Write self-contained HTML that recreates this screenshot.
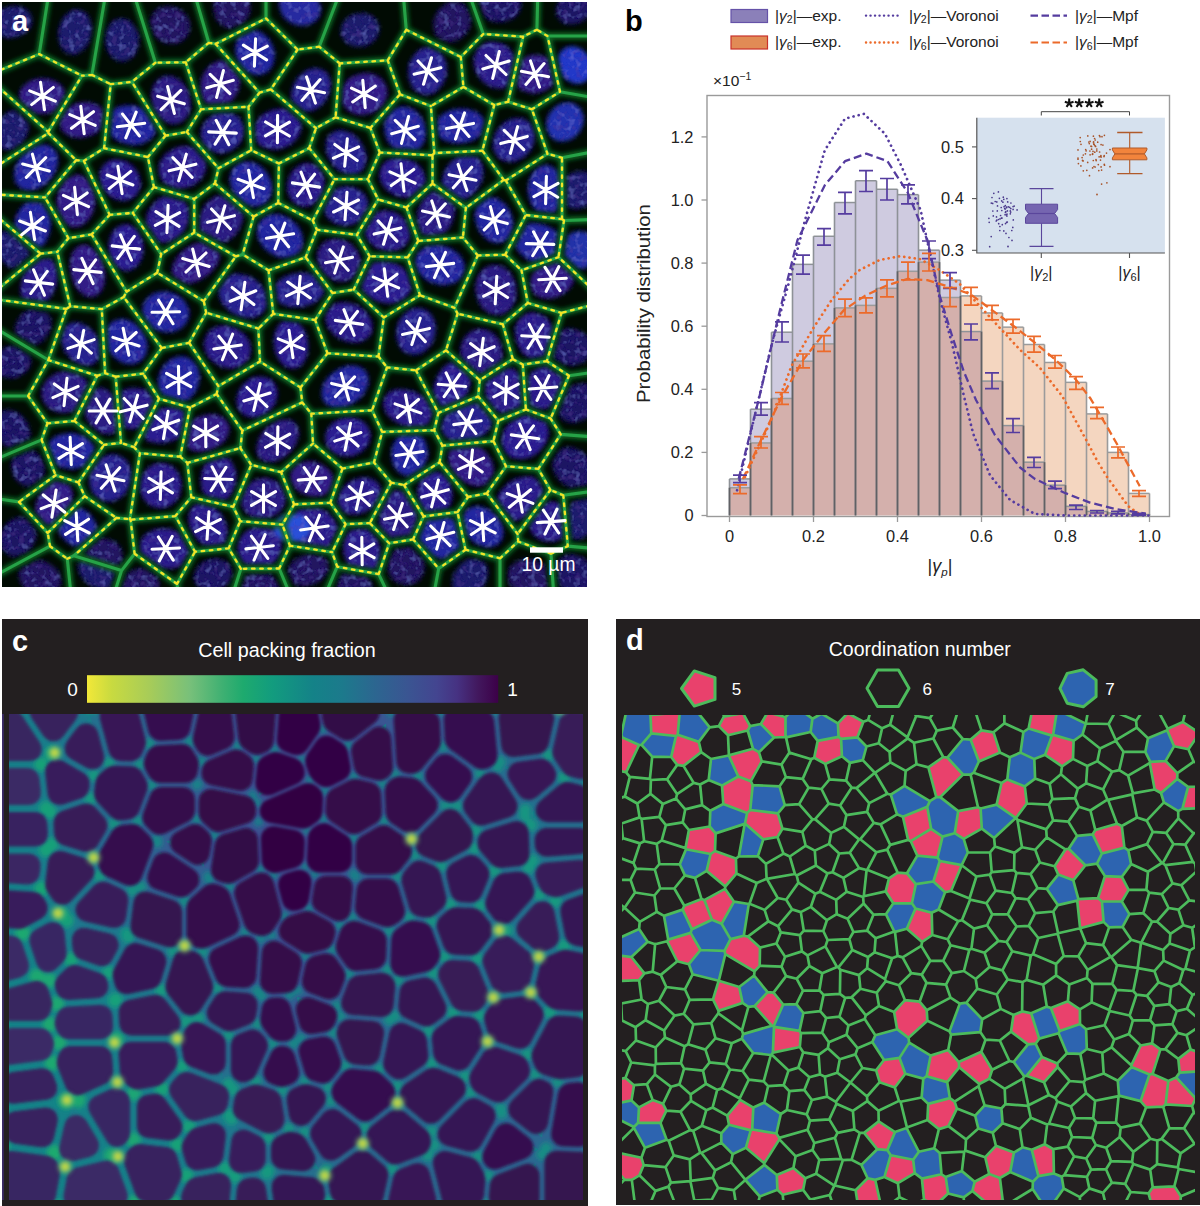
<!DOCTYPE html>
<html><head><meta charset="utf-8"><title>Figure</title>
<style>
html,body{margin:0;padding:0;background:#fff;}
body{width:1200px;height:1206px;position:relative;overflow:hidden;font-family:"Liberation Sans",sans-serif;}
svg{position:absolute;left:0;top:0;display:block;}
</style></head><body>
<svg width="1200" height="1206" viewBox="0 0 1200 1206">
<rect width="1200" height="1206" fill="#fff"/>
<clipPath id="clipA"><rect x="2" y="2" width="585" height="585"/></clipPath>
<filter id="blurN" x="0" y="0" width="100%" height="100%" filterUnits="userSpaceOnUse"><feGaussianBlur in="SourceGraphic" stdDeviation="2.2" result="b"/><feTurbulence type="fractalNoise" baseFrequency="0.16" numOctaves="2" seed="4" result="n"/><feColorMatrix in="n" type="matrix" values="0 0 0 0 0.17  0 0 0 0 0.2  0 0 0 0 0.72  1.2 0 0 0 -0.62" result="nc"/><feComposite in="nc" in2="b" operator="in" result="nb"/><feColorMatrix in="n" type="matrix" values="0 0 0 0 0.08  0 0 0 0 0.04  0 0 0 0 0.3  0 1.2 0 0 -0.6" result="nd"/><feComposite in="nd" in2="b" operator="in" result="ndb"/><feMerge><feMergeNode in="b"/><feMergeNode in="nb"/><feMergeNode in="ndb"/></feMerge></filter>
<filter id="blurG" x="-5%" y="-5%" width="110%" height="110%"><feGaussianBlur stdDeviation="2"/></filter>
<filter id="blurG2" x="-5%" y="-5%" width="110%" height="110%"><feGaussianBlur stdDeviation="0.7"/></filter>
<filter id="blurY" x="-5%" y="-5%" width="110%" height="110%"><feGaussianBlur stdDeviation="0.45"/></filter>
<g clip-path="url(#clipA)">
<rect x="2" y="2" width="585" height="585" fill="#010b03"/>
<g filter="url(#blurN)"><path d="M239.8,36.8 238.0,38.3 236.6,41.2 235.1,49.5 236.5,57.8 240.2,65.0 245.6,70.7 249.2,73.0 253.0,74.5 257.0,75.1 260.8,74.8 264.5,73.6 267.7,71.7 271.3,67.8 273.2,64.3 274.9,56.0 273.5,47.2 269.1,38.9 262.6,33.0 258.9,31.2 254.8,30.1 252.5,30.4Z" fill="#2426a0"/><path d="M205.9,103.1 209.1,104.5 228.8,103.3 230.7,102.1 233.8,98.7 237.5,92.3 239.8,83.6 239.4,77.0 226.1,61.8 224.2,60.5 222.3,60.1 218.6,60.7 212.4,63.5 206.2,69.3 202.5,75.7 200.5,82.5 200.4,91.2 202.4,98.0Z" fill="#301c86"/><path d="M19.6,99.5 21.2,102.1 32.9,112.3 40.3,113.9 47.1,113.6 53.4,111.8 56.4,110.0 65.0,95.8 65.5,93.0 64.0,89.0 61.8,85.9 55.3,81.0 46.9,78.4 37.9,78.4 29.6,81.1 23.3,86.0 21.1,89.1 19.7,92.5 19.2,96.0Z" fill="#301c86"/><path d="M157.4,114.8 160.3,118.2 165.2,121.8 169.5,123.6 174.8,124.2 178.5,123.5 182.5,121.6 186.4,117.9 188.6,114.3 190.0,110.2 190.8,105.4 190.4,98.7 189.3,94.1 187.3,89.3 183.6,83.8 180.0,80.4 176.4,78.0 170.5,76.0 167.2,75.8 163.5,76.5 157.9,79.6 153.4,85.7 151.5,92.4 151.6,101.3 153.7,108.5Z" fill="#2c1a82"/><path d="M60.3,119.6 59.6,122.4 60.6,127.3 63.1,131.4 65.9,133.9 69.4,135.9 73.7,137.3 79.7,137.9 84.5,137.5 93.0,134.8 96.8,132.5 101.0,128.7 102.0,126.2 103.3,111.3 102.6,109.5 100.6,107.3 95.2,104.0 87.5,102.1 80.5,102.5 74.0,104.3 67.5,108.0Z" fill="#301c86"/><path d="M110.1,132.2 110.5,134.6 111.5,136.2 118.0,141.0 126.9,144.2 134.7,144.9 141.8,143.9 149.4,140.2 154.1,135.3 156.1,129.7 155.3,127.3 143.7,109.0 137.2,106.3 127.3,105.1 118.4,106.7 114.4,108.6 113.0,110.0 112.2,112.2Z" fill="#2426a0"/><path d="M218.4,112.7 211.7,115.5 205.4,121.3 201.7,128.4 200.9,132.4 201.0,136.5 202.9,143.0 208.7,149.5 214.9,152.5 223.2,153.1 229.0,151.6 232.9,149.7 239.3,144.0 243.3,136.6 244.1,132.6 244.0,128.5 243.2,124.6 241.5,121.0 239.1,117.9 235.6,115.0 228.9,112.3Z" fill="#26208e"/><path d="M287.7,110.0 285.6,108.9 281.4,108.5 272.5,109.7 264.1,113.8 258.7,118.8 255.5,124.0 254.8,126.9 255.7,139.4 257.0,141.7 259.7,144.7 264.6,147.6 268.7,149.0 273.2,149.5 278.3,149.2 284.7,147.5 288.9,145.4 293.1,142.5 296.3,139.2 298.8,135.5 300.5,131.6 301.2,127.5 300.8,122.3 299.3,120.0Z" fill="#2a1e90"/><path d="M23.6,153.7 18.8,159.4 14.9,167.8 13.9,174.9 15.4,182.3 18.7,186.8 24.2,189.9 31.7,190.4 38.2,188.6 46.7,183.2 51.6,178.0 54.5,173.5 56.5,169.1 58.0,162.8 58.0,158.0 56.6,152.7 54.1,149.0 51.2,146.6 46.5,144.8 42.4,144.4 36.2,145.6Z" fill="#2426a0"/><path d="M175.7,188.4 183.6,188.5 192.5,185.7 199.7,180.4 202.5,176.9 204.6,173.1 206.2,166.9 205.7,161.4 195.2,149.0 193.2,147.6 188.7,146.5 184.2,146.3 179.5,146.8 174.6,148.3 166.7,153.3 163.5,156.6 160.4,161.9 159.0,166.6 158.8,170.8 159.4,174.8 161.0,178.6 163.4,181.9 166.6,184.7 170.1,186.7Z" fill="#2a1c8a"/><path d="M136.4,194.9 138.5,191.8 139.9,188.2 140.5,184.3 140.3,180.2 137.7,172.3 132.4,165.6 125.2,161.0 117.2,159.3 113.3,159.6 109.7,160.7 104.5,164.1 102.2,167.1 100.5,170.5 99.6,174.2 99.5,178.2 100.6,183.8 102.3,187.7 107.6,194.4 114.8,199.0 122.8,200.7 126.7,200.4 130.3,199.3 133.6,197.4Z" fill="#2a1e90"/><path d="M245.0,203.8 249.5,205.8 254.1,206.6 258.2,206.4 263.2,204.8 266.4,202.6 269.3,199.1 271.5,194.1 272.2,189.9 272.0,185.5 270.9,180.7 268.2,174.7 265.5,170.9 261.9,167.3 258.2,164.6 254.1,162.7 248.4,161.4 241.8,162.0 235.6,165.4 231.7,170.6 229.8,178.1 230.4,185.1 233.8,193.3 235.4,195.6Z" fill="#2426a0"/><path d="M64.8,222.7 67.4,225.1 71.6,226.7 76.7,226.9 80.6,225.9 84.2,223.8 87.9,220.6 91.6,215.2 93.5,210.6 95.2,202.9 94.9,194.2 88.0,179.8 85.8,177.7 82.2,175.8 79.1,175.0 75.3,175.1 69.1,177.3 66.4,179.3 61.4,185.3 58.5,191.4 56.6,201.3 57.2,209.1Z" fill="#301c86"/><path d="M157.1,240.3 159.0,242.0 162.0,242.7 166.3,242.6 170.5,241.6 178.6,237.1 184.7,230.3 188.6,221.6 189.4,213.1 187.7,206.1 184.4,201.3 167.8,196.2 165.5,196.1 160.7,198.0 156.8,200.6 150.3,207.7 146.9,214.6 145.7,222.9Z" fill="#2a1c8a"/><path d="M199.1,227.3 199.9,230.0 201.6,231.6 220.5,242.4 224.1,242.6 230.8,238.9 234.5,235.6 237.7,231.7 242.1,223.0 243.2,217.7 243.2,214.1 241.7,211.7 223.1,195.8 220.7,194.9 218.7,195.2 213.6,197.5 209.6,200.4 206.1,203.9 203.1,208.1 200.8,212.6 199.2,217.8Z" fill="#2c1a82"/><path d="M14.2,225.1 14.4,227.0 15.6,229.0 35.7,246.3 37.9,247.4 40.4,247.3 42.5,246.0 45.7,242.1 49.6,233.4 50.9,223.7 50.1,216.1 44.5,205.7 42.3,203.4 39.8,202.5 28.1,202.1 23.3,205.2 19.1,210.3 16.0,216.6Z" fill="#2426a0"/><path d="M293.7,255.9 297.0,253.9 300.5,249.9 302.2,246.3 303.0,242.3 302.9,238.0 301.9,233.7 300.1,229.5 297.2,225.3 290.1,218.8 285.9,216.5 279.6,214.6 274.7,214.1 270.4,214.6 266.4,216.0 263.0,218.1 260.2,221.0 258.3,224.4 257.2,228.2 256.9,231.8 258.2,238.7 262.8,246.7 269.6,252.9 278.2,256.9 282.6,257.8 287.0,257.8Z" fill="#2426a0"/><path d="M114.7,264.7 117.5,267.5 121.8,269.9 125.9,270.8 129.4,270.5 133.7,268.7 136.7,266.4 139.2,263.3 141.4,259.3 143.1,253.4 143.5,248.6 143.2,244.1 141.7,237.9 137.4,230.3 134.5,227.5 130.2,225.1 125.0,224.2 119.3,225.7 114.0,230.0 110.6,235.7 108.6,243.8 108.8,250.9 110.5,257.7Z" fill="#2a1e90"/><path d="M172.3,274.0 174.1,276.8 185.4,283.5 192.3,283.0 199.3,280.6 208.1,275.1 215.1,267.7 219.2,259.7 220.0,255.6 219.5,253.3 217.5,251.1 201.9,242.3 199.0,242.2 192.7,244.4 183.6,250.1 176.7,257.6 172.7,265.8 171.9,269.9Z" fill="#301c86"/><path d="M94.8,296.4 99.8,293.0 102.0,289.9 103.7,286.1 105.2,277.0 104.1,267.0 100.6,257.5 95.0,250.0 91.7,247.4 88.2,245.6 84.6,244.9 81.5,245.2 78.6,246.3 75.7,248.6 73.3,251.7 71.5,255.5 69.8,264.7 70.9,275.0 74.4,284.5 77.0,288.6 81.2,293.1 84.5,295.4 87.9,296.7 91.8,297.0Z" fill="#301c86"/><path d="M21.0,295.2 22.2,297.8 25.2,299.3 44.3,301.9 46.6,301.4 48.8,299.5 54.2,290.8 56.5,283.8 57.4,278.6 57.4,271.9 56.3,267.0 54.0,262.4 51.6,259.8 48.2,258.2 39.9,259.3 25.4,271.2 22.9,276.6 21.0,283.6 20.4,288.8Z" fill="#2a1c8a"/><path d="M431.0,47.8 427.8,47.3 423.9,48.0 420.2,49.6 416.8,52.1 411.4,59.0 409.6,63.2 408.4,68.1 408.4,77.3 411.4,85.6 413.8,89.0 416.8,91.7 420.3,93.6 424.0,94.6 427.8,94.7 431.6,93.8 435.3,92.1 438.6,89.6 443.8,82.6 446.6,73.9 446.6,64.7 443.6,56.4 440.8,52.7Z" fill="#26208e"/><path d="M505.4,87.4 507.7,85.9 508.7,83.8 514.7,58.0 514.3,54.7 508.5,47.7 504.7,44.9 500.5,43.0 492.3,41.5 488.1,42.1 484.2,43.5 478.9,47.7 476.4,51.1 474.8,55.0 473.9,59.3 473.9,63.9 474.8,68.4 476.4,72.9 481.5,80.4 485.0,83.5 489.0,86.0 493.2,87.6 497.5,88.4 501.8,88.3Z" fill="#2a1c8a"/><path d="M516.1,82.1 516.3,85.0 518.5,87.7 523.5,91.0 529.2,92.8 533.9,93.2 540.0,92.5 544.5,91.0 548.3,88.9 553.0,84.7 554.0,81.5 548.6,58.7 547.3,57.4 544.5,56.2 536.5,54.8 529.6,55.6 522.8,58.5 520.9,61.4Z" fill="#301c86"/><path d="M291.6,99.7 293.2,102.5 304.4,111.6 310.7,111.3 318.2,107.9 323.0,103.8 325.8,100.3 329.9,91.8 330.7,87.5 330.7,81.8 329.6,77.5 327.8,74.2 322.9,69.8 317.1,68.2 309.8,69.1 303.8,72.1 297.5,77.9 293.7,84.0 291.3,92.0Z" fill="#26208e"/><path d="M341.7,100.3 342.3,103.2 344.8,107.2 349.0,111.1 352.7,113.2 356.9,114.6 361.4,115.1 370.4,113.8 378.5,109.5 381.7,106.5 384.3,102.9 386.2,99.0 387.1,94.9 387.2,90.8 386.4,86.8 384.7,83.0 382.2,79.7 379.0,76.9 375.3,74.8 371.1,73.4 366.6,72.9 357.6,74.2 349.5,78.5 346.3,81.5 343.7,85.1 342.7,87.3Z" fill="#301c86"/><path d="M386.7,117.0 385.4,119.6 384.4,123.8 384.6,132.9 387.7,141.2 393.0,147.8 396.2,149.1 416.0,150.1 418.4,149.4 420.3,147.7 423.6,142.9 425.1,138.8 425.8,134.4 425.8,129.8 425.0,125.3 423.2,120.5 420.8,116.5 416.5,111.8 412.5,109.0 408.5,107.4 404.4,106.6 400.3,106.7 394.0,108.9Z" fill="#2426a0"/><path d="M438.4,117.8 437.1,121.0 438.0,134.0 438.7,136.2 441.3,138.7 445.1,140.8 454.3,143.3 461.3,143.4 466.5,142.6 472.9,140.4 477.2,138.0 481.3,134.2 484.5,121.8 484.2,119.8 482.9,117.5 478.7,113.3 472.9,110.4 465.7,108.7 458.4,108.7 451.2,110.1 444.7,112.8Z" fill="#2426a0"/><path d="M532.9,127.1 530.3,123.3 527.3,120.8 523.8,119.1 519.9,118.2 515.8,118.2 511.7,119.0 507.6,120.6 503.5,123.2 497.3,129.8 495.1,133.7 493.3,139.6 492.9,144.4 493.4,148.5 494.7,152.3 496.8,155.7 499.6,158.4 502.9,160.4 510.1,161.9 516.8,160.9 524.5,156.8 530.5,150.6 534.2,142.5 535.0,134.0Z" fill="#26208e"/><path d="M354.5,174.4 358.2,173.3 361.2,171.3 363.6,168.5 365.4,164.5 366.3,159.1 366.0,154.8 363.2,146.2 357.6,138.3 350.3,132.8 342.4,130.3 338.5,130.3 333.8,131.7 329.1,135.5 327.2,138.7 326.1,142.3 326.0,150.6 328.8,158.8 334.2,166.4 339.7,171.1 347.2,174.3Z" fill="#26208e"/><path d="M323.2,192.4 324.8,185.2 324.0,176.8 320.8,170.1 318.2,167.3 315.2,165.1 309.4,163.3 305.7,163.3 302.0,164.1 295.3,168.1 290.2,174.6 287.4,182.7 287.1,186.9 287.9,192.7 291.2,199.9 293.8,202.7 296.8,204.9 300.2,206.3 303.9,206.8 307.6,206.5 311.8,205.2 318.2,200.5Z" fill="#2a1c8a"/><path d="M409.4,197.4 412.2,196.2 425.2,183.7 425.7,181.3 425.4,177.4 422.5,170.1 419.8,166.6 416.2,163.2 410.5,159.9 406.2,158.3 395.2,157.6 391.0,158.7 387.3,160.4 382.5,164.7 379.6,171.2 379.6,177.6 382.5,184.9 387.1,190.3 394.5,195.1 401.4,197.3Z" fill="#2a1e90"/><path d="M441.7,182.5 442.1,184.9 443.3,186.5 460.6,199.0 463.3,199.7 466.6,198.6 472.0,195.0 475.7,191.3 478.5,187.4 481.6,181.2 482.9,176.3 483.3,171.7 483.0,167.4 481.2,162.1 478.6,158.4 474.9,156.0 459.2,156.5 457.0,157.1 451.2,161.6 446.5,167.6 443.3,174.1Z" fill="#26208e"/><path d="M535.5,210.1 538.0,211.4 552.5,212.9 555.6,211.5 559.2,207.1 559.4,174.2 558.5,172.2 555.7,169.1 550.3,165.8 547.3,165.1 543.7,165.1 537.9,167.3 532.6,172.7 529.5,179.0 527.9,188.0 528.4,195.6 531.2,204.1Z" fill="#2426a0"/><path d="M324.6,206.7 324.0,209.5 324.8,212.6 327.4,217.3 330.2,220.3 337.4,224.4 341.6,225.4 346.3,225.7 352.7,224.6 359.9,221.0 367.7,208.4 368.3,205.1 367.7,201.2 366.4,197.6 364.3,194.3 361.4,191.4 354.2,187.4 345.7,186.3 339.3,187.4 333.5,190.2Z" fill="#26208e"/><path d="M422.6,234.3 426.0,235.8 443.6,234.0 449.1,228.2 453.3,219.5 455.0,210.4 454.8,206.4 454.1,204.6 435.8,191.2 433.8,190.9 431.9,191.5 426.1,195.9 421.8,201.5 418.7,208.5 417.2,215.6 417.3,222.6 419.0,228.9Z" fill="#2c1a82"/><path d="M490.5,197.0 487.4,198.0 476.7,206.3 474.8,213.8 475.7,222.8 479.5,231.5 485.4,238.3 489.0,240.6 492.7,242.2 496.6,243.0 501.5,242.5 504.9,241.1 508.0,238.8 512.4,230.5 513.2,224.0 512.3,217.2 508.7,208.8 504.2,203.2 497.6,198.7Z" fill="#2426a0"/><path d="M365.5,229.0 364.7,231.5 365.5,235.1 367.2,239.0 370.0,242.9 377.0,248.3 385.6,251.2 394.5,251.0 398.6,249.7 402.4,247.8 407.7,242.4 409.5,238.8 410.4,234.9 410.2,232.1 405.3,219.5 398.4,213.9 393.8,211.9 389.4,210.8 382.7,210.7 375.8,212.7Z" fill="#2a1c8a"/><path d="M525.7,225.6 515.8,245.2 516.2,247.6 521.4,254.8 529.6,260.9 532.6,262.2 535.0,262.2 552.5,256.0 554.8,254.3 555.8,252.0 558.1,233.9 557.0,231.8 554.5,229.7 545.3,224.9 535.7,223.0 528.5,223.6Z" fill="#2426a0"/><path d="M354.7,276.5 360.8,262.9 360.3,258.3 357.0,250.2 351.2,243.9 343.4,239.6 339.2,238.6 335.0,238.4 328.4,239.9 322.3,244.1 319.9,247.2 318.2,250.9 317.3,254.9 317.3,259.1 318.1,263.4 319.9,267.9 325.4,274.9 329.0,277.7 334.6,280.4 339.2,281.4 343.5,281.5 347.6,280.8 352.6,278.5Z" fill="#2c1a82"/><path d="M461.2,278.1 464.7,270.6 464.8,266.5 464.0,262.5 461.3,257.3 458.4,253.8 450.6,248.2 440.9,245.2 431.3,245.2 426.9,246.4 423.0,248.4 419.7,250.9 416.6,255.3 415.4,259.0 415.1,263.0 417.8,271.4 423.3,277.8 429.4,281.8 438.7,284.8 446.3,285.1 454.6,282.9 458.3,280.8Z" fill="#2426a0"/><path d="M538.1,267.7 535.9,269.2 532.4,274.3 530.5,279.6 530.1,284.0 531.1,288.9 533.3,292.6 537.0,295.9 540.5,297.6 544.4,298.6 549.1,298.7 555.2,297.7 559.5,296.0 563.8,293.6 568.6,289.4 571.5,285.6 573.5,281.8 574.2,278.7 573.3,276.0 557.9,261.9 555.0,261.7Z" fill="#301c86"/><path d="M361.9,283.4 361.5,286.2 362.3,288.7 364.7,292.5 367.9,295.9 371.8,298.8 376.2,301.1 386.0,303.6 391.0,303.6 395.8,302.9 399.5,301.6 405.2,298.1 409.6,293.1 411.5,287.4 407.3,273.1 405.8,270.8 400.5,266.4 396.1,264.0 391.0,262.3 386.0,261.4 378.6,261.7 373.9,262.8 371.6,264.1Z" fill="#2a1e90"/><path d="M501.6,314.6 505.4,313.1 508.8,310.6 511.8,307.4 514.1,303.5 515.7,299.1 516.5,294.4 515.9,284.6 512.2,275.7 509.5,272.0 506.2,268.9 502.5,266.7 498.5,265.3 491.8,265.1 487.9,266.3 484.4,268.4 481.3,271.3 478.7,274.9 476.3,280.9 475.5,285.6 476.1,295.4 479.8,304.3 482.5,308.0 485.8,311.1 489.5,313.3 493.5,314.7 497.5,315.1Z" fill="#2c1a82"/><path d="M276.8,282.9 275.5,286.2 277.4,300.6 278.8,302.3 282.4,304.5 289.2,306.7 296.1,307.3 301.1,307.0 311.0,304.4 315.2,302.2 320.0,298.4 322.8,294.9 324.1,291.9 323.4,288.5 313.9,275.7 311.9,274.2 308.8,273.3 299.4,272.8 291.7,274.0 283.1,277.6Z" fill="#26208e"/><path d="M219.5,288.5 218.5,291.3 219.1,295.7 220.5,300.1 222.9,304.3 229.7,311.5 238.5,316.4 247.9,318.2 255.1,317.2 258.6,315.8 262.0,313.5 264.6,310.5 266.5,306.8 267.0,304.4 265.8,293.3 264.2,289.4 260.0,283.9 256.3,280.5 247.5,275.6 238.1,273.8 233.5,274.1 229.8,275.2 227.8,276.8Z" fill="#26208e"/><path d="M151.6,327.0 153.9,328.8 158.4,330.9 167.0,332.6 175.8,331.2 181.9,328.0 187.0,322.3 189.1,316.0 189.2,312.0 188.4,308.0 184.6,301.0 181.4,297.8 177.4,295.0 171.4,292.5 166.9,291.6 161.9,291.5 157.4,292.3 153.3,293.8 149.7,296.0 146.6,298.9 144.3,302.2 142.6,307.4 142.4,311.4 143.4,316.0Z" fill="#2426a0"/><path d="M61.3,337.2 61.5,342.7 64.7,351.0 70.0,358.0 75.6,362.3 82.9,365.2 89.2,365.4 94.2,363.6 98.7,359.1 100.2,355.3 99.3,341.2 97.3,337.0 93.6,331.7 86.4,325.7 82.5,323.8 77.1,322.5 72.8,322.6 69.3,323.6 65.1,326.8Z" fill="#26208e"/><path d="M107.7,326.2 106.8,329.3 107.8,348.7 109.3,351.9 113.6,357.0 121.1,362.2 125.3,363.7 129.4,364.3 133.5,364.1 137.3,363.0 142.6,359.4 144.9,356.3 146.5,352.7 147.3,348.6 147.4,344.3 146.0,338.1 144.1,333.9 138.4,326.4 134.5,323.2 130.5,321.0 126.3,319.6 122.1,319.1 118.0,319.4 114.2,320.6 110.9,322.7Z" fill="#2426a0"/><path d="M249.5,356.7 250.6,352.8 250.8,348.6 250.1,344.3 248.6,340.2 246.2,336.4 243.1,332.9 235.3,327.8 226.4,325.6 221.9,325.7 217.6,326.6 213.7,328.3 210.3,330.7 207.5,333.7 205.5,337.3 204.4,341.2 204.2,345.4 204.9,349.7 206.4,353.8 208.8,357.6 211.9,361.1 219.7,366.2 228.6,368.4 233.1,368.3 237.4,367.4 241.3,365.7 244.7,363.3 247.5,360.3Z" fill="#2a1c8a"/><path d="M158.2,387.5 162.0,394.3 164.0,395.8 183.3,401.3 186.7,400.7 190.9,397.5 194.0,394.0 196.5,390.0 198.4,385.2 199.4,380.6 199.5,374.1 198.5,369.3 196.7,365.3 191.6,359.5 185.7,356.7 181.7,356.2 178.1,356.4 171.6,358.8 164.9,364.2 160.8,370.4 158.1,379.0Z" fill="#2426a0"/><path d="M73.8,411.1 76.3,409.1 87.5,387.0 88.1,384.6 87.4,382.3 85.2,378.9 81.6,375.6 68.1,371.1 61.0,371.7 54.0,374.3 47.1,379.6 44.5,383.1 42.6,387.0 41.7,391.0 41.6,395.2 43.5,401.6 45.8,405.1 48.8,408.0 56.2,411.8 60.7,412.8 65.3,412.9Z" fill="#2c1a82"/><path d="M242.3,413.6 245.5,415.6 249.1,417.0 252.9,417.5 257.0,417.3 264.9,414.5 271.5,409.0 276.0,401.8 277.6,393.9 277.2,390.0 276.1,386.4 272.6,381.3 269.7,379.0 266.3,377.4 258.6,376.6 253.0,377.8 249.1,379.5 242.5,385.0 238.0,392.2 236.4,400.1 236.8,404.0 237.9,407.6 239.8,410.9Z" fill="#2a1e90"/><path d="M84.6,408.9 84.2,412.4 87.2,419.8 91.2,425.7 96.3,430.3 101.6,433.1 107.4,434.3 112.8,433.5 116.5,431.0 117.4,427.8 115.0,397.7 113.7,395.2 109.7,391.7 105.9,389.5 102.0,388.2 98.3,387.7 95.5,388.6 93.9,390.5Z" fill="#2c1a82"/><path d="M122.8,390.3 120.5,392.1 119.6,394.9 122.2,425.3 124.1,427.6 127.7,428.6 133.2,429.0 139.2,428.2 141.7,425.9 153.3,403.4 153.8,401.1 153.5,399.2 148.6,391.5 144.1,389.3 134.2,388.0 129.1,388.5Z" fill="#2a1c8a"/><path d="M144.7,433.2 144.2,436.6 145.7,439.2 149.8,441.4 154.4,442.7 161.0,443.1 166.2,442.6 171.1,441.3 177.7,438.6 179.8,437.1 181.0,435.1 185.0,415.2 184.5,411.9 181.9,409.6 172.2,406.9 165.4,407.4 157.7,409.7 155.6,411.8Z" fill="#2a1e90"/><path d="M186.4,443.5 186.7,446.3 188.1,448.3 191.9,450.3 196.0,451.4 205.0,451.5 214.4,448.6 222.2,443.5 227.5,436.7 229.5,429.8 229.2,426.3 228.0,422.9 225.9,419.9 223.0,417.5 219.5,415.7 215.4,414.6 206.4,414.5 197.0,417.4 192.5,420.0 190.8,422.2Z" fill="#301c86"/><path d="M261.3,459.4 264.4,461.2 268.0,462.0 271.9,462.1 276.0,461.2 284.2,457.3 291.3,450.9 296.4,443.1 298.7,434.9 298.7,431.0 297.9,427.5 294.7,422.6 291.8,420.7 288.5,419.6 280.8,419.8 275.0,421.8 271.0,424.1 263.9,430.5 258.8,438.3 256.5,446.5 256.5,450.4 257.3,453.9 258.9,457.0Z" fill="#2c1a82"/><path d="M49.2,441.8 48.3,444.1 48.4,446.1 55.7,464.1 58.5,466.2 65.1,468.3 74.5,468.9 79.1,468.1 83.5,466.6 85.0,465.2 94.7,450.2 94.7,448.3 93.5,445.2 88.9,439.5 83.3,435.9 76.3,433.7 69.3,433.0 60.5,434.4 54.1,437.3Z" fill="#2426a0"/><path d="M91.0,471.5 89.8,475.1 89.3,480.2 89.7,484.8 91.6,490.6 93.8,494.3 96.7,497.3 100.1,499.6 103.9,501.1 108.0,501.7 112.2,501.3 116.3,500.1 120.2,498.0 123.6,495.1 126.6,491.6 130.6,483.1 131.6,474.0 130.9,469.5 129.4,465.4 127.2,461.7 124.3,458.7 120.9,456.4 117.1,454.9 113.0,454.3 108.8,454.7 104.7,455.9 100.8,458.0 99.0,459.7Z" fill="#26208e"/><path d="M139.9,484.0 140.0,489.3 141.0,493.6 142.7,497.5 145.1,501.0 148.1,503.9 151.7,506.2 155.5,507.6 159.6,508.2 163.7,507.9 167.7,506.7 171.4,504.8 174.7,502.0 177.5,498.7 179.6,494.9 181.6,486.3 181.4,481.9 180.4,477.6 178.7,473.7 176.3,470.2 173.3,467.3 169.7,465.0 165.9,463.6 161.8,463.0 157.7,463.3 153.7,464.5 150.0,466.4 146.7,469.2 143.9,472.5 141.8,476.3Z" fill="#2a1c8a"/><path d="M204.0,494.0 206.8,496.4 223.8,500.2 227.0,499.1 231.7,493.8 235.4,485.3 236.3,478.8 236.2,473.9 235.3,469.5 233.0,464.0 230.7,460.7 227.6,457.9 224.0,457.1 208.6,461.4 206.9,462.3 205.3,464.2 202.2,470.5 200.7,479.2 201.2,486.3Z" fill="#2a1c8a"/><path d="M263.9,518.7 268.2,518.1 272.4,516.7 279.7,511.9 282.5,508.6 284.5,505.0 286.1,498.7 285.8,496.6 280.4,484.1 273.9,479.9 267.2,478.3 261.0,478.5 256.7,479.5 252.2,481.5 248.6,484.0 247.0,486.1 240.9,500.5 241.4,504.3 242.9,508.0 245.1,511.4 248.0,514.2 251.6,516.4 255.5,517.9Z" fill="#2c1a82"/><path d="M35.3,510.9 36.3,514.1 45.9,524.4 48.6,525.6 51.9,524.9 71.3,505.3 72.7,495.8 72.3,491.3 70.7,486.4 68.6,484.6 57.0,480.9 54.7,481.0 53.0,481.8 42.8,489.3 40.7,492.3 36.7,501.5Z" fill="#301c86"/><path d="M59.5,524.8 58.2,526.9 58.1,529.2 59.7,533.3 62.2,537.3 68.5,543.2 72.2,545.3 76.5,546.7 78.8,546.5 80.4,545.5 95.5,532.0 96.8,529.1 95.2,522.2 91.8,516.3 85.8,510.6 79.5,507.6 75.8,508.7Z" fill="#2426a0"/><path d="M199.6,503.5 196.7,503.8 193.4,505.9 190.5,509.5 189.0,513.6 188.5,519.2 189.1,524.0 191.1,530.2 193.3,534.4 199.2,541.7 205.5,545.9 221.2,544.7 223.4,543.9 225.0,542.2 226.5,539.2 227.5,531.8 226.4,524.8 222.7,516.6 218.4,510.9 213.8,507.0Z" fill="#2a1c8a"/><path d="M140.2,551.0 142.0,554.2 160.8,567.6 162.7,568.4 167.8,568.8 175.2,568.0 181.0,565.8 188.4,553.5 189.0,551.1 188.4,548.7 178.9,532.1 171.4,529.2 163.8,528.4 158.4,528.8 153.7,530.0 149.4,531.9 144.5,535.6 141.7,539.4 140.1,543.2 139.7,546.2Z" fill="#2a1c8a"/><path d="M241.6,560.3 244.8,563.8 247.8,565.0 269.5,564.9 272.2,564.0 277.3,559.0 279.5,555.3 281.0,551.4 281.6,547.2 281.4,543.1 280.4,539.1 278.5,535.4 274.4,530.8 269.1,527.9 255.1,526.9 248.3,529.7 244.8,532.4 241.9,535.6 239.7,539.3 237.9,544.8 237.5,549.0 238.1,553.0 239.0,555.9Z" fill="#2a1c8a"/><path d="M327.0,311.9 325.9,314.6 325.6,318.4 326.1,322.4 327.5,326.3 332.6,333.6 340.2,339.2 349.1,342.3 358.1,342.4 362.1,341.3 365.7,339.4 368.6,336.9 370.8,333.7 372.1,330.2 372.4,326.4 371.9,322.4 370.5,318.5 365.4,311.2 357.8,305.6 348.9,302.5 339.9,302.4 335.9,303.5 332.3,305.4 329.8,307.5Z" fill="#2a1c8a"/><path d="M411.2,354.6 415.1,354.8 419.1,354.1 422.9,352.5 426.4,350.1 432.1,343.2 435.4,334.6 435.7,325.5 433.1,317.4 430.8,314.0 427.9,311.2 422.1,308.5 418.2,307.9 414.3,308.3 410.5,309.6 406.9,311.7 402.5,315.9 399.9,319.6 396.6,328.2 396.3,337.3 398.9,345.4 401.2,348.8 404.1,351.6 407.5,353.5Z" fill="#26208e"/><path d="M477.2,372.7 479.4,373.9 482.3,373.6 499.5,362.9 501.4,360.5 502.4,356.1 501.9,347.1 500.4,342.8 497.2,337.4 494.2,334.2 490.7,331.6 486.8,329.9 482.8,328.9 476.1,329.3 472.2,330.7 468.7,333.0 465.7,335.9 463.3,339.5 461.6,343.5 460.6,347.9 460.6,354.2 461.9,358.9Z" fill="#2c1a82"/><path d="M542.0,357.1 544.5,355.9 545.9,354.0 553.1,330.3 553.1,327.4 549.0,320.8 545.7,317.6 542.0,315.0 534.5,312.5 530.5,312.4 526.7,313.4 521.2,316.8 518.6,319.9 516.6,323.7 515.4,327.9 514.9,332.4 516.3,341.7 520.6,350.3 523.6,353.9 528.6,357.8 531.5,358.6Z" fill="#2a1c8a"/><path d="M285.9,320.7 283.2,321.1 280.4,323.2 277.9,326.2 275.9,330.0 273.8,338.8 274.3,348.3 277.3,357.2 282.2,364.1 285.3,366.5 288.5,368.1 294.4,368.6 297.7,367.6 300.7,365.7 303.3,363.0 305.4,359.6 307.5,353.8 308.2,349.2 307.7,339.7 304.6,330.5 299.4,323.6 297.2,322.4Z" fill="#2a1e90"/><path d="M342.9,407.4 349.5,405.4 357.7,400.3 363.1,394.7 366.7,388.7 368.5,382.4 368.6,378.9 367.9,375.2 365.1,370.4 359.9,366.8 354.5,365.5 349.6,365.5 343.1,367.0 338.6,369.0 334.0,371.8 328.7,376.5 325.5,380.6 323.3,384.7 321.9,389.0 321.4,394.5 322.4,398.9 324.9,403.0 328.4,405.8 333.4,407.6Z" fill="#2426a0"/><path d="M454.9,363.4 452.7,362.3 450.3,362.3 444.3,366.6 438.3,374.3 434.5,383.3 433.4,388.6 433.3,393.4 439.0,404.5 441.7,406.5 445.1,406.4 464.0,398.5 466.7,394.6 469.5,387.5 470.8,379.8 470.1,377.1Z" fill="#2a1e90"/><path d="M488.0,379.7 486.1,381.8 485.1,386.5 485.8,395.6 487.8,400.8 495.7,410.1 500.0,412.5 504.3,413.3 519.2,407.3 521.1,405.9 522.3,402.3 520.5,376.4 519.8,374.1 517.6,371.8 512.0,368.5 509.1,367.7 507.1,367.8Z" fill="#2a1c8a"/><path d="M527.9,376.2 526.9,379.6 528.5,402.2 529.4,404.8 531.7,406.5 541.1,409.8 546.5,408.6 552.1,405.6 553.5,403.7 562.9,381.7 563.0,379.2 561.8,376.5 547.8,367.1 544.9,366.2 541.1,366.9 535.6,369.3 531.7,372.1Z" fill="#2a1c8a"/><path d="M422.2,426.6 425.8,425.3 429.8,422.0 432.4,413.1 431.9,410.1 426.8,400.5 425.3,398.7 419.7,394.5 415.3,392.2 410.2,390.4 403.4,389.2 398.3,389.2 394.0,390.1 390.2,391.7 386.3,394.8 383.7,399.5 383.3,405.7 386.1,412.8 390.7,418.3 398.5,423.8 405.8,426.6 408.2,427.1Z" fill="#2a1c8a"/><path d="M450.0,411.8 446.8,414.5 443.3,419.5 441.7,423.9 441.5,427.8 442.7,432.5 444.7,435.7 447.7,438.3 451.9,440.5 454.6,441.0 476.5,438.9 482.2,435.9 486.1,432.9 489.5,429.1 491.5,425.7 492.2,421.9 491.4,419.3 479.6,405.2 477.6,403.7 470.2,403.5Z" fill="#26208e"/><path d="M326.0,442.7 327.5,446.3 329.9,449.6 332.9,452.3 336.5,454.4 344.8,456.6 353.5,455.7 361.3,452.0 367.2,446.0 369.0,442.5 370.1,438.6 370.3,434.7 369.6,430.9 368.1,427.3 365.7,424.0 362.7,421.3 359.1,419.2 350.8,417.0 342.1,417.9 334.3,421.6 328.4,427.6 326.6,431.1 325.5,435.0 325.3,438.9Z" fill="#2a1e90"/><path d="M501.6,444.2 505.9,453.3 511.5,457.4 517.2,459.0 521.7,459.2 526.4,458.5 531.0,456.9 535.3,454.7 539.5,451.4 545.5,443.9 547.4,439.6 548.5,435.1 548.6,430.8 547.3,425.2 545.9,422.6 544.1,421.2 526.7,414.8 523.9,415.1 515.6,418.5 509.0,423.6 504.5,429.7 501.9,436.2Z" fill="#2a1e90"/><path d="M401.3,435.2 398.9,435.9 397.0,437.8 392.8,445.1 391.3,451.9 391.8,460.1 394.1,466.4 398.7,472.2 404.0,475.2 409.9,475.9 422.1,468.5 424.4,465.8 427.4,457.3 427.8,452.9 427.2,446.9 424.1,439.2 420.4,435.2 418.0,434.6Z" fill="#2426a0"/><path d="M453.5,448.2 450.7,449.3 449.3,451.3 448.3,455.6 448.4,459.7 451.0,468.2 456.6,476.1 464.0,482.0 472.7,485.5 477.1,486.0 481.2,485.7 487.0,483.2 493.1,474.7 493.8,470.0 492.9,464.1 491.2,459.7 485.4,451.5 480.3,447.1 477.9,446.1Z" fill="#301c86"/><path d="M333.2,481.0 333.5,478.6 332.4,475.1 327.9,468.8 321.1,464.0 313.0,461.4 305.0,461.4 297.7,463.9 292.5,468.8 290.4,474.2 290.4,478.8 291.4,482.4 295.7,488.9 302.5,493.8 311.0,496.6 319.4,496.5 323.3,495.5 327.8,493.0 329.6,491.0Z" fill="#301c86"/><path d="M338.4,505.0 342.4,510.7 345.4,512.7 348.9,514.0 357.0,514.4 365.7,511.9 371.1,508.7 374.5,505.8 380.5,494.8 381.1,490.3 379.7,485.4 376.0,480.9 369.4,477.9 361.4,477.6 353.1,480.1 345.9,484.6 340.5,491.0 337.9,498.1 337.7,501.7Z" fill="#2a1c8a"/><path d="M423.9,509.7 425.6,511.3 428.3,512.0 445.5,509.8 448.1,508.4 450.3,504.6 452.0,499.0 452.5,494.7 451.3,485.9 447.6,478.5 443.9,474.7 440.3,472.5 435.8,471.4 432.6,471.9 422.1,478.6 419.7,482.2 417.7,489.9 417.8,496.7 419.1,501.9Z" fill="#2a1e90"/><path d="M497.4,496.7 497.1,499.2 497.8,501.1 511.1,518.6 513.4,520.3 515.8,520.5 522.2,519.0 526.4,516.7 543.0,494.6 543.9,490.9 536.8,478.7 531.2,476.6 524.5,476.5 515.4,479.0 508.4,483.0 501.4,489.9Z" fill="#2a1c8a"/><path d="M379.4,513.1 378.7,519.8 379.8,526.7 388.9,536.6 391.4,538.0 409.7,535.0 411.6,532.9 416.8,521.2 417.3,515.5 416.8,512.6 404.2,492.5 401.2,490.7 396.0,490.0 390.5,492.5Z" fill="#2c1a82"/><path d="M530.0,522.9 529.1,526.6 532.1,533.2 536.4,537.5 542.0,540.4 548.3,541.6 554.9,541.2 561.5,538.9 564.1,536.2 564.5,533.8 562.0,506.2 560.9,504.0 558.9,502.5 551.5,501.5 546.9,502.1 545.2,502.9Z" fill="#2a1c8a"/><path d="M301.6,508.5 299.4,509.1 296.6,511.1 291.2,520.7 290.8,524.8 291.4,529.0 292.8,533.2 295.0,537.2 299.4,542.2 302.1,543.9 325.6,547.5 328.8,546.5 330.4,544.6 337.6,529.2 336.8,524.9 333.8,518.8 327.5,512.2 319.4,507.8Z" fill="#2a1c8a"/><path d="M463.0,516.1 462.8,518.8 466.1,534.0 470.1,539.2 475.4,543.4 483.2,546.8 489.6,547.4 496.1,545.5 499.0,543.4 501.2,540.7 502.7,537.3 503.4,533.6 503.3,529.6 502.2,525.2 499.6,519.7 497.0,516.1 490.2,510.2 482.0,506.7 478.0,506.2 474.1,506.5 470.5,507.6 467.5,509.4 465.0,512.0Z" fill="#2426a0"/><path d="M419.3,535.9 418.9,538.2 419.8,540.9 432.3,555.2 435.5,557.1 440.0,558.5 442.8,558.9 445.1,558.3 458.8,548.7 460.3,546.2 460.4,543.8 455.9,522.8 453.6,519.7 449.9,517.2 447.8,517.0 427.5,520.0 425.5,522.3Z" fill="#2426a0"/><path d="M347.4,563.3 350.3,565.6 371.4,569.4 374.4,569.0 376.6,567.0 380.7,555.4 380.3,548.4 379.1,543.9 376.3,538.0 373.3,534.2 368.9,530.3 364.8,528.5 353.7,528.9 350.7,530.4 346.8,534.6 343.8,541.9 343.2,548.6 344.3,555.9Z" fill="#2a1c8a"/><path d="M-7.6,27.7 -6.2,30.6 -4.1,33.2 1.9,36.8 9.4,38.2 17.2,37.1 24.3,33.8 29.5,28.7 32.1,22.6 31.9,17.2 28.9,11.6 23.3,7.7 18.4,6.2 14.6,5.8 6.8,6.9 -0.3,10.2 -5.5,15.3 -8.1,21.4 -8.3,24.6Z" fill="#1c1a6c"/><path d="M71.4,54.5 74.8,54.4 78.2,53.4 84.4,49.0 89.1,42.0 91.6,33.5 91.7,24.9 89.3,17.3 84.7,11.9 79.5,9.6 76.2,9.4 72.9,10.1 66.6,14.0 63.0,18.3 60.9,22.0 58.4,30.5 58.3,39.1 60.7,46.7 65.3,52.1 68.2,53.7Z" fill="#1c1a6c"/><path d="M124.5,61.5 127.8,60.6 130.9,58.8 135.8,53.2 138.6,45.6 138.9,37.2 136.6,29.3 132.2,23.0 126.2,19.1 120.6,18.4 117.2,19.0 114.1,20.5 109.0,25.6 106.5,30.5 105.4,34.4 105.1,42.8 107.4,50.7 111.8,57.0 117.8,60.9 121.1,61.6Z" fill="#1c1a6c"/><path d="M150.0,21.7 150.1,23.8 154.0,35.2 159.4,40.2 166.7,43.4 174.6,43.9 181.8,41.4 186.8,36.8 188.7,33.7 189.8,30.2 189.7,22.7 186.6,15.6 181.0,10.0 173.3,6.6 165.4,6.1 161.7,7.0 157.1,9.3 152.2,14.7Z" fill="#201660"/><path d="M228.4,28.6 231.3,28.4 245.9,21.0 248.7,16.5 250.4,10.3 250.1,1.4 247.1,-6.3 241.7,-12.0 238.3,-13.8 234.7,-14.8 231.1,-14.9 227.4,-14.2 221.2,-10.7 216.2,-4.4 213.6,3.7 213.8,12.2 216.7,19.9 221.9,25.7Z" fill="#201660"/><path d="M320.0,14.4 320.8,10.8 320.7,7.1 318.3,-0.2 313.1,-6.4 305.9,-10.5 297.9,-12.0 290.1,-10.6 283.9,-6.6 281.6,-3.7 280.0,-0.4 279.2,3.2 279.3,6.9 281.7,14.2 286.9,20.4 294.1,24.5 302.1,26.0 309.9,24.6 316.1,20.6 318.4,17.7Z" fill="#262aa0"/><path d="M341.2,35.3 344.6,41.2 350.4,45.4 357.6,47.1 365.1,46.3 371.9,43.0 376.8,37.8 379.3,31.4 378.8,24.7 375.4,18.8 369.6,14.6 362.4,12.9 354.9,13.7 348.1,17.0 343.2,22.2 340.7,28.6Z" fill="#1c1a6c"/><path d="M436.9,36.4 438.3,37.7 446.6,41.8 449.6,42.4 457.0,40.8 463.9,36.0 468.6,29.3 470.1,25.5 470.9,20.3 467.0,8.1 465.5,5.8 462.6,3.7 459.3,2.3 452.6,1.7 446.6,3.4 440.1,8.0 435.6,14.3 433.2,22.1 433.7,29.8Z" fill="#201660"/><path d="M479.6,0.2 479.4,3.2 484.5,16.9 488.8,19.9 494.9,21.9 503.1,22.1 507.2,21.2 512.3,19.0 515.8,16.4 518.3,13.6 520.1,10.4 521.1,7.1 521.3,3.6 520.7,0.2 517.4,-5.4 512.6,-9.2 505.1,-11.9 497.2,-12.1 489.4,-9.9 483.2,-5.4Z" fill="#1e1464"/><path d="M559.3,19.7 564.7,23.4 571.6,24.6 579.0,23.0 585.7,19.0 590.8,13.3 593.6,6.7 593.6,-0.0 591.3,-4.9 586.4,-9.0 579.8,-10.6 574.7,-10.1 571.0,-9.0 564.3,-5.0 559.2,0.7 556.4,7.3 556.4,14.0Z" fill="#1e1464"/><path d="M558.2,57.3 558.1,59.8 561.4,74.1 564.5,78.0 567.8,80.6 573.9,83.4 580.6,83.6 585.7,81.5 589.9,77.3 592.2,70.8 591.8,63.1 590.0,58.1 588.0,54.9 582.2,49.4 575.6,46.5 572.2,46.2 567.8,46.8 564.3,48.5 561.8,50.6 559.8,53.2Z" fill="#2238c8"/><path d="M554.0,139.5 557.2,140.9 560.8,141.6 568.2,140.8 575.0,137.0 580.3,131.0 583.4,123.7 583.6,116.1 581.0,109.4 577.0,105.2 570.5,102.5 563.2,102.9 558.3,104.8 555.0,107.0 549.7,113.0 546.6,120.3 546.4,127.9 549.0,134.6 551.2,137.3Z" fill="#2232b0"/><path d="M568.0,174.7 566.4,176.5 565.8,178.8 565.8,203.3 566.6,206.0 569.3,208.0 576.1,209.1 582.0,208.1 587.9,205.4 593.9,200.0 597.4,193.0 598.0,185.5 597.1,181.9 595.5,178.7 593.2,175.9 590.3,173.6 583.3,171.1 575.5,171.5Z" fill="#1c1a6c"/><path d="M564.3,252.8 564.5,255.2 565.4,256.8 577.1,267.9 579.8,268.9 583.4,268.7 590.3,266.0 595.7,260.8 598.7,254.1 598.8,246.7 596.0,239.8 590.9,234.4 584.0,231.5 576.6,231.3 571.3,233.1 567.2,236.2Z" fill="#2230a8"/><path d="M553.7,353.7 553.6,356.2 554.6,358.4 563.2,364.3 569.7,365.6 577.7,364.7 585.0,361.3 589.3,356.8 591.8,350.5 591.6,344.4 589.8,339.6 587.5,336.4 581.0,331.4 572.5,328.6 563.9,328.9 561.8,330.0 560.4,331.9Z" fill="#1e1464"/><path d="M559.0,410.9 558.7,413.9 559.9,416.4 563.1,419.7 566.8,421.7 571.7,422.8 575.7,422.6 584.1,420.0 591.1,414.9 593.9,411.6 596.9,406.4 598.2,402.1 598.6,398.3 598.2,394.5 597.0,391.2 595.0,388.2 592.4,385.9 586.2,383.5 579.9,383.4 571.9,386.0 568.5,388.8Z" fill="#1e1464"/><path d="M553.0,460.2 552.2,462.4 552.4,466.7 555.1,474.5 560.5,481.5 567.4,486.2 571.3,487.4 587.0,485.2 589.3,484.0 591.9,480.5 593.5,475.8 593.8,471.8 592.0,463.8 587.1,456.1 583.9,453.1 578.6,449.8 574.2,448.1 570.2,447.4 566.1,447.5 562.4,448.4 559.4,450.3Z" fill="#1e1464"/><path d="M568.9,507.0 568.0,510.4 570.5,536.2 571.6,537.8 573.7,539.1 579.3,539.7 581.1,539.3 587.7,535.0 591.4,530.6 593.6,526.6 595.7,520.9 596.5,516.5 596.4,510.9 595.5,506.8 594.0,503.6 591.9,500.9 589.9,499.4 587.4,498.8 575.4,500.7 572.3,503.0Z" fill="#1c1a6c"/><path d="M558.7,559.6 557.4,562.8 558.7,583.0 559.4,585.3 561.8,588.1 568.8,593.2 576.7,595.6 580.7,595.6 584.5,594.8 587.9,593.2 590.8,590.9 593.1,588.0 594.6,584.6 595.5,576.9 593.2,569.0 588.2,561.9 581.2,556.8 573.3,554.4 567.7,554.7 560.7,557.9Z" fill="#1e1464"/><path d="M14.7,331.1 15.4,333.5 17.1,335.3 32.3,344.4 34.1,344.8 36.4,344.5 41.0,342.0 44.1,339.6 49.0,333.0 51.2,325.7 51.3,322.1 50.3,317.5 48.0,313.6 45.7,311.9 30.7,309.8 28.2,310.1 23.1,313.4 18.2,319.0 15.6,324.6Z" fill="#1e1464"/><path d="M15.7,346.4 13.8,345.7 11.2,345.8 4.0,347.9 -1.8,351.8 -5.8,357.4 -7.2,362.7 -6.3,368.4 -3.4,373.0 1.6,376.6 9.1,378.3 14.3,377.9 17.9,377.0 24.7,373.1 27.3,370.5 29.8,366.6 31.2,360.2 30.1,355.5Z" fill="#1e1464"/><path d="M26.3,519.2 24.3,517.8 20.7,517.4 17.1,517.8 13.1,519.1 6.8,523.4 2.2,529.8 -0.1,537.4 0.4,544.9 3.3,550.7 8.6,555.1 13.6,556.5 18.8,556.1 29.2,550.5 33.8,544.2 36.0,537.1 35.8,530.2 34.7,528.2Z" fill="#1e1464"/><path d="M15.1,456.7 12.8,458.6 11.8,461.2 11.3,465.2 11.7,470.3 14.6,477.5 16.8,480.5 20.5,483.8 25.6,486.2 29.9,486.5 43.2,477.0 44.2,474.8 44.7,470.8 43.7,463.5 40.6,457.3 35.5,452.2 32.3,450.6 30.0,450.5Z" fill="#1e1464"/><path d="M87.3,550.3 85.9,552.3 85.6,554.7 86.5,556.9 87.8,558.2 113.5,566.4 115.5,566.4 117.7,565.4 121.7,560.3 122.4,558.6 122.6,552.9 120.0,546.6 114.9,541.7 108.4,539.1 102.7,538.6 99.8,539.3Z" fill="#201660"/><path d="M231.6,576.9 232.1,573.1 231.8,569.8 230.7,566.8 228.5,563.7 225.0,560.8 221.9,559.4 214.7,558.3 207.0,559.9 200.5,563.7 195.9,569.3 194.6,572.5 193.9,576.9 194.9,582.3 198.7,587.5 204.6,590.8 211.3,591.7 217.2,590.7 224.0,587.4 228.9,582.6Z" fill="#1e1464"/><path d="M288.0,568.5 287.9,571.7 293.3,583.6 297.8,585.7 305.1,586.3 313.5,584.4 317.3,582.7 322.1,579.4 326.9,573.7 328.5,570.1 329.0,566.8 326.5,559.4 323.5,556.7 308.1,554.1 300.9,556.2 295.5,559.3 290.9,563.6Z" fill="#201660"/><path d="M398.3,548.5 394.0,550.8 392.0,553.5 387.4,567.3 388.8,573.4 393.0,579.7 399.2,583.8 406.5,585.3 413.7,583.8 419.3,579.9 422.9,575.0 424.8,567.8 424.0,561.0 412.4,548.0 407.8,547.0Z" fill="#201660"/><path d="M471.9,558.4 469.4,558.4 466.7,559.5 460.3,564.4 455.3,571.2 452.8,577.4 452.1,584.9 453.4,590.7 456.9,595.6 461.7,598.1 466.2,598.5 469.7,597.9 477.0,594.1 481.2,590.1 483.7,586.6 487.2,578.6 487.9,574.6 487.7,569.3 485.3,562.9 483.0,561.2Z" fill="#1c1a6c"/><path d="M508.0,578.0 509.7,583.4 513.3,588.4 518.2,592.5 524.2,595.3 530.6,596.7 538.6,596.2 544.6,593.8 547.3,590.7 545.9,567.5 544.8,565.8 542.1,563.8 535.8,560.7 529.8,559.3 525.1,559.3 519.4,560.4 515.4,562.2 511.4,565.5 509.1,569.1 508.0,572.5Z" fill="#201660"/><path d="M21.9,568.1 19.9,570.1 18.9,573.5 18.9,577.0 19.9,581.0 22.4,585.5 25.1,588.5 31.9,593.2 40.3,595.6 48.4,595.2 55.2,592.1 57.9,589.7 59.8,586.8 60.9,583.6 61.2,580.2 59.6,573.8 54.9,567.5 48.1,562.8 42.1,560.8 36.7,560.4Z" fill="#201660"/><path d="M9.6,232.1 7.5,231.0 4.8,231.0 1.7,231.8 -1.6,234.0 -3.5,236.4 -4.9,239.4 -5.4,246.4 -3.4,253.8 1.0,260.6 7.3,266.0 11.2,268.0 13.5,268.2 16.1,267.1 28.0,257.2 29.2,255.2 29.4,253.4 28.5,249.2 27.3,247.3Z" fill="#1c1a6c"/><path d="M16.7,111.4 14.6,110.2 12.2,110.2 5.5,113.6 0.1,119.4 -3.7,127.0 -5.0,134.5 -3.8,141.6 -0.3,147.1 4.4,149.8 7.5,150.3 11.6,149.8 21.4,143.7 25.0,138.9 27.7,133.0 28.9,127.1 28.5,122.5Z" fill="#1c1a6c"/><path d="M121.7,588.7 121.6,591.3 122.9,594.1 125.1,596.7 128.2,599.1 132.7,600.9 136.4,601.6 143.9,601.0 150.8,598.0 156.1,593.1 159.0,586.9 159.0,580.4 157.1,576.8 145.8,568.9 141.3,568.3 136.1,569.0 130.8,571.0 126.6,574.1Z" fill="#201660"/><path d="M250.6,574.1 247.9,574.9 245.0,577.7 241.0,589.5 241.2,594.0 243.7,599.6 247.0,603.6 250.1,605.9 257.2,608.6 264.7,608.4 271.5,605.5 276.6,600.2 278.9,594.7 279.1,587.3 276.3,580.4 272.6,576.1 269.1,574.1Z" fill="#201660"/><path d="M345.9,573.3 343.5,573.4 341.4,574.7 337.8,582.2 337.3,590.4 339.4,598.5 343.6,605.0 349.7,609.6 356.6,611.3 362.3,610.2 366.3,607.8 368.8,605.1 372.1,598.1 372.8,590.0 370.6,581.5 368.9,578.5 367.0,577.1Z" fill="#201660"/><path d="M5.9,447.1 7.6,447.7 10.0,447.6 27.3,440.3 29.5,438.5 30.4,436.2 29.4,428.0 27.2,422.6 24.6,418.8 21.8,415.8 17.3,412.4 13.3,410.7 9.7,409.9 4.4,410.2 -1.1,412.9 -4.6,417.3 -6.4,423.8 -5.9,430.1 -3.2,437.4 0.7,442.8Z" fill="#1e1464"/><path d="M84.4,560.6 82.0,560.4 79.8,561.4 78.4,563.3 77.8,565.9 79.1,572.8 83.5,579.7 89.8,585.1 97.1,588.4 104.7,589.5 107.5,589.2 109.6,588.0 110.9,585.9 114.3,574.6 114.2,572.2 113.0,570.1 110.9,568.8Z" fill="#1c1a6c"/><ellipse cx="292" cy="528" rx="18" ry="14" fill="#2a50d8"/></g>
<path filter="url(#blurG)" d="M630.0 218.3L564.0 220.5M605.4 301.6L558.5 257.1M630.0 304.2L605.4 301.6M564.0 220.5L558.5 257.1M-40.0 396.0L28.1 396.0M-40.0 307.0L48.3 360.0M28.1 396.0L48.3 360.0M500.0 630.0L500.0 558.3M500.0 558.3L465.5 549.7M427.1 630.0L438.7 568.5M465.5 549.7L438.7 568.5M413.1 539.4L438.7 568.5M465.5 549.7L457.5 512.1M413.1 539.4L423.6 516.4M457.5 512.1L423.6 516.4M563.3 495.3L550.4 490.0M563.3 495.3L567.8 546.1M550.4 490.0L517.6 534.0M551.0 553.7L518.2 541.5M551.0 553.7L567.8 546.1M518.2 541.5L517.6 534.0M630.0 551.7L567.8 546.1M630.0 486.2L563.3 495.3M556.1 630.0L551.0 553.7M500.0 558.3L518.2 541.5M221.3 630.0L240.9 568.8M304.8 630.0L279.2 568.5M279.2 568.5L240.9 568.8M605.4 301.6L561.5 312.9M558.5 257.1L521.5 270.3M521.5 270.3L527.8 303.0M527.8 303.0L561.5 312.9M630.0 367.0L569.0 375.7M561.5 312.9L546.8 361.1M569.0 375.7L546.8 361.1M505.8 180.5L547.5 153.8M505.8 180.5L525.8 215.1M562.0 219.1L525.8 215.1M562.0 219.1L562.0 157.8M562.0 157.8L547.5 153.8M564.0 220.5L562.0 219.1M505.2 254.7L521.5 270.3M505.2 254.7L525.8 215.1M630.0 144.8L562.0 157.8M-40.0 76.0L-14.0 76.0M-14.0 76.0L48.2 131.8M48.2 131.8L48.4 133.1M-40.0 189.7L48.4 133.1M54.1 -40.0L39.2 54.1M111.4 -40.0L91.9 74.9M39.2 54.1L81.9 75.7M91.9 74.9L81.9 75.7M-14.0 76.0L39.2 54.1M48.2 131.8L81.9 75.7M300.5 387.5L260.0 361.5M300.5 387.5L302.2 402.4M260.0 361.5L218.4 386.1M216.6 394.0L218.4 386.1M216.6 394.0L242.3 430.6M302.2 402.4L242.3 430.6M378.7 574.1L389.2 543.3M378.7 574.1L337.2 566.7M389.2 543.3L369.8 523.1M369.8 523.1L345.6 524.2M345.6 524.2L332.1 552.2M337.2 566.7L332.1 552.2M405.0 630.0L378.7 574.1M413.1 539.4L389.2 543.3M310.2 630.0L337.2 566.7M391.2 482.7L369.8 523.1M391.2 482.7L404.1 485.1M404.1 485.1L423.6 516.4M279.2 568.5L289.9 545.7M289.9 545.7L332.1 552.2M330.3 502.7L345.6 524.2M330.3 502.7L342.5 468.6M391.2 482.7L374.0 462.4M342.5 468.6L374.0 462.4M457.5 512.1L468.1 497.0M517.6 534.0L486.8 493.4M486.8 493.4L468.1 497.0M404.1 485.1L439.6 462.3M468.1 497.0L439.6 462.3M41.6 439.9L55.6 475.2M41.6 439.9L-40.0 474.3M55.6 475.2L18.9 501.9M-40.0 493.4L18.9 501.9M28.1 396.0L47.5 423.3M47.5 423.3L41.6 439.9M84.7 496.2L47.7 532.9M84.7 496.2L116.4 517.9M116.4 517.9L73.9 555.7M50.0 546.2L47.7 532.9M50.0 546.2L67.3 558.8M67.3 558.8L73.9 555.7M18.9 501.9L47.7 532.9M78.4 482.4L55.6 475.2M78.4 482.4L84.7 496.2M-40.0 594.5L50.0 546.2M74.7 630.0L67.3 558.8M103.1 630.0L121.5 570.6M121.5 570.6L73.9 555.7M121.5 570.6L134.6 553.8M183.3 630.0L177.0 583.9M134.6 553.8L177.0 583.9M240.9 568.8L228.7 548.4M228.7 548.4L195.0 551.8M177.0 583.9L195.0 551.8M342.5 468.6L313.0 443.5M313.0 443.5L281.1 472.2M330.3 502.7L294.1 504.4M294.1 504.4L281.1 472.2M289.9 545.7L282.4 524.6M294.1 504.4L282.4 524.6M228.7 548.4L240.2 521.2M282.4 524.6L240.2 521.2M546.8 361.1L522.8 364.6M522.8 364.6L512.8 359.1M527.8 303.0L502.8 324.3M502.8 324.3L512.8 359.1M569.0 375.7L550.6 418.5M522.8 364.6L525.9 409.4M525.9 409.4L550.6 418.5M550.4 490.0L538.3 468.9M486.8 493.4L506.0 466.3M538.3 468.9L506.0 466.3M630.0 439.7L560.7 434.4M538.3 468.9L560.7 434.4M560.7 434.4L550.6 418.5M159.0 398.7L134.1 447.2M134.1 447.2L139.9 453.3M190.0 407.6L180.2 456.7M190.0 407.6L159.0 398.7M180.2 456.7L139.9 453.3M195.0 551.8L175.4 516.1M134.6 553.8L130.6 519.7M175.4 516.1L130.6 519.7M116.4 517.9L129.9 519.2M129.9 519.2L130.6 519.7M78.4 482.4L104.0 444.8M47.5 423.3L74.4 420.9M74.4 420.9L104.0 444.8M48.3 360.0L48.3 360.0M48.3 360.0L97.3 375.8M74.4 420.9L97.3 375.8M134.1 447.2L121.0 442.9M139.9 453.3L129.9 519.2M104.0 444.8L121.0 442.9M315.1 320.0L273.2 313.8M315.1 320.0L327.5 353.3M327.5 353.3L300.5 387.5M260.0 361.5L258.4 328.6M273.2 313.8L258.4 328.6M258.4 328.6L206.2 312.7M218.4 386.1L189.1 342.8M189.1 342.8L206.2 312.7M502.8 324.3L457.6 313.7M512.8 359.1L479.7 380.2M457.6 313.7L446.0 350.4M446.0 350.4L479.7 380.2M630.0 104.0L560.0 91.7M547.5 153.8L531.9 109.3M531.9 109.3L560.0 91.7M630.0 36.0L547.5 36.0M560.0 91.7L547.5 36.0M191.3 497.3L187.4 462.9M191.3 497.3L233.2 506.8M187.4 462.9L240.4 448.1M233.2 506.8L251.3 464.9M240.4 448.1L251.3 464.9M180.2 456.7L187.4 462.9M175.4 516.1L191.3 497.3M240.2 521.2L233.2 506.8M216.6 394.0L190.0 407.6M242.3 430.6L240.4 448.1M281.1 472.2L251.3 464.9M302.2 402.4L311.3 413.7M311.3 413.7L313.0 443.5M91.9 74.9L110.7 84.2M48.4 133.1L76.1 160.2M76.1 160.2L83.9 160.9M83.9 160.9L104.1 148.2M104.1 148.2L110.7 84.2M159.0 398.7L143.1 373.6M189.1 342.8L161.7 348.0M161.7 348.0L143.1 373.6M121.0 442.9L115.7 376.7M143.1 373.6L115.7 376.7M97.3 375.8L105.1 373.2M105.1 373.2L115.7 376.7M327.5 353.3L378.5 356.5M378.5 356.5L387.0 367.4M311.3 413.7L372.1 410.3M387.0 367.4L372.1 410.3M374.0 462.4L382.2 431.9M382.2 431.9L372.1 410.3M531.9 109.3L508.1 101.8M508.1 101.8L523.1 36.7M547.5 36.0L536.9 29.7M536.9 29.7L523.1 36.7M536.9 29.7L538.7 -40.0M457.6 313.7L454.5 307.8M505.2 254.7L477.8 255.5M477.8 255.5L454.5 307.8M161.7 348.0L123.7 297.1M105.1 373.2L101.8 309.1M123.7 297.1L101.8 309.1M438.4 412.9L434.2 430.2M438.4 412.9L478.2 396.4M478.2 396.4L498.4 420.7M442.4 445.6L493.4 441.1M442.4 445.6L434.2 430.2M498.4 420.7L493.4 441.1M387.0 367.4L416.0 370.4M416.0 370.4L438.4 412.9M382.2 431.9L434.2 430.2M446.0 350.4L416.0 370.4M479.7 380.2L478.2 396.4M525.9 409.4L498.4 420.7M439.6 462.3L442.4 445.6M506.0 466.3L493.4 441.1M523.1 36.7L483.3 34.0M483.3 34.0L457.1 -40.0M215.6 43.9L266.0 18.4M208.8 42.8L215.6 43.9M184.7 -40.0L208.8 42.8M266.0 18.4L266.0 -40.0M508.1 101.8L494.2 105.1M505.8 180.5L503.7 179.9M503.7 179.9L482.4 150.7M494.2 105.1L482.4 150.7M503.7 179.9L465.9 207.9M477.8 255.5L462.9 237.5M465.9 207.9L462.9 237.5M378.5 356.5L383.8 317.5M454.5 307.8L420.0 295.3M383.8 317.5L420.0 295.3M235.8 256.4L194.2 232.6M235.8 256.4L242.7 254.4M194.2 198.9L214.9 183.4M214.9 183.4L253.6 216.6M194.2 232.6L194.2 198.9M253.6 216.6L242.7 254.4M203.8 301.2L235.8 256.4M206.2 312.7L203.8 301.2M273.2 313.8L268.6 270.4M268.6 270.4L242.7 254.4M339.7 63.4L335.6 117.3M339.7 63.4L319.2 46.7M319.2 46.7L297.5 49.6M297.5 49.6L270.8 89.4M270.8 89.4L316.0 128.2M335.6 117.3L316.0 128.2M352.4 -40.0L319.2 46.7M266.0 18.4L297.5 49.6M215.6 43.9L259.5 92.7M259.5 92.7L270.8 89.4M109.7 214.9L91.6 234.4M109.7 214.9L132.8 212.9M91.6 234.4L126.6 291.7M132.8 212.9L161.2 254.2M126.6 291.7L157.2 272.8M161.2 254.2L157.2 272.8M153.9 187.1L147.9 157.0M104.1 148.2L147.9 157.0M83.9 160.9L109.7 214.9M153.9 187.1L132.8 212.9M153.9 187.1L194.2 198.9M194.2 232.6L161.2 254.2M203.8 301.2L157.2 272.8M123.7 297.1L126.6 291.7M76.1 160.2L45.0 197.4M91.6 234.4L68.4 238.2M68.4 238.2L45.0 197.4M-40.0 190.1L-30.6 192.9M-30.6 192.9L45.0 197.4M66.4 308.9L-12.9 298.2M66.4 308.9L70.2 306.3M70.2 306.3L57.3 251.8M-12.9 298.2L40.6 253.7M40.6 253.7L57.3 251.8M-40.0 305.5L-12.9 298.2M48.3 360.0L66.4 308.9M101.8 309.1L70.2 306.3M68.4 238.2L57.3 251.8M-30.6 192.9L40.6 253.7M110.7 84.2L131.9 81.9M147.9 157.0L165.5 135.7M165.5 135.7L131.9 81.9M123.3 -40.0L155.4 62.7M208.8 42.8L185.8 62.3M185.8 62.3L155.4 62.7M155.4 62.7L131.9 81.9M400.3 -40.0L406.3 29.8M339.7 63.4L387.7 60.4M406.3 29.8L387.7 60.4M483.3 34.0L460.8 57.0M406.3 29.8L460.8 57.0M494.2 105.1L463.4 86.9M460.8 57.0L463.4 86.9M379.8 152.5L432.5 155.3M379.8 152.5L370.4 128.0M370.4 128.0L400.0 94.3M432.5 155.3L434.3 153.1M434.3 153.1L430.9 106.1M400.0 94.3L430.9 106.1M387.7 60.4L400.0 94.3M335.6 117.3L370.4 128.0M432.5 183.6L465.9 207.9M482.4 150.7L434.3 153.1M432.5 183.6L432.5 155.3M463.4 86.9L430.9 106.1M268.6 270.4L305.7 257.3M315.1 320.0L332.5 293.0M332.5 293.0L305.7 257.3M383.8 317.5L353.7 289.6M332.5 293.0L353.7 289.6M432.5 183.6L406.5 207.5M462.9 237.5L418.3 241.0M418.3 241.0L406.5 207.5M420.0 295.3L407.7 257.4M418.3 241.0L407.7 257.4M353.7 289.6L369.7 256.3M407.7 257.4L369.7 256.3M201.1 109.3L186.8 132.0M201.1 109.3L248.5 106.8M186.8 132.0L218.5 168.3M248.5 106.8L251.2 150.2M218.5 168.3L251.2 150.2M165.5 135.7L186.8 132.0M185.8 62.3L201.1 109.3M259.5 92.7L248.5 106.8M214.9 183.4L218.5 168.3M278.9 163.5L309.2 148.1M278.9 163.5L251.2 150.2M309.2 148.1L316.0 128.2M278.2 202.9L253.6 216.6M278.2 202.9L278.9 163.5M312.8 220.6L316.9 229.7M312.8 220.6L334.5 179.2M316.9 229.7L356.9 234.9M356.9 234.9L378.2 199.5M334.5 179.2L367.9 179.2M367.9 179.2L378.2 199.5M278.2 202.9L312.8 220.6M305.7 257.3L316.9 229.7M309.2 148.1L334.5 179.2M369.7 256.3L356.9 234.9M406.5 207.5L378.2 199.5M379.8 152.5L367.9 179.2" stroke="#0e6420" stroke-width="7.5" fill="none" stroke-linecap="round"/>
<path filter="url(#blurG2)" d="M630.0 218.3L564.0 220.5M605.4 301.6L558.5 257.1M630.0 304.2L605.4 301.6M564.0 220.5L558.5 257.1M-40.0 396.0L28.1 396.0M-40.0 307.0L48.3 360.0M28.1 396.0L48.3 360.0M500.0 630.0L500.0 558.3M500.0 558.3L465.5 549.7M427.1 630.0L438.7 568.5M465.5 549.7L438.7 568.5M413.1 539.4L438.7 568.5M465.5 549.7L457.5 512.1M413.1 539.4L423.6 516.4M457.5 512.1L423.6 516.4M563.3 495.3L550.4 490.0M563.3 495.3L567.8 546.1M550.4 490.0L517.6 534.0M551.0 553.7L518.2 541.5M551.0 553.7L567.8 546.1M518.2 541.5L517.6 534.0M630.0 551.7L567.8 546.1M630.0 486.2L563.3 495.3M556.1 630.0L551.0 553.7M500.0 558.3L518.2 541.5M221.3 630.0L240.9 568.8M304.8 630.0L279.2 568.5M279.2 568.5L240.9 568.8M605.4 301.6L561.5 312.9M558.5 257.1L521.5 270.3M521.5 270.3L527.8 303.0M527.8 303.0L561.5 312.9M630.0 367.0L569.0 375.7M561.5 312.9L546.8 361.1M569.0 375.7L546.8 361.1M505.8 180.5L547.5 153.8M505.8 180.5L525.8 215.1M562.0 219.1L525.8 215.1M562.0 219.1L562.0 157.8M562.0 157.8L547.5 153.8M564.0 220.5L562.0 219.1M505.2 254.7L521.5 270.3M505.2 254.7L525.8 215.1M630.0 144.8L562.0 157.8M-40.0 76.0L-14.0 76.0M-14.0 76.0L48.2 131.8M48.2 131.8L48.4 133.1M-40.0 189.7L48.4 133.1M54.1 -40.0L39.2 54.1M111.4 -40.0L91.9 74.9M39.2 54.1L81.9 75.7M91.9 74.9L81.9 75.7M-14.0 76.0L39.2 54.1M48.2 131.8L81.9 75.7M300.5 387.5L260.0 361.5M300.5 387.5L302.2 402.4M260.0 361.5L218.4 386.1M216.6 394.0L218.4 386.1M216.6 394.0L242.3 430.6M302.2 402.4L242.3 430.6M378.7 574.1L389.2 543.3M378.7 574.1L337.2 566.7M389.2 543.3L369.8 523.1M369.8 523.1L345.6 524.2M345.6 524.2L332.1 552.2M337.2 566.7L332.1 552.2M405.0 630.0L378.7 574.1M413.1 539.4L389.2 543.3M310.2 630.0L337.2 566.7M391.2 482.7L369.8 523.1M391.2 482.7L404.1 485.1M404.1 485.1L423.6 516.4M279.2 568.5L289.9 545.7M289.9 545.7L332.1 552.2M330.3 502.7L345.6 524.2M330.3 502.7L342.5 468.6M391.2 482.7L374.0 462.4M342.5 468.6L374.0 462.4M457.5 512.1L468.1 497.0M517.6 534.0L486.8 493.4M486.8 493.4L468.1 497.0M404.1 485.1L439.6 462.3M468.1 497.0L439.6 462.3M41.6 439.9L55.6 475.2M41.6 439.9L-40.0 474.3M55.6 475.2L18.9 501.9M-40.0 493.4L18.9 501.9M28.1 396.0L47.5 423.3M47.5 423.3L41.6 439.9M84.7 496.2L47.7 532.9M84.7 496.2L116.4 517.9M116.4 517.9L73.9 555.7M50.0 546.2L47.7 532.9M50.0 546.2L67.3 558.8M67.3 558.8L73.9 555.7M18.9 501.9L47.7 532.9M78.4 482.4L55.6 475.2M78.4 482.4L84.7 496.2M-40.0 594.5L50.0 546.2M74.7 630.0L67.3 558.8M103.1 630.0L121.5 570.6M121.5 570.6L73.9 555.7M121.5 570.6L134.6 553.8M183.3 630.0L177.0 583.9M134.6 553.8L177.0 583.9M240.9 568.8L228.7 548.4M228.7 548.4L195.0 551.8M177.0 583.9L195.0 551.8M342.5 468.6L313.0 443.5M313.0 443.5L281.1 472.2M330.3 502.7L294.1 504.4M294.1 504.4L281.1 472.2M289.9 545.7L282.4 524.6M294.1 504.4L282.4 524.6M228.7 548.4L240.2 521.2M282.4 524.6L240.2 521.2M546.8 361.1L522.8 364.6M522.8 364.6L512.8 359.1M527.8 303.0L502.8 324.3M502.8 324.3L512.8 359.1M569.0 375.7L550.6 418.5M522.8 364.6L525.9 409.4M525.9 409.4L550.6 418.5M550.4 490.0L538.3 468.9M486.8 493.4L506.0 466.3M538.3 468.9L506.0 466.3M630.0 439.7L560.7 434.4M538.3 468.9L560.7 434.4M560.7 434.4L550.6 418.5M159.0 398.7L134.1 447.2M134.1 447.2L139.9 453.3M190.0 407.6L180.2 456.7M190.0 407.6L159.0 398.7M180.2 456.7L139.9 453.3M195.0 551.8L175.4 516.1M134.6 553.8L130.6 519.7M175.4 516.1L130.6 519.7M116.4 517.9L129.9 519.2M129.9 519.2L130.6 519.7M78.4 482.4L104.0 444.8M47.5 423.3L74.4 420.9M74.4 420.9L104.0 444.8M48.3 360.0L48.3 360.0M48.3 360.0L97.3 375.8M74.4 420.9L97.3 375.8M134.1 447.2L121.0 442.9M139.9 453.3L129.9 519.2M104.0 444.8L121.0 442.9M315.1 320.0L273.2 313.8M315.1 320.0L327.5 353.3M327.5 353.3L300.5 387.5M260.0 361.5L258.4 328.6M273.2 313.8L258.4 328.6M258.4 328.6L206.2 312.7M218.4 386.1L189.1 342.8M189.1 342.8L206.2 312.7M502.8 324.3L457.6 313.7M512.8 359.1L479.7 380.2M457.6 313.7L446.0 350.4M446.0 350.4L479.7 380.2M630.0 104.0L560.0 91.7M547.5 153.8L531.9 109.3M531.9 109.3L560.0 91.7M630.0 36.0L547.5 36.0M560.0 91.7L547.5 36.0M191.3 497.3L187.4 462.9M191.3 497.3L233.2 506.8M187.4 462.9L240.4 448.1M233.2 506.8L251.3 464.9M240.4 448.1L251.3 464.9M180.2 456.7L187.4 462.9M175.4 516.1L191.3 497.3M240.2 521.2L233.2 506.8M216.6 394.0L190.0 407.6M242.3 430.6L240.4 448.1M281.1 472.2L251.3 464.9M302.2 402.4L311.3 413.7M311.3 413.7L313.0 443.5M91.9 74.9L110.7 84.2M48.4 133.1L76.1 160.2M76.1 160.2L83.9 160.9M83.9 160.9L104.1 148.2M104.1 148.2L110.7 84.2M159.0 398.7L143.1 373.6M189.1 342.8L161.7 348.0M161.7 348.0L143.1 373.6M121.0 442.9L115.7 376.7M143.1 373.6L115.7 376.7M97.3 375.8L105.1 373.2M105.1 373.2L115.7 376.7M327.5 353.3L378.5 356.5M378.5 356.5L387.0 367.4M311.3 413.7L372.1 410.3M387.0 367.4L372.1 410.3M374.0 462.4L382.2 431.9M382.2 431.9L372.1 410.3M531.9 109.3L508.1 101.8M508.1 101.8L523.1 36.7M547.5 36.0L536.9 29.7M536.9 29.7L523.1 36.7M536.9 29.7L538.7 -40.0M457.6 313.7L454.5 307.8M505.2 254.7L477.8 255.5M477.8 255.5L454.5 307.8M161.7 348.0L123.7 297.1M105.1 373.2L101.8 309.1M123.7 297.1L101.8 309.1M438.4 412.9L434.2 430.2M438.4 412.9L478.2 396.4M478.2 396.4L498.4 420.7M442.4 445.6L493.4 441.1M442.4 445.6L434.2 430.2M498.4 420.7L493.4 441.1M387.0 367.4L416.0 370.4M416.0 370.4L438.4 412.9M382.2 431.9L434.2 430.2M446.0 350.4L416.0 370.4M479.7 380.2L478.2 396.4M525.9 409.4L498.4 420.7M439.6 462.3L442.4 445.6M506.0 466.3L493.4 441.1M523.1 36.7L483.3 34.0M483.3 34.0L457.1 -40.0M215.6 43.9L266.0 18.4M208.8 42.8L215.6 43.9M184.7 -40.0L208.8 42.8M266.0 18.4L266.0 -40.0M508.1 101.8L494.2 105.1M505.8 180.5L503.7 179.9M503.7 179.9L482.4 150.7M494.2 105.1L482.4 150.7M503.7 179.9L465.9 207.9M477.8 255.5L462.9 237.5M465.9 207.9L462.9 237.5M378.5 356.5L383.8 317.5M454.5 307.8L420.0 295.3M383.8 317.5L420.0 295.3M235.8 256.4L194.2 232.6M235.8 256.4L242.7 254.4M194.2 198.9L214.9 183.4M214.9 183.4L253.6 216.6M194.2 232.6L194.2 198.9M253.6 216.6L242.7 254.4M203.8 301.2L235.8 256.4M206.2 312.7L203.8 301.2M273.2 313.8L268.6 270.4M268.6 270.4L242.7 254.4M339.7 63.4L335.6 117.3M339.7 63.4L319.2 46.7M319.2 46.7L297.5 49.6M297.5 49.6L270.8 89.4M270.8 89.4L316.0 128.2M335.6 117.3L316.0 128.2M352.4 -40.0L319.2 46.7M266.0 18.4L297.5 49.6M215.6 43.9L259.5 92.7M259.5 92.7L270.8 89.4M109.7 214.9L91.6 234.4M109.7 214.9L132.8 212.9M91.6 234.4L126.6 291.7M132.8 212.9L161.2 254.2M126.6 291.7L157.2 272.8M161.2 254.2L157.2 272.8M153.9 187.1L147.9 157.0M104.1 148.2L147.9 157.0M83.9 160.9L109.7 214.9M153.9 187.1L132.8 212.9M153.9 187.1L194.2 198.9M194.2 232.6L161.2 254.2M203.8 301.2L157.2 272.8M123.7 297.1L126.6 291.7M76.1 160.2L45.0 197.4M91.6 234.4L68.4 238.2M68.4 238.2L45.0 197.4M-40.0 190.1L-30.6 192.9M-30.6 192.9L45.0 197.4M66.4 308.9L-12.9 298.2M66.4 308.9L70.2 306.3M70.2 306.3L57.3 251.8M-12.9 298.2L40.6 253.7M40.6 253.7L57.3 251.8M-40.0 305.5L-12.9 298.2M48.3 360.0L66.4 308.9M101.8 309.1L70.2 306.3M68.4 238.2L57.3 251.8M-30.6 192.9L40.6 253.7M110.7 84.2L131.9 81.9M147.9 157.0L165.5 135.7M165.5 135.7L131.9 81.9M123.3 -40.0L155.4 62.7M208.8 42.8L185.8 62.3M185.8 62.3L155.4 62.7M155.4 62.7L131.9 81.9M400.3 -40.0L406.3 29.8M339.7 63.4L387.7 60.4M406.3 29.8L387.7 60.4M483.3 34.0L460.8 57.0M406.3 29.8L460.8 57.0M494.2 105.1L463.4 86.9M460.8 57.0L463.4 86.9M379.8 152.5L432.5 155.3M379.8 152.5L370.4 128.0M370.4 128.0L400.0 94.3M432.5 155.3L434.3 153.1M434.3 153.1L430.9 106.1M400.0 94.3L430.9 106.1M387.7 60.4L400.0 94.3M335.6 117.3L370.4 128.0M432.5 183.6L465.9 207.9M482.4 150.7L434.3 153.1M432.5 183.6L432.5 155.3M463.4 86.9L430.9 106.1M268.6 270.4L305.7 257.3M315.1 320.0L332.5 293.0M332.5 293.0L305.7 257.3M383.8 317.5L353.7 289.6M332.5 293.0L353.7 289.6M432.5 183.6L406.5 207.5M462.9 237.5L418.3 241.0M418.3 241.0L406.5 207.5M420.0 295.3L407.7 257.4M418.3 241.0L407.7 257.4M353.7 289.6L369.7 256.3M407.7 257.4L369.7 256.3M201.1 109.3L186.8 132.0M201.1 109.3L248.5 106.8M186.8 132.0L218.5 168.3M248.5 106.8L251.2 150.2M218.5 168.3L251.2 150.2M165.5 135.7L186.8 132.0M185.8 62.3L201.1 109.3M259.5 92.7L248.5 106.8M214.9 183.4L218.5 168.3M278.9 163.5L309.2 148.1M278.9 163.5L251.2 150.2M309.2 148.1L316.0 128.2M278.2 202.9L253.6 216.6M278.2 202.9L278.9 163.5M312.8 220.6L316.9 229.7M312.8 220.6L334.5 179.2M316.9 229.7L356.9 234.9M356.9 234.9L378.2 199.5M334.5 179.2L367.9 179.2M367.9 179.2L378.2 199.5M278.2 202.9L312.8 220.6M305.7 257.3L316.9 229.7M309.2 148.1L334.5 179.2M369.7 256.3L356.9 234.9M406.5 207.5L378.2 199.5M379.8 152.5L367.9 179.2" stroke="#25a246" stroke-width="3.1" fill="none" stroke-linecap="round"/>
<path filter="url(#blurY)" d="M605.4 301.6L558.5 257.1M564.0 220.5L558.5 257.1M28.1 396.0L48.3 360.0M500.0 558.3L465.5 549.7M465.5 549.7L438.7 568.5M413.1 539.4L438.7 568.5M465.5 549.7L457.5 512.1M413.1 539.4L423.6 516.4M457.5 512.1L423.6 516.4M563.3 495.3L550.4 490.0M563.3 495.3L567.8 546.1M550.4 490.0L517.6 534.0M551.0 553.7L518.2 541.5M551.0 553.7L567.8 546.1M518.2 541.5L517.6 534.0M500.0 558.3L518.2 541.5M279.2 568.5L240.9 568.8M605.4 301.6L561.5 312.9M558.5 257.1L521.5 270.3M521.5 270.3L527.8 303.0M527.8 303.0L561.5 312.9M561.5 312.9L546.8 361.1M569.0 375.7L546.8 361.1M505.8 180.5L547.5 153.8M505.8 180.5L525.8 215.1M562.0 219.1L525.8 215.1M562.0 219.1L562.0 157.8M562.0 157.8L547.5 153.8M564.0 220.5L562.0 219.1M505.2 254.7L521.5 270.3M505.2 254.7L525.8 215.1M-14.0 76.0L48.2 131.8M48.2 131.8L48.4 133.1M-40.0 189.7L48.4 133.1M39.2 54.1L81.9 75.7M91.9 74.9L81.9 75.7M-14.0 76.0L39.2 54.1M48.2 131.8L81.9 75.7M300.5 387.5L260.0 361.5M300.5 387.5L302.2 402.4M260.0 361.5L218.4 386.1M216.6 394.0L218.4 386.1M216.6 394.0L242.3 430.6M302.2 402.4L242.3 430.6M378.7 574.1L389.2 543.3M378.7 574.1L337.2 566.7M389.2 543.3L369.8 523.1M369.8 523.1L345.6 524.2M345.6 524.2L332.1 552.2M337.2 566.7L332.1 552.2M413.1 539.4L389.2 543.3M391.2 482.7L369.8 523.1M391.2 482.7L404.1 485.1M404.1 485.1L423.6 516.4M279.2 568.5L289.9 545.7M289.9 545.7L332.1 552.2M330.3 502.7L345.6 524.2M330.3 502.7L342.5 468.6M391.2 482.7L374.0 462.4M342.5 468.6L374.0 462.4M457.5 512.1L468.1 497.0M517.6 534.0L486.8 493.4M486.8 493.4L468.1 497.0M404.1 485.1L439.6 462.3M468.1 497.0L439.6 462.3M41.6 439.9L55.6 475.2M55.6 475.2L18.9 501.9M28.1 396.0L47.5 423.3M47.5 423.3L41.6 439.9M84.7 496.2L47.7 532.9M84.7 496.2L116.4 517.9M116.4 517.9L73.9 555.7M50.0 546.2L47.7 532.9M50.0 546.2L67.3 558.8M67.3 558.8L73.9 555.7M18.9 501.9L47.7 532.9M78.4 482.4L55.6 475.2M78.4 482.4L84.7 496.2M134.6 553.8L177.0 583.9M240.9 568.8L228.7 548.4M228.7 548.4L195.0 551.8M177.0 583.9L195.0 551.8M342.5 468.6L313.0 443.5M313.0 443.5L281.1 472.2M330.3 502.7L294.1 504.4M294.1 504.4L281.1 472.2M289.9 545.7L282.4 524.6M294.1 504.4L282.4 524.6M228.7 548.4L240.2 521.2M282.4 524.6L240.2 521.2M546.8 361.1L522.8 364.6M522.8 364.6L512.8 359.1M527.8 303.0L502.8 324.3M502.8 324.3L512.8 359.1M569.0 375.7L550.6 418.5M522.8 364.6L525.9 409.4M525.9 409.4L550.6 418.5M550.4 490.0L538.3 468.9M486.8 493.4L506.0 466.3M538.3 468.9L506.0 466.3M538.3 468.9L560.7 434.4M560.7 434.4L550.6 418.5M159.0 398.7L134.1 447.2M134.1 447.2L139.9 453.3M190.0 407.6L180.2 456.7M190.0 407.6L159.0 398.7M180.2 456.7L139.9 453.3M195.0 551.8L175.4 516.1M134.6 553.8L130.6 519.7M175.4 516.1L130.6 519.7M116.4 517.9L129.9 519.2M129.9 519.2L130.6 519.7M78.4 482.4L104.0 444.8M47.5 423.3L74.4 420.9M74.4 420.9L104.0 444.8M48.3 360.0L48.3 360.0M48.3 360.0L97.3 375.8M74.4 420.9L97.3 375.8M134.1 447.2L121.0 442.9M139.9 453.3L129.9 519.2M104.0 444.8L121.0 442.9M315.1 320.0L273.2 313.8M315.1 320.0L327.5 353.3M327.5 353.3L300.5 387.5M260.0 361.5L258.4 328.6M273.2 313.8L258.4 328.6M258.4 328.6L206.2 312.7M218.4 386.1L189.1 342.8M189.1 342.8L206.2 312.7M502.8 324.3L457.6 313.7M512.8 359.1L479.7 380.2M457.6 313.7L446.0 350.4M446.0 350.4L479.7 380.2M547.5 153.8L531.9 109.3M531.9 109.3L560.0 91.7M560.0 91.7L547.5 36.0M191.3 497.3L187.4 462.9M191.3 497.3L233.2 506.8M187.4 462.9L240.4 448.1M233.2 506.8L251.3 464.9M240.4 448.1L251.3 464.9M180.2 456.7L187.4 462.9M175.4 516.1L191.3 497.3M240.2 521.2L233.2 506.8M216.6 394.0L190.0 407.6M242.3 430.6L240.4 448.1M281.1 472.2L251.3 464.9M302.2 402.4L311.3 413.7M311.3 413.7L313.0 443.5M91.9 74.9L110.7 84.2M48.4 133.1L76.1 160.2M76.1 160.2L83.9 160.9M83.9 160.9L104.1 148.2M104.1 148.2L110.7 84.2M159.0 398.7L143.1 373.6M189.1 342.8L161.7 348.0M161.7 348.0L143.1 373.6M121.0 442.9L115.7 376.7M143.1 373.6L115.7 376.7M97.3 375.8L105.1 373.2M105.1 373.2L115.7 376.7M327.5 353.3L378.5 356.5M378.5 356.5L387.0 367.4M311.3 413.7L372.1 410.3M387.0 367.4L372.1 410.3M374.0 462.4L382.2 431.9M382.2 431.9L372.1 410.3M531.9 109.3L508.1 101.8M508.1 101.8L523.1 36.7M547.5 36.0L536.9 29.7M536.9 29.7L523.1 36.7M457.6 313.7L454.5 307.8M505.2 254.7L477.8 255.5M477.8 255.5L454.5 307.8M161.7 348.0L123.7 297.1M105.1 373.2L101.8 309.1M123.7 297.1L101.8 309.1M438.4 412.9L434.2 430.2M438.4 412.9L478.2 396.4M478.2 396.4L498.4 420.7M442.4 445.6L493.4 441.1M442.4 445.6L434.2 430.2M498.4 420.7L493.4 441.1M387.0 367.4L416.0 370.4M416.0 370.4L438.4 412.9M382.2 431.9L434.2 430.2M446.0 350.4L416.0 370.4M479.7 380.2L478.2 396.4M525.9 409.4L498.4 420.7M439.6 462.3L442.4 445.6M506.0 466.3L493.4 441.1M523.1 36.7L483.3 34.0M215.6 43.9L266.0 18.4M208.8 42.8L215.6 43.9M508.1 101.8L494.2 105.1M505.8 180.5L503.7 179.9M503.7 179.9L482.4 150.7M494.2 105.1L482.4 150.7M503.7 179.9L465.9 207.9M477.8 255.5L462.9 237.5M465.9 207.9L462.9 237.5M378.5 356.5L383.8 317.5M454.5 307.8L420.0 295.3M383.8 317.5L420.0 295.3M235.8 256.4L194.2 232.6M235.8 256.4L242.7 254.4M194.2 198.9L214.9 183.4M214.9 183.4L253.6 216.6M194.2 232.6L194.2 198.9M253.6 216.6L242.7 254.4M203.8 301.2L235.8 256.4M206.2 312.7L203.8 301.2M273.2 313.8L268.6 270.4M268.6 270.4L242.7 254.4M339.7 63.4L335.6 117.3M339.7 63.4L319.2 46.7M319.2 46.7L297.5 49.6M297.5 49.6L270.8 89.4M270.8 89.4L316.0 128.2M335.6 117.3L316.0 128.2M266.0 18.4L297.5 49.6M215.6 43.9L259.5 92.7M259.5 92.7L270.8 89.4M109.7 214.9L91.6 234.4M109.7 214.9L132.8 212.9M91.6 234.4L126.6 291.7M132.8 212.9L161.2 254.2M126.6 291.7L157.2 272.8M161.2 254.2L157.2 272.8M153.9 187.1L147.9 157.0M104.1 148.2L147.9 157.0M83.9 160.9L109.7 214.9M153.9 187.1L132.8 212.9M153.9 187.1L194.2 198.9M194.2 232.6L161.2 254.2M203.8 301.2L157.2 272.8M123.7 297.1L126.6 291.7M76.1 160.2L45.0 197.4M91.6 234.4L68.4 238.2M68.4 238.2L45.0 197.4M-40.0 190.1L-30.6 192.9M-30.6 192.9L45.0 197.4M66.4 308.9L-12.9 298.2M66.4 308.9L70.2 306.3M70.2 306.3L57.3 251.8M-12.9 298.2L40.6 253.7M40.6 253.7L57.3 251.8M48.3 360.0L66.4 308.9M101.8 309.1L70.2 306.3M68.4 238.2L57.3 251.8M-30.6 192.9L40.6 253.7M110.7 84.2L131.9 81.9M147.9 157.0L165.5 135.7M165.5 135.7L131.9 81.9M208.8 42.8L185.8 62.3M185.8 62.3L155.4 62.7M155.4 62.7L131.9 81.9M339.7 63.4L387.7 60.4M406.3 29.8L387.7 60.4M483.3 34.0L460.8 57.0M406.3 29.8L460.8 57.0M494.2 105.1L463.4 86.9M460.8 57.0L463.4 86.9M379.8 152.5L432.5 155.3M379.8 152.5L370.4 128.0M370.4 128.0L400.0 94.3M432.5 155.3L434.3 153.1M434.3 153.1L430.9 106.1M400.0 94.3L430.9 106.1M387.7 60.4L400.0 94.3M335.6 117.3L370.4 128.0M432.5 183.6L465.9 207.9M482.4 150.7L434.3 153.1M432.5 183.6L432.5 155.3M463.4 86.9L430.9 106.1M268.6 270.4L305.7 257.3M315.1 320.0L332.5 293.0M332.5 293.0L305.7 257.3M383.8 317.5L353.7 289.6M332.5 293.0L353.7 289.6M432.5 183.6L406.5 207.5M462.9 237.5L418.3 241.0M418.3 241.0L406.5 207.5M420.0 295.3L407.7 257.4M418.3 241.0L407.7 257.4M353.7 289.6L369.7 256.3M407.7 257.4L369.7 256.3M201.1 109.3L186.8 132.0M201.1 109.3L248.5 106.8M186.8 132.0L218.5 168.3M248.5 106.8L251.2 150.2M218.5 168.3L251.2 150.2M165.5 135.7L186.8 132.0M185.8 62.3L201.1 109.3M259.5 92.7L248.5 106.8M214.9 183.4L218.5 168.3M278.9 163.5L309.2 148.1M278.9 163.5L251.2 150.2M309.2 148.1L316.0 128.2M278.2 202.9L253.6 216.6M278.2 202.9L278.9 163.5M312.8 220.6L316.9 229.7M312.8 220.6L334.5 179.2M316.9 229.7L356.9 234.9M356.9 234.9L378.2 199.5M334.5 179.2L367.9 179.2M367.9 179.2L378.2 199.5M278.2 202.9L312.8 220.6M305.7 257.3L316.9 229.7M309.2 148.1L334.5 179.2M369.7 256.3L356.9 234.9M406.5 207.5L378.2 199.5M379.8 152.5L367.9 179.2" stroke="#f4e428" stroke-width="2.3" fill="none" stroke-dasharray="2.6 5.6" stroke-linecap="round"/>
<path d="M243.4 45.1L266.6 59.9M255.6 38.7L254.4 66.3M267.3 46.1L242.7 58.9M210.1 74.3L229.9 93.7M223.4 70.6L216.6 97.4M233.3 80.3L206.7 87.7M29.7 90.9L55.3 101.1M40.5 82.3L44.5 109.7M53.3 87.4L31.7 104.6M157.7 96.2L184.3 103.8M167.6 86.6L174.4 113.4M180.9 90.4L161.1 109.6M69.8 114.6L95.2 125.4M80.8 106.3L84.2 133.7M93.5 111.7L71.5 128.3M122.6 114.1L139.4 135.9M136.2 112.2L125.8 137.8M144.7 123.2L117.3 126.8M208.7 131.9L236.3 133.1M216.1 120.3L228.9 144.7M229.9 120.9L215.1 144.1M265.6 122.0L289.4 136.0M277.6 115.2L277.4 142.8M289.5 122.2L265.5 135.8M22.7 164.0L49.3 171.0M32.4 154.2L39.6 180.8M45.7 157.7L26.3 177.3M172.9 157.6L192.1 177.4M186.3 154.2L178.7 180.8M195.9 164.2L169.1 170.8M107.1 175.0L132.9 185.0M117.9 166.4L122.1 193.6M130.8 171.4L109.2 188.6M238.0 179.3L264.0 188.7M248.6 170.4L253.4 197.6M261.6 175.1L240.4 192.9M63.4 195.3L88.6 206.7M74.6 187.3L77.4 214.7M87.2 192.9L64.8 209.1M155.9 211.6L179.1 226.4M168.1 205.2L166.9 232.8M179.7 212.6L155.3 225.4M211.5 209.0L230.5 229.0M224.9 205.8L217.1 232.2M234.4 215.7L207.6 222.3M19.6 221.0L45.4 231.0M30.4 212.4L34.6 239.6M43.3 217.3L21.7 234.7M271.3 225.3L288.7 246.7M284.9 223.1L275.1 248.9M293.6 233.8L266.4 238.2M112.3 245.9L139.7 249.1M120.5 234.8L131.5 260.2M134.3 236.4L117.7 258.6M182.7 258.6L209.3 266.4M192.7 249.1L199.3 275.9M206.0 253.0L186.0 272.0M73.8 269.6L101.2 272.4M81.9 258.4L93.1 283.6M95.6 259.8L79.4 282.2M25.3 280.9L52.7 284.1M33.6 269.8L44.4 295.2M47.3 271.4L30.7 293.6M418.0 61.0L437.0 81.0M431.5 57.8L423.5 84.2M440.9 67.8L414.1 74.2M486.0 55.5L506.0 74.5M499.3 51.6L492.7 78.4M509.2 61.1L482.8 68.9M521.5 71.3L548.5 76.7M530.5 60.9L539.5 87.1M544.1 63.6L525.9 84.4M297.5 87.3L324.5 92.7M306.6 76.9L315.4 103.1M320.1 79.6L301.9 100.4M351.5 88.2L376.5 99.8M362.8 80.3L365.2 107.7M375.3 86.1L352.7 101.9M395.2 120.3L414.8 139.7M408.5 116.6L401.5 143.4M418.3 126.3L391.7 133.7M450.9 115.6L469.1 136.4M464.5 112.9L455.5 139.1M473.5 123.4L446.5 128.6M504.2 130.3L523.8 149.7M517.6 126.7L510.4 153.3M527.3 136.4L500.7 143.6M334.8 144.5L357.2 160.5M347.3 138.8L344.7 166.2M358.6 146.8L333.4 158.2M292.4 182.9L319.6 187.1M301.0 172.1L311.0 197.9M314.6 174.2L297.4 195.8M389.9 171.9L415.1 183.1M401.0 163.8L404.0 191.2M413.7 169.4L391.3 185.6M449.0 174.7L476.0 180.3M458.1 164.4L466.9 190.6M471.7 167.2L453.3 187.8M534.3 182.8L557.7 197.2M546.4 176.2L545.6 203.8M558.1 183.4L533.9 196.6M334.6 198.3L357.4 213.7M347.0 192.2L345.0 219.8M358.4 200.0L333.6 212.0M422.5 211.1L449.5 216.9M431.8 200.9L440.2 227.1M445.3 203.8L426.7 224.2M480.7 216.4L507.3 223.6M490.4 206.7L497.6 233.3M503.8 210.2L484.2 229.8M378.1 220.9L396.9 241.1M391.5 217.8L383.5 244.2M400.9 227.9L374.1 234.1M526.2 243.6L553.8 244.4M533.5 231.8L546.5 256.2M547.3 232.3L532.7 255.7M329.8 249.7L348.2 270.3M343.3 246.9L334.7 273.1M352.5 257.2L325.5 262.8M431.8 253.9L448.2 276.1M445.5 252.3L434.5 277.7M453.7 263.4L426.3 266.6M545.0 267.4L560.0 290.6M558.8 266.7L546.2 291.3M566.3 278.3L538.7 279.7M373.3 277.1L398.7 287.9M384.3 268.8L387.7 296.2M397.0 274.2L375.0 290.8M484.4 282.5L507.6 297.5M496.8 276.2L495.2 303.8M508.3 283.8L483.7 296.2M287.7 282.1L310.3 297.9M300.2 276.3L297.8 303.7M311.5 284.2L286.5 295.8M232.1 287.5L253.9 304.5M244.9 282.3L241.1 309.7M255.8 290.8L230.2 301.2M158.6 300.2L173.0 323.8M172.4 299.9L159.2 324.1M179.6 311.7L152.0 312.3M70.6 334.9L91.4 353.1M83.7 330.5L78.3 357.5M94.1 339.6L67.9 348.4M112.9 337.4L139.1 346.0M123.1 328.2L128.9 355.2M136.2 332.5L115.8 350.9M218.9 336.2L236.1 357.8M232.6 334.2L222.4 359.8M241.2 345.0L213.8 349.0M166.6 373.3L190.8 386.7M178.5 366.2L178.9 393.8M190.5 372.9L166.9 387.1M54.3 383.9L76.7 400.1M67.0 378.3L64.0 405.7M78.1 386.4L52.9 397.6M247.0 387.5L267.0 406.5M260.2 383.6L253.8 410.4M270.2 393.1L243.8 400.9M89.2 411.0L116.8 411.0M96.1 399.0L109.9 423.0M109.9 399.1L96.1 422.9M124.2 398.5L143.2 418.5M137.6 395.2L129.8 421.8M147.1 405.2L120.3 411.8M155.2 416.2L176.4 433.8M168.1 411.4L163.5 438.6M178.7 420.2L152.9 429.8M193.7 426.2L217.7 439.8M205.6 419.2L205.8 446.8M217.6 426.0L193.8 440.0M265.8 433.5L289.4 447.9M277.9 426.9L277.3 454.5M289.7 434.1L265.5 447.3M58.5 444.6L82.9 457.4M70.1 437.2L71.3 464.8M82.4 443.6L59.0 458.4M97.0 475.2L124.0 480.8M106.1 464.9L114.9 491.1M119.7 467.7L101.3 488.3M149.0 478.3L172.4 492.9M161.1 471.8L160.3 499.4M172.9 479.1L148.5 492.1M204.7 478.5L232.3 479.5M212.1 466.8L224.9 491.2M225.9 467.3L211.1 490.7M251.6 491.6L275.4 505.4M263.5 484.7L263.5 512.3M275.5 491.6L251.5 505.4M43.2 495.0L64.8 512.2M56.1 490.0L51.9 517.2M66.9 498.6L41.1 508.6M64.7 520.6L89.3 533.0M76.2 513.0L77.8 540.6M88.5 519.2L65.5 534.4M196.6 517.8L219.4 533.2M209.0 511.7L207.0 539.3M220.4 519.4L195.6 531.6M158.4 537.0L173.2 560.2M172.2 536.4L159.4 560.8M179.6 548.0L152.0 549.2M251.4 536.2L267.8 558.4M265.1 534.6L254.1 560.0M273.3 545.7L245.9 548.9M335.3 320.4L362.7 324.4M343.9 309.6L354.1 335.2M357.5 311.5L340.5 333.3M406.7 321.2L425.3 341.6M420.2 318.2L411.8 344.6M429.5 328.4L402.5 334.4M470.5 343.6L492.5 360.4M483.3 338.3L479.7 365.7M494.2 346.7L468.8 357.3M521.7 335.8L549.3 337.2M529.2 324.2L541.8 348.8M543.0 324.9L528.0 348.1M278.2 338.9L303.8 349.1M289.0 330.3L293.0 357.7M301.8 335.4L280.2 352.6M331.6 383.4L358.4 390.0M341.2 373.4L348.8 400.0M354.6 376.8L335.4 396.6M438.2 384.3L465.8 386.5M446.1 372.9L457.9 397.9M459.9 374.1L444.1 396.7M494.3 383.1L517.7 397.9M506.6 376.7L505.4 404.3M518.2 384.1L493.8 396.9M535.2 376.6L550.8 399.4M549.0 375.6L537.0 400.4M556.8 387.0L529.2 389.0M395.0 403.9L421.0 413.1M405.5 394.9L410.5 422.1M418.5 399.5L397.5 417.5M458.9 411.8L475.9 433.6M472.6 409.9L462.2 435.5M481.1 420.8L453.7 424.6M337.5 427.6L358.1 446.0M350.6 423.3L345.0 450.3M360.9 432.5L334.7 441.1M511.3 434.9L538.7 438.7M519.8 424.0L530.2 449.6M533.5 425.9L516.5 447.7M400.9 442.7L418.1 464.3M414.6 440.7L404.4 466.3M423.1 451.5L395.9 455.5M459.8 455.7L482.2 471.9M472.5 450.1L469.5 477.5M483.6 458.2L458.4 469.4M304.2 467.6L319.8 490.4M318.0 466.6L306.0 491.4M325.8 477.9L298.2 480.1M349.3 486.6L369.5 505.4M362.5 482.6L356.3 509.4M372.6 492.0L346.2 500.0M425.1 483.7L444.9 503.1M438.4 480.0L431.6 506.8M448.3 489.7L421.7 497.1M507.1 493.6L532.9 503.4M517.7 484.9L522.3 512.1M530.7 489.7L509.3 507.3M388.8 506.2L407.2 526.8M402.4 503.4L393.6 529.6M411.5 513.7L384.5 519.3M543.3 510.2L558.7 533.0M557.0 509.2L545.0 534.0M564.8 520.6L537.2 522.6M305.8 517.2L323.0 538.8M319.5 515.2L309.3 540.8M328.1 526.0L300.7 530.0M470.4 520.7L495.2 532.9M481.9 513.0L483.7 540.6M494.3 519.1L471.3 534.5M430.7 526.0L450.1 545.6M444.1 522.5L436.7 549.1M453.8 532.3L427.0 539.3M349.9 544.3L374.1 557.7M361.8 537.2L362.2 564.8M373.8 543.9L350.2 558.1" stroke="#fff" stroke-width="3.1" stroke-linecap="round" fill="none"/>
<rect x="530" y="547.3" width="33" height="5.4" fill="#fff"/>
<text x="548.5" y="571" font-size="19.3" text-anchor="middle" font-family="Liberation Sans, sans-serif" fill="#fff">10 &#181;m</text>
<text x="12" y="30.5" font-size="29" font-weight="bold" font-family="Liberation Sans, sans-serif" fill="#fff">a</text>
</g>
<text x="625" y="31" font-size="29" font-weight="bold" font-family="Liberation Sans, sans-serif" fill="#000">b</text>
<rect x="731" y="9.5" width="36.5" height="13" fill="#8b80b9" stroke="#6552a8" stroke-width="1.2"/>
<rect x="731" y="36" width="36.5" height="13" fill="#e18b55" stroke="#c8322c" stroke-width="1.2"/>
<text x="775" y="20.8" font-size="15.5" font-family="Liberation Sans, sans-serif" fill="#222">|<tspan font-style="italic">&#947;</tspan><tspan font-size="10.5" dy="2.5">2</tspan><tspan dy="-2.5">|&#8212;exp.</tspan></text>
<text x="775" y="47.3" font-size="15.5" font-family="Liberation Sans, sans-serif" fill="#222">|<tspan font-style="italic">&#947;</tspan><tspan font-size="10.5" dy="2.5">6</tspan><tspan dy="-2.5">|&#8212;exp.</tspan></text>
<text x="909" y="20.8" font-size="15.5" font-family="Liberation Sans, sans-serif" fill="#222">|<tspan font-style="italic">&#947;</tspan><tspan font-size="10.5" dy="2.5">2</tspan><tspan dy="-2.5">|&#8212;Voronoi</tspan></text>
<text x="909" y="47.3" font-size="15.5" font-family="Liberation Sans, sans-serif" fill="#222">|<tspan font-style="italic">&#947;</tspan><tspan font-size="10.5" dy="2.5">6</tspan><tspan dy="-2.5">|&#8212;Voronoi</tspan></text>
<text x="1075" y="20.8" font-size="15.5" font-family="Liberation Sans, sans-serif" fill="#222">|<tspan font-style="italic">&#947;</tspan><tspan font-size="10.5" dy="2.5">2</tspan><tspan dy="-2.5">|&#8212;Mpf</tspan></text>
<text x="1075" y="47.3" font-size="15.5" font-family="Liberation Sans, sans-serif" fill="#222">|<tspan font-style="italic">&#947;</tspan><tspan font-size="10.5" dy="2.5">6</tspan><tspan dy="-2.5">|&#8212;Mpf</tspan></text>
<line x1="866" y1="15.6" x2="901" y2="15.6" stroke="#553c9f" stroke-width="2.4" stroke-dasharray="0.1 4.4" stroke-linecap="round"/>
<line x1="866" y1="42.5" x2="901" y2="42.5" stroke="#ec6a2a" stroke-width="2.4" stroke-dasharray="0.1 4.4" stroke-linecap="round"/>
<line x1="1030.5" y1="15.6" x2="1067" y2="15.6" stroke="#553c9f" stroke-width="2.2" stroke-dasharray="7.5 3.5"/>
<line x1="1030.5" y1="42.5" x2="1067" y2="42.5" stroke="#ec6a2a" stroke-width="2.2" stroke-dasharray="7.5 3.5"/>
<text x="713" y="86" font-size="15.5" font-family="Liberation Sans, sans-serif" fill="#222">&#215;10<tspan font-size="10.5" dy="-6">&#8722;1</tspan></text>
<rect x="729.50" y="487.74" width="21.00" height="27.76" fill="#d4b0ac"/>
<rect x="729.50" y="478.90" width="21.00" height="8.83" fill="#cfcbe0"/>
<rect x="750.50" y="442.94" width="21.00" height="72.56" fill="#d4b0ac"/>
<rect x="750.50" y="409.18" width="21.00" height="33.76" fill="#cfcbe0"/>
<rect x="771.50" y="398.45" width="21.00" height="117.05" fill="#d4b0ac"/>
<rect x="771.50" y="332.19" width="21.00" height="66.25" fill="#cfcbe0"/>
<rect x="792.50" y="361.22" width="21.00" height="154.28" fill="#d4b0ac"/>
<rect x="792.50" y="264.36" width="21.00" height="96.86" fill="#cfcbe0"/>
<rect x="813.50" y="343.87" width="21.00" height="171.63" fill="#d4b0ac"/>
<rect x="813.50" y="236.28" width="21.00" height="107.59" fill="#cfcbe0"/>
<rect x="834.50" y="307.90" width="21.00" height="207.60" fill="#d4b0ac"/>
<rect x="834.50" y="202.52" width="21.00" height="105.38" fill="#cfcbe0"/>
<rect x="855.50" y="305.38" width="21.00" height="210.12" fill="#d4b0ac"/>
<rect x="855.50" y="180.75" width="21.00" height="124.62" fill="#cfcbe0"/>
<rect x="876.50" y="288.34" width="21.00" height="227.16" fill="#d4b0ac"/>
<rect x="876.50" y="189.27" width="21.00" height="99.07" fill="#cfcbe0"/>
<rect x="897.50" y="271.30" width="21.00" height="244.20" fill="#d4b0ac"/>
<rect x="897.50" y="194.64" width="21.00" height="76.67" fill="#cfcbe0"/>
<rect x="918.50" y="262.15" width="21.00" height="253.35" fill="#d4b0ac"/>
<rect x="918.50" y="250.16" width="21.00" height="11.99" fill="#cfcbe0"/>
<rect x="939.50" y="297.49" width="21.00" height="218.01" fill="#d4b0ac"/>
<rect x="939.50" y="280.14" width="21.00" height="17.35" fill="#cfcbe0"/>
<rect x="960.50" y="331.56" width="21.00" height="183.94" fill="#d4b0ac"/>
<rect x="960.50" y="295.91" width="21.00" height="35.65" fill="#f4d6c0"/>
<rect x="981.50" y="381.10" width="21.00" height="134.40" fill="#d4b0ac"/>
<rect x="981.50" y="312.95" width="21.00" height="68.15" fill="#f4d6c0"/>
<rect x="1002.50" y="425.58" width="21.00" height="89.92" fill="#d4b0ac"/>
<rect x="1002.50" y="327.15" width="21.00" height="98.44" fill="#f4d6c0"/>
<rect x="1023.50" y="462.18" width="21.00" height="53.32" fill="#d4b0ac"/>
<rect x="1023.50" y="344.50" width="21.00" height="117.68" fill="#f4d6c0"/>
<rect x="1044.50" y="485.21" width="21.00" height="30.29" fill="#d4b0ac"/>
<rect x="1044.50" y="362.48" width="21.00" height="122.73" fill="#f4d6c0"/>
<rect x="1065.50" y="506.35" width="21.00" height="9.15" fill="#d4b0ac"/>
<rect x="1065.50" y="382.36" width="21.00" height="123.99" fill="#f4d6c0"/>
<rect x="1086.50" y="511.40" width="21.00" height="4.10" fill="#d4b0ac"/>
<rect x="1086.50" y="413.91" width="21.00" height="97.49" fill="#f4d6c0"/>
<rect x="1107.50" y="512.98" width="21.00" height="2.52" fill="#d4b0ac"/>
<rect x="1107.50" y="452.40" width="21.00" height="60.58" fill="#f4d6c0"/>
<rect x="1128.50" y="514.55" width="21.00" height="0.95" fill="#d4b0ac"/>
<rect x="1128.50" y="493.42" width="21.00" height="21.14" fill="#f4d6c0"/>
<path d="M729.50 478.90H750.50" stroke="#8e9297" stroke-width="1.5" fill="none"/>
<path d="M729.50 487.74H750.50" stroke="#9b9b9b" stroke-width="1.5" fill="none"/>
<path d="M750.50 409.18H771.50" stroke="#8e9297" stroke-width="1.5" fill="none"/>
<path d="M750.50 442.94H771.50" stroke="#9b9b9b" stroke-width="1.5" fill="none"/>
<path d="M771.50 332.19H792.50" stroke="#8e9297" stroke-width="1.5" fill="none"/>
<path d="M771.50 398.45H792.50" stroke="#9b9b9b" stroke-width="1.5" fill="none"/>
<path d="M792.50 264.36H813.50" stroke="#8e9297" stroke-width="1.5" fill="none"/>
<path d="M792.50 361.22H813.50" stroke="#9b9b9b" stroke-width="1.5" fill="none"/>
<path d="M813.50 236.28H834.50" stroke="#8e9297" stroke-width="1.5" fill="none"/>
<path d="M813.50 343.87H834.50" stroke="#9b9b9b" stroke-width="1.5" fill="none"/>
<path d="M834.50 202.52H855.50" stroke="#8e9297" stroke-width="1.5" fill="none"/>
<path d="M834.50 307.90H855.50" stroke="#9b9b9b" stroke-width="1.5" fill="none"/>
<path d="M855.50 180.75H876.50" stroke="#8e9297" stroke-width="1.5" fill="none"/>
<path d="M855.50 305.38H876.50" stroke="#9b9b9b" stroke-width="1.5" fill="none"/>
<path d="M876.50 189.27H897.50" stroke="#8e9297" stroke-width="1.5" fill="none"/>
<path d="M876.50 288.34H897.50" stroke="#9b9b9b" stroke-width="1.5" fill="none"/>
<path d="M897.50 194.64H918.50" stroke="#8e9297" stroke-width="1.5" fill="none"/>
<path d="M897.50 271.30H918.50" stroke="#9b9b9b" stroke-width="1.5" fill="none"/>
<path d="M918.50 250.16H939.50" stroke="#8e9297" stroke-width="1.5" fill="none"/>
<path d="M918.50 262.15H939.50" stroke="#9b9b9b" stroke-width="1.5" fill="none"/>
<path d="M939.50 280.14H960.50" stroke="#8e9297" stroke-width="1.5" fill="none"/>
<path d="M939.50 297.49H960.50" stroke="#9b9b9b" stroke-width="1.5" fill="none"/>
<path d="M960.50 331.56H981.50" stroke="#8e9297" stroke-width="1.5" fill="none"/>
<path d="M960.50 295.91H981.50" stroke="#9b9b9b" stroke-width="1.5" fill="none"/>
<path d="M981.50 381.10H1002.50" stroke="#8e9297" stroke-width="1.5" fill="none"/>
<path d="M981.50 312.95H1002.50" stroke="#9b9b9b" stroke-width="1.5" fill="none"/>
<path d="M1002.50 425.58H1023.50" stroke="#8e9297" stroke-width="1.5" fill="none"/>
<path d="M1002.50 327.15H1023.50" stroke="#9b9b9b" stroke-width="1.5" fill="none"/>
<path d="M1023.50 462.18H1044.50" stroke="#8e9297" stroke-width="1.5" fill="none"/>
<path d="M1023.50 344.50H1044.50" stroke="#9b9b9b" stroke-width="1.5" fill="none"/>
<path d="M1044.50 485.21H1065.50" stroke="#8e9297" stroke-width="1.5" fill="none"/>
<path d="M1044.50 362.48H1065.50" stroke="#9b9b9b" stroke-width="1.5" fill="none"/>
<path d="M1065.50 506.35H1086.50" stroke="#8e9297" stroke-width="1.5" fill="none"/>
<path d="M1065.50 382.36H1086.50" stroke="#9b9b9b" stroke-width="1.5" fill="none"/>
<path d="M1086.50 511.40H1107.50" stroke="#8e9297" stroke-width="1.5" fill="none"/>
<path d="M1086.50 413.91H1107.50" stroke="#9b9b9b" stroke-width="1.5" fill="none"/>
<path d="M1107.50 512.98H1128.50" stroke="#8e9297" stroke-width="1.5" fill="none"/>
<path d="M1107.50 452.40H1128.50" stroke="#9b9b9b" stroke-width="1.5" fill="none"/>
<path d="M1128.50 514.55H1149.50" stroke="#8e9297" stroke-width="1.5" fill="none"/>
<path d="M1128.50 493.42H1149.50" stroke="#9b9b9b" stroke-width="1.5" fill="none"/>
<path d="M729.50 515.50V478.90" stroke="#8e9297" stroke-width="1.6" fill="none"/>
<path d="M729.50 515.50V487.74" stroke="#606165" stroke-width="1.7" fill="none"/>
<path d="M750.50 515.50V409.18" stroke="#8e9297" stroke-width="1.6" fill="none"/>
<path d="M750.50 515.50V442.94" stroke="#606165" stroke-width="1.7" fill="none"/>
<path d="M771.50 515.50V332.19" stroke="#8e9297" stroke-width="1.6" fill="none"/>
<path d="M771.50 515.50V398.45" stroke="#606165" stroke-width="1.7" fill="none"/>
<path d="M792.50 515.50V264.36" stroke="#8e9297" stroke-width="1.6" fill="none"/>
<path d="M792.50 515.50V361.22" stroke="#606165" stroke-width="1.7" fill="none"/>
<path d="M813.50 515.50V236.28" stroke="#8e9297" stroke-width="1.6" fill="none"/>
<path d="M813.50 515.50V343.87" stroke="#606165" stroke-width="1.7" fill="none"/>
<path d="M834.50 515.50V202.52" stroke="#8e9297" stroke-width="1.6" fill="none"/>
<path d="M834.50 515.50V307.90" stroke="#606165" stroke-width="1.7" fill="none"/>
<path d="M855.50 515.50V180.75" stroke="#8e9297" stroke-width="1.6" fill="none"/>
<path d="M855.50 515.50V305.38" stroke="#606165" stroke-width="1.7" fill="none"/>
<path d="M876.50 515.50V180.75" stroke="#8e9297" stroke-width="1.6" fill="none"/>
<path d="M876.50 515.50V288.34" stroke="#606165" stroke-width="1.7" fill="none"/>
<path d="M897.50 515.50V189.27" stroke="#8e9297" stroke-width="1.6" fill="none"/>
<path d="M897.50 515.50V271.30" stroke="#606165" stroke-width="1.7" fill="none"/>
<path d="M918.50 515.50V194.64" stroke="#8e9297" stroke-width="1.6" fill="none"/>
<path d="M918.50 515.50V262.15" stroke="#606165" stroke-width="1.7" fill="none"/>
<path d="M939.50 515.50V250.16" stroke="#8e9297" stroke-width="1.6" fill="none"/>
<path d="M939.50 515.50V262.15" stroke="#606165" stroke-width="1.7" fill="none"/>
<path d="M960.50 515.50V280.14" stroke="#8e9297" stroke-width="1.6" fill="none"/>
<path d="M960.50 515.50V295.91" stroke="#606165" stroke-width="1.7" fill="none"/>
<path d="M981.50 515.50V295.91" stroke="#9b9b9b" stroke-width="1.6" fill="none"/>
<path d="M981.50 515.50V331.56" stroke="#606165" stroke-width="1.7" fill="none"/>
<path d="M1002.50 515.50V312.95" stroke="#9b9b9b" stroke-width="1.6" fill="none"/>
<path d="M1002.50 515.50V381.10" stroke="#606165" stroke-width="1.7" fill="none"/>
<path d="M1023.50 515.50V327.15" stroke="#9b9b9b" stroke-width="1.6" fill="none"/>
<path d="M1023.50 515.50V425.58" stroke="#606165" stroke-width="1.7" fill="none"/>
<path d="M1044.50 515.50V344.50" stroke="#9b9b9b" stroke-width="1.6" fill="none"/>
<path d="M1044.50 515.50V462.18" stroke="#606165" stroke-width="1.7" fill="none"/>
<path d="M1065.50 515.50V362.48" stroke="#9b9b9b" stroke-width="1.6" fill="none"/>
<path d="M1065.50 515.50V485.21" stroke="#606165" stroke-width="1.7" fill="none"/>
<path d="M1086.50 515.50V382.36" stroke="#9b9b9b" stroke-width="1.6" fill="none"/>
<path d="M1086.50 515.50V506.35" stroke="#606165" stroke-width="1.7" fill="none"/>
<path d="M1107.50 515.50V413.91" stroke="#9b9b9b" stroke-width="1.6" fill="none"/>
<path d="M1107.50 515.50V511.40" stroke="#606165" stroke-width="1.7" fill="none"/>
<path d="M1128.50 515.50V452.40" stroke="#9b9b9b" stroke-width="1.6" fill="none"/>
<path d="M1128.50 515.50V512.98" stroke="#606165" stroke-width="1.7" fill="none"/>
<path d="M1149.50 515.50V493.42" stroke="#9b9b9b" stroke-width="1.6" fill="none"/>
<path d="M1149.50 515.50V514.55" stroke="#606165" stroke-width="1.7" fill="none"/>
<rect x="707" y="95.5" width="462.5" height="421" fill="none" stroke="#9a9a9a" stroke-width="1.4"/>
<line x1="701.5" y1="515.5" x2="707" y2="515.5" stroke="#9a9a9a" stroke-width="1.3"/>
<text x="693.5" y="521.3" font-size="16.4" text-anchor="end" font-family="Liberation Sans, sans-serif" fill="#222">0</text>
<line x1="701.5" y1="452.4" x2="707" y2="452.4" stroke="#9a9a9a" stroke-width="1.3"/>
<text x="693.5" y="458.2" font-size="16.4" text-anchor="end" font-family="Liberation Sans, sans-serif" fill="#222">0.2</text>
<line x1="701.5" y1="389.3" x2="707" y2="389.3" stroke="#9a9a9a" stroke-width="1.3"/>
<text x="693.5" y="395.1" font-size="16.4" text-anchor="end" font-family="Liberation Sans, sans-serif" fill="#222">0.4</text>
<line x1="701.5" y1="326.2" x2="707" y2="326.2" stroke="#9a9a9a" stroke-width="1.3"/>
<text x="693.5" y="332.0" font-size="16.4" text-anchor="end" font-family="Liberation Sans, sans-serif" fill="#222">0.6</text>
<line x1="701.5" y1="263.1" x2="707" y2="263.1" stroke="#9a9a9a" stroke-width="1.3"/>
<text x="693.5" y="268.9" font-size="16.4" text-anchor="end" font-family="Liberation Sans, sans-serif" fill="#222">0.8</text>
<line x1="701.5" y1="200.0" x2="707" y2="200.0" stroke="#9a9a9a" stroke-width="1.3"/>
<text x="693.5" y="205.8" font-size="16.4" text-anchor="end" font-family="Liberation Sans, sans-serif" fill="#222">1.0</text>
<line x1="701.5" y1="136.9" x2="707" y2="136.9" stroke="#9a9a9a" stroke-width="1.3"/>
<text x="693.5" y="142.7" font-size="16.4" text-anchor="end" font-family="Liberation Sans, sans-serif" fill="#222">1.2</text>
<line x1="729.5" y1="516.5" x2="729.5" y2="522" stroke="#9a9a9a" stroke-width="1.3"/>
<text x="729.5" y="542" font-size="16.4" text-anchor="middle" font-family="Liberation Sans, sans-serif" fill="#222">0</text>
<line x1="813.5" y1="516.5" x2="813.5" y2="522" stroke="#9a9a9a" stroke-width="1.3"/>
<text x="813.5" y="542" font-size="16.4" text-anchor="middle" font-family="Liberation Sans, sans-serif" fill="#222">0.2</text>
<line x1="897.5" y1="516.5" x2="897.5" y2="522" stroke="#9a9a9a" stroke-width="1.3"/>
<text x="897.5" y="542" font-size="16.4" text-anchor="middle" font-family="Liberation Sans, sans-serif" fill="#222">0.4</text>
<line x1="981.5" y1="516.5" x2="981.5" y2="522" stroke="#9a9a9a" stroke-width="1.3"/>
<text x="981.5" y="542" font-size="16.4" text-anchor="middle" font-family="Liberation Sans, sans-serif" fill="#222">0.6</text>
<line x1="1065.5" y1="516.5" x2="1065.5" y2="522" stroke="#9a9a9a" stroke-width="1.3"/>
<text x="1065.5" y="542" font-size="16.4" text-anchor="middle" font-family="Liberation Sans, sans-serif" fill="#222">0.8</text>
<line x1="1149.5" y1="516.5" x2="1149.5" y2="522" stroke="#9a9a9a" stroke-width="1.3"/>
<text x="1149.5" y="542" font-size="16.4" text-anchor="middle" font-family="Liberation Sans, sans-serif" fill="#222">1.0</text>
<text transform="translate(649.8,303.6) rotate(-90)" font-size="18.6" text-anchor="middle" textLength="199" lengthAdjust="spacingAndGlyphs" font-family="Liberation Sans, sans-serif" fill="#222">Probability distribution</text>
<text x="940" y="571.5" font-size="18" text-anchor="middle" font-family="Liberation Sans, sans-serif" fill="#222">|<tspan font-style="italic">&#947;</tspan><tspan font-size="11.5" font-style="italic" dy="4">p</tspan><tspan dy="-4">|</tspan></text>
<polyline points="737.1,490.3 750.5,433.5 771.5,345.1 789.6,280.1 805.1,219.9 824.8,150.2 845.0,118.6 863.9,113.9 884.9,133.7 900.9,165.0 920.6,210.1 939.5,297.8 952.1,343.9 963.9,395.9 973.1,433.5 989.9,475.1 1010.1,500.0 1034.8,513.9 1065.5,515.5 1149.5,515.5" fill="none" stroke="#553c9f" stroke-width="2.7" stroke-dasharray="0.1 5.2" stroke-linecap="round" stroke-linejoin="round"/>
<polyline points="745.0,477.0 771.5,419.3 791.7,365.6 813.5,327.8 831.6,300.0 849.2,278.9 859.7,270.0 879.9,259.9 900.0,256.2 919.8,259.0 939.5,270.0 959.7,283.9 979.8,306.0 1000.0,328.1 1020.1,349.9 1039.9,367.8 1062.1,395.9 1075.2,419.9 1087.3,442.0 1097.4,461.2 1107.5,477.6 1120.1,495.0 1128.5,506.4 1138.6,513.6" fill="none" stroke="#ec6a2a" stroke-width="2.7" stroke-dasharray="0.1 5.2" stroke-linecap="round" stroke-linejoin="round"/>
<polyline points="738.7,478.9 758.9,398.8 779.9,310.4 797.5,240.1 824.8,185.2 845.0,161.2 866.4,153.6 887.4,161.2 907.6,192.4 927.3,240.1 939.5,295.0 952.1,336.0 963.9,371.9 976.0,400.0 994.9,435.0 1020.1,467.5 1034.8,478.9 1063.8,492.5 1089.9,502.6 1115.1,508.9 1145.3,513.6" fill="none" stroke="#553c9f" stroke-width="2.3" stroke-dasharray="8 4" stroke-linejoin="round"/>
<polyline points="742.9,478.9 759.7,442.9 781.6,397.2 803.4,359.6 823.6,333.8 844.2,309.8 865.2,295.6 887.4,285.2 907.6,278.9 927.3,280.1 950.0,287.1 970.2,294.0 992.0,310.1 1013.8,326.2 1034.0,342.0 1055.8,360.0 1076.0,379.8 1090.7,398.8 1107.5,427.5 1117.6,445.1 1126.0,460.9 1139.8,486.2" fill="none" stroke="#ec6a2a" stroke-width="2.3" stroke-dasharray="8 4" stroke-linejoin="round"/>
<path d="M733.0 475.1H747.0M733.0 482.7H747.0M740.0 475.1V482.7" stroke="#553c9f" stroke-width="1.7" fill="none"/>
<path d="M733.0 484.9H747.0M733.0 493.7H747.0M740.0 484.9V493.7" stroke="#ec6a2a" stroke-width="1.7" fill="none"/>
<path d="M754.0 402.6H768.0M754.0 415.2H768.0M761.0 402.6V415.2" stroke="#553c9f" stroke-width="1.7" fill="none"/>
<path d="M754.0 436.6H768.0M754.0 448.0H768.0M761.0 436.6V448.0" stroke="#ec6a2a" stroke-width="1.7" fill="none"/>
<path d="M775.0 321.8H789.0M775.0 342.0H789.0M782.0 321.8V342.0" stroke="#553c9f" stroke-width="1.7" fill="none"/>
<path d="M775.0 392.5H789.0M775.0 404.4H789.0M782.0 392.5V404.4" stroke="#ec6a2a" stroke-width="1.7" fill="none"/>
<path d="M796.0 255.2H810.0M796.0 274.1H810.0M803.0 255.2V274.1" stroke="#553c9f" stroke-width="1.7" fill="none"/>
<path d="M796.0 354.0H810.0M796.0 367.8H810.0M803.0 354.0V367.8" stroke="#ec6a2a" stroke-width="1.7" fill="none"/>
<path d="M817.0 228.7H831.0M817.0 245.1H831.0M824.0 228.7V245.1" stroke="#553c9f" stroke-width="1.7" fill="none"/>
<path d="M817.0 335.7H831.0M817.0 351.4H831.0M824.0 335.7V351.4" stroke="#ec6a2a" stroke-width="1.7" fill="none"/>
<path d="M838.0 192.4H852.0M838.0 213.9H852.0M845.0 192.4V213.9" stroke="#553c9f" stroke-width="1.7" fill="none"/>
<path d="M838.0 299.1H852.0M838.0 316.7H852.0M845.0 299.1V316.7" stroke="#ec6a2a" stroke-width="1.7" fill="none"/>
<path d="M859.0 170.7H873.0M859.0 191.5H873.0M866.0 170.7V191.5" stroke="#553c9f" stroke-width="1.7" fill="none"/>
<path d="M859.0 297.8H873.0M859.0 312.9H873.0M866.0 297.8V312.9" stroke="#ec6a2a" stroke-width="1.7" fill="none"/>
<path d="M880.0 178.5H894.0M880.0 200.0H894.0M887.0 178.5V200.0" stroke="#553c9f" stroke-width="1.7" fill="none"/>
<path d="M880.0 279.8H894.0M880.0 296.9H894.0M887.0 279.8V296.9" stroke="#ec6a2a" stroke-width="1.7" fill="none"/>
<path d="M901.0 184.9H915.0M901.0 203.8H915.0M908.0 184.9V203.8" stroke="#553c9f" stroke-width="1.7" fill="none"/>
<path d="M901.0 262.2H915.0M901.0 279.8H915.0M908.0 262.2V279.8" stroke="#ec6a2a" stroke-width="1.7" fill="none"/>
<path d="M922.0 241.0H936.0M922.0 258.7H936.0M929.0 241.0V258.7" stroke="#553c9f" stroke-width="1.7" fill="none"/>
<path d="M922.0 253.3H936.0M922.0 271.0H936.0M929.0 253.3V271.0" stroke="#ec6a2a" stroke-width="1.7" fill="none"/>
<path d="M943.0 272.6H957.0M943.0 288.3H957.0M950.0 272.6V288.3" stroke="#553c9f" stroke-width="1.7" fill="none"/>
<path d="M943.0 287.7H957.0M943.0 306.6H957.0M950.0 287.7V306.6" stroke="#ec6a2a" stroke-width="1.7" fill="none"/>
<path d="M964.0 324.0H978.0M964.0 339.8H978.0M971.0 324.0V339.8" stroke="#553c9f" stroke-width="1.7" fill="none"/>
<path d="M964.0 287.4H978.0M964.0 305.1H978.0M971.0 287.4V305.1" stroke="#ec6a2a" stroke-width="1.7" fill="none"/>
<path d="M985.0 372.9H999.0M985.0 388.7H999.0M992.0 372.9V388.7" stroke="#553c9f" stroke-width="1.7" fill="none"/>
<path d="M985.0 305.4H999.0M985.0 319.9H999.0M992.0 305.4V319.9" stroke="#ec6a2a" stroke-width="1.7" fill="none"/>
<path d="M1006.0 418.6H1020.0M1006.0 432.5H1020.0M1013.0 418.6V432.5" stroke="#553c9f" stroke-width="1.7" fill="none"/>
<path d="M1006.0 319.3H1020.0M1006.0 333.1H1020.0M1013.0 319.3V333.1" stroke="#ec6a2a" stroke-width="1.7" fill="none"/>
<path d="M1027.0 457.4H1041.0M1027.0 467.5H1041.0M1034.0 457.4V467.5" stroke="#553c9f" stroke-width="1.7" fill="none"/>
<path d="M1027.0 336.3H1041.0M1027.0 352.1H1041.0M1034.0 336.3V352.1" stroke="#ec6a2a" stroke-width="1.7" fill="none"/>
<path d="M1048.0 481.1H1062.0M1048.0 488.7H1062.0M1055.0 481.1V488.7" stroke="#553c9f" stroke-width="1.7" fill="none"/>
<path d="M1048.0 355.5H1062.0M1048.0 368.2H1062.0M1055.0 355.5V368.2" stroke="#ec6a2a" stroke-width="1.7" fill="none"/>
<path d="M1069.0 505.1H1083.0M1069.0 509.5H1083.0M1076.0 505.1V509.5" stroke="#553c9f" stroke-width="1.7" fill="none"/>
<path d="M1069.0 376.7H1083.0M1069.0 389.3H1083.0M1076.0 376.7V389.3" stroke="#ec6a2a" stroke-width="1.7" fill="none"/>
<path d="M1090.0 510.5H1104.0M1090.0 513.0H1104.0M1097.0 510.5V513.0" stroke="#553c9f" stroke-width="1.7" fill="none"/>
<path d="M1090.0 407.3H1104.0M1090.0 418.6H1104.0M1097.0 407.3V418.6" stroke="#ec6a2a" stroke-width="1.7" fill="none"/>
<path d="M1111.0 511.4H1125.0M1111.0 513.9H1125.0M1118.0 511.4V513.9" stroke="#553c9f" stroke-width="1.7" fill="none"/>
<path d="M1111.0 447.0H1125.0M1111.0 457.8H1125.0M1118.0 447.0V457.8" stroke="#ec6a2a" stroke-width="1.7" fill="none"/>
<path d="M1132.0 513.3H1146.0M1132.0 515.2H1146.0M1139.0 513.3V515.2" stroke="#553c9f" stroke-width="1.7" fill="none"/>
<path d="M1132.0 490.6H1146.0M1132.0 496.3H1146.0M1139.0 490.6V496.3" stroke="#ec6a2a" stroke-width="1.7" fill="none"/>
<rect x="976.8" y="117.7" width="188.1" height="135.3" fill="#d6e1ee"/>
<path d="M976.8 117.7V253.0H1164.9" fill="none" stroke="#555" stroke-width="1.2"/>
<line x1="972" y1="250.3" x2="976.8" y2="250.3" stroke="#555" stroke-width="1.1"/>
<text x="963.8" y="256.1" font-size="16.4" text-anchor="end" font-family="Liberation Sans, sans-serif" fill="#222">0.3</text>
<line x1="972" y1="198.6" x2="976.8" y2="198.6" stroke="#555" stroke-width="1.1"/>
<text x="963.8" y="204.4" font-size="16.4" text-anchor="end" font-family="Liberation Sans, sans-serif" fill="#222">0.4</text>
<line x1="972" y1="146.9" x2="976.8" y2="146.9" stroke="#555" stroke-width="1.1"/>
<text x="963.8" y="152.7" font-size="16.4" text-anchor="end" font-family="Liberation Sans, sans-serif" fill="#222">0.5</text>
<line x1="1041.3" y1="253.0" x2="1041.3" y2="258.0" stroke="#555" stroke-width="1.1"/>
<text x="1041.3" y="278" font-size="16" text-anchor="middle" font-family="Liberation Sans, sans-serif" fill="#222">|<tspan font-style="italic">&#947;</tspan><tspan font-size="11" dy="2.5">2</tspan><tspan dy="-2.5">|</tspan></text>
<line x1="1129.5" y1="253.0" x2="1129.5" y2="258.0" stroke="#555" stroke-width="1.1"/>
<text x="1129.5" y="278" font-size="16" text-anchor="middle" font-family="Liberation Sans, sans-serif" fill="#222">|<tspan font-style="italic">&#947;</tspan><tspan font-size="11" dy="2.5">6</tspan><tspan dy="-2.5">|</tspan></text>
<path d="M1041.3 115.5V111.7H1129.5V115.5" fill="none" stroke="#444" stroke-width="1"/>
<path d="M1069.20 103.20L1069.20 98.60M1069.20 103.20L1073.57 101.78M1069.20 103.20L1071.90 106.92M1069.20 103.20L1066.50 106.92M1069.20 103.20L1064.83 101.78M1079.20 103.20L1079.20 98.60M1079.20 103.20L1083.57 101.78M1079.20 103.20L1081.90 106.92M1079.20 103.20L1076.50 106.92M1079.20 103.20L1074.83 101.78M1089.20 103.20L1089.20 98.60M1089.20 103.20L1093.57 101.78M1089.20 103.20L1091.90 106.92M1089.20 103.20L1086.50 106.92M1089.20 103.20L1084.83 101.78M1099.20 103.20L1099.20 98.60M1099.20 103.20L1103.57 101.78M1099.20 103.20L1101.90 106.92M1099.20 103.20L1096.50 106.92M1099.20 103.20L1094.83 101.78" stroke="#111" stroke-width="2.1" stroke-linecap="butt" fill="none"/>
<path d="M1041.5 188.6V204.2" stroke="#5a469c" stroke-width="1.1"/><path d="M1041.5 223.3V246.4" stroke="#5a469c" stroke-width="1.1"/><path d="M1029.5 188.6H1053.5M1029.5 246.4H1053.5" stroke="#5a469c" stroke-width="1.3"/><path d="M1025.5 204.2H1057.6V209.5L1054.6 213.5L1057.6 217.5V223.3H1025.5V217.5L1028.5 213.5L1025.5 209.5Z" fill="#7565b0" stroke="#5a469c" stroke-width="1"/><path d="M1028.5 213.5H1054.6" stroke="#5a469c" stroke-width="1.2"/>
<path d="M1129.7 132.5V148.0" stroke="#b05a2a" stroke-width="1.1"/><path d="M1129.7 159.8V173.6" stroke="#b05a2a" stroke-width="1.1"/><path d="M1117.2 132.5H1142.5M1117.2 173.6H1142.5" stroke="#b05a2a" stroke-width="1.3"/><path d="M1112.4 148.0H1146.9V149.9L1144.4 153.9L1146.9 157.9V159.8H1112.4V157.9L1114.9 153.9L1112.4 149.9Z" fill="#f2843c" stroke="#b05a2a" stroke-width="1"/><path d="M1114.9 153.9H1144.4" stroke="#b05a2a" stroke-width="1.2"/>
<circle cx="1001.2" cy="207.5" r="0.85" fill="#4b3a8c"/>
<circle cx="1001.4" cy="218.2" r="0.85" fill="#4b3a8c"/>
<circle cx="996.5" cy="216.9" r="0.85" fill="#4b3a8c"/>
<circle cx="1010.8" cy="208.6" r="0.85" fill="#4b3a8c"/>
<circle cx="1010.3" cy="210.9" r="0.85" fill="#4b3a8c"/>
<circle cx="1005.8" cy="211.7" r="0.85" fill="#4b3a8c"/>
<circle cx="991.3" cy="203.1" r="0.85" fill="#4b3a8c"/>
<circle cx="1006.5" cy="207.7" r="0.85" fill="#4b3a8c"/>
<circle cx="991.2" cy="236.6" r="0.85" fill="#4b3a8c"/>
<circle cx="996.8" cy="220.2" r="0.85" fill="#4b3a8c"/>
<circle cx="1005.1" cy="214.7" r="0.85" fill="#4b3a8c"/>
<circle cx="1006.6" cy="222.4" r="0.85" fill="#4b3a8c"/>
<circle cx="1005.2" cy="209.0" r="0.85" fill="#4b3a8c"/>
<circle cx="998.4" cy="191.9" r="0.85" fill="#4b3a8c"/>
<circle cx="1006.9" cy="198.6" r="0.85" fill="#4b3a8c"/>
<circle cx="998.7" cy="223.7" r="0.85" fill="#4b3a8c"/>
<circle cx="1000.6" cy="215.5" r="0.85" fill="#4b3a8c"/>
<circle cx="1007.4" cy="210.9" r="0.85" fill="#4b3a8c"/>
<circle cx="999.9" cy="226.5" r="0.85" fill="#4b3a8c"/>
<circle cx="999.4" cy="198.3" r="0.85" fill="#4b3a8c"/>
<circle cx="997.3" cy="210.9" r="0.85" fill="#4b3a8c"/>
<circle cx="1006.0" cy="233.4" r="0.85" fill="#4b3a8c"/>
<circle cx="1003.3" cy="197.2" r="0.85" fill="#4b3a8c"/>
<circle cx="988.9" cy="218.3" r="0.85" fill="#4b3a8c"/>
<circle cx="1002.3" cy="224.7" r="0.85" fill="#4b3a8c"/>
<circle cx="1006.5" cy="214.9" r="0.85" fill="#4b3a8c"/>
<circle cx="992.7" cy="203.4" r="0.85" fill="#4b3a8c"/>
<circle cx="1007.7" cy="201.9" r="0.85" fill="#4b3a8c"/>
<circle cx="1013.1" cy="209.4" r="0.85" fill="#4b3a8c"/>
<circle cx="1003.8" cy="230.9" r="0.85" fill="#4b3a8c"/>
<circle cx="1007.3" cy="222.0" r="0.85" fill="#4b3a8c"/>
<circle cx="999.8" cy="230.5" r="0.85" fill="#4b3a8c"/>
<circle cx="996.2" cy="221.0" r="0.85" fill="#4b3a8c"/>
<circle cx="1012.0" cy="240.4" r="0.85" fill="#4b3a8c"/>
<circle cx="992.8" cy="211.0" r="0.85" fill="#4b3a8c"/>
<circle cx="1013.1" cy="206.6" r="0.85" fill="#4b3a8c"/>
<circle cx="989.7" cy="246.7" r="0.85" fill="#4b3a8c"/>
<circle cx="1005.5" cy="223.6" r="0.85" fill="#4b3a8c"/>
<circle cx="995.2" cy="201.5" r="0.85" fill="#4b3a8c"/>
<circle cx="1010.7" cy="212.1" r="0.85" fill="#4b3a8c"/>
<circle cx="1004.7" cy="208.5" r="0.85" fill="#4b3a8c"/>
<circle cx="1014.2" cy="206.1" r="0.85" fill="#4b3a8c"/>
<circle cx="1006.6" cy="207.0" r="0.85" fill="#4b3a8c"/>
<circle cx="992.0" cy="197.5" r="0.85" fill="#4b3a8c"/>
<circle cx="1009.7" cy="207.3" r="0.85" fill="#4b3a8c"/>
<circle cx="989.2" cy="222.3" r="0.85" fill="#4b3a8c"/>
<circle cx="1008.9" cy="237.5" r="0.85" fill="#4b3a8c"/>
<circle cx="1001.7" cy="200.9" r="0.85" fill="#4b3a8c"/>
<circle cx="993.8" cy="193.3" r="0.85" fill="#4b3a8c"/>
<circle cx="1006.9" cy="216.1" r="0.85" fill="#4b3a8c"/>
<circle cx="1005.3" cy="205.7" r="0.85" fill="#4b3a8c"/>
<circle cx="1003.8" cy="199.3" r="0.85" fill="#4b3a8c"/>
<circle cx="998.4" cy="219.5" r="0.85" fill="#4b3a8c"/>
<circle cx="1010.3" cy="213.8" r="0.85" fill="#4b3a8c"/>
<circle cx="996.8" cy="201.9" r="0.85" fill="#4b3a8c"/>
<circle cx="1013.3" cy="219.9" r="0.85" fill="#4b3a8c"/>
<circle cx="993.3" cy="215.9" r="0.85" fill="#4b3a8c"/>
<circle cx="1002.0" cy="218.0" r="0.85" fill="#4b3a8c"/>
<circle cx="1012.8" cy="227.4" r="0.85" fill="#4b3a8c"/>
<circle cx="1011.8" cy="230.5" r="0.85" fill="#4b3a8c"/>
<circle cx="997.5" cy="205.9" r="0.85" fill="#4b3a8c"/>
<circle cx="1010.9" cy="203.0" r="0.85" fill="#4b3a8c"/>
<circle cx="1005.4" cy="212.3" r="0.85" fill="#4b3a8c"/>
<circle cx="1004.1" cy="206.7" r="0.85" fill="#4b3a8c"/>
<circle cx="1001.8" cy="210.5" r="0.85" fill="#4b3a8c"/>
<circle cx="1007.0" cy="214.1" r="0.85" fill="#4b3a8c"/>
<circle cx="1008.3" cy="206.8" r="0.85" fill="#4b3a8c"/>
<circle cx="1017.1" cy="209.9" r="0.85" fill="#4b3a8c"/>
<circle cx="1000.0" cy="218.9" r="0.85" fill="#4b3a8c"/>
<circle cx="1002.9" cy="202.2" r="0.85" fill="#4b3a8c"/>
<circle cx="1091.6" cy="149.2" r="0.85" fill="#a8542a"/>
<circle cx="1106.9" cy="182.8" r="0.85" fill="#a8542a"/>
<circle cx="1086.1" cy="150.8" r="0.85" fill="#a8542a"/>
<circle cx="1096.8" cy="150.9" r="0.85" fill="#a8542a"/>
<circle cx="1091.0" cy="146.2" r="0.85" fill="#a8542a"/>
<circle cx="1096.0" cy="159.6" r="0.85" fill="#a8542a"/>
<circle cx="1110.0" cy="149.6" r="0.85" fill="#a8542a"/>
<circle cx="1090.1" cy="154.8" r="0.85" fill="#a8542a"/>
<circle cx="1092.4" cy="154.3" r="0.85" fill="#a8542a"/>
<circle cx="1078.0" cy="159.2" r="0.85" fill="#a8542a"/>
<circle cx="1101.1" cy="166.9" r="0.85" fill="#a8542a"/>
<circle cx="1093.5" cy="142.8" r="0.85" fill="#a8542a"/>
<circle cx="1100.0" cy="136.7" r="0.85" fill="#a8542a"/>
<circle cx="1082.1" cy="157.6" r="0.85" fill="#a8542a"/>
<circle cx="1091.6" cy="146.5" r="0.85" fill="#a8542a"/>
<circle cx="1101.6" cy="184.1" r="0.85" fill="#a8542a"/>
<circle cx="1101.6" cy="170.1" r="0.85" fill="#a8542a"/>
<circle cx="1098.8" cy="170.6" r="0.85" fill="#a8542a"/>
<circle cx="1095.2" cy="140.0" r="0.85" fill="#a8542a"/>
<circle cx="1093.0" cy="151.4" r="0.85" fill="#a8542a"/>
<circle cx="1099.6" cy="152.0" r="0.85" fill="#a8542a"/>
<circle cx="1093.4" cy="136.2" r="0.85" fill="#a8542a"/>
<circle cx="1101.3" cy="157.0" r="0.85" fill="#a8542a"/>
<circle cx="1110.0" cy="166.7" r="0.85" fill="#a8542a"/>
<circle cx="1100.4" cy="156.6" r="0.85" fill="#a8542a"/>
<circle cx="1094.9" cy="145.6" r="0.85" fill="#a8542a"/>
<circle cx="1095.6" cy="146.4" r="0.85" fill="#a8542a"/>
<circle cx="1083.3" cy="170.8" r="0.85" fill="#a8542a"/>
<circle cx="1098.3" cy="164.6" r="0.85" fill="#a8542a"/>
<circle cx="1086.8" cy="170.3" r="0.85" fill="#a8542a"/>
<circle cx="1102.9" cy="145.1" r="0.85" fill="#a8542a"/>
<circle cx="1104.3" cy="164.3" r="0.85" fill="#a8542a"/>
<circle cx="1094.0" cy="166.6" r="0.85" fill="#a8542a"/>
<circle cx="1099.4" cy="135.5" r="0.85" fill="#a8542a"/>
<circle cx="1087.8" cy="135.9" r="0.85" fill="#a8542a"/>
<circle cx="1100.9" cy="155.6" r="0.85" fill="#a8542a"/>
<circle cx="1080.2" cy="137.6" r="0.85" fill="#a8542a"/>
<circle cx="1093.3" cy="160.5" r="0.85" fill="#a8542a"/>
<circle cx="1096.8" cy="149.0" r="0.85" fill="#a8542a"/>
<circle cx="1104.5" cy="165.2" r="0.85" fill="#a8542a"/>
<circle cx="1102.0" cy="136.7" r="0.85" fill="#a8542a"/>
<circle cx="1104.2" cy="155.7" r="0.85" fill="#a8542a"/>
<circle cx="1088.8" cy="142.0" r="0.85" fill="#a8542a"/>
<circle cx="1094.8" cy="152.2" r="0.85" fill="#a8542a"/>
<circle cx="1104.0" cy="156.6" r="0.85" fill="#a8542a"/>
<circle cx="1078.0" cy="158.0" r="0.85" fill="#a8542a"/>
<circle cx="1081.0" cy="144.3" r="0.85" fill="#a8542a"/>
<circle cx="1096.2" cy="160.6" r="0.85" fill="#a8542a"/>
<circle cx="1093.9" cy="144.2" r="0.85" fill="#a8542a"/>
<circle cx="1094.6" cy="138.5" r="0.85" fill="#a8542a"/>
<circle cx="1093.6" cy="141.8" r="0.85" fill="#a8542a"/>
<circle cx="1104.4" cy="135.3" r="0.85" fill="#a8542a"/>
<circle cx="1089.3" cy="143.6" r="0.85" fill="#a8542a"/>
<circle cx="1080.9" cy="165.9" r="0.85" fill="#a8542a"/>
<circle cx="1080.3" cy="141.5" r="0.85" fill="#a8542a"/>
<circle cx="1085.4" cy="153.8" r="0.85" fill="#a8542a"/>
<circle cx="1092.7" cy="153.9" r="0.85" fill="#a8542a"/>
<circle cx="1089.9" cy="151.0" r="0.85" fill="#a8542a"/>
<circle cx="1106.5" cy="153.1" r="0.85" fill="#a8542a"/>
<circle cx="1097.7" cy="142.2" r="0.85" fill="#a8542a"/>
<circle cx="1092.6" cy="167.9" r="0.85" fill="#a8542a"/>
<circle cx="1090.1" cy="141.4" r="0.85" fill="#a8542a"/>
<circle cx="1082.5" cy="160.4" r="0.85" fill="#a8542a"/>
<circle cx="1101.1" cy="144.6" r="0.85" fill="#a8542a"/>
<circle cx="1094.1" cy="144.5" r="0.85" fill="#a8542a"/>
<circle cx="1095.2" cy="167.0" r="0.85" fill="#a8542a"/>
<circle cx="1083.1" cy="160.9" r="0.85" fill="#a8542a"/>
<circle cx="1100.5" cy="160.1" r="0.85" fill="#a8542a"/>
<circle cx="1087.7" cy="162.4" r="0.85" fill="#a8542a"/>
<circle cx="1083.3" cy="155.0" r="0.85" fill="#a8542a"/>
<circle cx="1085.7" cy="149.5" r="0.85" fill="#a8542a"/>
<circle cx="1078.0" cy="149.9" r="0.85" fill="#a8542a"/>
<circle cx="1089.5" cy="175.7" r="0.85" fill="#a8542a"/>
<circle cx="1099.1" cy="156.8" r="0.85" fill="#a8542a"/>
<circle cx="1078.4" cy="163.6" r="0.85" fill="#a8542a"/>
<circle cx="1008" cy="246.5" r="0.9" fill="#4b3a8c"/><circle cx="1097" cy="194.5" r="0.9" fill="#a8542a"/>
<rect x="2" y="619" width="586" height="587" fill="#231f20"/>
<rect x="2" y="714" width="1.8" height="486" fill="#3a2a66"/>
<text x="12" y="650.5" font-size="29" font-weight="bold" font-family="Liberation Sans, sans-serif" fill="#fff">c</text>
<text x="198.3" y="656.7" font-size="19.3" textLength="177.5" lengthAdjust="spacingAndGlyphs" font-family="Liberation Sans, sans-serif" fill="#fff">Cell packing fraction</text>
<linearGradient id="vir" x1="0" x2="1" y1="0" y2="0"><stop offset="0.000" stop-color="#f2e838"/><stop offset="0.060" stop-color="#c8da40"/><stop offset="0.150" stop-color="#a8cc58"/><stop offset="0.250" stop-color="#78c07a"/><stop offset="0.330" stop-color="#3eb072"/><stop offset="0.380" stop-color="#1eaa6e"/><stop offset="0.450" stop-color="#129c7e"/><stop offset="0.550" stop-color="#148288"/><stop offset="0.620" stop-color="#1c7a8c"/><stop offset="0.700" stop-color="#2c6690"/><stop offset="0.780" stop-color="#3a5592"/><stop offset="0.850" stop-color="#434590"/><stop offset="0.900" stop-color="#463282"/><stop offset="0.950" stop-color="#42185e"/><stop offset="1.000" stop-color="#3c0048"/></linearGradient>
<rect x="87" y="675.2" width="411.2" height="27.6" fill="url(#vir)"/>
<text x="72.5" y="696" font-size="19" text-anchor="middle" font-family="Liberation Sans, sans-serif" fill="#fff">0</text>
<text x="512.5" y="696" font-size="19" text-anchor="middle" font-family="Liberation Sans, sans-serif" fill="#fff">1</text>
<clipPath id="clipC"><rect x="9" y="714" width="574" height="486"/></clipPath>
<filter id="blurC" x="-5%" y="-5%" width="110%" height="110%"><feGaussianBlur stdDeviation="1.8"/></filter>
<filter id="blurJ" x="-5%" y="-5%" width="110%" height="110%"><feGaussianBlur stdDeviation="2.5"/></filter>
<g clip-path="url(#clipC)">
<rect x="9" y="714" width="574" height="486" fill="#1a7c8b"/>
<g><path d="M-51.0 705.0L-7.0 705.0" stroke="#168089" stroke-width="12"/><path d="M-42.1 654.0L-7.0 705.0" stroke="#168089" stroke-width="12"/><path d="M643.0 705.0L597.0 705.0" stroke="#24708e" stroke-width="12"/><path d="M643.0 677.0L605.0 670.1" stroke="#24708e" stroke-width="12"/><path d="M605.0 670.1L597.0 705.0" stroke="#24708e" stroke-width="12"/><path d="M605.0 654.0L605.0 670.1" stroke="#24708e" stroke-width="12"/><path d="M643.0 755.0L606.8 755.0" stroke="#23718e" stroke-width="12"/><path d="M597.0 705.0L590.7 709.9" stroke="#24708e" stroke-width="12"/><path d="M590.7 709.9L606.8 755.0" stroke="#24718e" stroke-width="12"/><path d="M405.0 704.4L441.2 710.5" stroke="#375992" stroke-width="12"/><path d="M405.0 704.4L405.0 654.0" stroke="#385892" stroke-width="12"/><path d="M455.0 654.0L455.0 703.4" stroke="#345c91" stroke-width="12"/><path d="M441.2 710.5L455.0 703.4" stroke="#355b91" stroke-width="12"/><path d="M643.0 805.0L598.0 805.0" stroke="#22738d" stroke-width="12"/><path d="M643.0 855.0L596.8 855.0" stroke="#21748d" stroke-width="12"/><path d="M596.8 855.0L591.6 825.0" stroke="#21738d" stroke-width="12"/><path d="M598.0 805.0L591.6 825.0" stroke="#22738d" stroke-width="12"/><path d="M606.8 755.0L589.7 784.5" stroke="#23728e" stroke-width="12"/><path d="M598.0 805.0L589.7 784.5" stroke="#22728e" stroke-width="12"/><path d="M485.7 1204.6L455.0 1215.6" stroke="#2a6890" stroke-width="12"/><path d="M505.0 1217.0L485.7 1204.6" stroke="#2b6790" stroke-width="12"/><path d="M505.0 1260.0L505.0 1217.0" stroke="#2b6790" stroke-width="12"/><path d="M455.0 1260.0L455.0 1215.6" stroke="#2a6890" stroke-width="12"/><path d="M305.0 1260.0L305.0 1220.2" stroke="#24708e" stroke-width="12"/><path d="M355.0 1260.0L355.0 1214.9" stroke="#266d8f" stroke-width="12"/><path d="M355.0 1214.9L329.0 1201.5" stroke="#266e8e" stroke-width="12"/><path d="M305.0 1220.2L329.0 1201.5" stroke="#256f8e" stroke-width="12"/><path d="M55.0 1260.0L55.0 1210.0" stroke="#148288" stroke-width="12"/><path d="M5.0 1260.0L5.0 1210.0" stroke="#148587" stroke-width="12"/><path d="M5.0 1210.0L55.0 1210.0" stroke="#148387" stroke-width="12"/><path d="M-49.1 1260.0L0.7 1206.9" stroke="#148587" stroke-width="12"/><path d="M5.0 1210.0L0.7 1206.9" stroke="#148587" stroke-width="12"/><path d="M505.0 654.0L505.0 702.8" stroke="#2e6390" stroke-width="12"/><path d="M455.0 703.4L495.4 709.5" stroke="#325f91" stroke-width="12"/><path d="M505.0 702.8L495.4 709.5" stroke="#2f6390" stroke-width="12"/><path d="M555.0 654.0L555.0 704.3" stroke="#286b8f" stroke-width="12"/><path d="M505.0 702.8L555.0 704.3" stroke="#2b6790" stroke-width="12"/><path d="M590.7 709.9L559.7 707.8" stroke="#256f8e" stroke-width="12"/><path d="M555.0 704.3L559.7 707.8" stroke="#276c8f" stroke-width="12"/><path d="M442.1 1210.7L405.0 1221.1" stroke="#296a8f" stroke-width="12"/><path d="M442.1 1210.7L428.0 1155.5" stroke="#296a8f" stroke-width="12"/><path d="M428.0 1155.5L392.4 1169.2" stroke="#286a8f" stroke-width="12"/><path d="M392.4 1169.2L383.8 1208.5" stroke="#286b8f" stroke-width="12"/><path d="M405.0 1221.1L383.8 1208.5" stroke="#286b8f" stroke-width="12"/><path d="M405.0 1260.0L405.0 1221.1" stroke="#286b8f" stroke-width="12"/><path d="M455.0 1215.6L442.1 1210.7" stroke="#2a698f" stroke-width="12"/><path d="M485.7 1204.6L488.2 1175.6" stroke="#2b6890" stroke-width="12"/><path d="M488.2 1175.6L477.9 1156.6" stroke="#2a6890" stroke-width="12"/><path d="M434.2 1145.1L477.9 1156.6" stroke="#296a8f" stroke-width="12"/><path d="M434.2 1145.1L428.0 1155.5" stroke="#296a8f" stroke-width="12"/><path d="M355.0 1214.9L383.8 1208.5" stroke="#276d8f" stroke-width="12"/><path d="M-0.9 1205.0L-4.7 1155.0" stroke="#148587" stroke-width="12"/><path d="M-0.9 1205.0L-51.0 1205.0" stroke="#148587" stroke-width="12"/><path d="M-4.7 1155.0L-51.0 1155.0" stroke="#148587" stroke-width="12"/><path d="M0.7 1206.9L-0.9 1205.0" stroke="#148587" stroke-width="12"/><path d="M54.4 1152.9L1.7 1145.6" stroke="#148388" stroke-width="12"/><path d="M54.4 1152.9L65.9 1101.1" stroke="#158188" stroke-width="12"/><path d="M1.7 1145.6L-0.7 1109.4" stroke="#148587" stroke-width="12"/><path d="M65.9 1101.1L-0.7 1109.4" stroke="#148388" stroke-width="12"/><path d="M1.7 1145.6L-4.7 1155.0" stroke="#148587" stroke-width="12"/><path d="M-51.0 1105.0L-3.7 1105.0" stroke="#148587" stroke-width="12"/><path d="M-3.7 1105.0L-0.7 1109.4" stroke="#148587" stroke-width="12"/><path d="M-51.0 855.0L-10.4 855.0" stroke="#158188" stroke-width="12"/><path d="M-51.0 905.0L-13.6 905.0" stroke="#148288" stroke-width="12"/><path d="M-10.4 855.0L-5.1 886.0" stroke="#148288" stroke-width="12"/><path d="M-13.6 905.0L-5.1 886.0" stroke="#148288" stroke-width="12"/><path d="M-51.0 805.0L-9.6 805.0" stroke="#158189" stroke-width="12"/><path d="M-10.4 855.0L-7.0 850.0" stroke="#158188" stroke-width="12"/><path d="M-9.6 805.0L-7.0 808.5" stroke="#158189" stroke-width="12"/><path d="M-7.0 850.0L-7.0 808.5" stroke="#158188" stroke-width="12"/><path d="M-51.0 755.0L-10.9 755.0" stroke="#168089" stroke-width="12"/><path d="M-9.6 805.0L-4.7 764.5" stroke="#158189" stroke-width="12"/><path d="M-10.9 755.0L-4.7 764.5" stroke="#168089" stroke-width="12"/><path d="M-7.0 705.0L-0.9 706.6" stroke="#168089" stroke-width="12"/><path d="M-10.9 755.0L-0.9 706.6" stroke="#168089" stroke-width="12"/><path d="M5.0 654.0L5.0 703.2" stroke="#168089" stroke-width="12"/><path d="M-0.9 706.6L5.0 703.2" stroke="#168089" stroke-width="12"/><path d="M-7.0 808.5L46.3 808.5" stroke="#177f89" stroke-width="12"/><path d="M-4.7 764.5L41.2 764.5" stroke="#177f89" stroke-width="12"/><path d="M46.3 808.5L41.2 764.5" stroke="#1a7c8b" stroke-width="12"/><path d="M643.0 1055.0L597.7 1055.0" stroke="#286b8f" stroke-width="12"/><path d="M643.0 1105.0L601.6 1105.0" stroke="#2f6290" stroke-width="12"/><path d="M601.6 1105.0L586.7 1078.8" stroke="#2e6390" stroke-width="12"/><path d="M597.7 1055.0L586.7 1078.8" stroke="#2a6890" stroke-width="12"/><path d="M605.0 1260.0L605.0 1240.7" stroke="#2d6590" stroke-width="12"/><path d="M605.0 1240.7L643.0 1235.6" stroke="#2d6590" stroke-width="12"/><path d="M643.0 1155.0L595.0 1155.0" stroke="#2e6490" stroke-width="12"/><path d="M643.0 1205.0L596.9 1205.0" stroke="#2d6590" stroke-width="12"/><path d="M595.0 1155.0L596.9 1205.0" stroke="#2d6490" stroke-width="12"/><path d="M601.6 1105.0L590.7 1149.8" stroke="#2f6390" stroke-width="12"/><path d="M595.0 1155.0L590.7 1149.8" stroke="#2e6390" stroke-width="12"/><path d="M505.0 1217.0L542.0 1211.0" stroke="#2c6690" stroke-width="12"/><path d="M488.2 1175.6L542.0 1154.7" stroke="#2b6790" stroke-width="12"/><path d="M542.0 1154.7L542.0 1211.0" stroke="#2c6690" stroke-width="12"/><path d="M555.0 1260.0L555.0 1218.1" stroke="#2c6690" stroke-width="12"/><path d="M605.0 1240.7L594.8 1207.9" stroke="#2d6590" stroke-width="12"/><path d="M555.0 1218.1L594.8 1207.9" stroke="#2d6590" stroke-width="12"/><path d="M555.0 1218.1L542.0 1211.0" stroke="#2c6690" stroke-width="12"/><path d="M594.8 1207.9L596.9 1205.0" stroke="#2d6590" stroke-width="12"/><path d="M501.7 1113.0L500.6 1108.5" stroke="#2b6890" stroke-width="12"/><path d="M501.7 1113.0L545.9 1148.1" stroke="#2c6690" stroke-width="12"/><path d="M500.6 1108.5L535.1 1074.5" stroke="#2b6890" stroke-width="12"/><path d="M545.9 1148.1L546.2 1148.0" stroke="#2d6590" stroke-width="12"/><path d="M546.2 1148.0L557.6 1082.1" stroke="#2d6490" stroke-width="12"/><path d="M535.1 1074.5L557.6 1082.1" stroke="#2b6890" stroke-width="12"/><path d="M542.0 1154.7L545.9 1148.1" stroke="#2d6590" stroke-width="12"/><path d="M477.9 1156.6L501.7 1113.0" stroke="#2a6890" stroke-width="12"/><path d="M590.7 1149.8L546.2 1148.0" stroke="#2e6490" stroke-width="12"/><path d="M586.7 1078.8L557.6 1082.1" stroke="#2c6690" stroke-width="12"/><path d="M353.8 776.3L324.8 791.0" stroke="#3b5392" stroke-width="12"/><path d="M353.8 776.3L348.1 745.1" stroke="#3b5492" stroke-width="12"/><path d="M302.0 759.2L322.7 729.2" stroke="#3d4f91" stroke-width="12"/><path d="M348.1 745.1L322.7 729.2" stroke="#3c5292" stroke-width="12"/><path d="M302.0 759.2L309.8 779.9" stroke="#3e4e91" stroke-width="12"/><path d="M309.8 779.9L324.8 791.0" stroke="#3d4f91" stroke-width="12"/><path d="M395.2 774.1L382.4 783.6" stroke="#365a91" stroke-width="12"/><path d="M395.2 774.1L418.1 776.1" stroke="#345c91" stroke-width="12"/><path d="M382.4 783.6L383.9 820.6" stroke="#355a91" stroke-width="12"/><path d="M418.1 776.1L445.3 805.4" stroke="#306191" stroke-width="12"/><path d="M445.3 805.4L411.5 839.1" stroke="#2e6490" stroke-width="12"/><path d="M411.5 839.1L383.9 820.6" stroke="#325f91" stroke-width="12"/><path d="M391.2 712.0L348.1 745.1" stroke="#3a5592" stroke-width="12"/><path d="M391.2 712.0L395.2 774.1" stroke="#375892" stroke-width="12"/><path d="M353.8 776.3L382.4 783.6" stroke="#385792" stroke-width="12"/><path d="M441.2 710.5L442.9 746.6" stroke="#345c91" stroke-width="12"/><path d="M391.6 710.8L391.2 712.0" stroke="#395692" stroke-width="12"/><path d="M405.0 704.4L391.6 710.8" stroke="#385792" stroke-width="12"/><path d="M442.9 746.6L418.1 776.1" stroke="#325e91" stroke-width="12"/><path d="M323.4 818.8L324.8 791.0" stroke="#3d5091" stroke-width="12"/><path d="M353.6 838.3L383.9 820.6" stroke="#375992" stroke-width="12"/><path d="M323.4 818.8L353.6 838.3" stroke="#3b5392" stroke-width="12"/><path d="M457.0 806.0L445.3 805.4" stroke="#2c6690" stroke-width="12"/><path d="M457.0 806.0L479.9 773.5" stroke="#2c6690" stroke-width="12"/><path d="M442.9 746.6L479.9 773.5" stroke="#2f6290" stroke-width="12"/><path d="M441.3 866.2L474.3 848.4" stroke="#276d8f" stroke-width="12"/><path d="M441.3 866.2L414.8 855.2" stroke="#2b6790" stroke-width="12"/><path d="M414.8 855.2L411.5 839.1" stroke="#2e6390" stroke-width="12"/><path d="M457.0 806.0L475.8 830.5" stroke="#29698f" stroke-width="12"/><path d="M475.8 830.5L474.3 848.4" stroke="#276c8f" stroke-width="12"/><path d="M497.6 766.5L500.2 761.4" stroke="#2b6790" stroke-width="12"/><path d="M497.6 766.5L525.2 810.0" stroke="#296a8f" stroke-width="12"/><path d="M500.2 761.4L548.5 755.2" stroke="#29698f" stroke-width="12"/><path d="M525.2 810.0L563.7 777.7" stroke="#256e8e" stroke-width="12"/><path d="M563.7 777.7L548.5 755.2" stroke="#266e8e" stroke-width="12"/><path d="M479.9 773.5L497.6 766.5" stroke="#2c6690" stroke-width="12"/><path d="M495.4 709.5L500.2 761.4" stroke="#2e6490" stroke-width="12"/><path d="M524.8 815.3L475.8 830.5" stroke="#276c8f" stroke-width="12"/><path d="M524.8 815.3L525.2 810.0" stroke="#266e8e" stroke-width="12"/><path d="M559.7 707.8L548.5 755.2" stroke="#276c8f" stroke-width="12"/><path d="M591.6 825.0L531.2 825.0" stroke="#23718e" stroke-width="12"/><path d="M589.7 784.5L563.7 777.7" stroke="#23718e" stroke-width="12"/><path d="M524.8 815.3L531.2 825.0" stroke="#256e8e" stroke-width="12"/><path d="M428.5 1031.2L394.8 1016.1" stroke="#296a8f" stroke-width="12"/><path d="M428.5 1031.2L452.9 1012.8" stroke="#266e8e" stroke-width="12"/><path d="M452.9 1012.8L433.1 973.0" stroke="#256f8e" stroke-width="12"/><path d="M394.8 1016.1L398.1 980.3" stroke="#2c6790" stroke-width="12"/><path d="M398.1 980.3L433.1 973.0" stroke="#2a698f" stroke-width="12"/><path d="M444.5 957.0L477.6 958.5" stroke="#24708e" stroke-width="12"/><path d="M444.5 957.0L431.4 921.1" stroke="#276c8f" stroke-width="12"/><path d="M431.4 921.1L450.5 904.3" stroke="#276c8f" stroke-width="12"/><path d="M450.5 904.3L480.3 905.8" stroke="#256e8e" stroke-width="12"/><path d="M477.6 958.5L499.1 930.1" stroke="#23718e" stroke-width="12"/><path d="M499.1 930.1L480.3 905.8" stroke="#24708e" stroke-width="12"/><path d="M387.7 970.0L389.2 931.0" stroke="#2e6390" stroke-width="12"/><path d="M409.4 917.3L389.2 931.0" stroke="#2e6490" stroke-width="12"/><path d="M409.4 917.3L431.4 921.1" stroke="#2b6890" stroke-width="12"/><path d="M433.1 973.0L444.5 957.0" stroke="#266d8f" stroke-width="12"/><path d="M387.7 970.0L398.1 980.3" stroke="#2d6590" stroke-width="12"/><path d="M409.4 917.3L397.4 876.5" stroke="#2e6390" stroke-width="12"/><path d="M414.8 855.2L397.4 876.5" stroke="#2f6390" stroke-width="12"/><path d="M441.3 866.2L450.5 904.3" stroke="#276c8f" stroke-width="12"/><path d="M494.4 871.3L480.3 905.8" stroke="#256f8e" stroke-width="12"/><path d="M474.3 848.4L494.4 871.3" stroke="#256e8e" stroke-width="12"/><path d="M362.7 1143.6L392.4 1169.2" stroke="#286b8f" stroke-width="12"/><path d="M362.7 1143.6L326.3 1169.9" stroke="#286b8f" stroke-width="12"/><path d="M329.0 1201.5L324.7 1175.6" stroke="#266e8e" stroke-width="12"/><path d="M326.3 1169.9L324.7 1175.6" stroke="#276c8f" stroke-width="12"/><path d="M326.3 1169.9L304.5 1132.0" stroke="#286a8f" stroke-width="12"/><path d="M362.7 1143.6L365.1 1127.9" stroke="#296a8f" stroke-width="12"/><path d="M365.1 1127.9L330.5 1100.9" stroke="#2a6890" stroke-width="12"/><path d="M330.5 1100.9L304.5 1132.0" stroke="#2b6790" stroke-width="12"/><path d="M268.5 1170.8L324.7 1175.6" stroke="#266e8e" stroke-width="12"/><path d="M268.5 1170.8L268.5 1137.6" stroke="#24708e" stroke-width="12"/><path d="M268.5 1137.6L288.8 1128.6" stroke="#276c8f" stroke-width="12"/><path d="M304.5 1132.0L288.8 1128.6" stroke="#2a698f" stroke-width="12"/><path d="M387.7 970.0L349.1 973.9" stroke="#306191" stroke-width="12"/><path d="M337.0 1005.5L349.1 973.9" stroke="#335e91" stroke-width="12"/><path d="M394.8 1016.1L389.5 1019.8" stroke="#2c6690" stroke-width="12"/><path d="M337.0 1005.5L340.2 1016.4" stroke="#325f91" stroke-width="12"/><path d="M389.5 1019.8L340.2 1016.4" stroke="#2f6390" stroke-width="12"/><path d="M431.8 1131.6L470.7 1092.2" stroke="#276c8f" stroke-width="12"/><path d="M431.8 1131.6L397.5 1102.7" stroke="#286a8f" stroke-width="12"/><path d="M397.5 1102.7L397.5 1086.0" stroke="#29698f" stroke-width="12"/><path d="M397.5 1086.0L431.6 1063.3" stroke="#296a8f" stroke-width="12"/><path d="M431.6 1063.3L465.1 1076.7" stroke="#266d8f" stroke-width="12"/><path d="M465.1 1076.7L470.7 1092.2" stroke="#276c8f" stroke-width="12"/><path d="M434.2 1145.1L431.8 1131.6" stroke="#286b8f" stroke-width="12"/><path d="M500.6 1108.5L470.7 1092.2" stroke="#29698f" stroke-width="12"/><path d="M365.1 1127.9L397.5 1102.7" stroke="#29698f" stroke-width="12"/><path d="M389.5 1019.8L379.4 1068.9" stroke="#2c6690" stroke-width="12"/><path d="M379.4 1068.9L397.5 1086.0" stroke="#2a6890" stroke-width="12"/><path d="M428.5 1031.2L431.6 1063.3" stroke="#276c8f" stroke-width="12"/><path d="M161.9 1088.9L181.9 1066.2" stroke="#1b7b8c" stroke-width="12"/><path d="M228.5 1084.0L181.9 1066.2" stroke="#20758d" stroke-width="12"/><path d="M161.9 1088.9L188.9 1126.5" stroke="#1a7c8b" stroke-width="12"/><path d="M233.3 1089.7L229.1 1115.1" stroke="#22738d" stroke-width="12"/><path d="M228.5 1084.0L233.3 1089.7" stroke="#23718e" stroke-width="12"/><path d="M188.9 1126.5L229.1 1115.1" stroke="#1d788c" stroke-width="12"/><path d="M255.9 1081.0L282.5 1090.3" stroke="#2a698f" stroke-width="12"/><path d="M255.9 1081.0L233.3 1089.7" stroke="#266e8e" stroke-width="12"/><path d="M282.5 1090.3L288.8 1128.6" stroke="#2a698f" stroke-width="12"/><path d="M268.5 1137.6L231.2 1118.6" stroke="#23718e" stroke-width="12"/><path d="M229.1 1115.1L231.2 1118.6" stroke="#21748d" stroke-width="12"/><path d="M231.7 1215.9L234.9 1176.8" stroke="#1c7a8c" stroke-width="12"/><path d="M231.7 1215.9L255.0 1226.2" stroke="#1d788c" stroke-width="12"/><path d="M255.0 1226.2L272.9 1216.1" stroke="#20758d" stroke-width="12"/><path d="M272.9 1216.1L266.7 1172.9" stroke="#21748d" stroke-width="12"/><path d="M266.7 1172.9L234.9 1176.8" stroke="#20758d" stroke-width="12"/><path d="M255.0 1260.0L255.0 1226.2" stroke="#1f778d" stroke-width="12"/><path d="M205.0 1260.0L205.0 1223.5" stroke="#1a7c8b" stroke-width="12"/><path d="M205.0 1223.5L231.7 1215.9" stroke="#1b7b8b" stroke-width="12"/><path d="M305.0 1220.2L272.9 1216.1" stroke="#23728e" stroke-width="12"/><path d="M268.5 1170.8L266.7 1172.9" stroke="#22728e" stroke-width="12"/><path d="M225.0 1168.3L231.2 1118.6" stroke="#1f768d" stroke-width="12"/><path d="M225.0 1168.3L234.9 1176.8" stroke="#1d788c" stroke-width="12"/><path d="M155.0 1260.0L155.0 1208.9" stroke="#177f89" stroke-width="12"/><path d="M205.0 1223.5L174.0 1203.0" stroke="#197d8a" stroke-width="12"/><path d="M155.0 1208.9L174.0 1203.0" stroke="#177f8a" stroke-width="12"/><path d="M225.0 1168.3L186.3 1175.7" stroke="#1b7b8b" stroke-width="12"/><path d="M174.0 1203.0L186.3 1175.7" stroke="#197d8a" stroke-width="12"/><path d="M188.9 1126.5L177.3 1144.7" stroke="#1a7c8b" stroke-width="12"/><path d="M177.3 1144.7L186.3 1175.7" stroke="#197d8b" stroke-width="12"/><path d="M65.9 1101.1L67.0 1100.0" stroke="#158188" stroke-width="12"/><path d="M67.0 1100.0L52.2 1063.0" stroke="#158189" stroke-width="12"/><path d="M-3.7 1105.0L-1.1 1070.0" stroke="#148587" stroke-width="12"/><path d="M52.2 1063.0L-1.1 1070.0" stroke="#148388" stroke-width="12"/><path d="M-51.0 1055.0L-9.0 1055.0" stroke="#148587" stroke-width="12"/><path d="M-1.1 1070.0L-9.0 1055.0" stroke="#148587" stroke-width="12"/><path d="M50.1 812.0L46.3 808.5" stroke="#1a7c8b" stroke-width="12"/><path d="M-7.0 850.0L46.1 850.0" stroke="#168089" stroke-width="12"/><path d="M50.1 812.0L51.8 844.5" stroke="#1b7b8b" stroke-width="12"/><path d="M51.8 844.5L46.1 850.0" stroke="#1a7c8b" stroke-width="12"/><path d="M90.7 798.4L50.1 812.0" stroke="#1e778d" stroke-width="12"/><path d="M90.7 798.4L113.9 823.5" stroke="#266e8e" stroke-width="12"/><path d="M113.9 823.5L93.6 857.6" stroke="#276c8f" stroke-width="12"/><path d="M51.8 844.5L93.6 857.6" stroke="#1f768d" stroke-width="12"/><path d="M-5.1 886.0L41.6 888.7" stroke="#158189" stroke-width="12"/><path d="M46.1 850.0L41.6 888.7" stroke="#197d8b" stroke-width="12"/><path d="M228.5 1035.3L257.3 1024.0" stroke="#2c6790" stroke-width="12"/><path d="M228.5 1084.0L228.5 1035.3" stroke="#266e8e" stroke-width="12"/><path d="M255.9 1081.0L272.7 1043.5" stroke="#2c6790" stroke-width="12"/><path d="M257.3 1024.0L272.7 1043.5" stroke="#2f6390" stroke-width="12"/><path d="M391.6 710.8L355.0 690.4" stroke="#3a5592" stroke-width="12"/><path d="M322.7 729.2L318.2 704.1" stroke="#3d5091" stroke-width="12"/><path d="M355.0 690.4L318.2 704.1" stroke="#3c5192" stroke-width="12"/><path d="M355.0 690.4L355.0 654.0" stroke="#3b5392" stroke-width="12"/><path d="M535.1 1074.5L527.5 1054.7" stroke="#286b8f" stroke-width="12"/><path d="M465.1 1076.7L487.6 1041.4" stroke="#266d8f" stroke-width="12"/><path d="M527.5 1054.7L487.6 1041.4" stroke="#266e8e" stroke-width="12"/><path d="M452.9 1012.8L479.6 1015.2" stroke="#24708e" stroke-width="12"/><path d="M487.6 1041.4L479.6 1015.2" stroke="#246f8e" stroke-width="12"/><path d="M477.6 958.5L493.3 997.4" stroke="#23718e" stroke-width="12"/><path d="M479.6 1015.2L493.3 997.4" stroke="#23718e" stroke-width="12"/><path d="M493.3 997.4L530.7 992.4" stroke="#21738d" stroke-width="12"/><path d="M527.5 1054.7L549.7 1012.2" stroke="#24708e" stroke-width="12"/><path d="M530.7 992.4L549.7 1012.2" stroke="#20758d" stroke-width="12"/><path d="M597.7 1055.0L587.2 1014.8" stroke="#24708e" stroke-width="12"/><path d="M549.7 1012.2L587.2 1014.8" stroke="#21748d" stroke-width="12"/><path d="M643.0 1005.0L595.2 1005.0" stroke="#1f768d" stroke-width="12"/><path d="M595.2 1005.0L587.2 1014.8" stroke="#20758d" stroke-width="12"/><path d="M643.0 955.0L596.8 955.0" stroke="#1f768d" stroke-width="12"/><path d="M595.2 1005.0L596.8 955.0" stroke="#1e778d" stroke-width="12"/><path d="M643.0 905.0L607.2 905.0" stroke="#20758d" stroke-width="12"/><path d="M607.2 905.0L595.0 952.7" stroke="#1f768d" stroke-width="12"/><path d="M596.8 955.0L595.0 952.7" stroke="#1f768d" stroke-width="12"/><path d="M530.7 992.4L538.8 956.8" stroke="#21748d" stroke-width="12"/><path d="M499.1 930.1L507.0 930.4" stroke="#23718e" stroke-width="12"/><path d="M507.0 930.4L538.8 956.8" stroke="#22738d" stroke-width="12"/><path d="M595.0 952.7L564.0 946.1" stroke="#1f768d" stroke-width="12"/><path d="M538.8 956.8L564.0 946.1" stroke="#20758d" stroke-width="12"/><path d="M349.1 973.9L332.1 949.5" stroke="#355c91" stroke-width="12"/><path d="M337.0 1005.5L297.9 990.5" stroke="#355b91" stroke-width="12"/><path d="M297.9 990.5L305.4 956.2" stroke="#395692" stroke-width="12"/><path d="M332.1 949.5L305.4 956.2" stroke="#385792" stroke-width="12"/><path d="M297.9 990.5L289.7 994.8" stroke="#375992" stroke-width="12"/><path d="M289.7 994.8L261.5 995.9" stroke="#345c91" stroke-width="12"/><path d="M257.6 991.1L261.5 995.9" stroke="#325f91" stroke-width="12"/><path d="M257.6 991.1L260.9 938.5" stroke="#345c91" stroke-width="12"/><path d="M260.9 938.5L271.8 935.2" stroke="#375892" stroke-width="12"/><path d="M305.4 956.2L271.8 935.2" stroke="#3a5592" stroke-width="12"/><path d="M304.7 1081.1L328.2 1087.6" stroke="#2e6490" stroke-width="12"/><path d="M304.7 1081.1L293.6 1043.5" stroke="#316091" stroke-width="12"/><path d="M328.2 1087.6L345.2 1065.8" stroke="#2d6490" stroke-width="12"/><path d="M345.2 1065.8L333.3 1032.5" stroke="#2f6290" stroke-width="12"/><path d="M333.3 1032.5L300.8 1038.1" stroke="#325f91" stroke-width="12"/><path d="M293.6 1043.5L300.8 1038.1" stroke="#335e91" stroke-width="12"/><path d="M330.5 1100.9L328.2 1087.6" stroke="#2c6690" stroke-width="12"/><path d="M282.5 1090.3L304.7 1081.1" stroke="#2d6490" stroke-width="12"/><path d="M272.7 1043.5L293.6 1043.5" stroke="#306191" stroke-width="12"/><path d="M379.4 1068.9L345.2 1065.8" stroke="#2c6690" stroke-width="12"/><path d="M340.2 1016.4L333.3 1032.5" stroke="#316091" stroke-width="12"/><path d="M289.7 994.8L300.8 1038.1" stroke="#355b91" stroke-width="12"/><path d="M257.3 1024.0L261.5 995.9" stroke="#306191" stroke-width="12"/><path d="M54.4 1152.9L65.1 1166.8" stroke="#148288" stroke-width="12"/><path d="M55.0 1210.0L57.5 1208.2" stroke="#148288" stroke-width="12"/><path d="M57.5 1208.2L65.1 1166.8" stroke="#148288" stroke-width="12"/><path d="M105.0 1260.0L105.0 1220.5" stroke="#158189" stroke-width="12"/><path d="M57.5 1208.2L105.0 1220.5" stroke="#158188" stroke-width="12"/><path d="M155.0 1208.9L134.7 1202.6" stroke="#168089" stroke-width="12"/><path d="M105.0 1220.5L134.7 1202.6" stroke="#168089" stroke-width="12"/><path d="M133.5 1093.6L117.4 1082.1" stroke="#187e8a" stroke-width="12"/><path d="M133.5 1093.6L133.5 1139.8" stroke="#177f8a" stroke-width="12"/><path d="M117.4 1082.1L78.0 1100.0" stroke="#168089" stroke-width="12"/><path d="M78.0 1100.0L111.2 1155.3" stroke="#168089" stroke-width="12"/><path d="M133.5 1139.8L117.9 1156.5" stroke="#168089" stroke-width="12"/><path d="M111.2 1155.3L117.9 1156.5" stroke="#168089" stroke-width="12"/><path d="M116.9 1038.5L114.5 1042.5" stroke="#197d8b" stroke-width="12"/><path d="M116.9 1038.5L177.2 1038.5" stroke="#1b7b8b" stroke-width="12"/><path d="M161.9 1088.9L133.5 1093.6" stroke="#187e8a" stroke-width="12"/><path d="M181.9 1066.2L177.2 1038.5" stroke="#1e778d" stroke-width="12"/><path d="M114.5 1042.5L117.4 1082.1" stroke="#187e8a" stroke-width="12"/><path d="M177.3 1144.7L133.5 1139.8" stroke="#187e8a" stroke-width="12"/><path d="M114.5 1042.5L58.9 1042.5" stroke="#177f8a" stroke-width="12"/><path d="M67.0 1100.0L78.0 1100.0" stroke="#158189" stroke-width="12"/><path d="M58.9 1042.5L52.2 1063.0" stroke="#158189" stroke-width="12"/><path d="M65.1 1166.8L111.2 1155.3" stroke="#158189" stroke-width="12"/><path d="M134.7 1202.6L117.9 1156.5" stroke="#168089" stroke-width="12"/><path d="M-2.1 930.7L-16.4 955.0" stroke="#148388" stroke-width="12"/><path d="M-13.6 905.0L-2.1 930.7" stroke="#148288" stroke-width="12"/><path d="M-16.4 955.0L-51.0 955.0" stroke="#148387" stroke-width="12"/><path d="M41.6 888.7L58.0 913.3" stroke="#197d8a" stroke-width="12"/><path d="M-2.1 930.7L22.7 933.0" stroke="#148388" stroke-width="12"/><path d="M22.7 933.0L58.0 913.3" stroke="#177f8a" stroke-width="12"/><path d="M93.6 857.6L99.4 875.7" stroke="#24708e" stroke-width="12"/><path d="M99.4 875.7L62.7 914.5" stroke="#1e788c" stroke-width="12"/><path d="M62.7 914.5L58.0 913.3" stroke="#1a7c8b" stroke-width="12"/><path d="M58.9 1042.5L50.1 1024.5" stroke="#168089" stroke-width="12"/><path d="M-9.0 1055.0L-0.7 1024.5" stroke="#148587" stroke-width="12"/><path d="M50.1 1024.5L-0.7 1024.5" stroke="#148288" stroke-width="12"/><path d="M22.7 933.0L37.1 976.4" stroke="#158189" stroke-width="12"/><path d="M-16.4 955.0L-3.4 988.0" stroke="#148487" stroke-width="12"/><path d="M37.1 976.4L-3.4 988.0" stroke="#148388" stroke-width="12"/><path d="M-51.0 1005.0L-9.4 1005.0" stroke="#148587" stroke-width="12"/><path d="M-0.7 1024.5L-9.4 1005.0" stroke="#148587" stroke-width="12"/><path d="M-9.4 1005.0L-3.4 988.0" stroke="#148587" stroke-width="12"/><path d="M90.7 798.4L94.0 775.4" stroke="#23718e" stroke-width="12"/><path d="M41.2 764.5L51.4 753.5" stroke="#1a7c8b" stroke-width="12"/><path d="M94.0 775.4L54.6 752.8" stroke="#1f768d" stroke-width="12"/><path d="M51.4 753.5L54.6 752.8" stroke="#1b7b8c" stroke-width="12"/><path d="M5.0 703.2L18.8 704.7" stroke="#177f89" stroke-width="12"/><path d="M51.4 753.5L18.8 704.7" stroke="#197d8b" stroke-width="12"/><path d="M155.0 693.4L139.4 704.6" stroke="#2c6690" stroke-width="12"/><path d="M155.0 693.4L198.9 701.3" stroke="#306191" stroke-width="12"/><path d="M190.0 741.4L198.9 701.3" stroke="#335e91" stroke-width="12"/><path d="M190.0 741.4L149.2 743.7" stroke="#306191" stroke-width="12"/><path d="M139.4 704.6L149.2 743.7" stroke="#2c6690" stroke-width="12"/><path d="M151.8 785.0L137.9 820.9" stroke="#2f6290" stroke-width="12"/><path d="M151.8 785.0L139.8 764.2" stroke="#2e6390" stroke-width="12"/><path d="M113.9 823.5L137.9 820.9" stroke="#2c6690" stroke-width="12"/><path d="M94.0 775.4L109.2 763.1" stroke="#256f8e" stroke-width="12"/><path d="M139.8 764.2L109.2 763.1" stroke="#2a698f" stroke-width="12"/><path d="M260.9 938.5L245.0 932.1" stroke="#365a91" stroke-width="12"/><path d="M245.0 932.1L202.7 951.6" stroke="#316091" stroke-width="12"/><path d="M257.6 991.1L217.5 988.4" stroke="#2e6390" stroke-width="12"/><path d="M202.7 951.6L217.5 988.4" stroke="#2c6690" stroke-width="12"/><path d="M228.5 1035.3L198.5 1018.0" stroke="#276d8f" stroke-width="12"/><path d="M217.5 988.4L198.5 1018.0" stroke="#286b8f" stroke-width="12"/><path d="M177.2 1038.5L186.5 1021.6" stroke="#21748d" stroke-width="12"/><path d="M186.5 1021.6L198.5 1018.0" stroke="#24708e" stroke-width="12"/><path d="M202.7 951.6L184.5 945.7" stroke="#2c6690" stroke-width="12"/><path d="M161.2 990.0L172.9 951.3" stroke="#256f8e" stroke-width="12"/><path d="M161.2 990.0L186.5 1021.6" stroke="#22738d" stroke-width="12"/><path d="M172.9 951.3L184.5 945.7" stroke="#2a698f" stroke-width="12"/><path d="M318.2 704.1L305.0 696.9" stroke="#3d4f91" stroke-width="12"/><path d="M305.0 696.9L305.0 654.0" stroke="#3e4f91" stroke-width="12"/><path d="M151.8 785.0L197.0 785.0" stroke="#325e91" stroke-width="12"/><path d="M156.9 839.9L137.9 820.9" stroke="#316091" stroke-width="12"/><path d="M156.9 839.9L197.0 819.3" stroke="#345c91" stroke-width="12"/><path d="M197.0 819.3L197.0 785.0" stroke="#365a91" stroke-width="12"/><path d="M539.5 894.5L555.2 901.2" stroke="#22738d" stroke-width="12"/><path d="M539.5 894.5L528.6 867.8" stroke="#23728e" stroke-width="12"/><path d="M532.5 860.7L528.6 867.8" stroke="#23718e" stroke-width="12"/><path d="M532.5 860.7L596.4 855.7" stroke="#22738d" stroke-width="12"/><path d="M555.2 901.2L594.1 886.9" stroke="#20748d" stroke-width="12"/><path d="M596.4 855.7L594.1 886.9" stroke="#21748d" stroke-width="12"/><path d="M507.0 930.4L539.5 894.5" stroke="#22728e" stroke-width="12"/><path d="M564.0 946.1L555.2 901.2" stroke="#21748d" stroke-width="12"/><path d="M494.4 871.3L528.6 867.8" stroke="#24708e" stroke-width="12"/><path d="M531.2 825.0L532.5 860.7" stroke="#24708e" stroke-width="12"/><path d="M596.8 855.0L596.4 855.7" stroke="#21748d" stroke-width="12"/><path d="M607.2 905.0L594.1 886.9" stroke="#20758d" stroke-width="12"/><path d="M351.9 917.0L340.0 925.4" stroke="#365a91" stroke-width="12"/><path d="M351.9 917.0L355.6 876.5" stroke="#365a91" stroke-width="12"/><path d="M340.0 925.4L308.8 908.4" stroke="#395692" stroke-width="12"/><path d="M308.8 908.4L314.4 874.0" stroke="#3c5191" stroke-width="12"/><path d="M314.4 874.0L353.6 874.0" stroke="#3a5492" stroke-width="12"/><path d="M353.6 874.0L355.6 876.5" stroke="#375992" stroke-width="12"/><path d="M389.2 931.0L351.9 917.0" stroke="#325f91" stroke-width="12"/><path d="M332.1 949.5L340.0 925.4" stroke="#375992" stroke-width="12"/><path d="M397.4 876.5L355.6 876.5" stroke="#335d91" stroke-width="12"/><path d="M271.8 935.2L284.4 915.9" stroke="#3a5592" stroke-width="12"/><path d="M284.4 915.9L308.8 908.4" stroke="#3c5191" stroke-width="12"/><path d="M273.6 875.0L305.0 866.6" stroke="#3e4e91" stroke-width="12"/><path d="M273.6 875.0L284.4 915.9" stroke="#3c5292" stroke-width="12"/><path d="M305.0 866.6L314.4 874.0" stroke="#3e4f91" stroke-width="12"/><path d="M306.7 830.7L305.0 866.6" stroke="#3f4c91" stroke-width="12"/><path d="M323.4 818.8L306.7 830.7" stroke="#3e4e91" stroke-width="12"/><path d="M353.6 838.3L353.6 874.0" stroke="#385792" stroke-width="12"/><path d="M132.4 890.6L126.9 934.1" stroke="#266d8f" stroke-width="12"/><path d="M99.4 875.7L132.4 890.6" stroke="#276d8f" stroke-width="12"/><path d="M62.7 914.5L66.7 920.4" stroke="#1a7c8b" stroke-width="12"/><path d="M66.7 920.4L126.9 934.1" stroke="#1e778d" stroke-width="12"/><path d="M302.0 759.2L274.6 749.4" stroke="#3d4f91" stroke-width="12"/><path d="M305.0 696.9L278.2 703.2" stroke="#3d4f91" stroke-width="12"/><path d="M274.6 749.4L278.2 703.2" stroke="#3c5292" stroke-width="12"/><path d="M55.0 689.7L88.9 707.6" stroke="#1e778d" stroke-width="12"/><path d="M55.0 689.7L55.0 654.0" stroke="#1b7b8c" stroke-width="12"/><path d="M105.0 654.0L105.0 700.5" stroke="#24708e" stroke-width="12"/><path d="M105.0 700.5L94.1 707.3" stroke="#23718e" stroke-width="12"/><path d="M88.9 707.6L94.1 707.3" stroke="#22738d" stroke-width="12"/><path d="M54.6 752.8L88.9 707.6" stroke="#1e778d" stroke-width="12"/><path d="M18.8 704.7L55.0 689.7" stroke="#197d8b" stroke-width="12"/><path d="M139.4 704.6L105.0 700.5" stroke="#286b8f" stroke-width="12"/><path d="M155.0 654.0L155.0 693.4" stroke="#2d6490" stroke-width="12"/><path d="M109.2 763.1L94.1 707.3" stroke="#24708e" stroke-width="12"/><path d="M149.2 743.7L139.8 764.2" stroke="#2d6490" stroke-width="12"/><path d="M156.9 839.9L157.3 842.7" stroke="#335e91" stroke-width="12"/><path d="M132.4 890.6L140.8 886.6" stroke="#2b6890" stroke-width="12"/><path d="M157.3 842.7L140.8 886.6" stroke="#306191" stroke-width="12"/><path d="M126.9 934.1L128.2 937.0" stroke="#23718e" stroke-width="12"/><path d="M172.9 951.3L128.2 937.0" stroke="#266e8e" stroke-width="12"/><path d="M184.5 945.7L184.5 901.2" stroke="#2e6490" stroke-width="12"/><path d="M140.8 886.6L184.5 901.2" stroke="#2e6390" stroke-width="12"/><path d="M258.8 822.1L260.7 869.1" stroke="#3d5091" stroke-width="12"/><path d="M258.8 822.1L258.5 821.7" stroke="#3c5192" stroke-width="12"/><path d="M258.5 821.7L214.6 835.3" stroke="#3a5492" stroke-width="12"/><path d="M214.6 835.3L208.1 876.6" stroke="#385792" stroke-width="12"/><path d="M260.7 869.1L229.6 886.6" stroke="#3a5592" stroke-width="12"/><path d="M229.6 886.6L209.0 879.4" stroke="#365a91" stroke-width="12"/><path d="M208.1 876.6L209.0 879.4" stroke="#355b91" stroke-width="12"/><path d="M306.7 830.7L258.8 822.1" stroke="#3e4e91" stroke-width="12"/><path d="M273.6 875.0L260.7 869.1" stroke="#3c5292" stroke-width="12"/><path d="M309.8 779.9L257.2 802.7" stroke="#3e4f91" stroke-width="12"/><path d="M257.2 802.7L258.5 821.7" stroke="#3c5292" stroke-width="12"/><path d="M197.0 819.3L214.6 835.3" stroke="#375892" stroke-width="12"/><path d="M157.3 842.7L208.1 876.6" stroke="#345c91" stroke-width="12"/><path d="M245.0 932.1L229.6 886.6" stroke="#365a91" stroke-width="12"/><path d="M184.5 901.2L209.0 879.4" stroke="#335e91" stroke-width="12"/><path d="M70.7 959.3L108.8 972.6" stroke="#1a7c8b" stroke-width="12"/><path d="M70.7 959.3L49.4 980.6" stroke="#187e8a" stroke-width="12"/><path d="M56.8 1003.9L49.4 980.6" stroke="#168089" stroke-width="12"/><path d="M56.8 1003.9L115.2 1000.5" stroke="#187e8a" stroke-width="12"/><path d="M108.8 972.6L115.6 999.8" stroke="#1b7b8c" stroke-width="12"/><path d="M115.2 1000.5L115.6 999.8" stroke="#1b7b8b" stroke-width="12"/><path d="M66.7 920.4L70.7 959.3" stroke="#1a7c8b" stroke-width="12"/><path d="M128.2 937.0L108.8 972.6" stroke="#1f768d" stroke-width="12"/><path d="M37.1 976.4L49.4 980.6" stroke="#168089" stroke-width="12"/><path d="M50.1 1024.5L56.8 1003.9" stroke="#168089" stroke-width="12"/><path d="M116.9 1038.5L115.2 1000.5" stroke="#1a7c8b" stroke-width="12"/><path d="M161.2 990.0L115.6 999.8" stroke="#1d798c" stroke-width="12"/><path d="M256.4 758.7L237.6 746.0" stroke="#3a5592" stroke-width="12"/><path d="M256.4 758.7L252.7 795.3" stroke="#3b5392" stroke-width="12"/><path d="M237.6 746.0L201.6 761.5" stroke="#375992" stroke-width="12"/><path d="M252.7 795.3L197.7 784.3" stroke="#385792" stroke-width="12"/><path d="M201.6 761.5L197.7 784.3" stroke="#355b91" stroke-width="12"/><path d="M274.6 749.4L256.4 758.7" stroke="#3b5292" stroke-width="12"/><path d="M257.2 802.7L252.7 795.3" stroke="#3b5392" stroke-width="12"/><path d="M197.0 785.0L197.7 784.3" stroke="#355b91" stroke-width="12"/><path d="M190.0 741.4L201.6 761.5" stroke="#345d91" stroke-width="12"/><path d="M232.6 704.3L255.0 694.4" stroke="#385792" stroke-width="12"/><path d="M232.6 704.3L205.0 698.0" stroke="#355b91" stroke-width="12"/><path d="M255.0 694.4L255.0 654.0" stroke="#3a5592" stroke-width="12"/><path d="M205.0 698.0L205.0 654.0" stroke="#345d91" stroke-width="12"/><path d="M237.6 746.0L232.6 704.3" stroke="#385892" stroke-width="12"/><path d="M278.2 703.2L255.0 694.4" stroke="#3b5392" stroke-width="12"/><path d="M198.9 701.3L205.0 698.0" stroke="#335d91" stroke-width="12"/></g>
<g filter="url(#blurJ)"><circle cx="405.0" cy="704.4" r="5.0" fill="#158189"/><circle cx="391.6" cy="710.8" r="4.9" fill="#168089"/><circle cx="391.2" cy="712.0" r="4.9" fill="#168089"/><circle cx="590.7" cy="709.9" r="6.4" fill="#129780"/><circle cx="441.2" cy="710.5" r="5.2" fill="#148388"/><circle cx="591.6" cy="825.0" r="6.6" fill="#12997f"/><circle cx="589.7" cy="784.5" r="6.5" fill="#12987f"/><circle cx="485.7" cy="1204.6" r="5.9" fill="#138f83"/><circle cx="488.2" cy="1175.6" r="6.0" fill="#139083"/><circle cx="329.0" cy="1201.5" r="6.3" fill="#129680"/><circle cx="0.7" cy="1206.9" r="8.0" fill="#24ab6f"/><circle cx="54.4" cy="1152.9" r="7.8" fill="#1eaa6e"/><circle cx="1.7" cy="1145.6" r="8.0" fill="#24ab6f"/><circle cx="228.5" cy="1084.0" r="6.5" fill="#129880"/><circle cx="151.8" cy="785.0" r="5.6" fill="#138985"/><circle cx="457.0" cy="806.0" r="5.9" fill="#138f83"/><circle cx="442.9" cy="746.6" r="5.4" fill="#148686"/><circle cx="479.9" cy="773.5" r="5.8" fill="#138e84"/><circle cx="441.3" cy="866.2" r="6.1" fill="#139282"/><circle cx="495.4" cy="709.5" r="5.6" fill="#138a85"/><circle cx="555.0" cy="704.3" r="6.1" fill="#139382"/><circle cx="409.4" cy="917.3" r="5.8" fill="#138d84"/><circle cx="255.9" cy="1081.0" r="6.1" fill="#139282"/><circle cx="233.3" cy="1089.7" r="6.4" fill="#129780"/><circle cx="337.0" cy="1005.5" r="5.4" fill="#148686"/><circle cx="297.9" cy="990.5" r="5.0" fill="#158189"/><circle cx="365.1" cy="1127.9" r="6.0" fill="#139182"/><circle cx="434.2" cy="1145.1" r="6.1" fill="#139282"/><circle cx="477.9" cy="1156.6" r="6.0" fill="#139082"/><circle cx="428.0" cy="1155.5" r="6.1" fill="#139282"/><circle cx="392.4" cy="1169.2" r="6.1" fill="#139282"/><circle cx="383.8" cy="1208.5" r="6.2" fill="#139381"/><circle cx="-0.9" cy="1205.0" r="8.0" fill="#24ab6f"/><circle cx="65.9" cy="1101.1" r="7.8" fill="#1da96f"/><circle cx="-0.7" cy="1109.4" r="8.0" fill="#24ab6f"/><circle cx="116.9" cy="1038.5" r="7.3" fill="#18a376"/><circle cx="161.9" cy="1088.9" r="7.2" fill="#17a277"/><circle cx="181.9" cy="1066.2" r="6.8" fill="#139e7c"/><circle cx="-0.9" cy="706.6" r="7.6" fill="#1ba771"/><circle cx="90.7" cy="798.4" r="6.5" fill="#129880"/><circle cx="50.1" cy="812.0" r="7.1" fill="#16a179"/><circle cx="46.3" cy="808.5" r="7.2" fill="#17a178"/><circle cx="41.2" cy="764.5" r="7.2" fill="#17a277"/><circle cx="228.5" cy="1035.3" r="6.1" fill="#139282"/><circle cx="257.6" cy="991.1" r="5.5" fill="#148786"/><circle cx="260.9" cy="938.5" r="5.1" fill="#148288"/><circle cx="586.7" cy="1078.8" r="5.9" fill="#138e83"/><circle cx="590.7" cy="1149.8" r="5.7" fill="#138b84"/><circle cx="542.0" cy="1154.7" r="5.8" fill="#138d84"/><circle cx="501.7" cy="1113.0" r="6.0" fill="#139083"/><circle cx="500.6" cy="1108.5" r="6.0" fill="#139083"/><circle cx="545.9" cy="1148.1" r="5.8" fill="#138d84"/><circle cx="546.2" cy="1148.0" r="5.8" fill="#138d84"/><circle cx="535.1" cy="1074.5" r="6.0" fill="#139182"/><circle cx="557.6" cy="1082.1" r="5.9" fill="#138f83"/><circle cx="353.8" cy="776.3" r="4.8" fill="#168089"/><circle cx="302.0" cy="759.2" r="4.3" fill="#1a7c8b"/><circle cx="348.1" cy="745.1" r="4.7" fill="#177f8a"/><circle cx="322.7" cy="729.2" r="4.5" fill="#187e8a"/><circle cx="323.4" cy="818.8" r="4.5" fill="#187e8a"/><circle cx="309.8" cy="779.9" r="4.4" fill="#197d8b"/><circle cx="324.8" cy="791.0" r="4.5" fill="#187e8a"/><circle cx="414.8" cy="855.2" r="5.7" fill="#138c84"/><circle cx="397.4" cy="876.5" r="5.6" fill="#138985"/><circle cx="353.6" cy="838.3" r="4.9" fill="#168089"/><circle cx="395.2" cy="774.1" r="5.2" fill="#148388"/><circle cx="382.4" cy="783.6" r="5.1" fill="#148288"/><circle cx="418.1" cy="776.1" r="5.4" fill="#148686"/><circle cx="445.3" cy="805.4" r="5.8" fill="#138d84"/><circle cx="383.9" cy="820.6" r="5.2" fill="#148487"/><circle cx="524.8" cy="815.3" r="6.3" fill="#139581"/><circle cx="531.2" cy="825.0" r="6.4" fill="#129680"/><circle cx="475.8" cy="830.5" r="6.2" fill="#139382"/><circle cx="474.3" cy="848.4" r="6.3" fill="#139581"/><circle cx="494.4" cy="871.3" r="6.4" fill="#129680"/><circle cx="497.6" cy="766.5" r="5.9" fill="#138f83"/><circle cx="500.2" cy="761.4" r="5.9" fill="#138f83"/><circle cx="525.2" cy="810.0" r="6.3" fill="#139581"/><circle cx="563.7" cy="777.7" r="6.4" fill="#129680"/><circle cx="548.5" cy="755.2" r="6.2" fill="#139481"/><circle cx="387.7" cy="970.0" r="5.7" fill="#138c84"/><circle cx="389.2" cy="931.0" r="5.6" fill="#138a85"/><circle cx="349.1" cy="973.9" r="5.4" fill="#148687"/><circle cx="428.5" cy="1031.2" r="6.2" fill="#139381"/><circle cx="452.9" cy="1012.8" r="6.4" fill="#129680"/><circle cx="394.8" cy="1016.1" r="5.9" fill="#138f83"/><circle cx="398.1" cy="980.3" r="5.9" fill="#138e83"/><circle cx="433.1" cy="973.0" r="6.2" fill="#139381"/><circle cx="444.5" cy="957.0" r="6.3" fill="#139581"/><circle cx="431.4" cy="921.1" r="6.1" fill="#139282"/><circle cx="450.5" cy="904.3" r="6.3" fill="#139581"/><circle cx="477.6" cy="958.5" r="6.4" fill="#129780"/><circle cx="480.3" cy="905.8" r="6.4" fill="#129680"/><circle cx="268.5" cy="1170.8" r="6.5" fill="#12987f"/><circle cx="268.5" cy="1137.6" r="6.3" fill="#129680"/><circle cx="326.3" cy="1169.9" r="6.2" fill="#139381"/><circle cx="330.5" cy="1100.9" r="5.9" fill="#138e83"/><circle cx="282.5" cy="1090.3" r="5.9" fill="#138f83"/><circle cx="304.5" cy="1132.0" r="6.0" fill="#139083"/><circle cx="288.8" cy="1128.6" r="6.1" fill="#139282"/><circle cx="389.5" cy="1019.8" r="5.9" fill="#138e83"/><circle cx="379.4" cy="1068.9" r="5.9" fill="#138f83"/><circle cx="340.2" cy="1016.4" r="5.5" fill="#148886"/><circle cx="431.8" cy="1131.6" r="6.1" fill="#139282"/><circle cx="397.5" cy="1086.0" r="6.0" fill="#139182"/><circle cx="431.6" cy="1063.3" r="6.2" fill="#139381"/><circle cx="465.1" cy="1076.7" r="6.2" fill="#139481"/><circle cx="470.7" cy="1092.2" r="6.1" fill="#139282"/><circle cx="225.0" cy="1168.3" r="6.9" fill="#149e7c"/><circle cx="188.9" cy="1126.5" r="7.1" fill="#16a079"/><circle cx="229.1" cy="1115.1" r="6.6" fill="#129a7f"/><circle cx="231.2" cy="1118.6" r="6.6" fill="#129a7f"/><circle cx="266.7" cy="1172.9" r="6.5" fill="#12997f"/><circle cx="234.9" cy="1176.8" r="6.8" fill="#139d7d"/><circle cx="155.0" cy="1208.9" r="7.6" fill="#1ba672"/><circle cx="174.0" cy="1203.0" r="7.4" fill="#19a574"/><circle cx="177.3" cy="1144.7" r="7.2" fill="#17a277"/><circle cx="186.3" cy="1175.7" r="7.2" fill="#18a277"/><circle cx="58.9" cy="1042.5" r="7.7" fill="#1ca870"/><circle cx="52.2" cy="1063.0" r="7.7" fill="#1da96f"/><circle cx="156.9" cy="839.9" r="5.4" fill="#148686"/><circle cx="113.9" cy="823.5" r="6.1" fill="#139182"/><circle cx="137.9" cy="820.9" r="5.7" fill="#138b85"/><circle cx="51.8" cy="844.5" r="7.1" fill="#16a079"/><circle cx="46.1" cy="850.0" r="7.2" fill="#17a278"/><circle cx="99.4" cy="875.7" r="6.4" fill="#129780"/><circle cx="41.6" cy="888.7" r="7.4" fill="#19a475"/><circle cx="94.0" cy="775.4" r="6.4" fill="#129780"/><circle cx="257.3" cy="1024.0" r="5.7" fill="#138b84"/><circle cx="272.7" cy="1043.5" r="5.7" fill="#138b85"/><circle cx="289.7" cy="994.8" r="5.1" fill="#148288"/><circle cx="261.5" cy="995.9" r="5.4" fill="#148786"/><circle cx="245.0" cy="932.1" r="5.2" fill="#148388"/><circle cx="318.2" cy="704.1" r="4.5" fill="#187e8a"/><circle cx="527.5" cy="1054.7" r="6.2" fill="#139481"/><circle cx="479.6" cy="1015.2" r="6.4" fill="#129780"/><circle cx="549.7" cy="1012.2" r="6.6" fill="#129a7f"/><circle cx="587.2" cy="1014.8" r="6.6" fill="#129a7f"/><circle cx="306.7" cy="830.7" r="4.3" fill="#1a7c8b"/><circle cx="507.0" cy="930.4" r="6.5" fill="#129880"/><circle cx="564.0" cy="946.1" r="6.7" fill="#129b7e"/><circle cx="332.1" cy="949.5" r="5.1" fill="#148288"/><circle cx="305.4" cy="956.2" r="4.8" fill="#168089"/><circle cx="271.8" cy="935.2" r="4.9" fill="#158189"/><circle cx="304.7" cy="1081.1" r="5.7" fill="#138b85"/><circle cx="328.2" cy="1087.6" r="5.8" fill="#138d84"/><circle cx="345.2" cy="1065.8" r="5.8" fill="#138c84"/><circle cx="333.3" cy="1032.5" r="5.5" fill="#148886"/><circle cx="293.6" cy="1043.5" r="5.4" fill="#148786"/><circle cx="300.8" cy="1038.1" r="5.3" fill="#148587"/><circle cx="57.5" cy="1208.2" r="7.9" fill="#1faa6e"/><circle cx="134.7" cy="1202.6" r="7.6" fill="#1ca871"/><circle cx="133.5" cy="1093.6" r="7.4" fill="#1aa574"/><circle cx="78.0" cy="1100.0" r="7.7" fill="#1da870"/><circle cx="133.5" cy="1139.8" r="7.5" fill="#1ba672"/><circle cx="111.2" cy="1155.3" r="7.6" fill="#1ca871"/><circle cx="22.7" cy="933.0" r="7.7" fill="#1da96f"/><circle cx="62.7" cy="914.5" r="7.2" fill="#17a278"/><circle cx="50.1" cy="1024.5" r="7.7" fill="#1ca870"/><circle cx="37.1" cy="976.4" r="7.7" fill="#1ca870"/><circle cx="-0.7" cy="1024.5" r="8.0" fill="#24ab6f"/><circle cx="190.0" cy="741.4" r="5.4" fill="#148687"/><circle cx="51.4" cy="753.5" r="7.1" fill="#16a079"/><circle cx="18.8" cy="704.7" r="7.5" fill="#1aa573"/><circle cx="139.4" cy="704.6" r="5.9" fill="#138f83"/><circle cx="149.2" cy="743.7" r="5.7" fill="#138c84"/><circle cx="139.8" cy="764.2" r="5.8" fill="#138d84"/><circle cx="109.2" cy="763.1" r="6.2" fill="#139481"/><circle cx="202.7" cy="951.6" r="5.8" fill="#138d84"/><circle cx="161.2" cy="990.0" r="6.6" fill="#129a7f"/><circle cx="217.5" cy="988.4" r="5.9" fill="#138f83"/><circle cx="186.5" cy="1021.6" r="6.5" fill="#12987f"/><circle cx="198.5" cy="1018.0" r="6.3" fill="#129680"/><circle cx="132.4" cy="890.6" r="6.0" fill="#139182"/><circle cx="172.9" cy="951.3" r="6.1" fill="#139282"/><circle cx="257.2" cy="802.7" r="4.6" fill="#177f8a"/><circle cx="197.0" cy="819.3" r="5.1" fill="#148288"/><circle cx="197.0" cy="785.0" r="5.2" fill="#148388"/><circle cx="539.5" cy="894.5" r="6.5" fill="#12997f"/><circle cx="532.5" cy="860.7" r="6.5" fill="#129880"/><circle cx="528.6" cy="867.8" r="6.5" fill="#129880"/><circle cx="555.2" cy="901.2" r="6.6" fill="#129a7f"/><circle cx="273.6" cy="875.0" r="4.6" fill="#187e8a"/><circle cx="284.4" cy="915.9" r="4.7" fill="#177f89"/><circle cx="305.0" cy="866.6" r="4.4" fill="#197d8b"/><circle cx="351.9" cy="917.0" r="5.2" fill="#148388"/><circle cx="340.0" cy="925.4" r="5.1" fill="#148288"/><circle cx="308.8" cy="908.4" r="4.6" fill="#187e8a"/><circle cx="314.4" cy="874.0" r="4.5" fill="#187e8a"/><circle cx="353.6" cy="874.0" r="5.0" fill="#158188"/><circle cx="355.6" cy="876.5" r="5.0" fill="#158188"/><circle cx="66.7" cy="920.4" r="7.1" fill="#17a178"/><circle cx="126.9" cy="934.1" r="6.5" fill="#129880"/><circle cx="128.2" cy="937.0" r="6.5" fill="#129880"/><circle cx="274.6" cy="749.4" r="4.6" fill="#187e8a"/><circle cx="88.9" cy="707.6" r="6.6" fill="#129a7f"/><circle cx="94.1" cy="707.3" r="6.5" fill="#12997f"/><circle cx="157.3" cy="842.7" r="5.4" fill="#148686"/><circle cx="140.8" cy="886.6" r="5.9" fill="#138e83"/><circle cx="184.5" cy="901.2" r="5.6" fill="#138985"/><circle cx="258.8" cy="822.1" r="4.6" fill="#187e8a"/><circle cx="258.5" cy="821.7" r="4.6" fill="#187e8a"/><circle cx="214.6" cy="835.3" r="4.9" fill="#158189"/><circle cx="260.7" cy="869.1" r="4.6" fill="#177f8a"/><circle cx="229.6" cy="886.6" r="5.0" fill="#158188"/><circle cx="208.1" cy="876.6" r="5.1" fill="#148288"/><circle cx="209.0" cy="879.4" r="5.2" fill="#148388"/><circle cx="70.7" cy="959.3" r="7.3" fill="#18a376"/><circle cx="56.8" cy="1003.9" r="7.6" fill="#1ba771"/><circle cx="49.4" cy="980.6" r="7.6" fill="#1ba772"/><circle cx="108.8" cy="972.6" r="7.0" fill="#159f7b"/><circle cx="115.2" cy="1000.5" r="7.1" fill="#16a179"/><circle cx="115.6" cy="999.8" r="7.1" fill="#16a179"/><circle cx="256.4" cy="758.7" r="4.7" fill="#177f89"/><circle cx="237.6" cy="746.0" r="4.9" fill="#158189"/><circle cx="252.7" cy="795.3" r="4.7" fill="#177f8a"/><circle cx="201.6" cy="761.5" r="5.2" fill="#148387"/><circle cx="197.7" cy="784.3" r="5.2" fill="#148388"/><circle cx="232.6" cy="704.3" r="5.0" fill="#158188"/></g>
<g filter="url(#blurC)"><path d="M-5.7,746.7 -5.9,750.9 -4.5,754.9 -1.8,758.2 1.8,760.4 6.0,761.1 29.9,761.1 34.9,760.0 39.0,756.9 41.4,752.4 41.7,747.2 39.9,742.4 21.7,715.1 18.4,711.8 14.0,710.0 9.4,710.0 5.1,711.7 1.7,715.0 -0.1,719.3Z" fill="#392561"/><path d="M43.4,736.1 46.6,739.3 50.8,741.2 55.3,741.3 59.6,739.7 63.0,736.7 75.7,719.9 77.9,715.2 77.9,710.0 75.7,705.4 71.8,702.0 59.8,695.7 54.8,694.3 49.6,695.2 36.9,700.5 32.6,703.5 30.0,708.1 29.6,713.4 31.5,718.3Z" fill="#38215d"/><path d="M98.0,732.2 96.0,728.2 92.8,725.2 88.7,723.6 84.3,723.6 80.1,725.1 76.8,728.1 67.0,741.1 64.9,745.7 64.8,750.8 66.8,755.4 70.6,758.8 86.4,767.8 90.8,769.3 95.5,769.0 99.7,766.9 102.7,763.3 104.2,758.9 103.9,754.2Z" fill="#371c5a"/><path d="M112.8,703.9 108.2,704.3 104.0,706.4 101.0,709.9 99.5,714.3 99.8,719.0 108.8,752.1 111.1,756.6 115.0,759.7 119.9,761.0 130.2,761.4 134.8,760.6 138.8,758.2 141.6,754.4 144.8,747.3 145.9,743.4 145.6,739.4 139.4,714.9 137.3,710.5 133.7,707.4 129.2,705.9Z" fill="#371856"/><path d="M179.2,739.9 184.1,738.5 188.0,735.2 190.2,730.5 193.6,715.2 193.7,710.4 191.9,705.9 188.4,702.6 184.0,700.8 160.5,696.6 155.7,696.7 151.4,698.6 148.5,700.7 145.2,704.2 143.6,708.7 143.8,713.4 148.4,731.9 150.1,735.6 153.0,738.6 156.7,740.5 160.8,740.9Z" fill="#351150"/><path d="M213.0,701.8 208.3,701.6 204.0,703.3 200.6,706.6 198.7,710.9 193.0,736.5 192.8,741.0 194.3,745.2 197.1,749.9 199.9,753.2 203.7,755.3 207.9,755.9 212.2,754.9 227.3,748.4 231.5,745.4 234.0,741.0 234.5,735.9 232.0,714.2 230.4,709.6 227.1,706.0 222.7,704.0Z" fill="#350d4c"/><path d="M242.5,701.7 238.4,704.7 235.9,709.1 235.4,714.1 238.5,739.6 240.1,744.5 243.7,748.2 250.6,752.9 254.5,754.6 258.7,754.8 262.8,753.6 267.1,751.4 270.3,749.0 272.6,745.6 273.6,741.7 275.8,713.2 275.1,708.2 272.4,703.9 268.1,701.1 259.6,697.9 255.1,697.1 250.6,698.1Z" fill="#330746"/><path d="M276.8,739.3 277.5,744.4 280.3,748.8 284.7,751.5 292.8,754.5 298.0,755.1 302.9,753.5 306.7,750.0 318.5,733.0 320.3,728.7 320.4,724.0 318.0,710.6 315.9,705.7 311.9,702.2 308.8,700.5 304.7,699.2 300.3,699.4 288.1,702.3 283.5,704.4 280.3,708.2 278.8,713.0Z" fill="#330444"/><path d="M-4.5,791.6 -4.1,796.7 -1.6,801.0 2.5,804.0 7.4,805.1 29.0,805.1 33.9,804.0 37.9,801.1 40.4,796.7 40.9,791.7 39.4,778.5 38.1,774.4 35.4,771.0 31.7,768.7 27.4,767.9 9.0,767.9 4.7,768.7 1.0,770.9 -1.7,774.3 -3.0,778.5Z" fill="#3a2965"/><path d="M63.0,761.1 58.9,759.6 54.5,759.8 50.4,761.5 47.3,764.5 45.4,768.5 45.1,772.9 47.6,794.4 48.9,798.5 51.4,801.9 55.0,804.1 59.2,805.0 63.4,804.4 81.0,798.5 84.8,796.4 87.7,793.0 89.1,788.9 89.6,785.0 89.4,780.3 87.3,776.0 83.7,772.9Z" fill="#381e5b"/><path d="M99.9,773.7 97.1,777.1 95.6,781.3 94.1,792.0 94.5,797.3 97.1,801.9 110.8,816.6 115.4,819.7 120.8,820.4 128.9,819.5 133.1,818.2 136.6,815.6 138.9,811.9 147.1,790.6 147.8,785.3 146.2,780.2 141.7,772.3 139.1,769.2 135.7,767.1 131.7,766.3 114.5,765.7 110.3,766.3 106.5,768.3Z" fill="#361754"/><path d="M185.7,783.0 189.8,782.2 193.4,780.1 196.1,776.9 197.5,773.0 198.7,766.1 198.7,762.0 197.3,758.1 192.5,749.9 189.7,746.6 185.8,744.5 181.5,744.0 157.7,745.3 153.5,746.3 150.0,748.7 147.5,752.3 144.7,758.5 143.6,764.0 145.2,769.5 149.5,776.9 152.2,780.1 155.8,782.2 159.9,783.0Z" fill="#340d4c"/><path d="M238.2,790.7 243.2,790.7 247.7,788.6 251.0,784.9 252.5,780.1 253.9,766.7 253.5,762.4 251.7,758.5 248.6,755.5 242.9,751.6 239.2,750.0 235.3,749.6 231.4,750.5 209.1,760.1 205.8,762.2 203.3,765.3 202.0,769.1 201.6,771.5 201.7,776.1 203.5,780.3 206.8,783.5 211.1,785.3Z" fill="#340948"/><path d="M255.4,782.5 256.0,787.4 258.5,791.7 262.5,794.6 267.3,795.6 272.2,794.7 297.5,783.7 301.3,781.1 303.8,777.3 304.7,772.9 304.0,768.4 302.9,765.5 300.1,761.2 295.7,758.4 279.6,752.7 274.8,752.0 270.1,753.3 263.6,756.6 260.4,759.0 258.1,762.3 257.1,766.1Z" fill="#330544"/><path d="M47.3,823.3 46.2,818.9 43.6,815.2 39.8,812.8 35.3,811.9 8.4,811.9 3.8,812.8 -0.1,815.4 -2.7,819.3 -3.6,823.9 -3.6,834.6 -2.7,839.2 -0.1,843.1 3.8,845.7 8.4,846.6 35.9,846.6 40.6,845.6 44.6,842.8 47.1,838.7 47.9,834.0Z" fill="#392461"/><path d="M105.8,831.6 107.5,826.8 106.9,821.7 104.3,817.3 95.1,807.3 91.4,804.6 87.0,803.5 82.5,804.1 61.7,811.0 57.3,813.7 54.4,818.0 53.5,823.0 54.1,834.1 55.3,838.8 58.3,842.6 62.5,844.9 83.3,851.4 88.6,851.9 93.5,850.0 97.2,846.1Z" fill="#371b58"/><path d="M125.3,884.9 130.1,886.0 134.8,885.1 138.9,882.3 141.5,878.2 152.6,848.8 153.4,844.3 152.4,839.9 149.8,836.1 141.2,827.4 136.7,824.6 131.4,824.0 121.3,825.1 116.1,826.9 112.2,830.8 98.9,853.2 97.3,858.0 97.8,863.0 99.7,868.9 102.1,873.2 106.1,876.2Z" fill="#35104e"/><path d="M161.4,787.0 156.7,787.9 152.7,790.6 150.2,794.7 143.1,813.2 142.3,817.7 143.2,822.2 145.8,826.0 151.1,831.3 155.3,834.0 160.2,834.8 165.1,833.5 188.5,821.4 192.0,818.7 194.2,815.0 195.0,810.7 195.0,799.0 194.1,794.4 191.5,790.5 187.6,787.9 183.0,787.0Z" fill="#340c4b"/><path d="M213.0,789.1 208.8,789.0 204.8,790.4 201.6,793.1 199.4,796.7 198.7,800.9 198.7,813.2 199.7,818.1 202.6,822.1 209.9,828.8 213.4,831.0 217.4,831.9 221.5,831.4 247.6,823.3 252.2,820.7 255.3,816.3 256.1,811.0 255.8,806.7 254.3,801.7 250.9,797.8 246.1,795.7Z" fill="#340847"/><path d="M266.9,799.9 263.3,802.3 260.8,805.9 259.7,810.1 260.2,814.4 262.2,818.3 265.5,821.2 269.6,822.7 301.5,828.4 306.2,828.3 310.5,826.3 317.4,821.5 321.0,817.4 322.4,812.3 323.1,798.0 322.0,792.3 318.3,787.8 315.2,785.5 311.5,783.6 307.4,783.2 303.3,784.1Z" fill="#330443"/><path d="M7.1,853.5 2.0,854.6 -2.1,857.8 -4.5,862.4 -4.7,867.5 -3.8,873.3 -1.7,878.2 2.3,881.8 7.4,883.2 27.2,884.4 31.7,883.8 35.6,881.6 38.5,878.1 39.8,873.8 40.6,866.9 40.2,861.9 37.7,857.5 33.6,854.5 28.7,853.5Z" fill="#3a2864"/><path d="M63.3,851.3 58.1,850.9 53.2,852.7 49.5,856.4 47.8,861.4 45.2,883.6 45.5,887.7 47.2,891.6 52.5,899.6 55.5,902.6 59.3,904.5 63.6,904.8 67.7,903.7 71.2,901.1 91.1,880.0 93.5,876.5 94.4,872.3 93.1,865.9 90.2,861.1 85.3,858.2Z" fill="#371a58"/><path d="M195.5,888.7 198.2,885.2 199.4,881.1 199.1,876.7 197.3,872.8 194.2,869.7 170.9,854.2 167.0,852.5 162.7,852.3 158.6,853.6 155.2,856.3 153.0,860.0 147.8,873.7 147.1,878.4 148.2,883.0 151.1,886.9 155.3,889.3 177.4,896.7 181.6,897.3 185.7,896.4 189.2,894.3Z" fill="#35104e"/><path d="M176.5,831.9 172.6,835.0 170.4,839.4 170.1,844.3 171.8,849.0 175.3,852.5 191.2,863.1 195.6,864.9 200.4,864.8 204.7,862.9 208.0,859.4 209.7,855.0 211.6,842.4 211.6,838.4 210.3,834.7 207.9,831.7 202.9,827.1 198.7,824.6 193.9,824.0 189.3,825.3Z" fill="#340a49"/><path d="M211.1,868.0 211.1,872.2 212.6,876.0 215.3,879.2 218.9,881.2 224.3,883.1 229.3,883.7 234.2,882.2 252.7,871.8 256.1,869.0 258.2,865.2 258.8,860.9 257.9,839.3 257.0,835.1 254.5,831.4 251.0,828.9 246.7,827.8 242.4,828.4 223.1,834.3 219.2,836.4 216.3,839.8 214.8,843.9Z" fill="#330847"/><path d="M269.8,871.8 273.8,872.9 277.9,872.5 295.3,867.8 299.7,865.6 302.9,861.7 304.1,856.8 304.8,842.3 304.3,838.0 302.2,834.2 299.0,831.4 295.0,829.9 274.9,826.3 270.7,826.4 266.7,827.9 263.5,830.7 261.4,834.4 260.8,838.6 261.7,860.9 262.7,865.2 265.1,868.8Z" fill="#330343"/><path d="M43.0,897.1 39.0,893.3 33.7,891.8 5.4,890.1 0.6,890.8 -3.5,893.3 -6.2,897.2 -7.5,900.1 -8.6,905.0 -7.5,909.9 -2.6,921.0 -0.2,924.5 3.2,926.9 7.3,928.0 18.2,929.0 21.8,928.8 25.1,927.6 41.6,918.4 45.3,915.2 47.4,910.7 47.6,905.8 45.8,901.3Z" fill="#381f5c"/><path d="M78.7,901.7 76.0,905.9 75.4,910.9 76.9,915.7 80.2,919.5 84.7,921.6 111.6,927.8 116.6,927.8 121.1,925.9 124.5,922.3 126.2,917.6 128.3,901.1 127.8,896.1 125.4,891.7 121.3,888.7 107.9,882.5 103.1,881.5 98.3,882.4 94.2,885.2Z" fill="#371d5a"/><path d="M130.5,924.9 130.6,929.0 132.2,932.9 135.0,935.9 138.7,937.8 166.4,946.8 170.9,947.3 175.2,946.2 178.9,943.5 181.3,939.7 182.1,935.3 182.1,911.5 181.1,906.7 178.2,902.7 173.9,900.2 149.1,891.9 143.9,891.4 138.9,893.1 135.2,896.8 133.4,901.8Z" fill="#351250"/><path d="M190.6,898.5 187.6,902.6 186.5,907.5 186.5,935.5 187.6,940.3 190.5,944.4 194.8,946.9 198.1,947.9 202.5,948.5 206.8,947.4 232.7,935.5 236.3,933.0 238.7,929.4 239.7,925.1 239.0,920.8 229.8,893.7 227.0,889.2 222.5,886.3 216.1,884.0 212.0,883.4 207.8,884.2 204.2,886.4Z" fill="#340d4c"/><path d="M244.6,925.6 247.2,930.0 251.5,932.9 257.1,935.1 261.0,936.0 265.0,935.5 270.3,933.2 273.2,930.1 279.7,920.1 281.5,915.4 281.2,910.5 273.6,881.7 271.2,877.0 266.4,873.6 260.9,872.5 255.5,874.0 240.3,882.5 237.1,885.2 235.0,888.7 234.2,892.8 234.8,896.9Z" fill="#340a49"/><path d="M323.2,723.1 325.0,727.7 328.6,731.1 340.9,738.8 345.5,740.5 350.3,740.3 354.6,738.2 375.0,722.5 378.1,718.9 379.6,714.5 379.3,709.8 377.1,705.6 373.5,702.5 359.7,694.8 354.8,693.3 349.7,694.0 329.3,701.6 325.7,703.7 323.1,706.9 321.7,710.8 321.7,715.0Z" fill="#330847"/><path d="M344.2,779.5 348.1,776.3 350.4,771.7 350.6,766.6 347.7,751.2 345.9,746.7 342.3,743.2 332.9,737.3 328.6,735.7 324.1,735.7 319.9,737.5 316.6,740.7 307.2,754.2 305.2,759.6 305.9,765.3 309.8,775.7 313.9,781.1 319.0,784.8 322.9,786.8 327.3,787.1 331.5,785.9Z" fill="#330545"/><path d="M386.6,778.3 390.9,774.3 392.6,770.7 393.0,766.7 391.2,737.7 390.1,733.6 387.7,730.0 384.2,727.6 380.0,726.5 375.7,727.0 371.9,729.0 355.8,741.4 352.8,744.6 351.3,748.7 351.3,753.1 353.9,767.3 355.5,771.6 358.6,774.9 362.7,776.8 376.5,780.3 381.8,780.5Z" fill="#340a49"/><path d="M400.4,708.6 396.6,711.5 394.2,715.5 393.6,720.2 396.3,762.1 397.3,766.2 399.7,769.7 403.1,772.2 407.2,773.3 411.1,773.7 416.7,772.8 421.4,769.4 438.0,749.6 440.2,745.7 440.8,741.3 439.9,721.7 438.4,716.5 434.9,712.5 429.9,710.4 409.0,706.9 405.4,706.9Z" fill="#340c4a"/><path d="M494.3,720.7 492.7,715.7 489.1,711.8 484.2,709.9 459.2,706.1 455.5,706.1 451.9,707.3 446.6,711.0 444.4,714.9 443.7,719.4 444.7,739.7 446.1,744.9 449.6,748.9 474.9,767.2 478.4,769.0 482.4,769.5 486.3,768.7 490.0,767.2 494.2,764.4 496.9,760.0 497.5,754.9Z" fill="#35104f"/><path d="M510.9,705.3 505.9,706.3 501.8,709.1 499.2,713.5 498.6,718.5 501.2,746.4 502.6,750.9 505.7,754.6 509.9,756.8 514.7,757.1 538.3,754.1 542.9,752.6 546.4,749.3 548.5,745.0 554.1,721.0 554.4,716.8 553.1,712.7 550.5,709.4 547.0,707.1 542.8,706.3Z" fill="#351250"/><path d="M562.8,771.6 565.8,774.7 569.7,776.5 579.5,779.1 584.7,779.3 589.5,777.3 593.0,773.5 601.1,759.5 602.6,754.6 602.0,749.5 591.5,719.9 589.1,715.9 585.4,713.1 581.0,711.9 571.9,711.3 567.7,711.8 564.0,713.6 561.1,716.7 559.4,720.5 552.6,749.6 552.4,754.5 554.3,759.0Z" fill="#371b59"/><path d="M441.8,798.5 445.2,801.1 449.3,802.3 453.5,802.0 457.4,800.3 460.4,797.3 470.1,783.6 471.9,779.4 472.1,774.8 470.5,770.4 467.3,767.0 452.3,756.1 448.3,754.2 443.8,753.9 439.5,755.3 436.1,758.1 427.8,768.0 425.7,771.7 425.0,776.0 425.9,780.2 428.2,783.8Z" fill="#351150"/><path d="M517.7,761.7 513.2,763.2 509.6,766.4 507.6,770.7 507.4,775.5 509.1,780.0 518.4,794.6 522.0,798.2 526.7,800.1 531.8,799.8 536.3,797.4 552.0,784.2 554.8,780.8 556.2,776.6 556.0,772.3 554.3,768.3 551.4,764.0 548.3,760.9 544.3,759.1 539.9,758.8Z" fill="#371956"/><path d="M381.1,793.8 379.9,788.9 376.7,784.9 372.1,782.6 358.4,779.2 354.1,778.9 350.0,780.1 332.6,788.8 329.2,791.4 327.0,794.9 326.0,799.0 325.4,811.0 326.0,815.1 327.9,818.8 330.9,821.6 347.4,832.4 351.5,834.0 355.9,834.1 360.0,832.7 376.0,823.3 379.3,820.5 381.3,816.7 381.9,812.5Z" fill="#340a49"/><path d="M403.1,831.0 408.2,832.9 413.6,832.4 418.3,829.5 434.3,813.6 436.8,809.8 437.8,805.3 437.0,800.8 434.6,796.9 420.3,781.5 416.8,778.9 412.6,777.7 400.3,776.6 396.0,777.0 392.1,778.9 389.6,780.8 385.9,785.2 384.7,790.9 385.7,813.4 387.2,818.8 391.0,822.9Z" fill="#350d4c"/><path d="M501.9,777.9 499.1,774.8 495.5,772.9 491.4,772.3 484.8,774.1 479.4,778.4 465.1,798.7 463.1,803.3 463.2,808.4 465.4,812.9 471.6,821.0 475.2,824.2 479.8,825.7 484.7,825.2 509.2,817.6 513.1,815.6 516.0,812.3 517.5,808.2 517.4,803.8 515.8,799.7Z" fill="#361452"/><path d="M539.9,801.1 536.9,804.9 535.6,809.6 536.3,814.4 538.9,818.5 542.9,821.3 547.6,822.3 580.9,822.3 585.8,821.3 589.8,818.3 592.3,814.0 593.8,809.2 594.3,805.1 593.5,801.1 589.9,792.3 586.7,787.8 581.9,785.2 570.3,782.2 564.7,782.1 559.6,784.6Z" fill="#361654"/><path d="M459.7,813.6 455.9,810.3 451.0,808.9 446.0,809.6 441.8,812.4 418.8,835.3 416.5,838.5 415.3,842.2 415.5,846.2 418.2,852.4 422.8,855.9 435.9,861.3 441.1,862.2 446.2,860.8 466.2,850.0 469.4,847.5 471.5,844.2 472.5,840.4 472.9,835.8 472.4,831.5 470.5,827.5Z" fill="#351250"/><path d="M528.8,832.6 527.9,828.4 525.5,824.7 521.9,822.2 517.6,821.1 513.3,821.6 486.0,830.1 481.8,832.3 478.9,836.0 477.6,840.5 478.0,847.2 480.3,851.3 491.4,863.9 496.0,867.2 501.6,867.9 518.8,866.2 523.2,864.9 526.7,862.1 528.9,858.3 529.6,853.8Z" fill="#361452"/><path d="M580.6,854.2 585.3,852.8 589.1,849.6 591.3,845.1 591.4,840.1 589.6,833.8 586.9,830.6 583.3,828.5 579.2,827.7 546.5,827.7 541.8,828.7 537.8,831.4 535.3,835.5 534.5,840.2 534.7,845.2 535.8,849.9 538.7,853.8 542.8,856.2 547.6,856.8Z" fill="#361855"/><path d="M352.1,845.7 351.5,841.7 349.6,838.3 346.6,835.6 330.3,825.0 325.9,823.3 321.1,823.4 316.8,825.3 312.9,828.1 309.4,832.1 307.9,837.3 306.8,859.7 307.9,865.3 311.4,869.7 315.2,871.9 319.1,872.5 340.1,872.5 344.7,871.6 348.6,869.0 351.2,865.1 352.1,860.5Z" fill="#330645"/><path d="M355.5,862.6 356.5,867.1 359.1,871.0 363.0,873.6 367.5,874.6 390.8,874.6 395.9,873.4 400.1,870.2 409.1,859.1 411.5,854.4 411.6,849.1 410.8,845.1 409.0,840.8 405.7,837.5 390.1,827.1 386.0,825.3 381.6,825.2 377.4,826.7 361.5,836.0 358.3,838.6 356.3,842.2 355.5,846.3Z" fill="#340b4a"/><path d="M440.7,873.8 438.2,868.8 433.6,865.5 423.8,861.5 418.8,860.5 413.9,861.8 409.9,864.9 404.0,872.1 401.5,877.3 401.8,883.1 409.2,908.1 411.2,912.0 414.5,914.9 418.6,916.5 425.1,917.6 430.4,917.3 435.0,914.8 442.4,908.3 445.1,904.9 446.4,900.8 446.2,896.4Z" fill="#361452"/><path d="M488.6,878.7 489.5,874.4 488.8,870.0 486.5,866.2 480.0,858.8 475.7,855.7 470.4,854.8 465.3,856.2 452.4,863.1 448.5,866.5 446.3,871.3 446.4,876.5 450.5,893.1 452.7,897.7 456.6,900.9 461.5,902.3 470.2,902.7 475.0,901.9 479.1,899.3 481.8,895.2Z" fill="#361654"/><path d="M494.3,919.5 498.3,922.8 503.3,924.1 508.5,923.2 512.7,920.2 531.3,899.6 533.6,895.8 534.4,891.4 533.5,887.0 530.3,879.0 527.4,874.8 523.0,872.2 517.9,871.6 503.5,873.1 499.3,874.3 495.9,876.9 493.6,880.5 486.0,898.9 485.1,903.0 485.7,907.1 487.6,910.8Z" fill="#361755"/><path d="M546.3,862.4 541.9,863.6 538.4,866.3 536.0,870.1 535.2,874.5 536.1,878.9 539.7,887.8 542.3,891.7 546.2,894.3 551.0,896.3 555.3,897.3 559.7,896.6 584.2,887.6 588.1,885.2 590.8,881.6 592.0,877.2 592.4,872.6 591.7,867.6 588.9,863.2 584.6,860.5 579.5,859.8Z" fill="#371c5a"/><path d="M333.2,919.8 337.7,921.2 342.4,920.7 346.5,918.5 349.5,914.9 350.8,910.3 352.8,888.8 352.3,883.8 349.8,879.6 345.7,876.7 340.9,875.7 326.0,875.7 321.9,876.4 318.3,878.5 315.6,881.7 314.2,885.7 312.0,899.1 312.2,904.0 314.4,908.4 318.1,911.6Z" fill="#340848"/><path d="M354.9,906.5 355.5,911.7 358.3,916.0 362.6,918.9 383.1,926.6 388.8,927.3 394.1,925.3 399.8,921.4 403.3,917.8 405.0,913.0 404.6,908.0 398.4,887.1 396.0,882.7 391.9,879.6 386.9,878.5 368.4,878.5 364.1,879.3 360.3,881.7 357.7,885.2 356.5,889.4Z" fill="#350d4c"/><path d="M311.4,883.9 311.2,879.1 309.2,874.8 305.7,871.6 301.2,870.1 296.5,870.3 286.8,872.9 282.7,875.0 279.6,878.5 278.1,882.9 278.4,887.6 282.2,902.1 284.3,906.4 288.0,909.5 292.5,910.9 297.3,910.5 300.5,909.5 304.4,907.5 307.3,904.1 308.8,900.0Z" fill="#330544"/><path d="M554.3,910.9 552.7,906.8 549.7,903.6 545.7,901.6 541.4,901.2 537.1,902.5 533.6,905.1 519.4,920.9 517.0,925.0 516.4,929.8 517.7,934.4 520.7,938.1 533.7,948.9 537.5,951.1 541.8,951.7 546.0,950.7 551.9,948.2 556.3,945.1 558.8,940.3 559.0,934.9Z" fill="#371b59"/><path d="M568.1,899.5 564.5,901.6 561.8,904.8 560.4,908.8 560.4,913.0 564.9,935.9 566.7,940.2 569.9,943.5 574.2,945.4 581.7,947.0 586.2,947.1 590.5,945.4 593.9,942.3 595.8,938.2 602.7,911.0 602.9,905.8 600.8,901.0 598.4,897.7 594.5,894.3 589.6,892.8 584.5,893.4Z" fill="#361755"/><path d="M289.6,916.0 285.9,917.9 283.0,920.9 280.7,924.5 278.9,928.9 279.0,933.6 280.9,937.9 284.4,941.2 301.3,951.8 305.8,953.5 310.6,953.2 324.4,949.8 328.1,948.2 331.0,945.4 332.9,941.9 335.0,935.6 335.5,931.5 334.7,927.4 332.5,923.9 329.3,921.3 313.1,912.5 308.5,911.1 303.8,911.6Z" fill="#340847"/><path d="M456.3,907.2 451.8,907.9 447.8,910.2 440.7,916.5 437.8,920.3 436.6,924.9 437.3,929.6 443.7,946.9 446.1,950.9 449.8,953.7 454.4,954.8 470.0,955.5 475.7,954.4 480.2,950.8 490.3,937.4 492.4,932.7 492.4,927.5 490.2,922.8 482.4,912.7 478.4,909.4 473.5,908.1Z" fill="#361452"/><path d="M20.4,977.4 24.7,975.1 27.7,971.4 29.1,966.8 28.5,962.0 22.4,943.8 20.2,939.8 16.5,937.0 12.1,935.7 7.5,935.3 3.0,935.7 -1.0,937.8 -4.0,941.1 -9.4,950.3 -11.0,955.4 -10.2,960.8 -5.2,973.4 -2.9,977.1 0.6,979.8 4.9,981.0 9.2,980.6Z" fill="#3a2a66"/><path d="M36.6,964.1 39.0,968.3 42.9,971.2 47.6,972.3 52.4,971.5 56.4,968.8 63.2,962.1 66.0,957.6 66.6,952.4 64.6,932.6 63.2,928.1 60.2,924.5 56.0,922.3 51.3,921.9 46.8,923.4 35.4,929.7 32.2,932.3 30.1,935.9 29.3,939.9 29.9,944.0Z" fill="#392663"/><path d="M152.1,989.1 156.0,987.5 159.1,984.6 161.1,980.8 166.0,964.4 166.4,959.8 165.1,955.4 162.2,951.8 158.2,949.5 139.0,943.4 134.9,942.8 130.8,943.7 127.3,945.9 124.8,949.1 114.0,968.9 112.6,973.1 112.9,977.5 114.8,985.2 116.8,989.4 120.1,992.5 124.4,994.1 129.0,994.0Z" fill="#361654"/><path d="M117.3,950.6 118.7,946.4 118.4,942.0 116.6,938.0 113.5,934.9 109.4,933.2 86.5,927.9 81.9,927.8 77.7,929.3 74.3,932.3 72.2,936.4 71.8,940.9 72.7,949.5 74.0,953.8 76.8,957.4 80.7,959.6 97.7,965.6 101.9,966.2 106.0,965.4 109.6,963.3 112.2,960.0Z" fill="#38205d"/><path d="M40.6,981.4 37.0,980.8 33.4,981.2 5.3,989.2 0.4,992.0 -2.7,996.8 -3.9,1000.4 -4.6,1004.8 -3.6,1009.2 -1.5,1013.8 1.1,1017.5 4.9,1020.0 9.4,1020.9 38.8,1020.9 43.6,1019.9 47.7,1016.9 50.2,1012.6 51.8,1007.6 52.4,1003.9 51.8,1000.2 48.3,989.2 45.5,984.4Z" fill="#392561"/><path d="M108.1,983.4 106.1,977.8 103.4,974.9 100.0,973.0 78.7,965.5 74.3,964.9 69.9,965.8 66.2,968.4 58.2,976.3 55.8,979.9 54.7,984.2 55.3,988.5 56.3,991.7 59.0,996.2 63.3,999.1 68.4,1000.0 97.2,998.3 102.2,996.9 106.2,993.5 108.3,988.7Z" fill="#38225e"/><path d="M179.7,950.8 175.8,953.8 173.4,958.1 165.8,983.5 165.6,989.2 168.0,994.4 181.2,1010.9 184.6,1013.9 188.9,1015.3 193.4,1015.1 197.5,1013.2 200.6,1009.9 211.3,993.4 213.2,988.0 212.4,982.4 202.9,958.8 200.0,954.5 195.5,951.9 189.3,949.9 184.8,949.3Z" fill="#361251"/><path d="M243.6,988.1 248.3,987.5 252.3,985.1 255.2,981.4 256.4,976.9 258.2,948.5 257.4,943.6 254.8,939.4 250.7,936.6 245.1,935.4 240.4,936.5 215.8,947.9 212.1,950.5 209.6,954.3 208.8,958.8 209.6,963.2 216.1,979.4 218.5,983.2 222.1,985.8 226.5,986.9Z" fill="#340d4c"/><path d="M260.0,980.9 260.7,985.9 263.4,990.1 267.6,992.8 272.5,993.7 286.3,993.1 291.4,991.8 295.4,988.4 297.6,983.7 301.6,965.3 301.6,960.4 299.7,955.9 296.2,952.5 280.2,942.5 275.5,940.8 270.6,941.1 266.2,943.4 263.1,947.2 261.8,952.0Z" fill="#340a49"/><path d="M67.5,1006.6 62.9,1007.8 59.1,1010.7 56.7,1014.9 55.2,1019.6 54.6,1024.2 55.8,1028.6 57.7,1032.5 60.3,1036.0 64.1,1038.4 68.5,1039.2 101.0,1039.2 105.8,1038.2 109.7,1035.5 112.3,1031.4 113.0,1026.6 112.6,1016.2 111.4,1011.6 108.6,1007.8 104.6,1005.4 99.9,1004.8Z" fill="#392763"/><path d="M128.2,1000.1 124.3,1001.7 121.2,1004.5 119.3,1008.2 118.7,1012.4 119.2,1024.0 120.3,1028.5 122.9,1032.2 126.8,1034.6 131.2,1035.5 168.4,1035.5 172.6,1034.7 176.2,1032.6 178.9,1029.3 180.5,1024.5 180.1,1019.9 177.9,1015.7 164.7,999.1 161.3,996.3 157.2,994.8 152.8,994.9Z" fill="#371a58"/><path d="M223.7,1029.9 228.8,1031.4 234.1,1030.6 248.8,1024.8 252.3,1022.7 254.9,1019.4 256.2,1015.5 257.6,1006.5 257.3,1001.5 255.1,997.2 251.3,994.0 246.5,992.7 225.7,991.3 221.5,991.8 217.7,993.7 214.9,996.8 208.6,1006.6 206.8,1011.1 207.0,1015.9 209.0,1020.3 212.6,1023.5Z" fill="#361452"/><path d="M290.6,1006.2 288.1,1001.5 283.8,998.2 278.5,997.2 273.2,997.4 269.2,998.3 265.7,1000.5 263.1,1003.7 261.8,1007.6 260.2,1018.3 260.5,1023.1 262.6,1027.5 270.1,1036.9 274.3,1040.3 279.5,1041.5 284.2,1041.5 288.4,1040.7 292.2,1038.4 294.8,1035.0 296.1,1030.8 295.8,1026.5Z" fill="#35104e"/><path d="M-3.8,1050.0 -4.1,1054.6 -2.6,1059.1 0.4,1062.6 4.6,1064.7 9.3,1065.0 42.0,1060.7 46.2,1059.3 49.7,1056.4 51.8,1052.5 53.5,1047.4 54.1,1042.8 52.9,1038.4 51.1,1034.8 48.5,1031.3 44.7,1029.0 40.3,1028.1 11.3,1028.1 6.2,1029.3 2.1,1032.4 -0.3,1037.0Z" fill="#3a2a66"/><path d="M65.9,1088.0 68.5,1092.0 72.5,1094.6 77.3,1095.5 82.0,1094.4 106.2,1083.4 110.1,1080.6 112.6,1076.4 113.2,1071.6 112.2,1057.0 111.0,1052.7 108.4,1049.1 104.6,1046.8 100.2,1045.9 70.1,1045.9 65.2,1047.0 61.2,1049.9 58.7,1054.2 57.2,1058.8 56.6,1062.9 57.5,1066.9Z" fill="#38225f"/><path d="M130.6,1041.7 125.8,1042.7 121.8,1045.5 119.2,1049.7 118.6,1054.6 120.1,1074.8 121.6,1079.7 125.1,1083.6 130.2,1087.3 134.5,1089.3 139.2,1089.4 156.0,1086.6 159.9,1085.3 163.1,1082.7 174.7,1069.5 177.2,1064.8 177.5,1059.6 176.2,1051.7 174.8,1047.8 172.1,1044.5 168.5,1042.4 164.4,1041.7Z" fill="#381e5c"/><path d="M193.0,1022.5 189.0,1024.7 186.0,1028.2 182.1,1035.3 180.8,1039.1 180.8,1043.1 183.2,1057.4 184.5,1061.3 187.1,1064.5 190.7,1066.7 209.5,1073.9 214.0,1074.6 218.6,1073.7 222.4,1071.0 224.9,1067.2 225.8,1062.6 225.8,1043.8 225.1,1039.7 223.0,1036.1 219.8,1033.4 202.7,1023.5 198.0,1022.0Z" fill="#371957"/><path d="M230.9,1070.5 231.8,1075.1 234.4,1078.9 238.2,1081.5 242.7,1082.5 247.2,1081.7 249.5,1080.8 253.5,1078.4 256.2,1074.5 266.9,1050.5 268.0,1046.3 267.4,1042.0 265.4,1038.1 262.0,1033.9 258.1,1030.7 253.2,1029.3 248.2,1030.2 238.5,1034.0 234.5,1036.6 231.9,1040.5 230.9,1045.2Z" fill="#361654"/><path d="M1.0,1091.0 1.5,1095.2 3.3,1099.0 6.4,1101.9 10.3,1103.6 14.5,1103.8 46.8,1099.8 51.0,1098.5 54.4,1095.8 56.6,1092.0 57.3,1087.7 56.5,1083.4 53.3,1075.6 50.4,1071.3 45.9,1068.7 40.6,1068.2 12.0,1072.0 6.9,1073.9 3.2,1077.8 1.6,1083.0Z" fill="#38225f"/><path d="M106.7,1141.1 109.6,1144.4 113.5,1146.4 117.9,1146.9 122.1,1145.7 125.7,1143.1 129.2,1138.1 130.1,1133.7 130.1,1101.5 128.7,1096.0 125.1,1091.8 118.9,1088.3 114.8,1087.8 110.7,1088.9 95.2,1096.0 91.1,1099.0 88.7,1103.3 88.2,1108.3 89.8,1113.1Z" fill="#392763"/><path d="M86.4,1120.8 83.2,1117.3 78.9,1115.3 74.2,1115.1 69.7,1116.8 66.3,1120.1 64.4,1124.4 59.4,1146.6 59.4,1151.8 61.6,1156.5 65.2,1159.7 69.5,1161.2 74.1,1161.0 90.0,1157.0 94.0,1155.1 97.1,1151.9 98.8,1147.8 98.9,1143.3 97.4,1139.2Z" fill="#3a2965"/><path d="M229.0,1097.7 228.6,1092.2 225.9,1087.5 221.4,1084.5 190.5,1072.6 185.7,1071.9 181.1,1073.0 177.2,1075.9 172.0,1081.9 169.4,1086.6 169.2,1091.9 171.2,1096.8 185.2,1116.2 188.8,1119.5 193.4,1121.1 198.2,1120.8 219.1,1114.9 223.2,1112.9 226.1,1109.5 227.7,1105.3Z" fill="#38205d"/><path d="M168.2,1140.4 172.6,1140.1 176.6,1138.1 180.6,1133.5 182.3,1129.0 182.2,1124.3 180.2,1120.0 164.8,1098.5 161.6,1095.4 157.5,1093.7 153.0,1093.7 146.8,1094.7 142.9,1096.1 139.6,1098.8 137.5,1102.4 136.8,1106.5 136.8,1126.2 137.6,1130.4 139.8,1134.2 143.3,1136.8 147.5,1138.1Z" fill="#371d5a"/><path d="M233.0,1107.2 233.2,1112.2 235.5,1116.7 239.4,1119.8 263.5,1132.2 268.6,1133.5 273.8,1132.4 277.5,1130.8 281.7,1127.7 284.1,1123.1 284.4,1117.9 281.4,1099.2 280.0,1095.2 277.2,1091.9 273.5,1089.8 260.1,1085.2 256.0,1084.5 251.9,1085.3 242.0,1089.1 238.5,1091.2 235.9,1094.4 234.5,1098.3Z" fill="#371a57"/><path d="M4.5,1132.6 6.1,1137.8 9.8,1141.8 14.8,1143.7 40.6,1147.3 45.0,1147.1 49.1,1145.3 52.2,1142.1 54.0,1138.0 57.6,1121.9 57.7,1117.4 56.1,1113.1 53.0,1109.7 48.9,1107.7 44.4,1107.4 14.4,1111.2 10.1,1112.6 6.6,1115.5 4.4,1119.4 3.9,1123.9Z" fill="#38225f"/><path d="M135.3,1194.3 138.3,1198.8 143.0,1201.6 151.4,1204.2 155.0,1204.8 158.6,1204.2 166.4,1201.8 170.8,1199.3 173.7,1195.3 180.8,1179.5 181.9,1175.4 181.4,1171.2 176.9,1155.5 174.8,1151.4 171.2,1148.3 166.7,1146.9 140.8,1144.0 135.3,1144.7 130.7,1147.8 126.8,1151.9 124.4,1155.6 123.6,1159.9 124.3,1164.3Z" fill="#38215e"/><path d="M213.7,1167.4 218.3,1165.5 221.7,1161.8 223.4,1157.1 225.9,1136.5 225.6,1131.8 223.5,1127.6 219.9,1124.5 215.5,1123.1 210.8,1123.5 195.3,1127.8 191.4,1129.8 188.4,1132.9 183.5,1140.6 181.8,1145.3 182.1,1150.4 185.4,1161.7 187.3,1165.7 190.6,1168.6 194.7,1170.2 199.1,1170.2Z" fill="#381f5c"/><path d="M228.9,1159.7 229.2,1164.0 230.9,1168.0 234.0,1171.1 238.0,1172.8 242.3,1173.1 255.2,1171.5 259.3,1170.2 262.7,1167.5 264.9,1163.8 265.7,1159.6 265.7,1146.7 264.9,1142.4 262.6,1138.6 259.2,1136.0 248.8,1130.7 244.4,1129.4 239.8,1129.9 235.8,1132.0 232.8,1135.5 231.4,1139.9Z" fill="#381d5b"/><path d="M2.0,1195.2 3.2,1199.6 5.8,1203.1 9.6,1205.5 14.0,1206.3 44.1,1206.3 48.2,1205.6 51.8,1203.6 54.5,1200.4 55.9,1196.5 60.2,1173.0 60.1,1168.1 58.0,1163.5 55.4,1160.2 51.9,1157.2 47.6,1155.7 13.3,1150.9 9.0,1151.0 5.1,1152.7 2.0,1155.6 0.1,1159.4 -0.4,1163.7Z" fill="#392562"/><path d="M118.4,1168.2 116.2,1164.5 112.7,1161.8 108.6,1160.4 104.2,1160.7 75.7,1167.8 71.5,1169.8 68.4,1173.1 66.8,1177.3 63.6,1194.6 63.6,1199.1 65.3,1203.3 68.3,1206.5 72.4,1208.4 99.6,1215.5 104.3,1215.7 108.8,1214.1 122.0,1206.2 125.1,1203.5 127.1,1199.9 127.8,1195.8 127.0,1191.8Z" fill="#3a2a66"/><path d="M182.1,1192.5 181.1,1196.6 181.5,1200.8 183.4,1204.6 186.5,1207.5 200.9,1217.0 205.7,1218.9 210.8,1218.6 220.7,1215.8 225.0,1213.5 228.1,1209.8 229.4,1205.2 231.0,1185.8 230.5,1181.5 228.5,1177.6 225.3,1174.6 221.2,1173.1 216.8,1173.1 194.6,1177.3 189.4,1179.7 185.9,1184.2Z" fill="#38205d"/><path d="M235.4,1205.6 236.1,1210.4 238.6,1214.7 242.6,1217.5 249.4,1220.5 254.8,1221.5 260.1,1220.0 262.5,1218.6 266.2,1215.5 268.3,1211.2 268.6,1206.4 265.9,1187.8 264.4,1183.4 261.3,1179.9 257.1,1177.9 252.5,1177.6 247.2,1178.2 242.2,1180.1 238.4,1184.0 236.8,1189.1Z" fill="#371a58"/><path d="M284.5,1174.8 280.2,1175.2 276.4,1177.1 273.4,1180.2 271.8,1184.2 271.6,1188.5 273.9,1204.7 275.7,1209.6 279.4,1213.2 284.3,1214.9 299.3,1216.8 304.0,1216.5 308.2,1214.4 320.5,1204.7 323.3,1201.6 324.9,1197.6 324.9,1193.3 323.9,1187.3 322.0,1182.4 318.1,1178.9 313.1,1177.3Z" fill="#361654"/><path d="M302.2,979.3 302.1,983.6 303.4,987.6 306.0,990.9 309.7,993.1 324.8,998.8 329.4,999.6 333.9,998.6 337.7,995.9 340.2,992.0 344.8,980.1 345.5,974.4 343.4,969.0 336.0,958.3 332.6,955.0 328.1,953.4 323.3,953.6 314.1,955.8 310.1,957.7 307.0,960.9 305.3,964.9Z" fill="#340a49"/><path d="M336.1,943.5 335.7,949.0 337.7,954.1 346.1,966.0 349.1,969.0 352.9,970.8 357.1,971.1 375.4,969.2 379.5,968.0 382.9,965.5 385.2,961.9 386.2,957.8 386.8,941.0 386.0,936.2 383.2,932.0 379.0,929.3 358.1,921.5 352.4,920.8 347.0,922.9 342.2,927.0 340.4,930.4Z" fill="#340c4b"/><path d="M414.7,920.6 410.2,920.7 406.0,922.5 396.5,928.9 392.8,933.0 391.3,938.4 390.3,963.7 391.1,968.6 394.3,973.2 397.5,975.4 401.2,976.5 405.1,976.4 427.1,971.8 431.2,970.1 434.4,967.1 438.2,961.8 440.3,956.4 439.7,950.7 432.1,929.7 430.0,926.1 426.8,923.4 422.8,922.0Z" fill="#351150"/><path d="M478.7,968.2 476.2,964.4 472.5,961.8 468.1,960.8 452.4,960.0 448.4,960.5 444.9,962.2 440.4,967.4 438.5,971.3 438.2,975.6 439.4,979.7 451.6,1004.3 454.0,1007.6 457.4,1009.8 461.3,1010.9 471.8,1011.8 475.8,1011.5 479.5,1009.9 482.4,1007.2 486.1,1002.4 488.0,998.7 488.6,994.6 487.7,990.6Z" fill="#371a57"/><path d="M512.1,938.2 507.9,936.0 503.1,935.5 498.5,937.0 494.9,940.2 484.9,953.5 483.0,957.2 482.4,961.2 483.3,965.2 491.6,985.7 494.6,990.0 499.1,992.7 504.3,993.1 520.2,991.0 524.8,989.4 528.3,986.2 530.3,981.8 534.2,965.0 534.3,960.7 532.9,956.5 530.1,953.1Z" fill="#381d5a"/><path d="M547.0,956.5 542.5,959.8 540.0,964.9 535.3,985.2 535.1,989.1 536.1,992.9 538.4,996.2 547.8,1006.0 551.4,1008.6 555.6,1009.7 579.6,1011.4 584.4,1010.8 588.5,1008.4 591.4,1004.5 592.5,999.8 593.6,965.4 593.0,961.3 591.0,957.7 587.9,954.9 584.1,953.3 568.0,949.9 564.3,949.7 560.8,950.6Z" fill="#371856"/><path d="M312.1,998.0 307.8,997.2 303.5,998.0 299.8,1000.2 297.1,1003.7 295.8,1007.8 296.1,1012.2 299.5,1025.2 301.4,1029.2 304.6,1032.3 308.7,1034.0 313.2,1034.0 325.5,1031.9 329.3,1030.6 332.4,1028.1 334.5,1024.8 336.3,1020.6 337.3,1015.9 336.3,1011.2 333.6,1007.3 329.6,1004.7Z" fill="#340b4a"/><path d="M341.9,998.8 341.1,1003.2 341.9,1007.6 344.3,1011.3 347.9,1014.0 352.2,1015.1 380.8,1017.1 385.3,1016.5 389.4,1014.2 392.2,1010.6 393.5,1006.2 395.3,986.7 394.6,981.5 390.9,976.2 386.5,973.4 381.2,972.8 358.0,975.2 353.8,976.4 350.3,979.1 348.0,982.8Z" fill="#361351"/><path d="M409.1,980.5 404.5,982.6 401.1,986.3 399.6,991.2 398.2,1006.0 398.8,1010.9 401.3,1015.2 405.3,1018.1 421.7,1025.4 425.8,1026.4 430.0,1026.0 433.8,1024.0 441.8,1018.1 444.6,1015.0 446.2,1011.2 446.5,1007.1 445.3,1003.1 435.8,984.1 432.5,980.1 427.8,977.8 422.6,977.7Z" fill="#361653"/><path d="M534.0,999.6 529.3,996.6 523.7,996.0 499.7,999.2 495.3,1000.7 491.8,1003.8 486.4,1010.9 484.1,1016.0 484.4,1021.6 488.0,1033.4 490.8,1038.2 495.6,1041.3 516.4,1048.2 520.6,1048.8 524.7,1048.0 528.3,1045.7 530.9,1042.4 542.4,1020.3 543.8,1015.5 543.1,1010.6 540.5,1006.4Z" fill="#371855"/><path d="M559.1,1015.4 554.5,1015.9 550.4,1018.2 547.6,1021.8 532.8,1050.1 531.4,1055.0 532.2,1060.0 535.0,1067.2 537.9,1071.5 542.4,1074.2 555.4,1078.6 560.6,1079.2 578.3,1077.2 582.2,1076.0 585.5,1073.6 587.8,1070.3 593.2,1058.7 594.2,1054.7 593.9,1050.6 587.4,1025.6 585.2,1021.2 581.4,1018.0 576.6,1016.6Z" fill="#361452"/><path d="M344.3,1056.5 346.6,1060.4 350.1,1063.1 354.5,1064.4 366.9,1065.5 371.3,1065.1 375.2,1063.2 378.1,1060.0 379.8,1056.0 384.0,1035.3 384.0,1030.2 381.8,1025.6 378.0,1022.3 373.1,1020.9 350.1,1019.3 345.2,1020.0 341.0,1022.6 338.2,1026.6 336.6,1032.6 337.3,1037.0Z" fill="#351250"/><path d="M406.0,1023.8 401.9,1022.8 397.6,1023.2 393.8,1025.2 391.0,1028.4 389.4,1032.3 383.4,1061.5 383.2,1065.6 384.5,1069.4 386.9,1072.6 390.8,1076.3 395.4,1079.0 400.7,1079.5 405.7,1077.6 423.0,1066.1 426.1,1063.1 428.0,1059.2 428.3,1055.0 426.9,1039.7 425.7,1035.7 423.3,1032.3 419.8,1029.9Z" fill="#361654"/><path d="M458.3,1015.9 453.9,1016.3 450.0,1018.3 436.6,1028.3 433.8,1031.3 432.1,1035.0 431.8,1039.1 433.3,1054.2 434.5,1058.4 437.1,1061.9 440.8,1064.2 454.8,1069.8 458.8,1070.7 462.9,1070.1 466.6,1068.2 469.4,1065.1 481.8,1045.7 483.6,1040.8 483.2,1035.7 480.0,1025.4 477.8,1021.2 474.1,1018.3 469.6,1016.9Z" fill="#361755"/><path d="M308.4,1038.9 303.8,1040.8 300.3,1044.4 298.6,1049.2 299.0,1054.2 304.6,1073.0 306.3,1076.6 309.2,1079.4 312.9,1081.1 319.7,1083.0 324.4,1083.4 328.8,1081.9 332.4,1078.8 338.8,1070.6 340.7,1067.1 341.3,1063.1 340.6,1059.2 335.3,1044.4 333.2,1040.7 330.0,1038.1 326.1,1036.6 321.9,1036.6Z" fill="#350f4e"/><path d="M281.9,1045.7 277.4,1046.6 273.6,1049.1 271.0,1052.8 264.3,1067.7 263.3,1072.6 264.2,1077.4 267.1,1081.4 271.3,1084.0 278.2,1086.4 282.5,1087.0 286.7,1086.1 292.0,1083.9 295.7,1081.5 298.3,1078.0 299.4,1073.8 298.9,1069.4 294.5,1054.3 292.0,1049.9 287.9,1046.8Z" fill="#350f4e"/><path d="M471.0,1072.0 469.2,1077.2 469.9,1082.6 471.2,1086.3 473.4,1090.0 476.7,1092.7 492.3,1101.1 497.2,1102.6 502.2,1101.9 506.5,1099.2 526.6,1079.4 529.2,1075.5 530.1,1071.0 529.3,1066.5 527.6,1062.0 524.7,1057.6 520.2,1054.9 497.5,1047.3 492.3,1046.8 487.3,1048.6 483.6,1052.3Z" fill="#371856"/><path d="M334.0,1084.0 331.8,1088.5 331.6,1093.5 333.4,1099.2 336.4,1102.5 357.7,1119.1 362.5,1121.4 367.7,1121.4 372.5,1119.1 390.5,1105.1 393.9,1100.9 395.1,1095.7 395.1,1092.2 394.2,1087.4 391.4,1083.4 381.4,1074.0 378.1,1071.8 374.2,1070.8 352.8,1068.8 348.9,1069.1 345.2,1070.7 342.3,1073.4Z" fill="#35114f"/><path d="M464.9,1083.7 462.3,1079.4 458.1,1076.7 437.7,1068.5 432.0,1067.7 426.6,1069.6 405.4,1083.7 402.5,1086.4 400.6,1089.9 400.0,1093.7 400.0,1095.9 401.1,1101.0 404.3,1105.1 423.2,1121.0 427.0,1123.2 431.4,1123.8 435.8,1122.8 439.4,1120.3 462.5,1097.0 465.0,1093.3 465.9,1088.9Z" fill="#361553"/><path d="M511.6,1100.8 508.9,1105.0 508.1,1109.9 509.4,1114.8 512.6,1118.7 528.7,1131.5 533.1,1133.7 538.0,1134.0 542.7,1132.2 546.2,1128.8 548.0,1124.2 553.3,1093.8 553.3,1089.5 551.8,1085.6 549.0,1082.4 542.7,1079.4 538.3,1078.8 534.1,1079.8 530.4,1082.3Z" fill="#361452"/><path d="M551.1,1132.4 551.3,1137.5 553.6,1142.0 557.5,1145.2 562.4,1146.4 579.2,1147.1 584.5,1146.1 588.9,1142.8 591.3,1138.0 598.2,1110.0 598.4,1105.5 596.9,1101.2 589.4,1088.0 586.4,1084.5 582.2,1082.4 577.6,1082.0 568.4,1083.1 563.6,1084.7 559.9,1088.2 558.0,1092.9Z" fill="#350f4d"/><path d="M289.0,1115.9 290.6,1120.2 293.6,1123.6 297.7,1125.6 302.2,1125.9 306.6,1124.6 310.1,1121.7 323.1,1106.2 325.4,1102.0 325.9,1097.3 324.5,1092.7 321.4,1089.1 317.1,1086.9 308.9,1084.6 304.9,1084.2 301.1,1085.1 293.9,1088.1 289.5,1091.1 287.0,1095.8 286.6,1101.1Z" fill="#361452"/><path d="M320.5,1154.8 323.8,1158.6 328.3,1160.6 333.3,1160.6 337.9,1158.6 356.4,1145.2 359.6,1141.7 361.2,1137.3 361.3,1131.6 359.8,1127.7 356.9,1124.6 340.0,1111.4 335.9,1109.3 331.4,1108.9 327.0,1110.2 323.4,1113.1 312.8,1125.8 310.5,1130.1 310.1,1134.9 311.6,1139.5Z" fill="#361755"/><path d="M371.2,1126.3 368.2,1129.7 366.7,1133.9 366.4,1140.1 367.8,1143.9 370.4,1147.0 387.4,1161.7 391.1,1163.9 395.3,1164.6 399.6,1163.8 422.5,1155.0 425.8,1153.0 428.4,1150.0 430.8,1144.5 430.8,1140.2 430.3,1137.1 428.9,1133.2 426.2,1130.1 404.9,1112.1 400.1,1109.6 394.7,1109.5 389.8,1111.8Z" fill="#361654"/><path d="M441.0,1125.8 438.3,1130.0 437.5,1134.9 438.8,1139.7 442.0,1143.6 446.4,1145.8 467.6,1151.4 472.8,1151.6 477.7,1149.5 481.2,1145.5 494.3,1121.5 495.7,1117.1 495.3,1112.4 493.1,1108.2 489.5,1105.2 479.1,1099.6 474.2,1098.1 469.1,1098.9 464.8,1101.7Z" fill="#361755"/><path d="M513.6,1125.4 509.0,1123.2 503.8,1123.1 499.0,1125.2 495.6,1129.1 483.7,1150.9 482.4,1154.7 482.4,1158.6 483.7,1162.4 486.9,1166.7 490.6,1168.9 494.9,1169.6 499.1,1168.8 526.0,1158.4 530.2,1155.6 532.9,1151.4 533.7,1146.5 532.3,1141.6 529.1,1137.8Z" fill="#35114f"/><path d="M278.1,1136.1 274.4,1138.7 271.9,1142.5 271.0,1147.0 271.0,1157.5 271.8,1161.8 274.2,1165.6 277.7,1168.2 282.0,1169.4 302.4,1171.2 306.7,1170.7 310.6,1168.8 313.5,1165.7 315.2,1161.6 315.3,1157.3 313.8,1153.2 305.5,1138.8 302.2,1135.1 297.6,1133.1 292.9,1132.0 289.1,1131.8 285.5,1132.8Z" fill="#361553"/><path d="M332.8,1168.4 329.8,1171.6 328.1,1175.7 328.0,1180.1 330.3,1193.9 332.4,1199.0 336.6,1202.6 351.5,1210.2 355.4,1211.4 359.6,1211.3 374.2,1208.0 378.3,1206.3 381.5,1203.1 383.3,1198.9 388.1,1177.1 388.2,1172.9 386.9,1168.8 384.2,1165.5 369.7,1153.0 365.0,1150.6 359.7,1150.3 354.8,1152.4Z" fill="#361352"/><path d="M447.8,1151.2 442.8,1151.0 438.2,1152.7 434.7,1156.2 432.9,1160.8 433.1,1165.8 442.6,1202.9 445.3,1207.9 450.0,1211.1 455.0,1212.2 459.2,1211.5 476.2,1205.5 480.1,1203.1 482.9,1199.5 484.1,1195.2 485.4,1179.7 484.0,1172.9 478.7,1163.2 475.6,1159.6 471.3,1157.4Z" fill="#361654"/><path d="M539.7,1175.6 538.8,1171.1 536.2,1167.2 532.4,1164.6 527.9,1163.6 523.3,1164.4 497.4,1174.5 493.6,1176.8 491.0,1180.4 489.8,1184.7 488.8,1196.2 489.2,1200.5 491.1,1204.4 494.3,1207.3 501.7,1212.0 505.7,1213.7 510.0,1213.8 529.6,1210.7 533.5,1209.3 536.8,1206.6 538.9,1203.0 539.7,1198.8Z" fill="#351250"/><path d="M556.7,1150.7 552.0,1151.4 548.0,1154.0 545.2,1158.0 544.3,1162.7 544.3,1202.6 545.0,1206.8 547.2,1210.4 551.2,1213.4 555.4,1214.8 559.9,1214.5 585.3,1208.0 590.1,1205.5 593.3,1201.2 594.3,1195.9 593.0,1163.2 592.0,1158.8 589.5,1155.2 585.9,1152.7 581.5,1151.7Z" fill="#351250"/><path d="M400.9,1215.8 405.5,1217.4 410.3,1217.1 427.8,1212.2 432.0,1210.1 435.0,1206.6 436.5,1202.2 436.2,1197.6 429.6,1171.9 427.4,1167.4 423.5,1164.2 418.6,1162.9 413.7,1163.6 400.5,1168.7 397.1,1170.7 394.6,1173.7 393.1,1177.4 388.4,1198.8 388.4,1203.8 390.4,1208.4 394.0,1211.7Z" fill="#371856"/><path d="M1.6,669.4 0.6,664.8 -2.0,661.0 -5.8,658.4 -10.4,657.4 -17.0,658.2 -20.7,660.5 -23.4,663.9 -24.7,668.0 -24.4,672.3 -22.6,676.2 -20.3,679.6 -16.7,683.0 -11.9,684.7 -6.9,684.2 -2.5,681.8 0.5,677.7 1.6,672.8Z" fill="#3a2864"/><path d="M-21.6,1236.1 -24.1,1240.0 -24.9,1244.6 -23.9,1249.1 -21.2,1252.9 -17.4,1255.4 -10.7,1256.3 -6.1,1255.4 -2.2,1252.8 0.4,1248.9 1.3,1244.3 1.3,1242.0 0.4,1237.4 -2.3,1233.4 -6.3,1230.8 -11.0,1230.0 -15.6,1231.0 -19.5,1233.8Z" fill="#3a2a66"/><path d="M8.3,687.6 9.2,692.2 11.8,696.0 15.7,698.6 20.3,699.6 24.9,698.6 44.3,690.6 48.2,688.0 50.8,684.1 51.7,679.5 51.7,669.3 50.8,664.7 48.2,660.8 44.3,658.2 39.7,657.3 20.3,657.3 15.7,658.2 11.8,660.8 9.2,664.7 8.3,669.3Z" fill="#38215e"/><path d="M51.3,1225.7 50.4,1221.1 47.8,1217.2 43.9,1214.6 39.3,1213.7 20.7,1213.7 16.1,1214.6 12.2,1217.2 9.6,1221.1 8.7,1225.7 8.7,1244.3 9.6,1248.9 12.2,1252.8 16.1,1255.4 20.7,1256.3 39.3,1256.3 43.9,1255.4 47.8,1252.8 50.4,1248.9 51.3,1244.3Z" fill="#392763"/><path d="M84.6,702.1 89.3,703.4 94.1,702.8 98.3,700.3 101.2,696.3 102.2,691.5 102.2,668.8 101.2,664.2 98.6,660.4 94.8,657.8 90.2,656.8 69.8,656.8 65.2,657.8 61.4,660.4 58.8,664.2 57.8,668.8 57.8,680.7 58.6,685.0 60.8,688.7 64.2,691.4Z" fill="#371d5a"/><path d="M73.6,1216.1 69.2,1215.8 65.1,1217.0 61.6,1219.7 59.4,1223.4 58.6,1227.7 58.6,1244.4 59.5,1249.0 62.1,1252.9 66.0,1255.5 70.6,1256.4 89.4,1256.4 94.0,1255.5 97.9,1252.9 100.5,1249.0 101.4,1244.4 101.4,1232.6 100.3,1227.5 97.1,1223.3 92.4,1221.0Z" fill="#392662"/><path d="M134.1,701.5 138.5,701.2 142.5,699.3 147.5,695.8 151.2,691.5 152.6,686.0 152.6,668.4 151.6,663.8 149.0,660.0 145.2,657.4 140.6,656.4 119.4,656.4 114.8,657.4 111.0,660.0 108.4,663.8 107.4,668.4 107.4,687.7 108.2,692.0 110.5,695.7 113.9,698.3 118.0,699.6Z" fill="#361351"/><path d="M151.5,1220.3 150.5,1215.4 147.5,1211.3 143.1,1208.8 140.4,1208.0 135.3,1207.5 130.6,1209.2 114.3,1219.0 111.2,1221.7 109.2,1225.2 108.5,1229.3 108.5,1244.5 109.4,1249.1 112.0,1253.0 115.9,1255.6 120.5,1256.5 139.5,1256.5 144.1,1255.6 148.0,1253.0 150.6,1249.1 151.5,1244.5Z" fill="#392360"/><path d="M157.1,681.6 157.8,685.7 159.9,689.3 163.1,692.0 167.0,693.5 188.8,697.3 194.0,697.1 198.6,694.7 201.8,690.6 202.9,685.5 202.9,668.1 202.0,663.5 199.4,659.6 195.5,657.0 190.9,656.1 169.1,656.1 164.5,657.0 160.6,659.6 158.0,663.5 157.1,668.1Z" fill="#350d4c"/><path d="M201.7,1231.7 201.1,1227.8 199.2,1224.3 196.3,1221.7 178.2,1209.7 173.3,1207.9 166.7,1208.7 162.3,1211.2 159.3,1215.2 158.3,1220.1 158.3,1244.7 159.2,1249.3 161.8,1253.2 165.7,1255.8 170.3,1256.7 189.7,1256.7 194.3,1255.8 198.2,1253.2 200.8,1249.3 201.7,1244.7Z" fill="#38205d"/><path d="M206.8,687.0 208.0,692.2 211.3,696.4 216.1,698.7 228.6,701.6 232.4,701.8 236.1,700.8 246.1,696.4 249.8,693.8 252.3,689.9 253.2,685.4 253.2,667.8 252.3,663.2 249.7,659.3 245.8,656.7 241.2,655.8 218.8,655.8 214.2,656.7 210.3,659.3 207.7,663.2 206.8,667.8Z" fill="#340c4b"/><path d="M252.0,1236.0 251.1,1231.5 248.6,1227.6 244.8,1225.0 235.4,1220.8 231.4,1219.9 227.3,1220.3 216.8,1223.3 212.2,1225.7 209.1,1229.8 208.0,1234.8 208.0,1245.0 208.9,1249.6 211.5,1253.5 215.4,1256.1 220.0,1257.0 240.0,1257.0 244.6,1256.1 248.5,1253.5 251.1,1249.6 252.0,1245.0Z" fill="#38225f"/><path d="M256.5,685.1 257.4,689.8 260.2,693.8 264.2,696.3 274.9,700.3 278.4,701.1 281.9,700.8 294.3,697.9 299.0,695.6 302.3,691.4 303.5,686.2 303.5,667.5 302.6,662.9 300.0,659.0 296.1,656.4 291.5,655.5 268.5,655.5 263.9,656.4 260.0,659.0 257.4,662.9 256.5,667.5Z" fill="#330645"/><path d="M302.2,1233.2 301.5,1229.0 299.2,1225.3 295.9,1222.6 291.8,1221.3 277.4,1219.5 273.6,1219.6 270.0,1220.9 263.9,1224.3 260.6,1227.0 258.5,1230.7 257.8,1234.8 257.8,1245.2 258.7,1249.8 261.3,1253.7 265.2,1256.3 269.8,1257.2 290.2,1257.2 294.8,1256.3 298.7,1253.7 301.3,1249.8 302.2,1245.2Z" fill="#371a57"/><path d="M306.5,688.9 307.2,693.1 309.4,696.8 313.5,699.9 318.4,701.3 323.4,700.6 345.7,692.3 349.8,689.8 352.6,685.8 353.5,681.1 353.5,667.5 352.6,662.9 350.0,659.0 346.1,656.4 341.5,655.5 318.5,655.5 313.9,656.4 310.0,659.0 307.4,662.9 306.5,667.5Z" fill="#330545"/><path d="M352.4,1223.8 351.6,1219.5 349.3,1215.8 345.9,1213.1 336.1,1208.1 331.8,1206.8 327.3,1207.2 323.2,1209.3 312.2,1217.9 308.8,1222.1 307.6,1227.4 307.6,1245.4 308.5,1250.0 311.1,1253.9 315.0,1256.5 319.6,1257.4 340.4,1257.4 345.0,1256.5 348.9,1253.9 351.5,1250.0 352.4,1245.4Z" fill="#361452"/><path d="M356.6,682.4 357.4,686.6 359.5,690.2 362.8,692.9 385.5,705.5 390.3,707.0 395.2,706.4 399.4,703.9 402.3,699.9 403.4,695.0 403.4,667.6 402.4,663.1 399.8,659.2 395.9,656.6 391.4,655.6 368.6,655.6 364.1,656.6 360.2,659.2 357.6,663.1 356.6,667.6Z" fill="#330847"/><path d="M366.9,1214.8 362.1,1217.1 358.7,1221.3 357.5,1226.5 357.5,1245.5 358.4,1250.1 361.0,1254.0 364.9,1256.6 369.5,1257.5 390.5,1257.5 395.1,1256.6 399.0,1254.0 401.6,1250.1 402.5,1245.5 402.5,1229.4 401.8,1225.3 399.7,1221.7 396.6,1219.0 387.4,1213.6 383.2,1212.1 378.7,1212.2Z" fill="#371856"/><path d="M453.2,667.8 452.3,663.2 449.7,659.3 445.8,656.7 441.2,655.8 418.8,655.8 414.2,656.7 410.3,659.3 407.7,663.2 406.8,667.8 406.8,692.7 407.5,696.8 409.6,700.4 412.9,703.1 416.8,704.5 437.0,707.9 440.8,708.0 446.7,705.6 450.1,702.9 452.4,699.2 453.2,694.9Z" fill="#340c4b"/><path d="M407.4,1245.6 408.3,1250.2 410.9,1254.1 414.8,1256.7 419.4,1257.6 440.6,1257.6 445.2,1256.7 449.1,1254.1 451.7,1250.2 452.6,1245.6 452.6,1226.2 451.8,1221.8 449.5,1218.1 445.9,1215.4 441.7,1214.2 437.3,1214.6 416.2,1220.5 411.7,1222.9 408.5,1227.0 407.4,1232.1Z" fill="#361452"/><path d="M457.1,691.3 457.8,695.4 460.0,699.1 463.2,701.8 467.2,703.1 489.1,706.5 494.2,706.2 498.8,703.7 501.8,699.6 502.9,694.6 502.9,668.1 502.0,663.5 499.4,659.6 495.5,657.0 490.9,656.1 469.1,656.1 464.5,657.0 460.6,659.6 458.0,663.5 457.1,668.1Z" fill="#35104e"/><path d="M502.6,1224.8 502.0,1220.9 500.1,1217.4 497.1,1214.7 490.4,1210.4 485.3,1208.6 479.9,1209.2 465.3,1214.4 461.2,1217.0 458.4,1220.9 457.4,1225.7 457.4,1245.6 458.3,1250.2 460.9,1254.1 464.8,1256.7 469.4,1257.6 490.6,1257.6 495.2,1256.7 499.1,1254.1 501.7,1250.2 502.6,1245.6Z" fill="#361553"/><path d="M552.7,668.3 551.7,663.8 549.1,659.9 545.2,657.3 540.7,656.3 519.3,656.3 514.8,657.3 510.9,659.9 508.3,663.8 507.3,668.3 507.3,688.9 508.2,693.4 510.7,697.2 514.5,699.8 519.0,700.9 540.3,701.5 545.0,700.7 549.0,698.1 551.7,694.2 552.7,689.5Z" fill="#361452"/><path d="M517.4,1217.3 513.4,1218.7 510.2,1221.4 508.1,1225.0 507.3,1229.2 507.3,1245.7 508.2,1250.3 510.8,1254.2 514.7,1256.8 519.3,1257.7 540.7,1257.7 545.3,1256.8 549.2,1254.2 551.8,1250.3 552.7,1245.7 552.7,1226.6 551.9,1222.4 549.7,1218.7 546.4,1216.1 541.5,1214.1 537.5,1214.1Z" fill="#361452"/><path d="M557.6,693.8 558.5,698.2 560.9,702.0 564.5,704.6 568.8,705.8 583.5,706.8 587.7,706.3 591.5,704.5 594.4,701.4 596.0,697.5 602.0,671.3 602.2,667.0 600.9,663.0 598.2,659.6 594.5,657.4 590.3,656.6 569.6,656.6 565.0,657.5 561.1,660.1 558.5,664.0 557.6,668.6Z" fill="#371957"/><path d="M602.7,1245.7 602.2,1239.3 596.6,1221.5 594.5,1217.5 591.0,1214.6 586.7,1213.2 582.2,1213.5 566.3,1217.6 561.6,1219.9 558.4,1224.1 557.3,1229.2 557.3,1245.7 558.2,1250.3 560.8,1254.2 564.7,1256.8 569.3,1257.7 590.7,1257.7 595.3,1256.8 599.2,1254.2 601.8,1250.3Z" fill="#351150"/><path d="M607.7,663.7 608.8,666.9 611.8,668.7 634.4,672.8 636.6,672.7 638.5,671.7 639.9,670.0 640.3,667.9 640.0,659.7 638.9,658.1 637.3,657.0 635.3,656.7 612.7,656.7 610.7,657.0 609.1,658.1 608.0,659.7Z" fill="#371957"/><path d="M614.2,1241.8 611.5,1242.6 609.3,1244.4 607.8,1246.9 607.3,1249.7 607.9,1252.8 609.6,1255.4 612.2,1257.1 615.3,1257.7 632.7,1257.7 635.8,1257.1 638.4,1255.4 640.1,1252.8 640.7,1247.4 640.0,1244.1 638.0,1241.3 635.0,1239.7 631.7,1239.4Z" fill="#35114f"/><path d="M-33.0,673.3 -35.4,671.0 -38.6,669.9 -41.9,670.2 -44.9,671.9 -46.9,674.6 -47.6,677.9 -47.6,693.6 -47.0,696.6 -45.2,699.2 -42.6,701.0 -39.6,701.6 -28.8,701.6 -25.9,701.0 -23.5,699.6 -21.7,697.3 -20.8,694.5 -21.0,691.7 -22.2,689.0Z" fill="#392460"/><path d="M628.3,702.3 632.9,701.4 636.8,698.8 639.4,694.9 640.3,689.3 639.6,685.2 637.6,681.6 634.4,678.9 630.5,677.5 618.3,675.3 613.8,675.3 609.6,677.0 606.3,680.2 604.5,684.4 603.7,687.7 603.5,691.9 604.8,696.0 607.5,699.4 611.2,701.6 615.4,702.3Z" fill="#371a58"/><path d="M-7.8,722.9 -7.7,718.6 -9.1,714.6 -11.7,711.4 -15.4,709.2 -19.6,708.5 -35.5,708.5 -40.1,709.4 -44.0,712.0 -46.6,715.9 -47.5,720.5 -47.5,739.5 -46.6,744.1 -44.0,748.0 -40.1,750.6 -35.5,751.5 -23.5,751.5 -18.2,750.3 -14.0,746.9 -11.8,742.0Z" fill="#392663"/><path d="M609.8,707.7 605.3,708.5 601.5,711.0 598.8,714.7 597.8,719.2 598.5,723.7 605.8,744.3 608.3,748.5 612.3,751.3 617.1,752.3 628.3,752.3 632.9,751.4 636.8,748.8 639.4,744.9 640.3,740.3 640.3,719.7 639.4,715.1 636.8,711.2 632.9,708.6 628.3,707.7Z" fill="#361754"/><path d="M-23.3,801.5 -19.1,800.7 -15.4,798.5 -12.7,795.1 -11.4,790.9 -9.1,771.9 -9.6,766.9 -12.1,762.5 -16.1,759.6 -21.0,758.5 -35.5,758.5 -40.1,759.4 -44.0,762.0 -46.6,765.9 -47.5,770.5 -47.5,789.5 -46.6,794.1 -44.0,798.0 -40.1,800.6 -35.5,801.5Z" fill="#3a2a66"/><path d="M615.2,757.7 611.1,758.4 607.5,760.5 604.9,763.7 595.6,779.6 594.0,784.8 594.9,790.2 596.8,794.8 599.4,798.7 603.3,801.4 607.9,802.3 628.3,802.3 632.9,801.4 636.8,798.8 639.4,794.9 640.3,790.3 640.3,769.7 639.4,765.1 636.8,761.2 632.9,758.6 628.3,757.7Z" fill="#371a58"/><path d="M-10.6,820.6 -11.5,816.0 -14.1,812.1 -18.0,809.5 -22.6,808.6 -35.4,808.6 -40.0,809.5 -43.9,812.1 -46.5,816.0 -47.4,820.6 -47.4,839.4 -46.5,844.0 -43.9,847.9 -40.0,850.5 -35.4,851.4 -22.6,851.4 -18.0,850.5 -14.1,847.9 -11.5,844.0 -10.6,839.4Z" fill="#392763"/><path d="M597.4,842.3 598.8,846.2 601.5,849.4 605.1,851.5 609.2,852.2 628.2,852.2 632.8,851.3 636.7,848.7 639.3,844.8 640.2,840.2 640.2,819.8 639.3,815.2 636.7,811.3 632.8,808.7 628.2,807.8 608.8,807.8 603.9,808.8 599.8,811.8 597.3,816.1 595.3,822.4 594.9,828.1Z" fill="#361654"/><path d="M-11.8,868.6 -13.2,864.6 -15.9,861.4 -19.5,859.3 -23.6,858.6 -35.4,858.6 -40.0,859.5 -43.9,862.1 -46.5,866.0 -47.4,870.6 -47.4,889.4 -46.5,894.0 -43.9,897.9 -40.0,900.5 -35.4,901.4 -23.7,901.4 -19.2,900.5 -15.4,898.0 -12.7,894.3 -10.3,888.9 -9.4,885.5 -9.5,881.9Z" fill="#392763"/><path d="M610.2,857.8 605.9,858.6 602.1,861.0 599.4,864.6 598.3,868.9 597.3,881.7 597.7,885.9 599.6,889.7 605.1,897.2 609.3,900.9 614.8,902.2 628.2,902.2 632.8,901.3 636.7,898.7 639.3,894.8 640.2,890.2 640.2,869.8 639.3,865.2 636.7,861.3 632.8,858.7 628.2,857.8Z" fill="#371856"/><path d="M-25.3,951.4 -21.3,950.6 -17.7,948.6 -15.0,945.4 -9.3,935.8 -7.7,930.4 -8.7,924.8 -12.8,915.7 -15.4,912.0 -19.2,909.5 -23.7,908.6 -35.4,908.6 -40.0,909.6 -43.8,912.2 -46.4,916.0 -47.4,920.6 -47.4,939.4 -46.4,944.0 -43.8,947.8 -40.0,950.4 -35.4,951.4Z" fill="#3a2965"/><path d="M602.0,937.2 601.7,941.5 602.9,945.7 605.6,949.1 609.3,951.4 613.6,952.1 628.1,952.1 632.7,951.2 636.6,948.6 639.2,944.7 640.1,940.1 640.1,919.9 639.2,915.3 636.6,911.4 632.7,908.8 628.1,907.9 618.8,907.9 613.6,909.0 609.5,912.2 607.1,916.9Z" fill="#371b58"/><path d="M-15.9,966.3 -18.5,962.3 -22.4,959.6 -27.1,958.7 -35.3,958.7 -39.9,959.6 -43.8,962.2 -46.4,966.1 -47.3,970.7 -47.3,989.3 -46.4,993.9 -43.8,997.8 -39.9,1000.4 -35.3,1001.3 -20.5,1001.3 -15.7,1000.3 -11.7,997.5 -9.2,993.3 -8.2,988.1 -9.0,983.9Z" fill="#3a2a66"/><path d="M611.2,957.9 606.7,958.8 602.8,961.3 600.2,965.1 599.2,969.5 598.6,989.7 599.4,994.4 601.9,998.4 605.9,1001.1 610.6,1002.1 628.1,1002.1 632.7,1001.2 636.6,998.6 639.2,994.7 640.1,990.1 640.1,969.9 639.2,965.3 636.6,961.4 632.7,958.8 628.1,957.9Z" fill="#381d5a"/><path d="M-35.3,1008.7 -39.9,1009.6 -43.8,1012.2 -46.4,1016.1 -47.3,1020.7 -47.3,1039.3 -46.4,1043.9 -43.8,1047.8 -39.9,1050.4 -35.3,1051.3 -21.0,1051.3 -15.9,1050.2 -11.8,1047.0 -9.4,1042.4 -5.7,1028.9 -5.4,1024.9 -6.4,1020.9 -8.6,1015.8 -11.3,1012.1 -15.1,1009.6 -19.6,1008.7Z" fill="#3a2a66"/><path d="M603.6,1007.7 599.4,1008.5 595.6,1010.8 593.0,1014.2 591.7,1018.4 592.0,1022.7 597.4,1043.3 599.8,1048.0 603.9,1051.2 609.0,1052.3 628.3,1052.3 632.9,1051.4 636.8,1048.8 639.4,1044.9 640.3,1040.3 640.3,1019.7 639.4,1015.1 636.8,1011.2 632.9,1008.6 628.3,1007.7Z" fill="#361755"/><path d="M-35.3,1058.7 -39.9,1059.6 -43.8,1062.2 -46.4,1066.1 -47.3,1070.7 -47.3,1089.3 -46.4,1093.9 -43.8,1097.8 -39.9,1100.4 -35.3,1101.3 -18.2,1101.3 -13.9,1100.5 -10.1,1098.1 -7.4,1094.5 -6.3,1090.2 -5.1,1074.2 -6.4,1067.8 -7.8,1065.1 -10.5,1061.7 -14.2,1059.5 -18.5,1058.7Z" fill="#3a2a66"/><path d="M599.5,1096.7 602.2,1099.9 605.8,1102.0 609.9,1102.7 628.7,1102.7 633.3,1101.8 637.2,1099.2 639.8,1095.3 640.7,1090.7 640.7,1069.3 639.8,1064.7 637.2,1060.8 633.3,1058.2 628.7,1057.3 606.8,1057.3 602.4,1058.1 598.6,1060.6 595.9,1064.3 591.8,1073.0 590.7,1078.6 592.3,1084.0Z" fill="#361452"/><path d="M-3.7,1119.9 -4.9,1115.5 -7.5,1111.9 -11.3,1109.5 -15.7,1108.7 -35.3,1108.7 -39.9,1109.6 -43.8,1112.2 -46.4,1116.1 -47.3,1120.7 -47.3,1139.3 -46.4,1143.9 -43.8,1147.8 -39.9,1150.4 -35.3,1151.3 -14.4,1151.3 -9.6,1150.3 -5.7,1147.5 -3.1,1143.3 -2.5,1138.5Z" fill="#3a2a66"/><path d="M595.8,1138.0 595.6,1142.3 596.8,1146.4 599.5,1149.8 603.2,1152.0 607.5,1152.8 628.8,1152.8 633.4,1151.9 637.3,1149.3 639.9,1145.4 640.8,1140.8 640.8,1119.2 639.9,1114.6 637.3,1110.7 633.4,1108.1 628.8,1107.2 612.8,1107.2 607.6,1108.3 603.5,1111.6 601.1,1116.3Z" fill="#35104e"/><path d="M-17.9,1201.3 -13.1,1200.3 -9.1,1197.5 -6.5,1193.3 -5.9,1188.4 -7.3,1169.8 -8.5,1165.5 -11.1,1161.9 -14.9,1159.5 -19.3,1158.7 -35.3,1158.7 -39.9,1159.6 -43.8,1162.2 -46.4,1166.1 -47.3,1170.7 -47.3,1189.3 -46.4,1193.9 -43.8,1197.8 -39.9,1200.4 -35.3,1201.3Z" fill="#3a2a66"/><path d="M628.8,1202.8 633.3,1201.8 637.2,1199.2 639.8,1195.3 640.8,1190.8 640.8,1169.2 639.8,1164.7 637.2,1160.8 633.3,1158.2 628.8,1157.2 609.8,1157.2 605.1,1158.2 601.1,1160.9 598.6,1165.0 597.8,1169.7 598.6,1191.2 599.7,1195.7 602.3,1199.4 606.1,1201.9 610.6,1202.8Z" fill="#361452"/><path d="M-47.3,1222.3 -46.4,1227.0 -43.7,1230.9 -39.7,1233.5 -35.0,1234.3 -30.4,1233.3 -26.5,1230.5 -22.6,1225.0 -21.8,1220.4 -22.8,1215.9 -25.4,1212.1 -29.2,1209.6 -35.3,1208.7 -39.9,1209.6 -43.8,1212.2 -46.4,1216.1Z" fill="#3a2a66"/><path d="M613.3,1207.3 608.9,1208.1 605.1,1210.5 602.4,1214.1 601.3,1218.4 601.8,1222.8 603.6,1228.5 605.5,1232.3 608.6,1235.1 612.4,1236.7 616.6,1236.9 630.3,1235.0 634.4,1233.7 637.8,1231.0 640.0,1227.4 640.7,1223.1 640.7,1219.3 639.8,1214.7 637.2,1210.8 633.3,1208.2 628.7,1207.3Z" fill="#361553"/></g>
<g filter="url(#blurJ)"><circle cx="54.6" cy="752.8" r="7" fill="#3eb072" opacity="0.8"/><ellipse cx="54.6" cy="752.8" rx="4.5" ry="4.5" fill="#c8da40"/><circle cx="93.6" cy="857.6" r="7" fill="#3eb072" opacity="0.8"/><ellipse cx="93.6" cy="857.6" rx="4.5" ry="4.5" fill="#c8da40"/><circle cx="58.0" cy="913.3" r="7" fill="#3eb072" opacity="0.8"/><ellipse cx="58.0" cy="913.3" rx="4.5" ry="4.5" fill="#c8da40"/><circle cx="114.5" cy="1042.5" r="7" fill="#3eb072" opacity="0.8"/><ellipse cx="114.5" cy="1042.5" rx="4.5" ry="4.5" fill="#c8da40"/><circle cx="117.4" cy="1082.1" r="7" fill="#3eb072" opacity="0.8"/><ellipse cx="117.4" cy="1082.1" rx="4.5" ry="4.5" fill="#c8da40"/><circle cx="67.0" cy="1100.0" r="7" fill="#3eb072" opacity="0.8"/><ellipse cx="67.0" cy="1100.0" rx="4.5" ry="4.5" fill="#c8da40"/><circle cx="65.1" cy="1166.8" r="7" fill="#3eb072" opacity="0.8"/><ellipse cx="65.1" cy="1166.8" rx="4.5" ry="4.5" fill="#c8da40"/><circle cx="117.9" cy="1156.5" r="7" fill="#3eb072" opacity="0.8"/><ellipse cx="117.9" cy="1156.5" rx="4.5" ry="4.5" fill="#c8da40"/><circle cx="324.7" cy="1175.6" r="7" fill="#3eb072" opacity="0.8"/><ellipse cx="324.7" cy="1175.6" rx="4.5" ry="4.5" fill="#c8da40"/><circle cx="362.7" cy="1143.6" r="7" fill="#3eb072" opacity="0.8"/><ellipse cx="362.7" cy="1143.6" rx="4.5" ry="4.5" fill="#c8da40"/><circle cx="177.2" cy="1038.5" r="7" fill="#3eb072" opacity="0.8"/><ellipse cx="177.2" cy="1038.5" rx="4.5" ry="4.5" fill="#c8da40"/><circle cx="184.5" cy="945.7" r="7" fill="#3eb072" opacity="0.8"/><ellipse cx="184.5" cy="945.7" rx="4.5" ry="4.5" fill="#c8da40"/><circle cx="411.5" cy="839.1" r="7" fill="#3eb072" opacity="0.8"/><ellipse cx="411.5" cy="839.1" rx="4.5" ry="4.5" fill="#c8da40"/><circle cx="499.1" cy="930.1" r="7" fill="#3eb072" opacity="0.8"/><ellipse cx="499.1" cy="930.1" rx="4.5" ry="4.5" fill="#c8da40"/><circle cx="530.7" cy="992.4" r="7" fill="#3eb072" opacity="0.8"/><ellipse cx="530.7" cy="992.4" rx="4.5" ry="4.5" fill="#c8da40"/><circle cx="493.3" cy="997.4" r="7" fill="#3eb072" opacity="0.8"/><ellipse cx="493.3" cy="997.4" rx="4.5" ry="4.5" fill="#c8da40"/><circle cx="487.6" cy="1041.4" r="7" fill="#3eb072" opacity="0.8"/><ellipse cx="487.6" cy="1041.4" rx="4.5" ry="4.5" fill="#c8da40"/><circle cx="538.8" cy="956.8" r="7" fill="#3eb072" opacity="0.8"/><ellipse cx="538.8" cy="956.8" rx="4.5" ry="4.5" fill="#c8da40"/><circle cx="559.7" cy="707.8" r="7" fill="#3eb072" opacity="0.8"/><ellipse cx="559.7" cy="707.8" rx="4.5" ry="4.5" fill="#c8da40"/><circle cx="397.5" cy="1102.7" r="7" fill="#3eb072" opacity="0.8"/><ellipse cx="397.5" cy="1102.7" rx="4.5" ry="4.5" fill="#c8da40"/></g>
</g>
<rect x="616" y="619" width="584" height="586" fill="#231f20"/>
<text x="626" y="650" font-size="29" font-weight="bold" font-family="Liberation Sans, sans-serif" fill="#fff">d</text>
<text x="828.8" y="655.5" font-size="19.3" textLength="182" lengthAdjust="spacingAndGlyphs" font-family="Liberation Sans, sans-serif" fill="#fff">Coordination number</text>
<polygon points="681.5,688.5 694.3,670.9 715.0,677.6 715.0,699.4 694.3,706.1" fill="#e9416c" stroke="#4cbb5c" stroke-width="3" stroke-linejoin="round"/>
<polygon points="909.0,688.3 898.5,706.5 877.5,706.5 867.0,688.3 877.5,670.1 898.5,670.1" fill="none" stroke="#4cbb5c" stroke-width="3" stroke-linejoin="round"/>
<polygon points="1060.0,688.3 1067.2,673.4 1083.2,669.8 1096.1,680.1 1096.1,696.5 1083.2,706.8 1067.2,703.2" fill="#2d64b0" stroke="#4cbb5c" stroke-width="3" stroke-linejoin="round"/>
<text x="736.5" y="694.5" font-size="17" text-anchor="middle" font-family="Liberation Sans, sans-serif" fill="#fff">5</text>
<text x="927.3" y="694.5" font-size="17" text-anchor="middle" font-family="Liberation Sans, sans-serif" fill="#fff">6</text>
<text x="1110" y="694.5" font-size="17" text-anchor="middle" font-family="Liberation Sans, sans-serif" fill="#fff">7</text>
<clipPath id="clipD"><rect x="622" y="715" width="573" height="485"/></clipPath>
<g clip-path="url(#clipD)">
<path d="M650.5,715.2 651.3,733.4 676.0,736.0 677.7,734.8 679.5,714.2 676.7,712.5Z" fill="#e9416c"/><path d="M677.2,764.9 683.5,765.9 701.2,752.1 698.8,741.9 677.7,734.8 676.0,736.0 671.2,757.0Z" fill="#e9416c"/><path d="M728.0,735.3 747.7,730.5 750.1,726.1 742.9,713.1 723.9,716.7 718.8,726.1Z" fill="#e9416c"/><path d="M760.9,724.0 774.1,737.5 785.5,737.0 785.5,717.2 767.7,712.3Z" fill="#e9416c"/><path d="M841.1,738.9 857.4,737.3 863.4,721.8 847.7,713.2 837.9,723.4 838.6,736.9Z" fill="#e9416c"/><path d="M814.2,757.7 825.2,763.9 841.9,756.3 841.1,738.9 838.6,736.9 817.7,740.9Z" fill="#e9416c"/><path d="M753.0,748.8 728.9,755.4 728.8,755.5 738.3,776.5 750.8,781.2 761.8,761.4 758.9,752.2Z" fill="#e9416c"/><path d="M747.1,813.0 750.2,810.0 752.7,785.1 750.8,781.2 738.3,776.5 722.0,785.6 723.3,804.0Z" fill="#e9416c"/><path d="M763.3,839.4 777.5,837.0 782.4,828.7 777.9,813.3 750.2,810.0 747.1,813.0 745.0,823.5Z" fill="#e9416c"/><path d="M686.0,849.2 710.6,854.0 715.0,851.0 715.6,833.4 709.7,826.5 688.9,830.0 685.5,848.1Z" fill="#e9416c"/><path d="M706.6,870.9 725.3,886.5 736.4,873.6 735.9,858.6 715.0,851.0 710.6,854.0Z" fill="#e9416c"/><path d="M889.0,878.4 885.7,891.4 893.3,903.3 911.9,903.3 915.8,884.2 907.0,873.3 897.7,872.6Z" fill="#e9416c"/><path d="M712.0,919.8 721.6,923.8 734.0,901.7 725.0,888.9 704.3,900.1Z" fill="#e9416c"/><path d="M682.6,909.6 691.9,929.3 712.0,919.8 704.3,900.1 701.5,899.1 684.3,905.7Z" fill="#e9416c"/><path d="M677.3,961.3 688.9,964.2 700.5,950.0 690.6,932.9 668.2,939.6 667.1,941.2Z" fill="#e9416c"/><path d="M760.0,947.6 747.8,936.6 743.8,935.8 730.5,939.1 724.5,950.9 725.3,954.2 754.5,971.4 759.7,965.8Z" fill="#e9416c"/><path d="M622.3,737.4 609.9,749.4 614.3,769.7 626.1,772.3 639.1,745.0Z" fill="#e9416c"/><path d="M1052.0,735.6 1053.1,734.9 1056.7,712.2 1039.2,705.2 1032.4,709.5 1028.6,728.5Z" fill="#e9416c"/><path d="M1045.1,754.8 1062.0,766.3 1073.0,758.9 1073.6,740.8 1053.1,734.9 1052.0,735.6Z" fill="#e9416c"/><path d="M981.5,730.3 970.6,739.6 978.9,761.5 1000.0,752.5 993.5,732.3Z" fill="#e9416c"/><path d="M940.2,797.1 963.0,774.5 947.4,757.7 943.2,757.0 928.4,767.4 936.3,797.2Z" fill="#e9416c"/><path d="M1015.7,817.9 1015.9,817.9 1026.8,803.5 1024.8,786.4 1007.3,779.4 1001.5,783.1 996.6,804.6Z" fill="#e9416c"/><path d="M1182.9,722.0 1167.8,728.8 1167.2,730.3 1174.1,746.2 1188.4,749.3 1199.5,733.1Z" fill="#e9416c"/><path d="M1165.6,761.0 1150.3,761.9 1149.8,763.0 1154.7,789.5 1161.0,793.0 1177.2,778.9 1177.4,773.1Z" fill="#e9416c"/><path d="M1188.1,786.9 1182.4,808.8 1203.6,808.1 1204.3,807.4 1202.6,786.6Z" fill="#e9416c"/><path d="M978.0,807.2 958.2,811.1 954.7,833.2 963.7,838.9 981.8,828.6 980.6,808.5Z" fill="#e9416c"/><path d="M908.1,839.9 910.8,841.2 931.1,828.8 927.2,806.8 902.9,816.8Z" fill="#e9416c"/><path d="M917.3,855.6 937.5,857.6 942.5,836.6 931.1,828.8 910.8,841.2Z" fill="#e9416c"/><path d="M961.7,865.3 961.7,865.2 939.8,861.0 933.4,881.5 945.1,892.3 951.0,890.9Z" fill="#e9416c"/><path d="M932.3,935.0 931.7,912.8 915.5,908.5 906.8,928.7 922.1,941.9Z" fill="#e9416c"/><path d="M1095.3,830.0 1092.7,834.3 1101.9,853.5 1124.4,847.6 1121.8,826.0 1117.0,823.7Z" fill="#e9416c"/><path d="M1085.3,865.3 1068.7,848.7 1065.4,849.4 1054.6,866.3 1058.2,874.6 1073.3,880.3Z" fill="#e9416c"/><path d="M1121.9,876.8 1104.9,876.1 1098.0,898.1 1101.9,901.5 1121.8,901.5 1128.6,889.9Z" fill="#e9416c"/><path d="M1080.1,928.2 1103.6,921.9 1101.9,901.5 1098.0,898.1 1078.4,899.1 1077.2,900.6Z" fill="#e9416c"/><path d="M620.7,955.6 614.3,963.9 617.9,981.1 639.1,980.1 644.4,973.3 631.4,957.0Z" fill="#e9416c"/><path d="M739.2,987.0 718.8,980.7 718.7,980.7 713.0,999.4 718.6,1010.9 742.6,1002.9Z" fill="#e9416c"/><path d="M771.8,1025.7 773.6,1026.2 783.2,1004.5 773.5,992.6 767.6,992.2 754.5,1006.2Z" fill="#e9416c"/><path d="M799.8,1047.0 801.0,1033.2 799.5,1030.9 774.0,1026.8 772.9,1052.6Z" fill="#e9416c"/><path d="M876.1,1070.3 879.7,1082.2 894.8,1087.5 905.3,1073.8 899.5,1057.9 884.0,1060.0Z" fill="#e9416c"/><path d="M663.0,1103.8 652.7,1100.1 639.0,1107.4 638.1,1122.8 660.4,1122.8 666.4,1110.7Z" fill="#e9416c"/><path d="M750.8,1130.4 752.2,1129.5 753.3,1107.6 740.2,1099.9 727.2,1115.6 729.0,1124.7Z" fill="#e9416c"/><path d="M776.4,1133.5 752.2,1129.5 750.8,1130.4 745.9,1147.7 764.3,1163.3 779.4,1139.4 779.3,1137.9Z" fill="#e9416c"/><path d="M616.7,1152.5 613.4,1167.3 624.6,1179.6 631.8,1179.9 639.4,1175.3 643.7,1165.1 641.4,1157.7Z" fill="#e9416c"/><path d="M803.1,1189.9 805.4,1178.3 793.4,1167.9 776.8,1175.0 777.4,1189.8 782.7,1194.7Z" fill="#e9416c"/><path d="M887.3,1150.1 895.0,1132.1 878.7,1121.4 864.1,1132.9 877.2,1149.2Z" fill="#e9416c"/><path d="M897.9,1183.2 914.7,1173.1 913.2,1159.8 890.7,1155.2 884.4,1177.0Z" fill="#e9416c"/><path d="M881.5,1208.0 875.2,1179.9 867.6,1178.3 855.6,1190.2 858.3,1207.1Z" fill="#e9416c"/><path d="M631.5,1100.4 634.0,1085.2 625.5,1077.9 615.1,1080.3 610.9,1099.2 615.2,1103.7Z" fill="#e9416c"/><path d="M919.6,1001.7 905.0,1000.2 894.1,1011.9 897.1,1029.2 908.5,1037.8 927.4,1020.8 926.7,1010.2Z" fill="#e9416c"/><path d="M1035.6,1043.7 1039.2,1038.6 1031.2,1013.3 1022.1,1011.4 1013.5,1015.0 1011.0,1031.6 1028.0,1044.4Z" fill="#e9416c"/><path d="M1067.9,1001.3 1050.9,1008.0 1059.7,1031.1 1080.0,1024.0 1079.9,1009.4Z" fill="#e9416c"/><path d="M1044.0,1082.3 1057.6,1067.0 1057.3,1063.4 1041.9,1056.9 1026.5,1075.8Z" fill="#e9416c"/><path d="M992.2,1069.8 981.3,1051.8 958.8,1062.1 959.2,1067.3 979.3,1084.0 989.2,1078.7Z" fill="#e9416c"/><path d="M930.7,1055.6 926.6,1076.2 947.2,1082.1 959.2,1067.3 958.8,1062.1 948.2,1050.0Z" fill="#e9416c"/><path d="M954.6,1101.6 949.9,1098.1 928.2,1103.9 927.4,1120.0 938.9,1129.1 948.4,1126.2 956.9,1108.6Z" fill="#e9416c"/><path d="M924.0,1199.8 934.5,1204.7 936.6,1204.3 948.1,1193.5 945.7,1177.1 941.5,1174.3 921.9,1178.6Z" fill="#e9416c"/><path d="M974.7,1181.7 972.4,1191.0 988.8,1204.8 1002.7,1200.4 999.9,1178.0 989.2,1174.0Z" fill="#e9416c"/><path d="M999.9,1178.0 1010.2,1172.0 1013.9,1152.6 995.9,1145.8 985.2,1157.2 989.2,1174.0Z" fill="#e9416c"/><path d="M1031.8,1149.8 1038.4,1176.1 1053.9,1173.4 1053.4,1149.2 1044.7,1144.3Z" fill="#e9416c"/><path d="M1152.1,1043.3 1140.7,1045.5 1131.3,1065.3 1131.6,1067.0 1149.5,1074.5 1152.6,1073.9 1160.4,1049.4Z" fill="#e9416c"/><path d="M1165.6,1104.3 1168.3,1080.9 1152.6,1073.9 1149.5,1074.5 1140.6,1101.1 1146.1,1107.3 1163.2,1106.7Z" fill="#e9416c"/><path d="M1168.3,1080.9 1165.6,1104.3 1192.1,1106.0 1195.7,1098.5 1176.2,1077.4Z" fill="#e9416c"/><path d="M1179.7,1072.6 1201.3,1071.1 1204.1,1064.3 1200.5,1052.9 1190.6,1049.4 1178.3,1058.9Z" fill="#e9416c"/><path d="M1180.9,1196.3 1174.3,1186.3 1152.7,1187.3 1148.5,1193.4 1152.4,1206.9 1153.6,1207.8 1174.6,1208.0 1180.2,1203.0Z" fill="#e9416c"/><path d="M648.3,712.4 637.5,708.6 625.9,713.3 621.3,734.6 622.3,737.4 639.1,745.0 641.5,744.8 651.3,733.4 650.5,715.2Z" fill="#2d64b0"/><path d="M691.3,709.1 679.5,714.2 677.7,734.8 698.8,741.9 709.7,727.3 695.9,710.2Z" fill="#2d64b0"/><path d="M676.0,736.0 651.3,733.4 641.5,744.8 652.2,756.7 671.2,757.0Z" fill="#2d64b0"/><path d="M750.1,726.1 747.7,730.5 753.0,748.8 758.9,752.2 774.1,737.5 760.9,724.0Z" fill="#2d64b0"/><path d="M812.4,718.7 798.9,708.7 792.8,709.3 785.5,717.2 785.5,737.0 786.0,737.4 810.6,732.0Z" fill="#2d64b0"/><path d="M838.6,736.9 837.9,723.4 821.6,713.7 812.4,718.7 810.6,732.0 817.7,740.9Z" fill="#2d64b0"/><path d="M841.9,756.3 850.0,762.9 862.8,760.1 866.5,746.5 857.4,737.3 841.1,738.9Z" fill="#2d64b0"/><path d="M738.3,776.5 728.8,755.5 711.0,759.0 708.7,780.0 722.0,785.6Z" fill="#2d64b0"/><path d="M777.9,813.3 784.8,805.1 779.6,786.3 752.7,785.1 750.2,810.0Z" fill="#2d64b0"/><path d="M709.7,826.5 715.6,833.4 744.7,823.9 745.0,823.5 747.1,813.0 723.3,804.0 710.3,810.8Z" fill="#2d64b0"/><path d="M744.7,823.9 738.8,856.5 757.9,856.1 763.3,839.4 745.0,823.5Z" fill="#2d64b0"/><path d="M679.8,864.3 684.9,875.4 695.0,877.9 706.6,870.9 710.6,854.0 686.0,849.2Z" fill="#2d64b0"/><path d="M897.0,814.3 902.9,816.8 927.2,806.8 929.9,801.1 904.5,785.9 890.8,794.7Z" fill="#2d64b0"/><path d="M906.8,928.7 915.5,908.5 911.9,903.3 893.3,903.3 885.9,914.2 894.3,931.6 895.0,931.9Z" fill="#2d64b0"/><path d="M743.8,935.8 748.8,904.0 734.0,901.7 721.6,923.8 730.5,939.1Z" fill="#2d64b0"/><path d="M690.6,932.9 691.9,929.3 682.6,909.6 664.0,915.9 668.2,939.6Z" fill="#2d64b0"/><path d="M690.6,932.9 700.5,950.0 724.5,950.9 730.5,939.1 721.6,923.8 712.0,919.8 691.9,929.3Z" fill="#2d64b0"/><path d="M639.1,929.1 615.7,939.7 620.7,955.6 631.4,957.0 647.6,941.7Z" fill="#2d64b0"/><path d="M1073.6,740.8 1082.5,734.5 1085.7,723.6 1059.3,710.8 1056.7,712.2 1053.1,734.9Z" fill="#2d64b0"/><path d="M1020.5,752.6 1034.3,759.1 1045.1,754.8 1052.0,735.6 1028.6,728.5 1023.4,732.0Z" fill="#2d64b0"/><path d="M973.7,772.7 978.9,761.5 970.6,739.6 962.8,739.0 947.4,757.7 963.0,774.5 970.6,774.6Z" fill="#2d64b0"/><path d="M1020.5,752.6 1009.8,757.2 1007.3,779.4 1024.8,786.4 1035.1,778.6 1034.3,759.1Z" fill="#2d64b0"/><path d="M1167.2,730.3 1148.0,738.2 1145.3,751.9 1150.3,761.9 1165.6,761.0 1174.1,746.2Z" fill="#2d64b0"/><path d="M1177.2,778.9 1161.0,793.0 1163.9,802.4 1178.2,811.2 1182.4,808.8 1188.1,786.9Z" fill="#2d64b0"/><path d="M931.1,828.8 942.5,836.6 954.7,833.2 958.2,811.1 940.2,797.1 936.3,797.2 929.9,801.1 927.2,806.8Z" fill="#2d64b0"/><path d="M981.8,828.6 994.1,838.0 1015.7,817.9 996.6,804.6 980.6,808.5Z" fill="#2d64b0"/><path d="M937.5,857.6 939.8,861.0 961.7,865.2 967.8,852.5 963.7,838.9 954.7,833.2 942.5,836.6Z" fill="#2d64b0"/><path d="M915.8,884.2 933.4,881.5 939.8,861.0 937.5,857.6 917.3,855.6 907.0,873.3Z" fill="#2d64b0"/><path d="M945.1,892.3 933.4,881.5 915.8,884.2 911.9,903.3 915.5,908.5 931.7,912.8 938.6,909.5Z" fill="#2d64b0"/><path d="M1092.7,834.3 1077.0,835.9 1068.7,848.7 1085.3,865.3 1097.0,863.7 1101.9,853.5Z" fill="#2d64b0"/><path d="M1101.9,853.5 1097.0,863.7 1104.9,876.1 1121.9,876.8 1131.1,864.1 1128.3,850.3 1124.4,847.6Z" fill="#2d64b0"/><path d="M1078.4,899.1 1073.3,880.3 1058.2,874.6 1046.7,888.8 1057.8,905.1 1077.2,900.6Z" fill="#2d64b0"/><path d="M1101.9,901.5 1103.6,921.9 1109.1,927.4 1122.6,926.9 1129.4,914.1 1121.8,901.5Z" fill="#2d64b0"/><path d="M725.3,954.2 724.5,950.9 700.5,950.0 688.9,964.2 692.6,974.3 718.7,980.7 718.8,980.7Z" fill="#2d64b0"/><path d="M754.5,1006.2 767.6,992.2 754.1,975.5 739.2,987.0 742.6,1002.9 748.4,1006.8Z" fill="#2d64b0"/><path d="M783.2,1004.5 773.6,1026.2 774.0,1026.8 799.5,1030.9 803.4,1013.0 796.4,1004.1Z" fill="#2d64b0"/><path d="M772.9,1052.6 774.0,1026.8 773.6,1026.2 771.8,1025.7 743.1,1034.1 741.8,1038.7 753.2,1053.0 770.8,1055.0 771.6,1054.6Z" fill="#2d64b0"/><path d="M884.0,1060.0 899.5,1057.9 909.2,1042.6 908.5,1037.8 897.1,1029.2 875.3,1035.2 872.3,1042.0Z" fill="#2d64b0"/><path d="M638.1,1122.8 639.0,1107.4 631.5,1100.4 615.2,1103.7 615.7,1117.9 633.9,1127.0Z" fill="#2d64b0"/><path d="M638.1,1122.8 633.9,1127.0 633.9,1127.9 645.0,1147.8 666.6,1139.7 660.4,1122.8Z" fill="#2d64b0"/><path d="M764.3,1102.6 753.3,1107.6 752.2,1129.5 776.4,1133.5 780.8,1114.0Z" fill="#2d64b0"/><path d="M721.3,1142.6 732.7,1154.1 745.9,1147.7 750.8,1130.4 729.0,1124.7 721.3,1133.3Z" fill="#2d64b0"/><path d="M776.8,1175.0 764.4,1164.9 745.3,1179.7 745.3,1180.0 759.8,1196.5 777.4,1189.8Z" fill="#2d64b0"/><path d="M890.7,1155.2 913.2,1159.8 918.9,1151.8 906.6,1128.0 895.0,1132.1 887.3,1150.1Z" fill="#2d64b0"/><path d="M861.4,1164.9 867.6,1178.3 875.2,1179.9 884.4,1177.0 890.7,1155.2 887.3,1150.1 877.2,1149.2Z" fill="#2d64b0"/><path d="M949.5,1031.4 951.1,1034.6 980.3,1032.1 982.2,1019.2 966.4,1002.7 959.8,1003.6Z" fill="#2d64b0"/><path d="M1031.2,1013.3 1039.2,1038.6 1058.6,1033.2 1059.7,1031.1 1050.9,1008.0 1046.8,1006.6Z" fill="#2d64b0"/><path d="M1080.0,1024.0 1059.7,1031.1 1058.6,1033.2 1066.9,1053.3 1080.3,1053.8 1086.8,1049.0 1086.1,1029.3Z" fill="#2d64b0"/><path d="M1013.7,1062.0 1024.1,1076.3 1026.5,1075.8 1041.9,1056.9 1035.6,1043.7 1028.0,1044.4Z" fill="#2d64b0"/><path d="M909.2,1042.6 899.5,1057.9 905.3,1073.8 923.3,1078.6 926.6,1076.2 930.7,1055.6Z" fill="#2d64b0"/><path d="M926.6,1076.2 923.3,1078.6 921.6,1097.5 928.2,1103.9 949.9,1098.1 947.2,1082.1Z" fill="#2d64b0"/><path d="M975.2,1115.7 978.3,1128.5 992.7,1132.7 1002.6,1123.3 1001.4,1108.5 984.6,1105.3Z" fill="#2d64b0"/><path d="M921.9,1178.6 941.5,1174.3 939.7,1153.0 934.2,1148.3 918.9,1151.8 913.2,1159.8 914.7,1173.1Z" fill="#2d64b0"/><path d="M961.9,1171.1 945.7,1177.1 948.1,1193.5 963.7,1197.4 972.4,1191.0 974.7,1181.7Z" fill="#2d64b0"/><path d="M1022.5,1147.3 1013.9,1152.6 1010.2,1172.0 1032.9,1181.8 1038.4,1176.1 1031.8,1149.8Z" fill="#2d64b0"/><path d="M1038.4,1176.1 1032.9,1181.8 1032.6,1189.0 1040.9,1201.4 1052.2,1204.7 1063.7,1188.5 1061.7,1176.7 1053.9,1173.4Z" fill="#2d64b0"/><path d="M1131.6,1067.0 1117.8,1080.8 1119.0,1095.6 1140.6,1101.1 1149.5,1074.5Z" fill="#2d64b0"/><path d="M1176.2,1077.4 1195.7,1098.5 1201.4,1094.8 1206.0,1080.8 1201.3,1071.1 1179.7,1072.6Z" fill="#2d64b0"/>
<path d="M592.0 1206.9L607.7 1206.7M611.2 1230.0L607.7 1206.7M1225.0 695.7L1203.4 704.0M1199.5 685.0L1203.1 703.8M1203.4 704.0L1203.1 703.8M1128.1 775.6L1132.9 793.4M1128.1 775.6L1149.8 763.0M1132.9 793.4L1154.7 789.5M1149.8 763.0L1154.7 789.5M1196.8 901.5L1201.9 921.5M1201.9 921.5L1206.3 922.4M1203.9 897.0L1196.8 901.5M1203.9 897.0L1225.0 904.9M1206.3 922.4L1225.0 910.1M608.7 1057.1L592.0 1050.9M608.7 1057.1L607.0 1074.8M607.0 1074.8L592.0 1077.0M1203.4 704.0L1209.6 716.1M1225.0 718.3L1209.6 716.1M1203.9 897.0L1206.6 880.1M1189.3 900.3L1196.8 901.5M1181.3 885.2L1196.3 871.6M1181.3 885.2L1189.3 900.3M1196.3 871.6L1206.6 880.1M1225.0 876.6L1206.6 880.1M1178.4 909.7L1183.4 925.2M1178.4 909.7L1189.3 900.3M1201.9 921.5L1192.1 927.8M1192.1 927.8L1183.4 925.2M1181.3 885.2L1172.6 883.4M1168.6 908.0L1161.8 894.1M1168.6 908.0L1178.4 909.7M1161.8 894.1L1172.6 883.4M1150.3 761.9L1149.8 763.0M1128.1 775.6L1119.2 770.1M1150.3 761.9L1145.3 751.9M1119.2 770.1L1123.5 751.8M1123.5 751.8L1145.3 751.9M1100.0 748.5L1115.8 740.9M1100.0 748.5L1082.5 734.5M1108.6 724.0L1085.8 723.5M1108.6 724.0L1115.9 740.2M1115.9 740.2L1115.8 740.9M1082.5 734.5L1085.7 723.6M1085.7 723.6L1085.8 723.5M1136.1 720.7L1115.2 712.0M1115.2 712.0L1108.6 724.0M1136.7 727.6L1115.9 740.2M1136.1 720.7L1136.7 727.6M1123.5 751.8L1115.8 740.9M1145.3 751.9L1148.0 738.2M1136.7 727.6L1148.0 738.2M1059.3 710.8L1085.7 723.6M1067.8 695.2L1059.3 710.8M1067.8 695.2L1089.1 705.4M1089.1 705.4L1085.8 723.5M1119.2 770.1L1112.1 771.7M1100.0 748.5L1097.4 761.1M1112.1 771.7L1097.4 761.1M1068.3 821.6L1077.0 835.9M1068.3 821.6L1053.1 820.4M1053.1 820.4L1046.2 829.4M1077.0 835.9L1068.7 848.7M1046.7 837.4L1046.2 829.4M1046.7 837.4L1065.4 849.4M1065.4 849.4L1068.7 848.7M1112.7 1230.0L1120.4 1208.9M1103.5 1230.0L1096.9 1212.0M1120.4 1208.9L1105.5 1203.2M1105.5 1203.2L1096.9 1212.0M1081.2 1230.0L1085.2 1211.6M1096.9 1212.0L1085.2 1211.6M1068.0 1230.0L1065.5 1212.8M1065.5 1212.8L1080.1 1206.6M1085.2 1211.6L1080.1 1206.6M1069.6 1081.0L1057.6 1067.0M1057.3 1063.4L1057.6 1067.0M1066.9 1053.3L1057.3 1063.4M1083.7 1082.1L1069.6 1081.0M1083.7 1082.1L1085.4 1079.8M1066.9 1053.3L1080.3 1053.8M1085.4 1079.8L1080.3 1053.8M1103.7 1073.5L1085.4 1079.8M1103.7 1073.5L1102.3 1052.8M1080.3 1053.8L1086.8 1049.0M1086.8 1049.0L1102.3 1052.8M900.6 1101.8L921.6 1097.5M928.2 1103.9L921.6 1097.5M928.2 1103.9L927.4 1120.0M900.6 1101.8L906.9 1127.4M927.4 1120.0L906.9 1127.4M615.1 1080.3L610.9 1099.2M607.0 1074.8L615.1 1080.3M592.0 1100.4L610.9 1099.2M631.5 1100.4L615.2 1103.7M631.5 1100.4L634.0 1085.2M625.5 1077.9L615.1 1080.3M634.0 1085.2L625.5 1077.9M610.9 1099.2L615.2 1103.7M623.1 1230.0L630.8 1208.0M607.7 1206.7L612.7 1202.6M612.7 1202.6L630.8 1208.0M651.3 1230.0L651.3 1229.7M651.3 1229.7L633.3 1207.0M630.8 1208.0L633.3 1207.0M916.2 716.0L911.3 708.9M928.7 689.5L911.3 708.9M916.2 716.0L929.8 718.2M928.7 689.5L938.7 705.0M929.8 718.2L938.7 705.0M928.7 689.5L928.6 685.0M938.7 705.0L951.2 705.6M958.7 685.0L951.2 705.6M929.8 718.2L936.8 730.6M936.8 730.6L952.8 727.5M952.8 727.5L957.2 713.3M951.2 705.6L957.2 713.3M1039.6 685.0L1039.2 705.2M1014.2 685.0L1014.6 702.9M1014.6 702.9L1032.4 709.5M1039.2 705.2L1032.4 709.5M1056.7 712.2L1059.3 710.8M1056.7 712.2L1039.2 705.2M1067.8 695.2L1066.8 685.0M1014.6 702.9L1004.3 711.1M992.8 685.0L991.0 703.1M1004.3 711.1L991.0 703.1M967.8 685.0L977.3 708.4M991.0 703.1L977.3 708.4M957.2 713.3L975.3 711.6M975.3 711.6L977.3 708.4M952.8 727.5L962.8 739.0M933.3 738.5L943.2 757.0M943.2 757.0L947.4 757.7M933.3 738.5L936.8 730.6M962.8 739.0L947.4 757.7M981.5 730.3L975.3 711.6M981.5 730.3L970.6 739.6M962.8 739.0L970.6 739.6M1082.5 734.5L1073.6 740.8M1056.7 712.2L1053.1 734.9M1073.6 740.8L1053.1 734.9M1087.3 766.0L1097.4 761.1M1087.3 766.0L1073.0 758.9M1073.6 740.8L1073.0 758.9M970.6 739.6L978.9 761.5M978.9 761.5L1000.0 752.5M981.5 730.3L993.5 732.3M1000.0 752.5L993.5 732.3M1004.3 711.1L1004.4 723.2M1004.4 723.2L993.5 732.3M1115.2 712.0L1114.3 706.9M1089.1 705.4L1094.7 700.4M1094.7 700.4L1114.3 706.9M1183.4 925.2L1170.4 933.8M1168.6 908.0L1157.0 921.4M1170.4 933.8L1157.0 921.4M1225.0 856.2L1209.3 853.5M1225.0 829.7L1204.4 830.6M1204.4 830.6L1203.2 831.9M1203.2 831.9L1209.3 853.5M1196.3 871.6L1195.0 863.3M1209.3 853.5L1195.0 863.3M1167.8 728.8L1182.9 722.0M1167.8 728.8L1157.4 709.4M1182.9 722.0L1185.9 709.5M1161.6 702.6L1157.4 709.4M1161.6 702.6L1178.3 699.8M1178.3 699.8L1185.9 709.5M1143.4 710.0L1136.1 720.7M1167.2 730.3L1148.0 738.2M1167.2 730.3L1167.8 728.8M1143.4 710.0L1157.4 709.4M1181.8 685.0L1178.3 699.8M1203.1 703.8L1185.9 709.5M1150.3 761.9L1165.6 761.0M1167.2 730.3L1174.1 746.2M1165.6 761.0L1174.1 746.2M1085.3 865.3L1068.7 848.7M1097.0 863.7L1085.3 865.3M1097.0 863.7L1101.9 853.5M1077.0 835.9L1092.7 834.3M1092.7 834.3L1101.9 853.5M1112.1 771.7L1103.1 789.4M1087.3 766.0L1086.1 783.3M1103.1 789.4L1086.1 783.3M1048.9 804.6L1053.1 820.4M1052.3 799.1L1048.9 804.6M1052.3 799.1L1075.0 798.1M1068.3 821.6L1078.8 806.8M1078.8 806.8L1075.0 798.1M1052.3 799.1L1049.7 783.8M1060.9 774.3L1049.7 783.8M1060.9 774.3L1077.8 788.6M1075.0 798.1L1077.8 788.6M1073.0 758.9L1062.0 766.3M1060.9 774.3L1062.0 766.3M1077.8 788.6L1086.1 783.3M839.8 1059.3L827.9 1048.2M839.8 1059.3L837.2 1072.7M837.2 1072.7L824.9 1076.7M818.6 1054.8L827.9 1048.2M818.6 1054.8L820.0 1074.4M820.0 1074.4L824.9 1076.7M975.7 979.0L963.9 971.0M975.7 979.0L989.5 967.0M989.5 967.0L984.5 952.8M984.5 952.8L971.4 948.8M971.4 948.8L969.3 949.8M963.9 971.0L969.3 949.8M1002.4 970.4L989.5 967.0M1002.4 970.4L1012.3 951.2M984.5 952.8L998.4 940.9M998.4 940.9L1006.6 942.0M1012.3 951.2L1006.6 942.0M1007.7 979.5L1022.5 982.1M1002.4 970.4L1007.7 979.5M1022.5 982.1L1026.6 979.9M1026.6 979.9L1030.8 955.6M1012.3 951.2L1030.8 955.6M931.7 912.8L932.3 935.0M931.7 912.8L938.6 909.5M938.6 909.5L958.2 921.1M958.2 921.1L947.7 939.3M947.7 939.3L932.3 935.0M915.8 884.2L933.4 881.5M933.4 881.5L945.1 892.3M911.9 903.3L915.5 908.5M915.5 908.5L931.7 912.8M915.8 884.2L911.9 903.3M945.1 892.3L938.6 909.5M998.4 940.9L987.0 925.3M971.4 948.8L974.0 928.6M987.0 925.3L974.0 928.6M950.6 945.3L947.7 939.3M950.6 945.3L969.3 949.8M958.2 921.1L961.9 920.2M974.0 928.6L961.9 920.2M933.4 881.5L939.8 861.0M961.7 865.2L939.8 861.0M961.7 865.2L961.7 865.3M945.1 892.3L951.0 890.9M961.7 865.3L951.0 890.9M923.3 1078.6L921.6 1097.5M923.3 1078.6L905.3 1073.8M900.6 1101.8L899.0 1100.9M899.0 1100.9L894.8 1087.5M905.3 1073.8L894.8 1087.5M1103.0 945.1L1086.0 943.1M1103.0 945.1L1109.1 927.4M1109.1 927.4L1103.6 921.9M1103.6 921.9L1080.1 928.2M1086.0 943.1L1080.1 928.2M1080.1 928.2L1080.1 928.2M1110.5 956.8L1087.6 969.8M1110.5 956.8L1103.0 945.1M1086.0 943.1L1078.3 956.3M1087.6 969.8L1078.3 956.3M1058.1 933.2L1080.1 928.2M1057.7 933.8L1063.7 956.0M1057.7 933.8L1058.1 933.2M1078.3 956.3L1063.7 956.0M1057.7 933.8L1038.3 938.0M1038.3 938.0L1033.1 954.2M1033.1 954.2L1056.1 964.0M1063.7 956.0L1056.1 964.0M1111.9 1182.7L1102.9 1192.9M1105.5 1203.2L1102.9 1192.9M1120.4 1208.9L1122.3 1208.4M1125.2 1183.9L1130.7 1192.0M1125.2 1183.9L1111.9 1182.7M1122.3 1208.4L1130.7 1192.0M1069.6 1081.0L1055.4 1098.1M1057.6 1067.0L1044.0 1082.3M1055.4 1098.1L1048.9 1095.0M1044.0 1082.3L1048.9 1095.0M1096.4 1122.6L1116.0 1122.4M1096.4 1122.6L1093.2 1118.4M1093.2 1118.4L1095.1 1100.8M1116.0 1122.4L1118.6 1096.1M1118.6 1096.1L1095.1 1100.8M1119.0 1095.6L1117.8 1080.8M1117.8 1080.8L1103.7 1073.5M1119.0 1095.6L1118.6 1096.1M1083.7 1082.1L1086.1 1093.1M1086.1 1093.1L1095.1 1100.8M1066.9 1053.3L1058.6 1033.2M1086.8 1049.0L1086.1 1029.3M1059.7 1031.1L1058.6 1033.2M1059.7 1031.1L1080.0 1024.0M1080.0 1024.0L1086.1 1029.3M1129.6 1015.5L1136.5 994.6M1129.6 1015.5L1109.6 1011.0M1109.6 1011.0L1109.2 1010.1M1109.2 1010.1L1116.6 989.8M1116.6 989.8L1133.3 991.0M1136.5 994.6L1133.3 991.0M949.9 1098.1L928.2 1103.9M949.9 1098.1L947.2 1082.1M923.3 1078.6L926.6 1076.2M926.6 1076.2L947.2 1082.1M899.5 1057.9L905.3 1073.8M909.2 1042.6L930.7 1055.6M909.2 1042.6L899.5 1057.9M926.6 1076.2L930.7 1055.6M1106.2 1147.8L1111.0 1161.2M1106.2 1147.8L1095.9 1145.0M1095.9 1145.0L1086.2 1158.5M1111.0 1161.2L1106.0 1169.2M1106.0 1169.2L1091.1 1169.6M1086.2 1158.5L1091.1 1169.6M1132.1 1161.9L1133.3 1151.9M1132.1 1161.9L1111.0 1161.2M1133.3 1151.9L1119.6 1137.0M1119.6 1137.0L1106.2 1147.8M1120.7 1127.6L1116.0 1122.4M1120.7 1127.6L1119.6 1137.0M1092.2 1137.9L1095.9 1145.0M1092.2 1137.9L1096.4 1122.6M1125.2 1183.9L1133.3 1164.0M1133.3 1164.0L1132.1 1161.9M1111.9 1182.7L1106.0 1169.2M1030.9 1230.0L1028.8 1217.9M1046.8 1230.0L1053.5 1207.0M1028.8 1217.9L1040.9 1201.4M1040.9 1201.4L1052.2 1204.7M1053.5 1207.0L1052.2 1204.7M1065.5 1212.8L1053.5 1207.0M906.6 1128.0L906.9 1127.4M918.9 1151.8L906.6 1128.0M918.9 1151.8L934.2 1148.3M927.4 1120.0L938.9 1129.1M938.9 1129.1L934.2 1148.3M955.0 1230.0L955.9 1221.0M955.9 1221.0L936.6 1204.3M936.6 1204.3L934.5 1204.7M929.2 1230.0L934.5 1204.7M646.9 1084.2L654.9 1074.5M646.9 1084.2L652.7 1100.1M654.9 1074.5L671.1 1086.8M671.1 1086.8L663.0 1103.8M652.7 1100.1L663.0 1103.8M631.2 1062.5L654.9 1065.3M631.2 1062.5L625.5 1077.9M654.9 1065.3L654.9 1074.5M634.0 1085.2L646.9 1084.2M639.0 1107.4L631.5 1100.4M639.0 1107.4L652.7 1100.1M592.0 1122.1L605.9 1124.4M615.2 1103.7L615.7 1117.9M605.9 1124.4L615.7 1117.9M592.0 1149.1L611.4 1146.3M605.9 1124.4L611.4 1146.3M639.0 1107.4L638.1 1122.8M615.7 1117.9L633.9 1127.0M638.1 1122.8L633.9 1127.0M614.0 1147.6L633.9 1127.9M611.4 1146.3L614.0 1147.6M633.9 1127.0L633.9 1127.9M612.5 1191.9L624.6 1179.6M612.5 1191.9L592.0 1179.0M624.6 1179.6L613.4 1167.3M592.0 1174.8L613.4 1167.3M612.7 1202.6L612.5 1191.9M616.7 1152.5L614.0 1147.6M616.7 1152.5L613.4 1167.3M639.4 1175.3L631.8 1179.9M639.4 1175.3L655.5 1190.9M631.8 1179.9L635.0 1204.9M635.0 1204.9L651.3 1200.9M655.5 1190.9L651.3 1200.9M624.6 1179.6L631.8 1179.9M633.3 1207.0L635.0 1204.9M659.2 1211.9L651.3 1200.9M651.3 1229.7L659.2 1211.9M592.0 714.1L614.2 705.2M614.4 685.0L614.2 705.2M1035.2 849.8L1022.0 847.2M1046.7 837.4L1035.2 849.8M1046.2 829.4L1017.4 819.7M1022.0 847.2L1017.4 819.7M991.7 872.2L1014.1 870.2M1014.1 870.2L1014.4 852.9M990.1 852.3L991.7 872.2M990.1 852.3L994.9 846.5M1014.4 852.9L994.9 846.5M963.7 838.9L981.8 828.6M963.7 838.9L967.8 852.5M967.8 852.5L990.1 852.3M981.8 828.6L994.1 838.0M994.9 846.5L994.1 838.0M1048.9 804.6L1026.8 803.5M1017.4 819.7L1015.9 817.9M1026.8 803.5L1015.9 817.9M1035.1 778.6L1049.7 783.8M1035.1 778.6L1024.8 786.4M1026.8 803.5L1024.8 786.4M1022.0 847.2L1014.4 852.9M994.1 838.0L1015.7 817.9M1015.9 817.9L1015.7 817.9M967.8 852.5L961.7 865.2M939.8 861.0L937.5 857.6M963.7 838.9L954.7 833.2M954.7 833.2L942.5 836.6M937.5 857.6L942.5 836.6M1020.5 752.6L1023.4 732.0M1020.5 752.6L1034.3 759.1M1034.3 759.1L1045.1 754.8M1045.1 754.8L1052.0 735.6M1052.0 735.6L1028.6 728.5M1028.6 728.5L1023.4 732.0M1000.0 752.5L1009.8 757.2M1009.8 757.2L1020.5 752.6M1004.4 723.2L1023.4 732.0M1024.8 786.4L1007.3 779.4M1009.8 757.2L1007.3 779.4M1035.1 778.6L1034.3 759.1M1062.0 766.3L1045.1 754.8M1053.1 734.9L1052.0 735.6M1032.4 709.5L1028.6 728.5M1137.8 699.6L1118.6 700.2M1137.8 699.6L1141.4 685.0M1118.6 700.2L1117.1 685.0M1143.4 710.0L1137.8 699.6M1114.3 706.9L1118.6 700.2M1161.6 702.6L1156.4 685.0M1094.7 700.4L1095.4 685.0M1133.3 991.0L1137.9 968.2M1146.9 995.9L1136.5 994.6M1158.5 982.3L1146.9 995.9M1158.5 982.3L1154.4 971.1M1154.4 971.1L1137.9 968.2M1117.0 965.1L1137.7 968.0M1117.0 965.1L1112.2 983.9M1112.2 983.9L1116.6 989.8M1137.9 968.2L1137.7 968.0M1143.4 913.2L1152.1 921.6M1143.4 913.2L1129.4 914.1M1152.1 921.6L1141.3 942.6M1129.4 914.1L1122.6 926.9M1122.6 926.9L1131.3 939.8M1131.3 939.8L1141.0 942.8M1141.0 942.8L1141.3 942.6M1149.2 892.7L1161.8 894.1M1149.2 892.7L1143.4 913.2M1157.0 921.4L1152.1 921.6M1170.4 933.8L1169.6 943.4M1169.6 943.4L1163.1 950.0M1163.1 950.0L1141.3 942.6M1109.1 927.4L1122.6 926.9M1111.3 957.1L1131.3 939.8M1111.3 957.1L1110.5 956.8M1111.3 957.1L1117.0 965.1M1137.7 968.0L1141.0 942.8M1163.6 960.6L1154.4 971.1M1163.6 960.6L1163.1 950.0M1204.4 830.6L1203.6 808.1M1225.0 807.0L1204.3 807.4M1203.6 808.1L1204.3 807.4M1203.2 831.9L1193.6 833.4M1182.4 808.8L1203.6 808.1M1178.2 811.2L1178.3 818.4M1178.2 811.2L1182.4 808.8M1193.6 833.4L1178.3 818.4M1161.0 793.0L1177.2 778.9M1161.0 793.0L1163.9 802.4M1182.4 808.8L1188.1 786.9M1163.9 802.4L1178.2 811.2M1177.2 778.9L1188.1 786.9M1154.7 789.5L1161.0 793.0M1165.6 761.0L1177.4 773.1M1177.2 778.9L1177.4 773.1M1204.3 807.4L1202.6 786.6M1188.1 786.9L1202.6 786.6M1035.1 913.1L1027.9 899.4M1035.1 913.1L1028.7 925.8M1028.7 925.8L1016.6 926.5M1016.6 926.5L1007.8 914.2M1007.8 914.2L1015.7 898.2M1015.7 898.2L1027.9 899.4M1058.1 933.2L1053.3 911.5M1053.3 911.5L1035.1 913.1M1038.3 938.0L1028.7 925.8M1030.8 955.6L1033.1 954.2M1006.6 942.0L1016.6 926.5M992.2 914.3L987.0 925.3M992.2 914.3L1007.8 914.2M1027.9 899.4L1037.5 888.2M1011.9 893.0L1015.7 898.2M1011.9 893.0L1016.5 872.9M1016.5 872.9L1030.5 874.1M1037.5 888.2L1030.5 874.1M1014.1 870.2L1016.5 872.9M1035.2 849.8L1039.9 862.5M1039.9 862.5L1030.5 874.1M1065.4 849.4L1054.6 866.3M1039.9 862.5L1054.6 866.3M1104.9 876.1L1121.9 876.8M1104.9 876.1L1098.0 898.1M1098.0 898.1L1101.9 901.5M1101.9 901.5L1121.8 901.5M1121.9 876.8L1128.6 889.9M1121.8 901.5L1128.6 889.9M1129.4 914.1L1121.8 901.5M1103.6 921.9L1101.9 901.5M1146.4 889.7L1148.0 871.7M1131.1 864.1L1148.0 871.7M1146.4 889.7L1128.6 889.9M1131.1 864.1L1121.9 876.8M1149.2 892.7L1146.4 889.7M1097.0 863.7L1104.9 876.1M1131.1 864.1L1128.3 850.3M1101.9 853.5L1124.4 847.6M1128.3 850.3L1124.4 847.6M1161.8 863.0L1148.0 871.7M1161.8 863.0L1147.0 844.1M1128.3 850.3L1147.0 844.1M1178.3 818.4L1166.2 832.9M1166.2 832.9L1152.8 831.8M1163.9 802.4L1146.7 820.6M1146.7 820.6L1152.8 831.8M1092.7 834.3L1095.3 830.0M1078.8 806.8L1090.4 810.5M1095.3 830.0L1090.4 810.5M1103.1 789.4L1107.4 799.6M1090.4 810.5L1107.4 799.6M1201.6 1145.4L1225.0 1146.0M1201.6 1145.4L1204.6 1170.0M1204.6 1170.0L1225.0 1169.8M840.3 969.7L859.0 975.1M860.4 988.8L859.0 975.1M860.4 988.8L851.6 997.3M840.3 969.7L839.9 993.9M839.9 993.9L845.2 997.8M851.6 997.3L845.2 997.8M899.0 1100.9L878.5 1110.7M894.8 1087.5L879.7 1082.2M867.0 1096.5L879.7 1082.2M867.0 1096.5L867.3 1101.1M878.5 1110.7L867.3 1101.1M863.8 896.2L885.7 891.4M863.8 896.2L866.6 870.0M889.0 878.4L867.2 869.8M885.7 891.4L889.0 878.4M866.6 870.0L867.2 869.8M873.5 914.6L885.9 914.2M893.3 903.3L885.9 914.2M893.3 903.3L885.7 891.4M873.5 914.6L863.6 903.5M863.8 896.2L863.1 897.0M863.6 903.5L863.1 897.0M592.0 839.7L598.0 839.3M592.0 867.6L604.8 868.5M598.0 839.3L613.5 846.9M613.5 846.9L615.0 856.2M604.8 868.5L615.0 856.2M640.0 843.4L633.5 863.0M622.9 838.1L640.0 843.4M613.5 846.9L622.9 838.1M615.0 856.2L633.5 863.0M989.8 874.6L995.6 890.7M989.8 874.6L976.4 876.5M976.4 876.5L969.5 898.5M995.6 890.7L986.4 903.2M986.4 903.2L970.2 899.6M970.2 899.6L969.5 898.5M991.7 872.2L989.8 874.6M1011.9 893.0L995.6 890.7M961.7 865.3L976.4 876.5M951.0 890.9L969.5 898.5M992.2 914.3L986.4 903.2M961.9 920.2L970.2 899.6M876.1 1070.3L884.0 1060.0M876.1 1070.3L862.4 1068.0M884.0 1060.0L872.3 1042.0M862.4 1068.0L855.4 1054.4M872.3 1042.0L857.6 1048.2M857.6 1048.2L855.4 1054.4M899.5 1057.9L884.0 1060.0M879.7 1082.2L876.1 1070.3M850.4 1082.5L850.5 1082.5M850.5 1082.5L867.0 1096.5M850.4 1082.5L862.4 1068.0M875.3 1035.2L897.1 1029.2M875.3 1035.2L872.3 1042.0M908.5 1037.8L897.1 1029.2M909.2 1042.6L908.5 1037.8M850.4 1082.5L837.2 1072.7M839.8 1059.3L855.4 1054.4M1031.2 1013.3L1046.8 1006.6M1031.2 1013.3L1039.2 1038.6M1039.2 1038.6L1058.6 1033.2M1059.7 1031.1L1050.9 1008.0M1050.9 1008.0L1046.8 1006.6M1026.6 979.9L1043.2 984.7M1022.1 1011.4L1022.5 982.1M1022.1 1011.4L1031.2 1013.3M1046.8 1006.6L1043.2 984.7M1056.1 964.0L1056.1 975.3M1043.2 984.7L1056.1 975.3M1092.4 983.7L1091.6 1002.3M1092.4 983.7L1086.9 977.9M1086.9 977.9L1069.3 984.4M1069.3 984.4L1067.9 1001.3M1067.9 1001.3L1079.9 1009.4M1079.9 1009.4L1091.6 1002.3M1109.2 1010.1L1091.6 1002.3M1112.2 983.9L1092.4 983.7M1087.6 969.8L1086.9 977.9M1056.1 975.3L1069.3 984.4M1050.9 1008.0L1067.9 1001.3M1080.0 1024.0L1079.9 1009.4M1086.1 1029.3L1104.5 1025.2M1104.5 1025.2L1109.6 1011.0M1091.1 1169.6L1086.9 1176.9M1102.9 1192.9L1089.3 1188.4M1086.9 1176.9L1089.3 1188.4M1080.1 1206.6L1079.9 1197.1M1089.3 1188.4L1079.9 1197.1M1052.2 1204.7L1063.7 1188.5M1079.9 1197.1L1063.7 1188.5M1128.9 1034.1L1140.7 1045.5M1128.9 1034.1L1114.2 1039.5M1111.5 1047.3L1114.2 1039.5M1111.5 1047.3L1131.3 1065.3M1131.3 1065.3L1140.7 1045.5M1104.5 1025.2L1114.2 1039.5M1132.9 1020.4L1128.9 1034.1M1129.6 1015.5L1132.9 1020.4M1102.3 1052.8L1111.5 1047.3M1117.8 1080.8L1131.6 1067.0M1131.6 1067.0L1131.3 1065.3M1146.9 995.9L1154.3 1005.9M1132.9 1020.4L1150.1 1020.1M1154.3 1005.9L1150.1 1020.1M1131.6 1067.0L1149.5 1074.5M1119.0 1095.6L1140.6 1101.1M1140.6 1101.1L1149.5 1074.5M1007.7 979.5L996.8 994.5M1022.1 1011.4L1013.5 1015.0M1013.5 1015.0L1000.8 1008.9M996.8 994.5L1000.8 1008.9M975.7 979.0L977.2 988.7M996.8 994.5L977.2 988.7M930.7 1055.6L948.2 1050.0M947.2 1082.1L959.2 1067.3M959.2 1067.3L958.8 1062.1M958.8 1062.1L948.2 1050.0M1013.7 1062.0L1024.1 1076.3M1013.7 1062.0L1028.0 1044.4M1041.9 1056.9L1035.6 1043.7M1041.9 1056.9L1026.5 1075.8M1026.5 1075.8L1024.1 1076.3M1035.6 1043.7L1028.0 1044.4M1057.3 1063.4L1041.9 1056.9M1039.2 1038.6L1035.6 1043.7M1044.0 1082.3L1026.5 1075.8M1048.9 1095.0L1028.4 1105.3M1028.4 1105.3L1022.9 1078.6M1022.9 1078.6L1024.1 1076.3M1013.5 1015.0L1011.0 1031.6M1011.0 1031.6L1028.0 1044.4M992.2 1069.8L1009.4 1061.0M992.2 1069.8L981.3 1051.8M1009.4 1061.0L999.8 1040.5M999.8 1040.5L985.5 1039.7M981.3 1051.8L985.5 1039.7M1013.7 1062.0L1009.4 1061.0M1011.0 1031.6L999.8 1040.5M958.8 1062.1L981.3 1051.8M959.2 1067.3L979.3 1084.0M992.2 1069.8L989.2 1078.7M979.3 1084.0L989.2 1078.7M1022.9 1078.6L1004.7 1088.9M989.2 1078.7L1004.7 1088.9M1028.4 1105.3L1028.1 1105.8M1028.1 1105.8L1005.4 1104.1M1004.7 1088.9L1005.4 1104.1M1075.1 1118.0L1070.9 1106.6M1075.1 1118.0L1069.0 1128.0M1069.0 1128.0L1049.1 1123.6M1049.1 1123.6L1057.3 1101.6M1057.3 1101.6L1070.9 1106.6M1086.1 1093.1L1070.9 1106.6M1093.2 1118.4L1075.1 1118.0M1092.2 1137.9L1072.0 1137.0M1072.0 1137.0L1069.0 1128.0M1055.4 1098.1L1057.3 1101.6M1086.2 1158.5L1074.1 1156.3M1072.0 1137.0L1067.7 1146.6M1074.1 1156.3L1067.7 1146.6M1086.9 1176.9L1064.3 1175.2M1074.1 1156.3L1064.3 1175.2M1063.7 1188.5L1061.7 1176.7M1064.3 1175.2L1061.7 1176.7M1028.1 1105.8L1030.8 1117.7M1049.1 1123.6L1047.1 1124.6M1030.8 1117.7L1047.1 1124.6M955.9 1221.0L964.5 1212.2M936.6 1204.3L948.1 1193.5M948.1 1193.5L963.7 1197.4M964.5 1212.2L963.7 1197.4M948.1 1193.5L945.7 1177.1M941.5 1174.3L945.7 1177.1M941.5 1174.3L921.9 1178.6M934.5 1204.7L924.0 1199.8M924.0 1199.8L921.9 1178.6M772.3 1230.0L771.9 1218.0M797.0 1230.0L797.8 1215.7M771.9 1218.0L783.9 1207.3M797.8 1215.7L783.9 1207.3M733.8 1190.2L745.3 1180.0M733.8 1190.2L736.4 1206.2M745.3 1180.0L759.8 1196.5M736.4 1206.2L749.2 1211.3M759.8 1196.5L756.7 1207.3M749.2 1211.3L756.7 1207.3M718.1 1187.9L712.8 1177.9M715.1 1170.4L712.8 1177.9M745.3 1179.7L731.0 1162.2M745.3 1179.7L745.3 1180.0M731.0 1162.2L715.1 1170.4M718.1 1187.9L733.8 1190.2M718.1 1187.9L711.7 1199.6M725.8 1214.0L736.4 1206.2M725.8 1214.0L716.9 1210.9M716.9 1210.9L711.7 1199.6M747.2 1230.0L749.2 1211.3M728.8 1230.0L725.8 1214.0M771.9 1218.0L756.7 1207.3M712.8 1177.9L690.7 1180.8M689.8 1159.4L690.7 1180.8M715.1 1170.4L701.4 1152.9M689.8 1159.4L700.2 1152.7M701.4 1152.9L700.2 1152.7M655.7 1047.4L665.0 1037.5M665.0 1037.5L684.6 1046.2M655.9 1063.9L680.9 1063.1M655.9 1063.9L655.7 1047.4M684.6 1046.2L680.9 1063.1M711.7 1199.6L694.3 1200.5M690.7 1180.8L690.4 1181.2M690.4 1181.2L694.3 1200.5M690.4 1181.2L670.9 1182.7M670.9 1182.7L665.6 1167.1M689.8 1159.4L673.7 1155.4M673.7 1155.4L665.6 1167.1M655.5 1190.9L668.4 1186.6M668.4 1186.6L670.9 1182.7M639.4 1175.3L643.7 1165.1M665.6 1167.1L643.7 1165.1M633.9 1127.9L645.0 1147.8M616.7 1152.5L641.4 1157.7M645.0 1147.8L641.4 1157.7M643.7 1165.1L641.4 1157.7M743.8 935.8L730.5 939.1M748.8 904.0L743.8 935.8M734.0 901.7L748.8 904.0M734.0 901.7L721.6 923.8M721.6 923.8L730.5 939.1M940.2 797.1L936.3 797.2M963.0 774.5L940.2 797.1M943.2 757.0L928.4 767.4M947.4 757.7L963.0 774.5M928.4 767.4L936.3 797.2M933.3 738.5L914.0 742.8M928.4 767.4L916.5 764.2M914.0 742.8L916.5 764.2M863.1 696.6L872.3 705.8M863.1 696.6L863.1 685.0M888.4 685.0L883.3 703.2M883.3 703.2L872.3 705.8M839.2 698.7L847.2 706.1M847.2 706.1L863.1 696.6M839.2 698.7L839.8 685.0M906.9 707.3L911.3 708.9M906.9 707.3L900.9 685.0M893.5 712.1L906.9 707.3M893.5 712.1L883.3 703.2M824.7 704.0L811.5 685.0M839.2 698.7L824.7 704.0M1001.5 783.1L996.6 804.6M1001.5 783.1L973.7 772.7M973.7 772.7L970.6 774.6M970.6 774.6L978.0 807.2M996.6 804.6L980.6 808.5M978.0 807.2L980.6 808.5M1015.7 817.9L996.6 804.6M1007.3 779.4L1001.5 783.1M978.9 761.5L973.7 772.7M963.0 774.5L970.6 774.6M958.2 811.1L940.2 797.1M958.2 811.1L978.0 807.2M981.8 828.6L980.6 808.5M958.2 811.1L954.7 833.2M942.5 836.6L931.1 828.8M931.1 828.8L910.8 841.2M937.5 857.6L917.3 855.6M917.3 855.6L910.8 841.2M915.8 884.2L907.0 873.3M917.3 855.6L907.0 873.3M911.9 903.3L893.3 903.3M889.0 878.4L897.7 872.6M907.0 873.3L897.7 872.6M1192.9 861.8L1185.3 844.6M1192.9 861.8L1165.4 865.2M1185.3 844.6L1173.4 844.0M1173.4 844.0L1162.8 863.1M1165.4 865.2L1162.8 863.1M1195.0 863.3L1192.9 861.8M1193.6 833.4L1185.3 844.6M1172.6 883.4L1165.4 865.2M1166.2 832.9L1173.4 844.0M1147.0 844.1L1152.8 831.8M1161.8 863.0L1162.8 863.1M1202.6 786.6L1205.3 783.5M1225.0 783.3L1205.3 783.5M1058.2 874.6L1046.7 888.8M1058.2 874.6L1073.3 880.3M1046.7 888.8L1057.8 905.1M1073.3 880.3L1078.4 899.1M1057.8 905.1L1077.2 900.6M1078.4 899.1L1077.2 900.6M1037.5 888.2L1046.7 888.8M1054.6 866.3L1058.2 874.6M1085.3 865.3L1073.3 880.3M1053.3 911.5L1057.8 905.1M1098.0 898.1L1078.4 899.1M1080.1 928.2L1077.2 900.6M1132.3 794.4L1108.1 799.9M1132.3 794.4L1137.0 817.5M1108.1 799.9L1117.0 823.7M1137.0 817.5L1121.8 826.0M1121.8 826.0L1117.0 823.7M1132.9 793.4L1132.3 794.4M1107.4 799.6L1108.1 799.9M1146.7 820.6L1137.0 817.5M1095.3 830.0L1117.0 823.7M1124.4 847.6L1121.8 826.0M1183.3 970.0L1185.4 968.7M1163.6 960.6L1183.3 970.0M1169.6 943.4L1190.0 950.5M1185.4 968.7L1190.0 950.5M1192.1 927.8L1194.9 947.2M1194.9 947.2L1190.0 950.5M1120.7 1127.6L1139.9 1123.6M1133.3 1151.9L1150.4 1138.7M1139.9 1123.6L1150.4 1138.7M1140.6 1101.1L1146.1 1107.3M1139.9 1123.6L1146.1 1107.3M1150.2 1169.6L1157.0 1164.2M1133.3 1164.0L1150.2 1169.6M1157.0 1164.2L1157.3 1140.5M1150.4 1138.7L1157.3 1140.5M1165.6 1104.3L1168.3 1080.9M1165.6 1104.3L1163.2 1106.7M1168.3 1080.9L1152.6 1073.9M1149.5 1074.5L1152.6 1073.9M1146.1 1107.3L1163.2 1106.7M1180.6 1153.4L1161.6 1138.9M1180.6 1153.4L1194.5 1143.8M1194.5 1143.8L1184.0 1128.2M1184.0 1128.2L1169.4 1128.3M1169.4 1128.3L1161.6 1138.9M1157.3 1140.5L1161.6 1138.9M1177.8 1167.3L1157.0 1164.2M1177.8 1167.3L1180.6 1153.4M1163.2 1106.7L1169.4 1128.3M1201.6 1145.4L1200.9 1144.8M1200.9 1144.8L1209.3 1121.6M1225.0 1118.3L1209.3 1121.6M1200.9 1144.8L1194.5 1143.8M1184.0 1128.2L1193.8 1112.3M1209.3 1121.6L1193.8 1112.3M1165.6 1104.3L1192.1 1106.0M1192.1 1106.0L1193.8 1112.3M839.4 1016.7L848.4 1025.4M839.4 1016.7L826.1 1018.0M826.1 1018.0L822.1 1032.6M846.5 1034.7L828.8 1042.3M846.5 1034.7L848.4 1025.4M822.1 1032.6L828.8 1042.3M851.6 997.3L865.8 1015.4M845.2 997.8L839.4 1016.7M864.7 1019.0L865.8 1015.4M864.7 1019.0L848.4 1025.4M823.6 994.9L820.2 1011.2M823.6 994.9L839.9 993.9M820.2 1011.2L826.1 1018.0M799.5 1030.9L803.4 1013.0M820.2 1011.2L803.4 1013.0M799.5 1030.9L801.0 1033.2M801.0 1033.2L822.1 1032.6M857.6 1048.2L846.5 1034.7M827.9 1048.2L828.8 1042.3M875.3 1035.2L864.7 1019.0M608.7 1057.1L620.1 1050.1M592.0 1039.0L609.7 1033.3M609.7 1033.3L620.1 1050.1M631.2 1062.5L625.7 1051.1M655.9 1063.9L654.9 1065.3M655.7 1047.4L636.0 1040.4M636.0 1040.4L625.7 1051.1M620.1 1050.1L625.7 1051.1M665.0 1037.5L664.2 1030.6M635.6 1027.2L636.0 1040.4M635.6 1027.2L645.6 1020.2M645.6 1020.2L664.2 1030.6M797.8 1215.7L808.2 1208.7M826.0 1230.0L826.0 1223.7M826.0 1223.7L808.2 1208.7M798.3 1067.6L788.5 1070.6M798.3 1067.6L803.2 1052.3M788.5 1070.6L771.6 1054.6M803.2 1052.3L799.8 1047.0M799.8 1047.0L772.9 1052.6M772.9 1052.6L771.6 1054.6M809.4 1077.2L804.3 1089.9M809.4 1077.2L798.3 1067.6M804.3 1089.9L789.4 1091.2M783.7 1085.2L789.4 1091.2M783.7 1085.2L788.5 1070.6M820.0 1074.4L809.4 1077.2M818.6 1054.8L803.2 1052.3M783.7 1085.2L768.1 1086.2M763.7 1081.3L768.1 1086.2M763.7 1081.3L770.8 1055.0M770.8 1055.0L771.6 1054.6M801.0 1033.2L799.8 1047.0M799.5 1030.9L774.0 1026.8M774.0 1026.8L772.9 1052.6M753.2 1053.0L741.8 1038.7M741.8 1038.7L743.1 1034.1M743.1 1034.1L771.8 1025.7M773.6 1026.2L771.8 1025.7M773.6 1026.2L774.0 1026.8M770.8 1055.0L753.2 1053.0M932.3 935.0L922.1 941.9M915.5 908.5L906.8 928.7M906.8 928.7L922.1 941.9M859.1 868.1L849.8 852.6M859.1 868.1L843.4 877.9M832.5 872.2L843.4 877.9M832.5 872.2L839.2 853.5M839.2 853.5L849.8 852.6M846.6 891.7L863.1 897.0M866.6 870.0L859.1 868.1M846.6 891.7L843.4 877.9M859.0 839.4L849.8 852.6M867.2 869.8L876.3 852.3M859.0 839.4L860.3 839.2M860.3 839.2L876.3 852.3M897.7 872.6L887.2 849.6M876.3 852.3L887.2 849.6M908.1 839.9L910.8 841.2M908.1 839.9L890.2 844.9M890.2 844.9L887.2 849.6M859.0 839.4L843.9 826.7M829.1 843.9L831.2 832.9M829.1 843.9L839.2 853.5M843.9 826.7L831.2 832.9M777.7 898.0L764.6 909.9M777.7 898.0L766.9 878.9M756.8 882.9L749.5 903.8M756.8 882.9L766.6 878.8M749.5 903.8L764.6 909.9M766.6 878.8L766.9 878.9M734.0 901.7L725.0 888.9M736.4 873.6L725.3 886.5M725.0 888.9L725.3 886.5M736.4 873.6L756.8 882.9M748.8 904.0L749.5 903.8M743.8 935.8L747.8 936.6M747.8 936.6L768.3 921.3M768.3 921.3L764.6 909.9M789.8 856.5L794.9 874.0M794.9 874.0L766.9 878.9M765.9 863.9L783.5 853.6M783.5 853.6L789.8 856.5M765.9 863.9L766.6 878.8M836.2 899.9L819.9 891.8M846.6 891.7L836.2 899.9M832.5 872.2L827.4 873.4M819.9 891.8L827.4 873.4M814.8 850.6L805.7 845.7M814.8 850.6L815.9 865.5M805.7 845.7L789.8 856.5M794.9 874.0L796.7 875.5M796.7 875.5L815.9 865.5M829.1 843.9L814.8 850.6M827.4 873.4L815.9 865.5M659.4 864.0L654.8 869.5M654.8 869.5L636.1 868.6M633.5 863.0L636.1 868.6M640.0 843.4L644.1 841.2M659.4 864.0L656.7 843.9M656.7 843.9L644.1 841.2M660.2 888.5L654.8 869.5M679.8 864.3L684.9 875.4M659.4 864.0L679.8 864.3M660.2 888.5L674.3 888.5M674.3 888.5L684.9 875.4M592.0 898.6L606.9 894.0M604.8 868.5L612.6 880.1M606.9 894.0L612.6 880.1M636.1 868.6L630.5 879.8M612.6 880.1L630.5 879.8M592.0 748.7L609.9 749.4M592.0 771.3L608.5 773.4M609.9 749.4L614.3 769.7M608.5 773.4L614.3 769.7M607.0 792.7L608.5 773.4M592.0 795.9L607.0 792.7M614.2 705.2L625.9 713.3M592.0 720.7L621.3 734.6M621.3 734.6L625.9 713.3M609.9 749.4L622.3 737.4M621.3 734.6L622.3 737.4M626.1 772.3L614.3 769.7M626.1 772.3L639.1 745.0M622.3 737.4L639.1 745.0M635.6 685.0L637.5 708.6M637.5 708.6L625.9 713.3M810.5 685.0L798.9 708.7M798.9 708.7L792.8 709.3M782.0 685.0L781.4 692.6M792.8 709.3L781.4 692.6M865.8 1015.4L879.0 1005.9M897.1 1029.2L894.1 1011.9M879.0 1005.9L894.1 1011.9M860.4 988.8L876.8 992.7M879.0 1005.9L876.8 992.7M1122.3 1208.4L1136.0 1217.6M1136.0 1217.6L1136.5 1230.0M1130.7 1192.0L1148.5 1193.4M1136.0 1217.6L1152.4 1206.9M1148.5 1193.4L1152.4 1206.9M1150.2 1169.6L1152.7 1187.3M1148.5 1193.4L1152.7 1187.3M1154.3 1005.9L1169.3 1004.1M1158.5 982.3L1171.2 987.0M1169.3 1004.1L1171.2 987.0M1183.3 970.0L1179.3 983.0M1171.2 987.0L1179.3 983.0M1201.4 1094.8L1195.7 1098.5M1201.4 1094.8L1206.0 1080.8M1195.7 1098.5L1176.2 1077.4M1206.0 1080.8L1201.3 1071.1M1201.3 1071.1L1179.7 1072.6M1176.2 1077.4L1179.7 1072.6M1225.0 1103.8L1201.4 1094.8M1192.1 1106.0L1195.7 1098.5M1225.0 1080.6L1206.0 1080.8M1168.3 1080.9L1176.2 1077.4M1204.1 1064.3L1201.3 1071.1M1204.1 1064.3L1225.0 1060.9M1169.3 1004.1L1176.7 1011.1M1192.6 994.7L1179.3 983.0M1192.6 994.7L1186.9 1008.8M1186.9 1008.8L1176.7 1011.1M1150.1 1020.1L1154.5 1025.4M1176.7 1011.1L1172.4 1024.2M1154.5 1025.4L1172.4 1024.2M1140.7 1045.5L1152.1 1043.3M1154.5 1025.4L1152.1 1043.3M1152.6 1073.9L1160.4 1049.4M1152.1 1043.3L1160.4 1049.4M1000.8 1008.9L982.2 1019.2M977.2 988.7L966.4 1002.7M982.2 1019.2L966.4 1002.7M985.5 1039.7L980.3 1032.1M982.2 1019.2L980.3 1032.1M948.2 1050.0L951.1 1034.6M980.3 1032.1L951.1 1034.6M1030.8 1117.7L1019.7 1129.1M1019.7 1129.1L1002.6 1123.3M1005.4 1104.1L1001.4 1108.5M1002.6 1123.3L1001.4 1108.5M1038.4 1176.1L1053.9 1173.4M1038.4 1176.1L1031.8 1149.8M1053.9 1173.4L1053.4 1149.2M1031.8 1149.8L1044.7 1144.3M1053.4 1149.2L1044.7 1144.3M1032.9 1181.8L1032.6 1189.0M1040.9 1201.4L1032.6 1189.0M1032.9 1181.8L1038.4 1176.1M1061.7 1176.7L1053.9 1173.4M1010.2 1172.0L1013.9 1152.6M1022.5 1147.3L1013.9 1152.6M1032.9 1181.8L1010.2 1172.0M1022.5 1147.3L1031.8 1149.8M1067.7 1146.6L1053.4 1149.2M1047.1 1124.6L1044.7 1144.3M1019.7 1129.1L1022.5 1147.3M988.8 1204.8L982.1 1217.4M988.8 1204.8L1002.7 1200.4M1002.7 1200.4L1008.1 1204.0M1003.5 1230.0L1008.8 1205.8M985.3 1230.0L982.1 1217.4M1008.8 1205.8L1008.1 1204.0M964.5 1212.2L982.1 1217.4M972.4 1191.0L988.8 1204.8M963.7 1197.4L972.4 1191.0M1032.6 1189.0L1008.1 1204.0M1010.2 1172.0L999.9 1178.0M999.9 1178.0L1002.7 1200.4M1028.8 1217.9L1008.8 1205.8M1013.9 1152.6L995.9 1145.8M1002.6 1123.3L992.7 1132.7M995.9 1145.8L992.7 1132.7M908.3 1223.8L913.6 1204.1M908.3 1223.8L883.9 1209.2M913.6 1204.1L899.5 1197.1M883.9 1209.2L899.5 1197.1M909.8 1230.0L908.3 1223.8M924.0 1199.8L913.6 1204.1M879.2 1230.0L883.4 1209.3M883.4 1209.3L883.9 1209.2M745.9 1147.7L750.8 1130.4M745.9 1147.7L732.7 1154.1M750.8 1130.4L729.0 1124.7M732.7 1154.1L721.3 1142.6M721.3 1142.6L721.3 1133.3M729.0 1124.7L721.3 1133.3M731.0 1162.2L732.7 1154.1M764.4 1164.9L764.3 1163.3M764.4 1164.9L745.3 1179.7M764.3 1163.3L745.9 1147.7M740.2 1099.9L727.2 1115.6M727.2 1115.6L729.0 1124.7M753.3 1107.6L740.2 1099.9M752.2 1129.5L750.8 1130.4M753.3 1107.6L752.2 1129.5M701.4 1152.9L721.3 1142.6M693.2 1130.9L701.8 1125.8M701.8 1125.8L721.3 1133.3M700.2 1152.7L693.2 1130.9M712.6 1107.5L727.2 1115.6M706.3 1110.2L701.8 1125.8M706.3 1110.2L712.6 1107.5M690.1 1130.1L680.4 1111.7M690.1 1130.1L668.7 1140.8M668.7 1140.8L666.6 1139.7M666.6 1139.7L660.4 1122.8M660.4 1122.8L666.4 1110.7M666.4 1110.7L680.4 1111.7M691.0 1100.8L706.3 1110.2M691.0 1100.8L680.4 1111.7M693.2 1130.9L690.1 1130.1M673.7 1155.4L668.7 1140.8M645.0 1147.8L666.6 1139.7M638.1 1122.8L660.4 1122.8M663.0 1103.8L666.4 1110.7M730.1 1069.5L742.6 1071.0M730.1 1069.5L721.7 1088.4M739.7 1098.5L721.7 1088.4M739.7 1098.5L748.8 1079.6M748.8 1079.6L742.6 1071.0M740.2 1099.9L739.7 1098.5M717.2 1089.9L721.7 1088.4M717.2 1089.9L712.6 1107.5M764.3 1102.6L768.1 1086.2M764.3 1102.6L753.3 1107.6M763.7 1081.3L748.8 1079.6M753.2 1053.0L742.6 1071.0M725.7 1064.2L731.8 1043.3M725.7 1064.2L709.6 1062.4M709.6 1062.4L705.4 1049.6M705.4 1049.6L715.5 1038.2M731.8 1043.3L715.5 1038.2M741.8 1038.7L731.8 1043.3M730.1 1069.5L725.7 1064.2M705.9 1083.8L703.0 1070.6M705.9 1083.8L690.7 1094.4M703.0 1070.6L684.1 1068.6M684.1 1068.6L679.4 1084.4M679.4 1084.4L690.7 1094.4M709.6 1062.4L703.0 1070.6M717.2 1089.9L705.9 1083.8M691.0 1100.8L690.7 1094.4M688.1 1044.3L705.4 1049.6M684.6 1046.2L688.1 1044.3M680.9 1063.1L684.1 1068.6M671.1 1086.8L679.4 1084.4M691.1 1205.1L677.1 1208.9M691.1 1205.1L702.1 1224.8M678.3 1230.0L676.5 1209.8M701.4 1230.0L702.1 1224.8M676.5 1209.8L677.1 1208.9M694.3 1200.5L691.1 1205.1M668.4 1186.6L677.1 1208.9M716.9 1210.9L702.1 1224.8M659.2 1211.9L676.5 1209.8M592.0 914.0L611.6 920.1M592.0 941.4L613.8 938.4M611.6 920.1L613.8 938.4M712.0 919.8L691.9 929.3M712.0 919.8L704.3 900.1M691.9 929.3L682.6 909.6M704.3 900.1L701.5 899.1M701.5 899.1L684.3 905.7M682.6 909.6L684.3 905.7M700.5 950.0L690.6 932.9M690.6 932.9L691.9 929.3M721.6 923.8L712.0 919.8M730.5 939.1L724.5 950.9M724.5 950.9L700.5 950.0M725.0 888.9L704.3 900.1M725.3 886.5L706.6 870.9M706.6 870.9L695.0 877.9M695.0 877.9L701.5 899.1M674.3 888.5L684.3 905.7M695.0 877.9L684.9 875.4M592.0 963.5L614.3 963.9M614.3 963.9L617.9 981.1M617.9 981.1L615.7 984.8M592.0 987.0L615.7 984.8M893.5 712.1L890.1 724.7M916.2 716.0L907.5 737.3M907.5 737.3L890.1 724.7M914.0 742.8L907.7 738.3M907.5 737.3L907.7 738.3M916.5 764.2L905.7 770.9M905.7 770.9L904.5 785.9M936.3 797.2L929.9 801.1M929.9 801.1L904.5 785.9M931.1 828.8L927.2 806.8M929.9 801.1L927.2 806.8M908.1 839.9L902.9 816.8M927.2 806.8L902.9 816.8M1193.7 761.7L1200.9 764.1M1193.7 761.7L1188.4 749.3M1200.9 764.1L1210.4 758.4M1210.4 758.4L1208.6 738.6M1188.4 749.3L1199.5 733.1M1208.6 738.6L1199.6 733.1M1199.6 733.1L1199.5 733.1M1177.4 773.1L1193.7 761.7M1205.3 783.5L1200.9 764.1M1174.1 746.2L1188.4 749.3M1225.0 760.9L1210.4 758.4M1225.0 735.9L1208.6 738.6M1182.9 722.0L1199.5 733.1M1209.6 716.1L1199.6 733.1M1192.6 994.7L1205.0 991.2M1185.4 968.7L1203.9 973.7M1203.9 973.7L1205.0 991.2M1200.8 1020.7L1186.9 1008.8M1209.5 1015.4L1200.8 1020.7M1209.5 1015.4L1208.0 993.1M1208.0 993.1L1205.0 991.2M1217.1 939.2L1225.0 939.9M1217.1 939.2L1203.6 948.8M1203.6 948.8L1212.0 966.6M1212.0 966.6L1225.0 967.2M1206.3 922.4L1217.1 939.2M1194.9 947.2L1203.6 948.8M1203.9 973.7L1212.0 966.6M1208.0 993.1L1225.0 991.4M1209.5 1015.4L1225.0 1017.8M658.9 1000.8L647.9 1004.0M658.9 1000.8L666.3 987.0M666.3 987.0L660.8 974.9M641.6 999.5L639.1 980.1M641.6 999.5L647.9 1004.0M660.8 974.9L652.7 971.7M652.7 971.7L644.4 973.3M639.1 980.1L644.4 973.3M645.6 1020.2L647.9 1004.0M674.6 1015.6L664.2 1030.6M674.6 1015.6L658.9 1000.8M692.6 974.3L684.9 989.3M684.9 989.3L666.3 987.0M688.9 964.2L677.3 961.3M677.3 961.3L660.8 974.9M692.6 974.3L688.9 964.2M804.3 1089.9L811.9 1100.0M824.9 1076.7L827.1 1096.6M811.9 1100.0L827.1 1096.6M850.5 1082.5L835.8 1101.9M827.1 1096.6L835.8 1101.9M867.3 1101.1L852.9 1110.9M852.9 1110.9L836.5 1103.8M835.8 1101.9L836.5 1103.8M840.3 969.7L838.4 967.4M823.6 994.9L819.4 990.3M819.4 990.3L822.2 973.2M822.2 973.2L837.0 967.0M838.4 967.4L837.0 967.0M873.5 914.6L867.1 930.6M885.9 914.2L894.3 931.6M867.1 930.6L875.6 938.3M875.6 938.3L894.3 931.6M906.8 928.7L895.0 931.9M894.3 931.6L895.0 931.9M902.6 957.4L897.6 955.9M902.6 957.4L921.3 945.9M921.3 945.9L922.1 941.9M895.0 931.9L897.6 955.9M905.7 770.9L890.3 762.3M907.7 738.3L889.6 752.0M890.3 762.3L889.6 752.0M880.6 824.4L873.8 822.9M880.6 824.4L897.0 814.3M873.8 822.9L867.1 811.8M897.0 814.3L890.8 794.7M867.1 811.8L869.2 803.1M869.2 803.1L887.3 793.8M887.3 793.8L890.8 794.7M860.3 839.2L873.8 822.9M890.2 844.9L880.6 824.4M902.9 816.8L897.0 814.3M843.9 826.7L846.4 815.1M846.4 815.1L867.1 811.8M904.5 785.9L890.8 794.7M874.9 772.8L890.3 762.3M874.9 772.8L887.3 793.8M803.4 1013.0L796.4 1004.1M819.4 990.3L803.0 990.6M803.0 990.6L796.4 1004.1M773.6 1026.2L783.2 1004.5M783.2 1004.5L796.4 1004.1M825.4 946.4L837.0 967.0M822.2 973.2L809.4 966.0M825.4 946.4L807.5 955.4M807.5 955.4L809.4 966.0M803.0 990.6L796.6 978.7M809.4 966.0L796.6 978.7M718.7 980.7L718.8 980.7M692.6 974.3L718.7 980.7M724.5 950.9L725.3 954.2M688.9 964.2L700.5 950.0M725.3 954.2L718.8 980.7M713.0 999.4L718.6 1010.9M713.0 999.4L689.7 999.8M711.2 1023.0L693.4 1024.3M711.2 1023.0L718.3 1013.3M718.3 1013.3L718.6 1010.9M693.4 1024.3L683.8 1013.8M683.8 1013.8L689.7 999.8M718.7 980.7L713.0 999.4M684.9 989.3L689.7 999.8M715.5 1038.2L711.2 1023.0M688.1 1044.3L693.4 1024.3M743.1 1034.1L741.9 1030.3M741.9 1030.3L718.3 1013.3M674.6 1015.6L683.8 1013.8M810.8 906.9L800.8 912.1M810.8 906.9L815.3 893.7M798.4 882.6L815.3 893.7M798.4 882.6L786.2 899.7M800.8 912.1L792.1 909.4M792.1 909.4L786.2 899.7M819.9 891.8L815.3 893.7M796.7 875.5L798.4 882.6M777.7 898.0L786.2 899.7M778.1 926.2L768.3 921.3M778.1 926.2L792.1 909.4M728.9 755.4L728.8 755.5M728.9 755.4L753.0 748.8M728.8 755.5L738.3 776.5M761.8 761.4L758.9 752.2M761.8 761.4L750.8 781.2M750.8 781.2L738.3 776.5M753.0 748.8L758.9 752.2M747.7 730.5L753.0 748.8M728.0 735.3L747.7 730.5M728.0 735.3L728.9 755.4M752.7 785.1L779.6 786.3M785.9 777.1L779.6 786.3M781.5 764.6L761.8 761.4M785.9 777.1L781.5 764.6M752.7 785.1L750.8 781.2M752.7 785.1L750.2 810.0M779.6 786.3L784.8 805.1M784.8 805.1L777.9 813.3M777.9 813.3L750.2 810.0M783.5 853.6L777.5 837.0M802.3 831.8L805.7 845.7M802.3 831.8L782.4 828.7M782.4 828.7L777.5 837.0M715.0 851.0L710.6 854.0M715.0 851.0L715.6 833.4M710.6 854.0L686.0 849.2M715.6 833.4L709.7 826.5M709.7 826.5L688.9 830.0M688.9 830.0L685.5 848.1M686.0 849.2L685.5 848.1M735.9 858.6L715.0 851.0M735.9 858.6L736.4 873.6M706.6 870.9L710.6 854.0M679.8 864.3L686.0 849.2M661.7 840.5L665.9 825.1M661.7 840.5L685.5 848.1M665.9 825.1L682.7 822.4M682.7 822.4L688.9 830.0M656.7 843.9L661.7 840.5M774.1 737.5L758.9 752.2M785.5 737.0L774.1 737.5M785.5 737.0L786.0 737.4M781.5 764.6L789.4 752.6M786.0 737.4L789.4 752.6M785.9 777.1L802.7 778.9M802.7 778.9L811.3 759.2M789.4 752.6L811.3 759.2M750.1 726.1L760.9 724.0M750.1 726.1L742.9 713.1M760.9 724.0L767.7 712.3M745.1 705.7L742.9 713.1M745.1 705.7L757.6 700.0M757.6 700.0L765.5 704.9M767.7 712.3L765.5 704.9M747.7 730.5L750.1 726.1M774.1 737.5L760.9 724.0M785.5 717.2L767.7 712.3M785.5 737.0L785.5 717.2M734.9 694.6L745.1 705.7M735.7 685.0L734.9 694.6M756.8 685.0L757.6 700.0M781.4 692.6L765.5 704.9M792.8 709.3L785.5 717.2M963.9 971.0L951.8 973.1M950.6 945.3L943.2 960.8M951.8 973.1L943.2 960.8M921.3 945.9L930.3 960.7M943.2 960.8L930.3 960.7M919.6 1001.7L926.5 982.8M919.6 1001.7L905.0 1000.2M905.0 1000.2L898.9 985.3M898.9 985.3L911.2 973.2M911.2 973.2L921.7 974.7M921.7 974.7L926.5 982.8M894.1 1011.9L905.0 1000.2M876.8 992.7L885.8 981.2M885.8 981.2L898.9 985.3M902.6 957.4L911.2 973.2M930.3 960.7L921.7 974.7M951.8 973.1L946.0 984.6M946.0 984.6L926.5 982.8M1177.8 1167.3L1178.7 1169.0M1152.7 1187.3L1174.3 1186.3M1178.7 1169.0L1174.3 1186.3M1204.6 1170.0L1201.5 1173.1M1178.7 1169.0L1201.5 1173.1M1153.6 1207.8L1174.6 1208.0M1153.6 1207.8L1158.0 1230.0M1174.6 1208.0L1174.3 1230.0M1152.4 1206.9L1153.6 1207.8M1225.0 1041.7L1211.2 1041.1M1200.8 1020.7L1199.6 1026.2M1199.6 1026.2L1211.2 1041.1M1204.1 1064.3L1200.5 1052.9M1200.5 1052.9L1211.2 1041.1M949.5 1031.4L959.8 1003.6M949.5 1031.4L927.4 1020.8M927.4 1020.8L926.7 1010.2M926.7 1010.2L950.5 997.6M950.5 997.6L959.8 1003.6M966.4 1002.7L959.8 1003.6M951.1 1034.6L949.5 1031.4M908.5 1037.8L927.4 1020.8M919.6 1001.7L926.7 1010.2M946.0 984.6L950.5 997.6M964.2 1151.7L961.9 1171.1M964.2 1151.7L965.3 1150.6M965.3 1150.6L985.2 1157.2M961.9 1171.1L974.7 1181.7M985.2 1157.2L989.2 1174.0M974.7 1181.7L989.2 1174.0M939.7 1153.0L964.2 1151.7M939.7 1153.0L941.5 1174.3M945.7 1177.1L961.9 1171.1M948.4 1126.2L966.0 1139.4M966.0 1139.4L965.3 1150.6M938.9 1129.1L948.4 1126.2M934.2 1148.3L939.7 1153.0M966.0 1139.4L978.3 1128.5M992.7 1132.7L978.3 1128.5M995.9 1145.8L985.2 1157.2M972.4 1191.0L974.7 1181.7M999.9 1178.0L989.2 1174.0M660.2 888.5L654.4 895.5M630.5 879.8L635.0 892.5M654.4 895.5L635.0 892.5M606.9 894.0L624.6 907.7M635.0 892.5L624.6 907.7M611.6 920.1L624.6 907.8M624.6 907.7L624.6 907.8M621.2 1003.5L619.7 1002.2M621.2 1003.5L622.0 1020.5M619.7 1002.2L592.0 1008.1M592.0 1009.3L612.2 1026.5M612.2 1026.5L622.0 1020.5M615.7 984.8L619.7 1002.2M617.9 981.1L639.1 980.1M641.6 999.5L621.2 1003.5M635.6 1027.2L622.0 1020.5M609.7 1033.3L612.2 1026.5M614.3 963.9L620.7 955.6M613.8 938.4L615.7 939.7M615.7 939.7L620.7 955.6M644.4 973.3L631.4 957.0M620.7 955.6L631.4 957.0M850.0 762.9L846.1 780.6M850.0 762.9L862.8 760.1M862.8 760.1L874.8 772.8M874.8 772.8L856.5 788.1M846.1 780.6L851.8 787.6M851.8 787.6L856.5 788.1M874.9 772.8L874.8 772.8M869.2 803.1L856.5 788.1M846.4 815.1L840.1 805.5M840.1 805.5L851.8 787.6M821.5 789.0L808.6 787.7M821.5 789.0L828.7 803.7M808.6 787.7L799.1 804.2M828.7 803.7L815.1 819.1M799.1 804.2L812.5 819.3M812.5 819.3L815.1 819.1M829.5 779.3L821.5 789.0M829.5 779.3L846.1 780.6M840.1 805.5L828.7 803.7M802.7 778.9L808.6 787.7M784.8 805.1L799.1 804.2M831.2 832.9L815.1 819.1M777.9 813.3L782.4 828.7M802.3 831.8L812.5 819.3M776.4 1133.5L779.3 1137.9M776.4 1133.5L780.8 1114.0M779.3 1137.9L807.6 1129.8M780.8 1114.0L786.9 1110.0M786.9 1110.0L806.7 1114.4M807.6 1129.8L810.0 1120.7M810.0 1120.7L806.7 1114.4M764.3 1163.3L779.4 1139.4M752.2 1129.5L776.4 1133.5M779.4 1139.4L779.3 1137.9M764.3 1102.6L780.8 1114.0M795.6 1156.2L812.5 1150.1M795.6 1156.2L779.4 1139.4M814.3 1143.0L807.6 1129.8M814.3 1143.0L812.5 1150.1M789.4 1091.2L786.9 1110.0M811.9 1100.0L806.7 1114.4M829.3 1119.4L836.5 1103.8M829.3 1119.4L810.0 1120.7M803.1 1189.9L805.4 1178.3M803.1 1189.9L782.7 1194.7M805.4 1178.3L793.4 1167.9M793.4 1167.9L776.8 1175.0M776.8 1175.0L777.4 1189.8M777.4 1189.8L782.7 1194.7M810.3 1199.6L803.1 1189.9M808.2 1208.7L810.3 1199.6M783.9 1207.3L782.7 1194.7M819.3 1159.8L816.1 1173.7M819.3 1159.8L812.5 1150.1M816.1 1173.7L805.4 1178.3M795.6 1156.2L793.4 1167.9M764.4 1164.9L776.8 1175.0M759.8 1196.5L777.4 1189.8M829.7 1195.0L834.4 1185.7M829.7 1195.0L834.9 1210.5M834.9 1210.5L854.6 1212.2M834.7 1185.5L855.6 1190.2M834.7 1185.5L834.4 1185.7M855.6 1190.2L858.3 1207.1M854.6 1212.2L858.3 1207.1M816.1 1173.7L834.4 1185.7M810.3 1199.6L829.7 1195.0M826.0 1223.7L834.9 1210.5M856.8 1230.0L854.6 1212.2M875.2 1179.9L867.6 1178.3M867.6 1178.3L855.6 1190.2M881.5 1208.0L875.2 1179.9M881.5 1208.0L858.3 1207.1M883.4 1209.3L881.5 1208.0M890.7 1155.2L884.4 1177.0M890.7 1155.2L913.2 1159.8M913.2 1159.8L914.7 1173.1M914.7 1173.1L897.9 1183.2M897.9 1183.2L884.4 1177.0M918.9 1151.8L913.2 1159.8M921.9 1178.6L914.7 1173.1M899.5 1197.1L897.9 1183.2M875.2 1179.9L884.4 1177.0M823.3 931.0L826.9 920.2M823.3 931.0L827.6 940.0M827.6 940.0L849.3 939.2M826.9 920.2L836.7 914.2M836.7 914.2L847.6 918.8M847.6 918.8L853.4 932.0M853.4 932.0L849.3 939.2M803.8 930.7L823.3 931.0M803.8 930.7L800.8 912.1M810.8 906.9L826.9 920.2M825.4 946.4L827.6 940.0M852.3 950.1L849.3 939.2M852.3 950.1L838.4 967.4M836.2 899.9L836.7 914.2M863.6 903.5L847.6 918.8M867.1 930.6L853.4 932.0M868.0 957.1L874.5 952.3M868.0 957.1L867.1 968.2M874.5 952.3L892.1 958.2M867.1 968.2L885.0 979.1M885.0 979.1L892.1 958.2M852.3 950.1L868.0 957.1M875.6 938.3L874.5 952.3M859.0 975.1L867.1 968.2M897.6 955.9L892.1 958.2M885.8 981.2L885.0 979.1M878.7 743.3L866.5 746.5M878.7 743.3L882.1 728.3M882.1 728.3L868.1 719.9M857.4 737.3L866.5 746.5M857.4 737.3L863.4 721.8M863.4 721.8L868.1 719.9M889.6 752.0L878.7 743.3M862.8 760.1L866.5 746.5M890.1 724.7L882.1 728.3M872.3 705.8L868.1 719.9M847.7 713.2L847.2 706.1M847.7 713.2L863.4 721.8M778.1 926.2L780.8 932.4M803.8 930.7L799.9 935.1M780.8 932.4L799.9 935.1M807.5 955.4L801.9 951.4M799.9 935.1L801.9 951.4M783.2 1004.5L773.5 992.6M796.6 978.7L786.1 976.1M786.1 976.1L773.5 992.6M626.1 772.3L629.8 776.8M607.0 792.7L617.1 799.3M629.8 776.8L624.9 796.5M617.1 799.3L624.9 796.5M592.0 812.5L612.2 816.7M617.1 799.3L612.2 816.7M598.0 839.3L613.0 818.3M622.9 838.1L621.3 823.6M621.3 823.6L613.0 818.3M613.0 818.3L612.2 816.7M723.9 716.7L721.3 703.1M723.9 716.7L718.8 726.1M718.8 726.1L709.7 727.3M709.7 727.3L695.9 710.2M695.9 710.2L712.2 697.4M721.3 703.1L712.2 697.4M734.9 694.6L721.3 703.1M742.9 713.1L723.9 716.7M728.0 735.3L718.8 726.1M701.2 752.1L698.8 741.9M701.2 752.1L711.0 759.0M711.0 759.0L728.8 755.5M698.8 741.9L709.7 727.3M698.8 741.9L677.7 734.8M691.3 709.1L695.9 710.2M679.5 714.2L691.3 709.1M679.5 714.2L677.7 734.8M691.3 709.1L688.7 685.0M710.5 685.0L712.2 697.4M763.3 839.4L745.0 823.5M763.3 839.4L757.9 856.1M738.8 856.5L744.7 823.9M738.8 856.5L757.9 856.1M744.7 823.9L745.0 823.5M777.5 837.0L763.3 839.4M750.2 810.0L747.1 813.0M747.1 813.0L745.0 823.5M765.9 863.9L757.9 856.1M715.6 833.4L744.7 823.9M735.9 858.6L738.8 856.5M708.7 780.0L722.0 785.6M708.7 780.0L700.1 784.5M700.1 784.5L702.1 805.1M722.0 785.6L723.3 804.0M723.3 804.0L710.3 810.8M710.3 810.8L702.1 805.1M738.3 776.5L722.0 785.6M711.0 759.0L708.7 780.0M683.5 765.9L693.7 782.9M683.5 765.9L701.2 752.1M693.7 782.9L700.1 784.5M676.1 798.6L677.0 794.1M693.7 782.9L677.0 794.1M685.2 809.4L702.1 805.1M685.2 809.4L676.1 798.6M747.1 813.0L723.3 804.0M709.7 826.5L710.3 810.8M682.7 822.4L685.2 809.4M829.5 779.3L825.2 763.9M850.0 762.9L841.9 756.3M841.9 756.3L825.2 763.9M857.4 737.3L841.1 738.9M841.9 756.3L841.1 738.9M811.3 759.2L814.2 757.7M825.2 763.9L814.2 757.7M1180.9 1196.3L1201.2 1187.7M1180.9 1196.3L1180.2 1203.0M1180.2 1203.0L1195.9 1213.6M1211.0 1197.4L1201.2 1187.7M1211.0 1197.4L1204.2 1210.5M1204.2 1210.5L1195.9 1213.6M1174.3 1186.3L1180.9 1196.3M1201.5 1173.1L1201.2 1187.7M1174.6 1208.0L1180.2 1203.0M1192.3 1230.0L1195.9 1213.6M1225.0 1196.2L1211.0 1197.4M1222.7 1230.0L1204.2 1210.5M1177.5 1032.9L1165.3 1049.1M1177.5 1032.9L1186.5 1035.2M1186.5 1035.2L1190.6 1049.4M1190.6 1049.4L1178.3 1058.9M1178.3 1058.9L1165.3 1049.1M1160.4 1049.4L1165.3 1049.1M1172.4 1024.2L1177.5 1032.9M1199.6 1026.2L1186.5 1035.2M1200.5 1052.9L1190.6 1049.4M1179.7 1072.6L1178.3 1058.9M954.6 1101.6L956.9 1108.6M954.6 1101.6L978.6 1086.1M956.9 1108.6L975.2 1115.7M975.2 1115.7L984.6 1105.3M978.6 1086.1L984.6 1105.3M949.9 1098.1L954.6 1101.6M948.4 1126.2L956.9 1108.6M979.3 1084.0L978.6 1086.1M978.3 1128.5L975.2 1115.7M1001.4 1108.5L984.6 1105.3M639.7 921.8L656.7 911.8M639.7 921.8L639.1 929.1M639.1 929.1L647.6 941.7M664.0 915.9L668.2 939.6M664.0 915.9L656.7 911.8M647.6 941.7L655.1 944.2M655.1 944.2L667.1 941.2M668.2 939.6L667.1 941.2M654.4 895.5L656.7 911.8M624.6 907.8L639.7 921.8M615.7 939.7L639.1 929.1M631.4 957.0L647.6 941.7M690.6 932.9L668.2 939.6M682.6 909.6L664.0 915.9M652.7 971.7L655.1 944.2M677.3 961.3L667.1 941.2M895.0 1132.1L887.3 1150.1M895.0 1132.1L878.7 1121.4M878.7 1121.4L864.1 1132.9M864.1 1132.9L877.2 1149.2M887.3 1150.1L877.2 1149.2M906.6 1128.0L895.0 1132.1M890.7 1155.2L887.3 1150.1M878.5 1110.7L878.7 1121.4M867.6 1178.3L861.4 1164.9M861.4 1164.9L877.2 1149.2M854.4 1129.4L837.5 1132.9M854.4 1129.4L859.8 1132.8M859.8 1132.8L851.6 1159.7M834.9 1137.8L837.5 1132.9M834.9 1137.8L841.1 1158.9M851.6 1159.7L842.9 1160.2M841.1 1158.9L842.9 1160.2M829.3 1119.4L837.5 1132.9M852.9 1110.9L854.4 1129.4M864.1 1132.9L859.8 1132.8M861.4 1164.9L851.6 1159.7M814.3 1143.0L834.9 1137.8M819.3 1159.8L841.1 1158.9M834.7 1185.5L842.9 1160.2M785.1 956.7L776.4 943.5M785.1 956.7L781.5 966.6M781.5 966.6L759.7 965.8M776.4 943.5L760.0 947.6M760.0 947.6L759.7 965.8M801.9 951.4L785.1 956.7M780.8 932.4L776.4 943.5M786.1 976.1L781.5 966.6M747.8 936.6L760.0 947.6M725.3 954.2L754.5 971.4M754.5 971.4L759.7 965.8M767.6 992.2L754.1 975.5M767.6 992.2L754.5 1006.2M754.1 975.5L739.2 987.0M739.2 987.0L742.6 1002.9M742.6 1002.9L748.4 1006.8M754.5 1006.2L748.4 1006.8M754.5 971.4L754.1 975.5M773.5 992.6L767.6 992.2M771.8 1025.7L754.5 1006.2M718.8 980.7L739.2 987.0M718.6 1010.9L742.6 1002.9M741.9 1030.3L748.4 1006.8M649.9 778.9L650.9 780.0M649.9 778.9L652.2 756.7M650.9 780.0L667.1 779.2M667.1 779.2L677.2 764.9M652.2 756.7L671.2 757.0M677.2 764.9L671.2 757.0M641.5 744.8L652.2 756.7M639.1 745.0L641.5 744.8M629.8 776.8L649.9 778.9M677.0 794.1L667.1 779.2M683.5 765.9L677.2 764.9M641.5 744.8L651.3 733.4M651.3 733.4L676.0 736.0M676.0 736.0L671.2 757.0M676.0 736.0L677.7 734.8M650.4 793.8L662.8 803.9M650.4 793.8L637.3 803.5M637.3 803.5L639.6 817.4M659.3 816.9L641.6 818.9M659.3 816.9L662.8 803.9M641.6 818.9L639.6 817.4M650.9 780.0L650.4 793.8M676.1 798.6L662.8 803.9M624.9 796.5L637.3 803.5M621.3 823.6L639.6 817.4M644.1 841.2L641.6 818.9M665.9 825.1L659.3 816.9M648.3 712.4L650.5 715.2M648.3 712.4L663.2 685.0M650.5 715.2L676.7 712.5M664.6 685.0L676.7 712.5M637.5 708.6L648.3 712.4M651.3 733.4L650.5 715.2M679.5 714.2L676.7 712.5M837.9 723.4L821.6 713.7M837.9 723.4L838.6 736.9M838.6 736.9L817.7 740.9M812.4 718.7L821.6 713.7M812.4 718.7L810.6 732.0M810.6 732.0L817.7 740.9M824.7 704.0L821.6 713.7M847.7 713.2L837.9 723.4M841.1 738.9L838.6 736.9M814.2 757.7L817.7 740.9M798.9 708.7L812.4 718.7M786.0 737.4L810.6 732.0" stroke="#4cbb5c" stroke-width="2.7" fill="none" stroke-linecap="round"/>
</g>
</svg>
</body></html>
